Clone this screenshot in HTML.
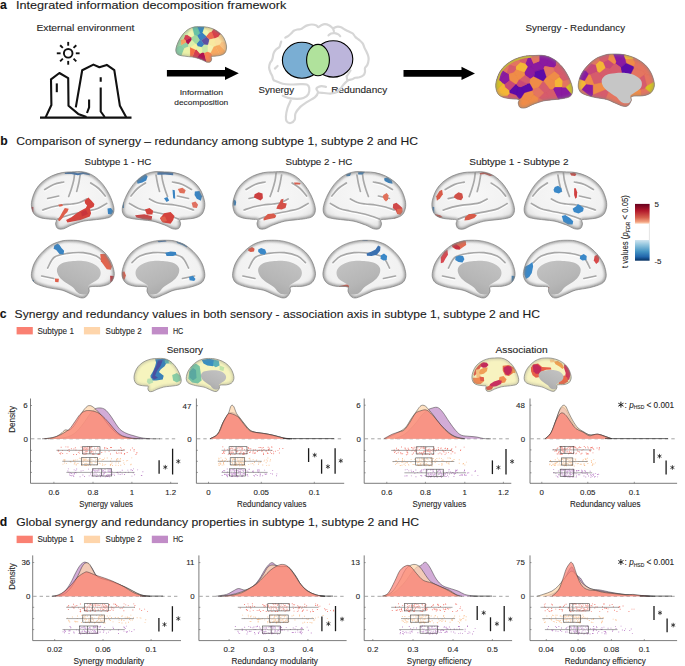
<!DOCTYPE html>
<html><head><meta charset="utf-8"><style>
html,body{margin:0;padding:0;background:#fff;}
svg{display:block;}
text{font-family:"Liberation Sans", sans-serif;stroke:#1e1e1e;stroke-width:0.1px;}
</style></head><body>
<svg width="685" height="666" viewBox="0 0 685 666">
<rect width="685" height="666" fill="#fff"/>
<text x="0" y="8.9" font-size="12.2" font-weight="bold" fill="#111">a</text>
<text x="16" y="8.9" font-size="11" textLength="270.3" lengthAdjust="spacingAndGlyphs" fill="#1a1a1a">Integrated information decomposition framework</text>
<text x="0.3" y="144.5" font-size="12.2" font-weight="bold" fill="#111">b</text>
<text x="16.3" y="144.8" font-size="11" textLength="401.7" lengthAdjust="spacingAndGlyphs" fill="#1a1a1a">Comparison of synergy – redundancy among subtype 1, subtype 2 and HC</text>
<text x="-0.3" y="318.1" font-size="12.2" font-weight="bold" fill="#111">c</text>
<text x="14.6" y="318" font-size="11" textLength="525.4" lengthAdjust="spacingAndGlyphs" fill="#1a1a1a">Synergy and redundancy values in both sensory - association axis in subtype 1, subtype 2 and HC</text>
<text x="-0.3" y="525.7" font-size="12.2" font-weight="bold" fill="#111">d</text>
<text x="16.3" y="525.7" font-size="11" textLength="402.7" lengthAdjust="spacingAndGlyphs" fill="#1a1a1a">Global synergy and redundancy properties in subtype 1, subtype 2 and HC</text>
<text x="36.4" y="31" font-size="9.2" textLength="97.9" lengthAdjust="spacingAndGlyphs" fill="#262626">External environment</text>
<text x="179.7" y="94.7" font-size="7.4" textLength="43.4" lengthAdjust="spacingAndGlyphs" fill="#262626">Information</text>
<text x="174.3" y="104.9" font-size="7.4" textLength="53.9" lengthAdjust="spacingAndGlyphs" fill="#262626">decomposition</text>
<text x="258.5" y="92.8" font-size="9.0" textLength="35.5" lengthAdjust="spacingAndGlyphs" fill="#262626">Synergy</text>
<text x="331.2" y="93" font-size="9.0" textLength="56" lengthAdjust="spacingAndGlyphs" fill="#262626">Redundancy</text>
<text x="525.5" y="30.8" font-size="9.5" textLength="99.6" lengthAdjust="spacingAndGlyphs" fill="#262626">Synergy - Redundancy</text>
<text x="84.6" y="165.1" font-size="9.6" textLength="66.7" lengthAdjust="spacingAndGlyphs" fill="#262626">Subtype 1 - HC</text>
<text x="285.4" y="165.1" font-size="9.6" textLength="66.9" lengthAdjust="spacingAndGlyphs" fill="#262626">Subtype 2 - HC</text>
<text x="469.2" y="165.1" font-size="9.6" textLength="99.3" lengthAdjust="spacingAndGlyphs" fill="#262626">Subtype 1 - Subtype 2</text>
<rect x="16.6" y="327" width="16.2" height="7.4" fill="#fa8072"/>
<text x="37.4" y="333.6" font-size="8.4" textLength="36.5" lengthAdjust="spacingAndGlyphs" fill="#262626">Subtype 1</text>
<rect x="83.9" y="327" width="16.2" height="7.4" fill="#fed5ab"/>
<text x="105.6" y="333.6" font-size="8.4" textLength="36" lengthAdjust="spacingAndGlyphs" fill="#262626">Subtype 2</text>
<rect x="151.8" y="327" width="16.2" height="7.4" fill="#c18cc7"/>
<text x="172.9" y="333.6" font-size="8.4" textLength="10.4" lengthAdjust="spacingAndGlyphs" fill="#262626">HC</text>
<rect x="16.6" y="535.7" width="16.2" height="7.4" fill="#fa8072"/>
<text x="37.4" y="542.3" font-size="8.4" textLength="36.5" lengthAdjust="spacingAndGlyphs" fill="#262626">Subtype 1</text>
<rect x="83.9" y="535.7" width="16.2" height="7.4" fill="#fed5ab"/>
<text x="105.6" y="542.3" font-size="8.4" textLength="36" lengthAdjust="spacingAndGlyphs" fill="#262626">Subtype 2</text>
<rect x="151.8" y="535.7" width="16.2" height="7.4" fill="#c18cc7"/>
<text x="172.9" y="542.3" font-size="8.4" textLength="10.4" lengthAdjust="spacingAndGlyphs" fill="#262626">HC</text>
<text x="166.8" y="352.5" font-size="9.0" textLength="36.1" lengthAdjust="spacingAndGlyphs" fill="#262626">Sensory</text>
<text x="495.5" y="352.5" font-size="9.0" textLength="52.2" lengthAdjust="spacingAndGlyphs" fill="#262626">Association</text>
<g stroke="#111" stroke-width="1.9" fill="none" stroke-linecap="butt">
<circle cx="68.2" cy="53.3" r="4.3"/>
<line x1="75.8" y1="53.3" x2="79.6" y2="53.3"/>
<line x1="73.57" y1="58.67" x2="76.26" y2="61.36"/>
<line x1="68.2" y1="60.9" x2="68.2" y2="64.7"/>
<line x1="62.83" y1="58.67" x2="60.14" y2="61.36"/>
<line x1="60.6" y1="53.3" x2="56.8" y2="53.3"/>
<line x1="62.83" y1="47.93" x2="60.14" y2="45.24"/>
<line x1="68.2" y1="45.7" x2="68.2" y2="41.9"/>
<line x1="73.57" y1="47.93" x2="76.26" y2="45.24"/>
</g>
<g stroke="#111" stroke-width="2.1" fill="none" stroke-linejoin="round" stroke-linecap="butt">
<line x1="40" y1="117.6" x2="131.5" y2="117.6"/>
<path d="M45.6,117.4 L51.4,105 L51,79.3 L59.4,73 L68.2,78.2 L68.5,105.8 L78.2,113.9 L86.5,116.9"/>
<path d="M56.8,83.4 L56.8,92.2"/>
<path d="M75.8,107.4 L82.2,70.2 L93.4,64.6 L99.4,67.3 L106.8,64.9 L114.3,70.2 L119.9,105.8 L126.2,117.3"/>
<path d="M100.7,77.3 L100.7,81.8 M100.7,87.4 L100.7,111.5 L104.7,117"/>
<path d="M89.1,99.4 L89.1,107.4 L87,113"/>
</g>
<path d="M166.9,70 L225.0,70 L225.0,66.7 L238.8,73.3 L225.0,79.9 L225.0,76.6 L166.9,76.6Z" fill="#000"/>
<path d="M403.5,70.1 L461.5,70.1 L461.5,66.8 L475.0,73.4 L461.5,80 L461.5,76.7 L403.5,76.7Z" fill="#000"/>
<g stroke="#d6d6d6" stroke-width="2.2" fill="none" stroke-linecap="round" stroke-linejoin="round">
<path d="M285.3,37.6 C285.82,37.3 287.43,36.48 288.4,35.8 C289.37,35.12 290.2,34.33 291.1,33.5 C292,32.67 292.75,31.47 293.8,30.8 C294.85,30.13 296.2,29.8 297.4,29.5 C298.6,29.2 299.95,29.38 301,29 C302.05,28.62 302.65,27.8 303.7,27.2 C304.75,26.6 305.95,25.85 307.3,25.4 C308.65,24.95 310.28,24.5 311.8,24.5 C313.32,24.5 315.33,24.95 316.4,25.4 C317.47,25.85 317.45,27.2 318.2,27.2 C318.95,27.2 319.78,25.92 320.9,25.4 C322.02,24.88 323.48,24.1 324.9,24.1 C326.32,24.1 328.05,24.73 329.4,25.4 C330.75,26.07 331.8,27.87 333,28.1 C334.2,28.33 335.25,26.95 336.6,26.8 C337.95,26.65 339.75,26.75 341.1,27.2 C342.45,27.65 343.5,28.82 344.7,29.5 C345.9,30.18 346.95,30.63 348.3,31.3 C349.65,31.97 351.6,32.53 352.8,33.5 C354,34.47 354.45,36.05 355.5,37.1 C356.55,38.15 357.9,38.75 359.1,39.8 C360.3,40.85 361.8,42.05 362.7,43.4 C363.6,44.75 363.88,46.55 364.5,47.9 C365.12,49.25 365.78,50.15 366.4,51.5 C367.02,52.85 367.83,54.65 368.2,56 C368.57,57.35 368.73,58.13 368.6,59.6 C368.47,61.07 368,63.4 367.4,64.8 C366.8,66.2 365.4,66.8 365,68 C364.6,69.2 365.27,70.78 365,72 C364.73,73.22 364.33,74.42 363.4,75.3 C362.47,76.18 360.75,76.9 359.4,77.3 C358.05,77.7 356.52,77.37 355.3,77.7 C354.08,78.03 353.17,78.9 352.1,79.3 C351.03,79.7 349.83,79.7 348.9,80.1 C347.97,80.5 347.43,80.9 346.5,81.7 C345.57,82.5 344.23,83.83 343.3,84.9 C342.37,85.97 341.95,86.92 340.9,88.1 C339.85,89.28 338.65,91.1 337,92 C335.35,92.9 333.17,93.33 331,93.5 C328.83,93.67 326.17,93.17 324,93 C321.83,92.83 319,92.58 318,92.5"/>
<path d="M281.2,41.6 C281.05,42.05 280.6,43.4 280.3,44.3 C280,45.2 280.15,46.1 279.4,47 C278.65,47.9 276.77,48.65 275.8,49.7 C274.83,50.75 274.12,51.95 273.6,53.3 C273.08,54.65 273,56.6 272.7,57.8 C272.4,59 272.25,59.6 271.8,60.5 C271.35,61.4 270.45,62 270,63.2 C269.55,64.4 269.03,66.18 269.1,67.7 C269.17,69.22 269.88,70.93 270.4,72.3 C270.92,73.67 271.67,74.62 272.2,75.9 C272.73,77.18 272.93,79.12 273.6,80 C274.27,80.88 274.68,80.58 276.2,81.2 C277.72,81.82 280.28,83.15 282.7,83.7 C285.12,84.25 287.77,84.43 290.7,84.5 C293.63,84.57 297.62,84.1 300.3,84.1 C302.98,84.1 305.32,83.9 306.8,84.5 C308.28,85.1 308.93,86.1 309.2,87.7 C309.47,89.3 309.35,92.37 308.4,94.1 C307.45,95.83 305.38,97.3 303.5,98.1 C301.62,98.9 299.5,98.9 297.1,98.9 C294.7,98.9 291.5,98.63 289.1,98.1 C286.7,97.57 283.77,96.1 282.7,95.7"/>
<path d="M290.7,100.5 C290.17,101.75 288.3,105.32 287.5,108 C286.7,110.68 286.03,114.37 285.9,116.6 C285.77,118.83 285.9,120.33 286.7,121.4 C287.5,122.47 289.37,123.27 290.7,123 C292.03,122.73 293.9,121.4 294.7,119.8 C295.5,118.2 294.57,115.55 295.5,113.4 C296.43,111.25 298.42,108.78 300.3,106.9 C302.18,105.02 304.38,103.7 306.8,102.1 C309.22,100.5 312.93,98.9 314.8,97.3 C316.67,95.7 317.73,93.97 318,92.5 C318.27,91.03 315.87,89.57 316.4,88.5 C316.93,87.43 319.6,86.37 321.2,86.1 C322.8,85.83 325.2,86.77 326,86.9"/>
<path d="M328.5,35.3 C328.95,35 330.15,33.87 331.2,33.5 C332.25,33.13 333.6,32.95 334.8,33.1 C336,33.25 337.5,33.88 338.4,34.4 C339.3,34.92 339.9,35.9 340.2,36.2"/>
<path d="M333,28.1 L333.9,31.3 M346.5,76.1 L347.3,80.1 M277.6,66 L274.9,68.6 M350.5,70.5 L347,76"/>
</g>
<g stroke="#000" stroke-width="1.1">
<ellipse cx="301.9" cy="60.3" rx="19.5" ry="18" fill="#7aaed3"/>
<ellipse cx="333.2" cy="58.9" rx="19.6" ry="18.2" fill="#bcb5db"/>
<ellipse cx="318" cy="60.1" rx="11.4" ry="15.7" fill="#b0e29c"/>
</g>
<defs>
<filter id="bl1" x="-10%" y="-10%" width="120%" height="120%"><feGaussianBlur stdDeviation="0.9"/></filter>
<filter id="bl05" x="-10%" y="-10%" width="120%" height="120%"><feGaussianBlur stdDeviation="0.5"/></filter>
<filter id="bl07" x="-10%" y="-10%" width="120%" height="120%"><feGaussianBlur stdDeviation="0.7"/></filter>
<linearGradient id="mwg" x1="0.8" y1="0" x2="0.2" y2="1"><stop offset="0" stop-color="#c2c2c2"/><stop offset="0.6" stop-color="#b6b6b6"/><stop offset="1" stop-color="#a6a6a6"/></linearGradient>
<linearGradient id="mwgm" x1="0.2" y1="0" x2="0.8" y2="1"><stop offset="0" stop-color="#c2c2c2"/><stop offset="0.6" stop-color="#b6b6b6"/><stop offset="1" stop-color="#a6a6a6"/></linearGradient>
<radialGradient id="bg" cx="50%" cy="40%" r="62%"><stop offset="0" stop-color="#f7f7f7"/><stop offset="0.75" stop-color="#f1f1f1"/><stop offset="1" stop-color="#dcdcdc"/></radialGradient>
<linearGradient id="cbar" x1="0" y1="0" x2="0" y2="1"><stop offset="0" stop-color="#67001f"/><stop offset="0.12" stop-color="#b2182b"/><stop offset="0.24" stop-color="#d6604d"/><stop offset="0.32" stop-color="#f4a582"/><stop offset="0.345" stop-color="#fddbc7"/><stop offset="0.346" stop-color="#ffffff"/><stop offset="0.63" stop-color="#ffffff"/><stop offset="0.635" stop-color="#d1e5f0"/><stop offset="0.72" stop-color="#92c5de"/><stop offset="0.84" stop-color="#4393c3"/><stop offset="0.93" stop-color="#2166ac"/><stop offset="1" stop-color="#053061"/></linearGradient>
</defs>
<clipPath id="cb1"><path d="M71.4,171.9 C74.9,171.78 79.48,171.23 83.2,171.9 C86.92,172.57 90.42,173.82 93.7,175.9 C96.98,177.98 100.27,181.23 102.9,184.4 C105.53,187.57 107.75,191.4 109.5,194.9 C111.25,198.4 112.7,202.55 113.4,205.4 C114.1,208.25 114.13,210.13 113.7,212 C113.27,213.87 112.38,215.5 110.8,216.6 C109.22,217.7 107.05,218.05 104.2,218.6 C101.35,219.15 97.2,219.47 93.7,219.9 C90.2,220.33 86.92,220.33 83.2,221.2 C79.48,222.07 74.68,223.83 71.4,225.1 C68.12,226.37 65.8,228.25 63.5,228.8 C61.2,229.35 58.92,229.23 57.6,228.4 C56.28,227.57 55.83,225.22 55.6,223.8 C55.37,222.38 57.08,220.67 56.2,219.9 C55.32,219.13 52.82,219.53 50.3,219.2 C47.78,218.87 43.72,218.67 41.1,217.9 C38.48,217.13 36.17,216.25 34.6,214.6 C33.03,212.95 32.15,210.4 31.7,208 C31.25,205.6 31.2,203.27 31.9,200.2 C32.6,197.13 34.13,192.67 35.9,189.6 C37.67,186.53 39.87,184.08 42.5,181.8 C45.13,179.52 48.42,177.43 51.7,175.9 C54.98,174.37 58.92,173.27 62.2,172.6 C65.48,171.93 67.9,172.02 71.4,171.9Z"/></clipPath>
<path d="M71.4,171.9 C74.9,171.78 79.48,171.23 83.2,171.9 C86.92,172.57 90.42,173.82 93.7,175.9 C96.98,177.98 100.27,181.23 102.9,184.4 C105.53,187.57 107.75,191.4 109.5,194.9 C111.25,198.4 112.7,202.55 113.4,205.4 C114.1,208.25 114.13,210.13 113.7,212 C113.27,213.87 112.38,215.5 110.8,216.6 C109.22,217.7 107.05,218.05 104.2,218.6 C101.35,219.15 97.2,219.47 93.7,219.9 C90.2,220.33 86.92,220.33 83.2,221.2 C79.48,222.07 74.68,223.83 71.4,225.1 C68.12,226.37 65.8,228.25 63.5,228.8 C61.2,229.35 58.92,229.23 57.6,228.4 C56.28,227.57 55.83,225.22 55.6,223.8 C55.37,222.38 57.08,220.67 56.2,219.9 C55.32,219.13 52.82,219.53 50.3,219.2 C47.78,218.87 43.72,218.67 41.1,217.9 C38.48,217.13 36.17,216.25 34.6,214.6 C33.03,212.95 32.15,210.4 31.7,208 C31.25,205.6 31.2,203.27 31.9,200.2 C32.6,197.13 34.13,192.67 35.9,189.6 C37.67,186.53 39.87,184.08 42.5,181.8 C45.13,179.52 48.42,177.43 51.7,175.9 C54.98,174.37 58.92,173.27 62.2,172.6 C65.48,171.93 67.9,172.02 71.4,171.9Z" fill="url(#bg)"/>
<g clip-path="url(#cb1)">
<g filter="url(#bl07)" stroke="#ffffff" stroke-width="1.6" stroke-opacity="0.9" fill="none" stroke-linecap="round">
<path d="M42.7,211.3 C44.2,210.8 48.53,209.13 51.7,208.3 C54.87,207.47 58.37,206.8 61.7,206.3 C65.03,205.8 68.7,205.72 71.7,205.3 C74.7,204.88 77.2,204.63 79.7,203.8 C82.2,202.97 85.53,200.88 86.7,200.3"/>
<path d="M57.7,220.3 C59.37,219.72 64.37,217.8 67.7,216.8 C71.03,215.8 74.37,215.05 77.7,214.3 C81.03,213.55 84.37,213.05 87.7,212.3 C91.03,211.55 94.53,211.05 97.7,209.8 C100.87,208.55 105.2,205.63 106.7,204.8"/>
<path d="M74.7,174.3 C74.53,175.55 74.28,179.05 73.7,181.8 C73.12,184.55 72.03,188.13 71.2,190.8 C70.37,193.47 69.12,196.63 68.7,197.8"/>
<path d="M80.2,176.3 C79.95,177.72 79.28,182.05 78.7,184.8 C78.12,187.55 77.03,191.47 76.7,192.8"/>
<path d="M44.7,190.8 C46.2,189.97 50.53,187.05 53.7,185.8 C56.87,184.55 62.03,183.72 63.7,183.3"/>
<path d="M47.7,199.8 C49.53,199.38 56.87,197.72 58.7,197.3"/>
<path d="M90.7,184.3 C92.03,185.22 96.28,187.63 98.7,189.8 C101.12,191.97 104.12,196.05 105.2,197.3"/>
</g>
<g filter="url(#bl07)" stroke="#8e8e8e" stroke-width="1.7" stroke-opacity="0.75" fill="none" stroke-linecap="round">
<path d="M42.7,210 C44.2,209.5 48.53,207.83 51.7,207 C54.87,206.17 58.37,205.5 61.7,205 C65.03,204.5 68.7,204.42 71.7,204 C74.7,203.58 77.2,203.33 79.7,202.5 C82.2,201.67 85.53,199.58 86.7,199"/>
<path d="M57.7,219 C59.37,218.42 64.37,216.5 67.7,215.5 C71.03,214.5 74.37,213.75 77.7,213 C81.03,212.25 84.37,211.75 87.7,211 C91.03,210.25 94.53,209.75 97.7,208.5 C100.87,207.25 105.2,204.33 106.7,203.5"/>
<path d="M74.7,173 C74.53,174.25 74.28,177.75 73.7,180.5 C73.12,183.25 72.03,186.83 71.2,189.5 C70.37,192.17 69.12,195.33 68.7,196.5"/>
<path d="M80.2,175 C79.95,176.42 79.28,180.75 78.7,183.5 C78.12,186.25 77.03,190.17 76.7,191.5"/>
<path d="M44.7,189.5 C46.2,188.67 50.53,185.75 53.7,184.5 C56.87,183.25 62.03,182.42 63.7,182"/>
<path d="M47.7,198.5 C49.53,198.08 56.87,196.42 58.7,196"/>
<path d="M90.7,183 C92.03,183.92 96.28,186.33 98.7,188.5 C101.12,190.67 104.12,194.75 105.2,196"/>
</g>
<path d="M84.5,200.8L88.4,197.5L91.1,200.2L94.4,204.1L93.7,206.7L89.8,208.7L91.1,213.3L89.8,216.6L80.6,219.9L74.0,221.2L67.4,222.5L66.1,219.9L71.4,217.2L76.6,213.3L80.6,210.7L85.8,208.0L87.1,205.4L85.2,203.4Z" fill="#d4433d"/>
<path d="M81.0,212.0L86.0,210.0L88.0,214.0L82.0,216.5Z" fill="#c8343c"/>
<path d="M58.2,204.8L62.2,204.1L62.8,206.1L59.5,206.7Z" fill="#df5f4b"/>
<path d="M64.8,208.0L68.7,208.7L67.4,212.0L64.8,214.6L62.2,218.6L59.5,221.2L57.6,219.9L60.2,215.9L62.4,212.0Z" fill="#df5f4b"/>
<path d="M107.5,208.5L111.0,208.0L113.5,211.3L111.5,214.5L108.0,214.0Z" fill="#3a84c2"/>
<path d="M64.8,172.6L71.4,171.3L77.9,173.2L83.2,171.9L89.8,173.2L89.8,175.2L83.2,174.1L77.9,175.2L71.4,173.9L64.8,174.1Z" fill="#3a72b0"/>
<path d="M30.6,206.7L33.3,207.0L33.3,213.3L30.6,213.0Z" fill="#c8343c"/>
<path d="M71.4,171.9 C74.9,171.78 79.48,171.23 83.2,171.9 C86.92,172.57 90.42,173.82 93.7,175.9 C96.98,177.98 100.27,181.23 102.9,184.4 C105.53,187.57 107.75,191.4 109.5,194.9 C111.25,198.4 112.7,202.55 113.4,205.4 C114.1,208.25 114.13,210.13 113.7,212 C113.27,213.87 112.38,215.5 110.8,216.6 C109.22,217.7 107.05,218.05 104.2,218.6 C101.35,219.15 97.2,219.47 93.7,219.9 C90.2,220.33 86.92,220.33 83.2,221.2 C79.48,222.07 74.68,223.83 71.4,225.1 C68.12,226.37 65.8,228.25 63.5,228.8 C61.2,229.35 58.92,229.23 57.6,228.4 C56.28,227.57 55.83,225.22 55.6,223.8 C55.37,222.38 57.08,220.67 56.2,219.9 C55.32,219.13 52.82,219.53 50.3,219.2 C47.78,218.87 43.72,218.67 41.1,217.9 C38.48,217.13 36.17,216.25 34.6,214.6 C33.03,212.95 32.15,210.4 31.7,208 C31.25,205.6 31.2,203.27 31.9,200.2 C32.6,197.13 34.13,192.67 35.9,189.6 C37.67,186.53 39.87,184.08 42.5,181.8 C45.13,179.52 48.42,177.43 51.7,175.9 C54.98,174.37 58.92,173.27 62.2,172.6 C65.48,171.93 67.9,172.02 71.4,171.9Z" fill="none" stroke="#808080" stroke-width="3.6" stroke-opacity="0.65" filter="url(#bl1)"/>
</g>
<path d="M71.4,171.9 C74.9,171.78 79.48,171.23 83.2,171.9 C86.92,172.57 90.42,173.82 93.7,175.9 C96.98,177.98 100.27,181.23 102.9,184.4 C105.53,187.57 107.75,191.4 109.5,194.9 C111.25,198.4 112.7,202.55 113.4,205.4 C114.1,208.25 114.13,210.13 113.7,212 C113.27,213.87 112.38,215.5 110.8,216.6 C109.22,217.7 107.05,218.05 104.2,218.6 C101.35,219.15 97.2,219.47 93.7,219.9 C90.2,220.33 86.92,220.33 83.2,221.2 C79.48,222.07 74.68,223.83 71.4,225.1 C68.12,226.37 65.8,228.25 63.5,228.8 C61.2,229.35 58.92,229.23 57.6,228.4 C56.28,227.57 55.83,225.22 55.6,223.8 C55.37,222.38 57.08,220.67 56.2,219.9 C55.32,219.13 52.82,219.53 50.3,219.2 C47.78,218.87 43.72,218.67 41.1,217.9 C38.48,217.13 36.17,216.25 34.6,214.6 C33.03,212.95 32.15,210.4 31.7,208 C31.25,205.6 31.2,203.27 31.9,200.2 C32.6,197.13 34.13,192.67 35.9,189.6 C37.67,186.53 39.87,184.08 42.5,181.8 C45.13,179.52 48.42,177.43 51.7,175.9 C54.98,174.37 58.92,173.27 62.2,172.6 C65.48,171.93 67.9,172.02 71.4,171.9Z" fill="none" stroke="#7c7c7c" stroke-width="0.7"/>
<clipPath id="cb2"><path d="M164.8,171.9 C161.3,171.78 156.72,171.23 153,171.9 C149.28,172.57 145.78,173.82 142.5,175.9 C139.22,177.98 135.93,181.23 133.3,184.4 C130.67,187.57 128.45,191.4 126.7,194.9 C124.95,198.4 123.5,202.55 122.8,205.4 C122.1,208.25 122.07,210.13 122.5,212 C122.93,213.87 123.82,215.5 125.4,216.6 C126.98,217.7 129.15,218.05 132,218.6 C134.85,219.15 139,219.47 142.5,219.9 C146,220.33 149.28,220.33 153,221.2 C156.72,222.07 161.52,223.83 164.8,225.1 C168.08,226.37 170.4,228.25 172.7,228.8 C175,229.35 177.28,229.23 178.6,228.4 C179.92,227.57 180.37,225.22 180.6,223.8 C180.83,222.38 179.12,220.67 180,219.9 C180.88,219.13 183.38,219.53 185.9,219.2 C188.42,218.87 192.48,218.67 195.1,217.9 C197.72,217.13 200.03,216.25 201.6,214.6 C203.17,212.95 204.05,210.4 204.5,208 C204.95,205.6 205,203.27 204.3,200.2 C203.6,197.13 202.07,192.67 200.3,189.6 C198.53,186.53 196.33,184.08 193.7,181.8 C191.07,179.52 187.78,177.43 184.5,175.9 C181.22,174.37 177.28,173.27 174,172.6 C170.72,171.93 168.3,172.02 164.8,171.9Z"/></clipPath>
<path d="M164.8,171.9 C161.3,171.78 156.72,171.23 153,171.9 C149.28,172.57 145.78,173.82 142.5,175.9 C139.22,177.98 135.93,181.23 133.3,184.4 C130.67,187.57 128.45,191.4 126.7,194.9 C124.95,198.4 123.5,202.55 122.8,205.4 C122.1,208.25 122.07,210.13 122.5,212 C122.93,213.87 123.82,215.5 125.4,216.6 C126.98,217.7 129.15,218.05 132,218.6 C134.85,219.15 139,219.47 142.5,219.9 C146,220.33 149.28,220.33 153,221.2 C156.72,222.07 161.52,223.83 164.8,225.1 C168.08,226.37 170.4,228.25 172.7,228.8 C175,229.35 177.28,229.23 178.6,228.4 C179.92,227.57 180.37,225.22 180.6,223.8 C180.83,222.38 179.12,220.67 180,219.9 C180.88,219.13 183.38,219.53 185.9,219.2 C188.42,218.87 192.48,218.67 195.1,217.9 C197.72,217.13 200.03,216.25 201.6,214.6 C203.17,212.95 204.05,210.4 204.5,208 C204.95,205.6 205,203.27 204.3,200.2 C203.6,197.13 202.07,192.67 200.3,189.6 C198.53,186.53 196.33,184.08 193.7,181.8 C191.07,179.52 187.78,177.43 184.5,175.9 C181.22,174.37 177.28,173.27 174,172.6 C170.72,171.93 168.3,172.02 164.8,171.9Z" fill="url(#bg)"/>
<g clip-path="url(#cb2)">
<g filter="url(#bl07)" stroke="#ffffff" stroke-width="1.6" stroke-opacity="0.9" fill="none" stroke-linecap="round">
<path d="M193.5,211.3 C192,210.8 187.67,209.13 184.5,208.3 C181.33,207.47 177.83,206.8 174.5,206.3 C171.17,205.8 167.5,205.72 164.5,205.3 C161.5,204.88 159,204.63 156.5,203.8 C154,202.97 150.67,200.88 149.5,200.3"/>
<path d="M178.5,220.3 C176.83,219.72 171.83,217.8 168.5,216.8 C165.17,215.8 161.83,215.05 158.5,214.3 C155.17,213.55 151.83,213.05 148.5,212.3 C145.17,211.55 141.67,211.05 138.5,209.8 C135.33,208.55 131,205.63 129.5,204.8"/>
<path d="M161.5,174.3 C161.67,175.55 161.92,179.05 162.5,181.8 C163.08,184.55 164.17,188.13 165,190.8 C165.83,193.47 167.08,196.63 167.5,197.8"/>
<path d="M156,176.3 C156.25,177.72 156.92,182.05 157.5,184.8 C158.08,187.55 159.17,191.47 159.5,192.8"/>
<path d="M191.5,190.8 C190,189.97 185.67,187.05 182.5,185.8 C179.33,184.55 174.17,183.72 172.5,183.3"/>
<path d="M188.5,199.8 C186.67,199.38 179.33,197.72 177.5,197.3"/>
<path d="M145.5,184.3 C144.17,185.22 139.92,187.63 137.5,189.8 C135.08,191.97 132.08,196.05 131,197.3"/>
</g>
<g filter="url(#bl07)" stroke="#8e8e8e" stroke-width="1.7" stroke-opacity="0.75" fill="none" stroke-linecap="round">
<path d="M193.5,210 C192,209.5 187.67,207.83 184.5,207 C181.33,206.17 177.83,205.5 174.5,205 C171.17,204.5 167.5,204.42 164.5,204 C161.5,203.58 159,203.33 156.5,202.5 C154,201.67 150.67,199.58 149.5,199"/>
<path d="M178.5,219 C176.83,218.42 171.83,216.5 168.5,215.5 C165.17,214.5 161.83,213.75 158.5,213 C155.17,212.25 151.83,211.75 148.5,211 C145.17,210.25 141.67,209.75 138.5,208.5 C135.33,207.25 131,204.33 129.5,203.5"/>
<path d="M161.5,173 C161.67,174.25 161.92,177.75 162.5,180.5 C163.08,183.25 164.17,186.83 165,189.5 C165.83,192.17 167.08,195.33 167.5,196.5"/>
<path d="M156,175 C156.25,176.42 156.92,180.75 157.5,183.5 C158.08,186.25 159.17,190.17 159.5,191.5"/>
<path d="M191.5,189.5 C190,188.67 185.67,185.75 182.5,184.5 C179.33,183.25 174.17,182.42 172.5,182"/>
<path d="M188.5,198.5 C186.67,198.08 179.33,196.42 177.5,196"/>
<path d="M145.5,183 C144.17,183.92 139.92,186.33 137.5,188.5 C135.08,190.67 132.08,194.75 131,196"/>
</g>
<path d="M136.4,180.5L140.3,176.5L145.6,173.9L147.6,176.5L146.2,180.5L142.3,182.4L137.7,183.7Z" fill="#3a84c2"/>
<path d="M157.4,172.3L165.0,171.3L173.2,172.6L173.2,175.2L165.0,174.4L157.4,174.8Z" fill="#3a72b0"/>
<path d="M177.8,189.0L182.4,187.7L185.7,190.3L184.4,193.6L179.8,192.9Z" fill="#e0705a"/>
<path d="M172.5,189.7L174.8,190.3L175.2,198.8L173.2,198.2Z" fill="#3a84c2"/>
<path d="M194.9,191.6L199.5,191.0L202.1,196.2L200.8,200.8L196.8,198.8L194.5,194.9Z" fill="#3a84c2"/>
<path d="M164.0,198.2L167.3,196.9L169.2,200.4L166.6,202.1Z" fill="#3a84c2"/>
<path d="M191.6,202.8L195.5,201.5L198.1,204.8L196.8,208.1L192.9,207.4Z" fill="#e07060"/>
<path d="M144.9,209.4L149.5,208.1L153.2,210.7L152.4,214.6L146.9,214.4Z" fill="#d4433d"/>
<path d="M135.1,215.3L144.3,214.3L152.2,216.2L151.5,220.2L144.3,219.5L136.4,217.6Z" fill="#c84848"/>
<path d="M164.0,213.3L170.6,212.0L174.5,215.9L173.2,219.9L170.6,223.8L162.7,222.5L160.0,218.6Z" fill="#d4433d"/>
<path d="M160.5,217.0L165.0,216.5L167.0,221.0L162.0,222.0Z" fill="#df5f4b"/>
<path d="M121.6,201.5L124.0,201.5L124.0,208.0L121.6,208.0Z" fill="#3a84c2"/>
<path d="M164.8,171.9 C161.3,171.78 156.72,171.23 153,171.9 C149.28,172.57 145.78,173.82 142.5,175.9 C139.22,177.98 135.93,181.23 133.3,184.4 C130.67,187.57 128.45,191.4 126.7,194.9 C124.95,198.4 123.5,202.55 122.8,205.4 C122.1,208.25 122.07,210.13 122.5,212 C122.93,213.87 123.82,215.5 125.4,216.6 C126.98,217.7 129.15,218.05 132,218.6 C134.85,219.15 139,219.47 142.5,219.9 C146,220.33 149.28,220.33 153,221.2 C156.72,222.07 161.52,223.83 164.8,225.1 C168.08,226.37 170.4,228.25 172.7,228.8 C175,229.35 177.28,229.23 178.6,228.4 C179.92,227.57 180.37,225.22 180.6,223.8 C180.83,222.38 179.12,220.67 180,219.9 C180.88,219.13 183.38,219.53 185.9,219.2 C188.42,218.87 192.48,218.67 195.1,217.9 C197.72,217.13 200.03,216.25 201.6,214.6 C203.17,212.95 204.05,210.4 204.5,208 C204.95,205.6 205,203.27 204.3,200.2 C203.6,197.13 202.07,192.67 200.3,189.6 C198.53,186.53 196.33,184.08 193.7,181.8 C191.07,179.52 187.78,177.43 184.5,175.9 C181.22,174.37 177.28,173.27 174,172.6 C170.72,171.93 168.3,172.02 164.8,171.9Z" fill="none" stroke="#808080" stroke-width="3.6" stroke-opacity="0.65" filter="url(#bl1)"/>
</g>
<path d="M164.8,171.9 C161.3,171.78 156.72,171.23 153,171.9 C149.28,172.57 145.78,173.82 142.5,175.9 C139.22,177.98 135.93,181.23 133.3,184.4 C130.67,187.57 128.45,191.4 126.7,194.9 C124.95,198.4 123.5,202.55 122.8,205.4 C122.1,208.25 122.07,210.13 122.5,212 C122.93,213.87 123.82,215.5 125.4,216.6 C126.98,217.7 129.15,218.05 132,218.6 C134.85,219.15 139,219.47 142.5,219.9 C146,220.33 149.28,220.33 153,221.2 C156.72,222.07 161.52,223.83 164.8,225.1 C168.08,226.37 170.4,228.25 172.7,228.8 C175,229.35 177.28,229.23 178.6,228.4 C179.92,227.57 180.37,225.22 180.6,223.8 C180.83,222.38 179.12,220.67 180,219.9 C180.88,219.13 183.38,219.53 185.9,219.2 C188.42,218.87 192.48,218.67 195.1,217.9 C197.72,217.13 200.03,216.25 201.6,214.6 C203.17,212.95 204.05,210.4 204.5,208 C204.95,205.6 205,203.27 204.3,200.2 C203.6,197.13 202.07,192.67 200.3,189.6 C198.53,186.53 196.33,184.08 193.7,181.8 C191.07,179.52 187.78,177.43 184.5,175.9 C181.22,174.37 177.28,173.27 174,172.6 C170.72,171.93 168.3,172.02 164.8,171.9Z" fill="none" stroke="#7c7c7c" stroke-width="0.7"/>
<clipPath id="cb3"><path d="M67.4,240.3 C70.92,240.18 76.22,240.13 80.6,240.9 C84.98,241.67 89.77,243.03 93.7,244.9 C97.63,246.77 101.35,249.37 104.2,252.1 C107.05,254.83 109.15,258.02 110.8,261.3 C112.45,264.58 113.67,268.95 114.1,271.8 C114.53,274.65 114.17,276.43 113.4,278.4 C112.63,280.37 111.47,282.3 109.5,283.6 C107.53,284.9 104.88,285.65 101.6,286.2 C98.32,286.75 91.88,286.02 89.8,286.9 C87.72,287.78 89.77,289.85 89.1,291.5 C88.43,293.15 87.22,295.75 85.8,296.8 C84.38,297.85 83,298.25 80.6,297.8 C78.2,297.35 74.47,295.37 71.4,294.1 C68.33,292.83 66.15,291.28 62.2,290.2 C58.25,289.12 52.08,288.7 47.7,287.6 C43.32,286.5 38.53,285.13 35.9,283.6 C33.27,282.07 32.6,280.37 31.9,278.4 C31.2,276.43 31.25,274.43 31.7,271.8 C32.15,269.17 33.03,265.67 34.6,262.6 C36.17,259.53 38.48,256.25 41.1,253.4 C43.72,250.55 47.23,247.47 50.3,245.5 C53.37,243.53 56.65,242.47 59.5,241.6 C62.35,240.73 63.88,240.42 67.4,240.3Z"/></clipPath>
<path d="M67.4,240.3 C70.92,240.18 76.22,240.13 80.6,240.9 C84.98,241.67 89.77,243.03 93.7,244.9 C97.63,246.77 101.35,249.37 104.2,252.1 C107.05,254.83 109.15,258.02 110.8,261.3 C112.45,264.58 113.67,268.95 114.1,271.8 C114.53,274.65 114.17,276.43 113.4,278.4 C112.63,280.37 111.47,282.3 109.5,283.6 C107.53,284.9 104.88,285.65 101.6,286.2 C98.32,286.75 91.88,286.02 89.8,286.9 C87.72,287.78 89.77,289.85 89.1,291.5 C88.43,293.15 87.22,295.75 85.8,296.8 C84.38,297.85 83,298.25 80.6,297.8 C78.2,297.35 74.47,295.37 71.4,294.1 C68.33,292.83 66.15,291.28 62.2,290.2 C58.25,289.12 52.08,288.7 47.7,287.6 C43.32,286.5 38.53,285.13 35.9,283.6 C33.27,282.07 32.6,280.37 31.9,278.4 C31.2,276.43 31.25,274.43 31.7,271.8 C32.15,269.17 33.03,265.67 34.6,262.6 C36.17,259.53 38.48,256.25 41.1,253.4 C43.72,250.55 47.23,247.47 50.3,245.5 C53.37,243.53 56.65,242.47 59.5,241.6 C62.35,240.73 63.88,240.42 67.4,240.3Z" fill="url(#bg)"/>
<g clip-path="url(#cb3)">
<g filter="url(#bl07)" stroke="#ffffff" stroke-width="1.6" stroke-opacity="0.9" fill="none" stroke-linecap="round">
<path d="M47.7,269.3 C48.8,267.52 51.02,261.03 54.3,258.6 C57.58,256.17 62.58,255.47 67.4,254.7 C72.22,253.93 78.38,253.57 83.2,254 C88.02,254.43 92.8,255.65 96.3,257.3 C99.8,258.95 102.88,262.8 104.2,263.9"/>
<path d="M41.7,277.3 C43.7,277.72 51.7,279.38 53.7,279.8"/>
</g>
<g filter="url(#bl07)" stroke="#8e8e8e" stroke-width="1.7" stroke-opacity="0.75" fill="none" stroke-linecap="round">
<path d="M47.7,268 C48.8,266.22 51.02,259.73 54.3,257.3 C57.58,254.87 62.58,254.17 67.4,253.4 C72.22,252.63 78.38,252.27 83.2,252.7 C88.02,253.13 92.8,254.35 96.3,256 C99.8,257.65 102.88,261.5 104.2,262.6"/>
<path d="M41.7,276 C43.7,276.42 51.7,278.08 53.7,278.5"/>
</g>
<path d="M54.3,245.5L57.6,243.5L59.5,244.9L61.5,248.1L64.1,250.8L63.5,254.4L59.5,254.1L56.2,250.1L53.6,248.8Z" fill="#3a84c2"/>
<path d="M100.3,254.1L105.5,254.1L110.1,261.3L112.1,266.5L110.8,269.8L106.8,269.2L100.9,261.3Z" fill="#e0644e"/>
<path d="M110.1,275.7L114.0,276.0L113.4,283.6L110.5,283.0Z" fill="#c8343c"/>
<path d="M54.9,278.4L58.9,278.8L58.5,282.3L55.2,282.0Z" fill="#df5f4b"/>
<path d="M31.7,279.7L34.0,280.0L33.9,282.3L31.9,282.3Z" fill="#3a84c2"/>
<path d="M67.4,240.3 C70.92,240.18 76.22,240.13 80.6,240.9 C84.98,241.67 89.77,243.03 93.7,244.9 C97.63,246.77 101.35,249.37 104.2,252.1 C107.05,254.83 109.15,258.02 110.8,261.3 C112.45,264.58 113.67,268.95 114.1,271.8 C114.53,274.65 114.17,276.43 113.4,278.4 C112.63,280.37 111.47,282.3 109.5,283.6 C107.53,284.9 104.88,285.65 101.6,286.2 C98.32,286.75 91.88,286.02 89.8,286.9 C87.72,287.78 89.77,289.85 89.1,291.5 C88.43,293.15 87.22,295.75 85.8,296.8 C84.38,297.85 83,298.25 80.6,297.8 C78.2,297.35 74.47,295.37 71.4,294.1 C68.33,292.83 66.15,291.28 62.2,290.2 C58.25,289.12 52.08,288.7 47.7,287.6 C43.32,286.5 38.53,285.13 35.9,283.6 C33.27,282.07 32.6,280.37 31.9,278.4 C31.2,276.43 31.25,274.43 31.7,271.8 C32.15,269.17 33.03,265.67 34.6,262.6 C36.17,259.53 38.48,256.25 41.1,253.4 C43.72,250.55 47.23,247.47 50.3,245.5 C53.37,243.53 56.65,242.47 59.5,241.6 C62.35,240.73 63.88,240.42 67.4,240.3Z" fill="none" stroke="#808080" stroke-width="3.6" stroke-opacity="0.65" filter="url(#bl1)"/>
<path d="M57.4,267.8 C58.17,266.15 59.7,264.28 62,263.2 C64.3,262.12 67.7,261.67 71.2,261.3 C74.7,260.93 79.5,260.68 83,261 C86.5,261.32 89.58,262.07 92.2,263.2 C94.82,264.33 97.28,266.15 98.7,267.8 C100.12,269.45 100.7,271.33 100.7,273.1 C100.7,274.87 100.12,276.75 98.7,278.4 C97.28,280.05 93.95,281.7 92.2,283 C90.45,284.3 88.75,284.78 88.2,286.2 C87.65,287.62 89.22,290.18 88.9,291.5 C88.58,292.82 87.72,293.67 86.3,294.1 C84.88,294.53 82.05,294.53 80.4,294.1 C78.75,293.67 77.62,292.58 76.4,291.5 C75.18,290.42 74.63,288.92 73.1,287.6 C71.57,286.28 69.28,285.13 67.2,283.6 C65.12,282.07 62.23,280.15 60.6,278.4 C58.97,276.65 57.93,274.87 57.4,273.1 C56.87,271.33 56.63,269.45 57.4,267.8Z" fill="url(#mwg)"/>
</g>
<path d="M67.4,240.3 C70.92,240.18 76.22,240.13 80.6,240.9 C84.98,241.67 89.77,243.03 93.7,244.9 C97.63,246.77 101.35,249.37 104.2,252.1 C107.05,254.83 109.15,258.02 110.8,261.3 C112.45,264.58 113.67,268.95 114.1,271.8 C114.53,274.65 114.17,276.43 113.4,278.4 C112.63,280.37 111.47,282.3 109.5,283.6 C107.53,284.9 104.88,285.65 101.6,286.2 C98.32,286.75 91.88,286.02 89.8,286.9 C87.72,287.78 89.77,289.85 89.1,291.5 C88.43,293.15 87.22,295.75 85.8,296.8 C84.38,297.85 83,298.25 80.6,297.8 C78.2,297.35 74.47,295.37 71.4,294.1 C68.33,292.83 66.15,291.28 62.2,290.2 C58.25,289.12 52.08,288.7 47.7,287.6 C43.32,286.5 38.53,285.13 35.9,283.6 C33.27,282.07 32.6,280.37 31.9,278.4 C31.2,276.43 31.25,274.43 31.7,271.8 C32.15,269.17 33.03,265.67 34.6,262.6 C36.17,259.53 38.48,256.25 41.1,253.4 C43.72,250.55 47.23,247.47 50.3,245.5 C53.37,243.53 56.65,242.47 59.5,241.6 C62.35,240.73 63.88,240.42 67.4,240.3Z" fill="none" stroke="#7c7c7c" stroke-width="0.7"/>
<clipPath id="cb4"><path d="M168.8,240.3 C165.28,240.18 159.98,240.13 155.6,240.9 C151.22,241.67 146.43,243.03 142.5,244.9 C138.57,246.77 134.85,249.37 132,252.1 C129.15,254.83 127.05,258.02 125.4,261.3 C123.75,264.58 122.53,268.95 122.1,271.8 C121.67,274.65 122.03,276.43 122.8,278.4 C123.57,280.37 124.73,282.3 126.7,283.6 C128.67,284.9 131.32,285.65 134.6,286.2 C137.88,286.75 144.32,286.02 146.4,286.9 C148.48,287.78 146.43,289.85 147.1,291.5 C147.77,293.15 148.98,295.75 150.4,296.8 C151.82,297.85 153.2,298.25 155.6,297.8 C158,297.35 161.73,295.37 164.8,294.1 C167.87,292.83 170.05,291.28 174,290.2 C177.95,289.12 184.12,288.7 188.5,287.6 C192.88,286.5 197.67,285.13 200.3,283.6 C202.93,282.07 203.6,280.37 204.3,278.4 C205,276.43 204.95,274.43 204.5,271.8 C204.05,269.17 203.17,265.67 201.6,262.6 C200.03,259.53 197.72,256.25 195.1,253.4 C192.48,250.55 188.97,247.47 185.9,245.5 C182.83,243.53 179.55,242.47 176.7,241.6 C173.85,240.73 172.32,240.42 168.8,240.3Z"/></clipPath>
<path d="M168.8,240.3 C165.28,240.18 159.98,240.13 155.6,240.9 C151.22,241.67 146.43,243.03 142.5,244.9 C138.57,246.77 134.85,249.37 132,252.1 C129.15,254.83 127.05,258.02 125.4,261.3 C123.75,264.58 122.53,268.95 122.1,271.8 C121.67,274.65 122.03,276.43 122.8,278.4 C123.57,280.37 124.73,282.3 126.7,283.6 C128.67,284.9 131.32,285.65 134.6,286.2 C137.88,286.75 144.32,286.02 146.4,286.9 C148.48,287.78 146.43,289.85 147.1,291.5 C147.77,293.15 148.98,295.75 150.4,296.8 C151.82,297.85 153.2,298.25 155.6,297.8 C158,297.35 161.73,295.37 164.8,294.1 C167.87,292.83 170.05,291.28 174,290.2 C177.95,289.12 184.12,288.7 188.5,287.6 C192.88,286.5 197.67,285.13 200.3,283.6 C202.93,282.07 203.6,280.37 204.3,278.4 C205,276.43 204.95,274.43 204.5,271.8 C204.05,269.17 203.17,265.67 201.6,262.6 C200.03,259.53 197.72,256.25 195.1,253.4 C192.48,250.55 188.97,247.47 185.9,245.5 C182.83,243.53 179.55,242.47 176.7,241.6 C173.85,240.73 172.32,240.42 168.8,240.3Z" fill="url(#bg)"/>
<g clip-path="url(#cb4)">
<g filter="url(#bl07)" stroke="#ffffff" stroke-width="1.6" stroke-opacity="0.9" fill="none" stroke-linecap="round">
<path d="M188.5,269.3 C187.4,267.52 185.18,261.03 181.9,258.6 C178.62,256.17 173.62,255.47 168.8,254.7 C163.98,253.93 157.82,253.57 153,254 C148.18,254.43 143.4,255.65 139.9,257.3 C136.4,258.95 133.32,262.8 132,263.9"/>
<path d="M194.5,277.3 C192.5,277.72 184.5,279.38 182.5,279.8"/>
</g>
<g filter="url(#bl07)" stroke="#8e8e8e" stroke-width="1.7" stroke-opacity="0.75" fill="none" stroke-linecap="round">
<path d="M188.5,268 C187.4,266.22 185.18,259.73 181.9,257.3 C178.62,254.87 173.62,254.17 168.8,253.4 C163.98,252.63 157.82,252.27 153,252.7 C148.18,253.13 143.4,254.35 139.9,256 C136.4,257.65 133.32,261.5 132,262.6"/>
<path d="M194.5,276 C192.5,276.42 184.5,278.08 182.5,278.5"/>
</g>
<path d="M165.3,252.7L170.6,251.4L175.8,252.1L176.5,254.7L173.2,256.0L166.6,256.0Z" fill="#3a84c2"/>
<path d="M175.8,240.3L182.4,242.2L187.6,245.5L187.0,247.5L182.4,244.9L177.1,242.9Z" fill="#3a84c2"/>
<path d="M157.4,240.9L165.3,240.0L166.6,241.6L158.7,242.2Z" fill="#3a72b0"/>
<path d="M121.9,271.8L124.5,271.5L125.9,275.5L124.5,279.7L122.0,279.0Z" fill="#df5f4b"/>
<path d="M189.0,277.0L192.9,275.7L195.5,279.0L194.2,281.0L189.6,280.3Z" fill="#3a88c8"/>
<path d="M168.8,240.3 C165.28,240.18 159.98,240.13 155.6,240.9 C151.22,241.67 146.43,243.03 142.5,244.9 C138.57,246.77 134.85,249.37 132,252.1 C129.15,254.83 127.05,258.02 125.4,261.3 C123.75,264.58 122.53,268.95 122.1,271.8 C121.67,274.65 122.03,276.43 122.8,278.4 C123.57,280.37 124.73,282.3 126.7,283.6 C128.67,284.9 131.32,285.65 134.6,286.2 C137.88,286.75 144.32,286.02 146.4,286.9 C148.48,287.78 146.43,289.85 147.1,291.5 C147.77,293.15 148.98,295.75 150.4,296.8 C151.82,297.85 153.2,298.25 155.6,297.8 C158,297.35 161.73,295.37 164.8,294.1 C167.87,292.83 170.05,291.28 174,290.2 C177.95,289.12 184.12,288.7 188.5,287.6 C192.88,286.5 197.67,285.13 200.3,283.6 C202.93,282.07 203.6,280.37 204.3,278.4 C205,276.43 204.95,274.43 204.5,271.8 C204.05,269.17 203.17,265.67 201.6,262.6 C200.03,259.53 197.72,256.25 195.1,253.4 C192.48,250.55 188.97,247.47 185.9,245.5 C182.83,243.53 179.55,242.47 176.7,241.6 C173.85,240.73 172.32,240.42 168.8,240.3Z" fill="none" stroke="#808080" stroke-width="3.6" stroke-opacity="0.65" filter="url(#bl1)"/>
<path d="M178.8,267.8 C178.03,266.15 176.5,264.28 174.2,263.2 C171.9,262.12 168.5,261.67 165,261.3 C161.5,260.93 156.7,260.68 153.2,261 C149.7,261.32 146.62,262.07 144,263.2 C141.38,264.33 138.92,266.15 137.5,267.8 C136.08,269.45 135.5,271.33 135.5,273.1 C135.5,274.87 136.08,276.75 137.5,278.4 C138.92,280.05 142.25,281.7 144,283 C145.75,284.3 147.45,284.78 148,286.2 C148.55,287.62 146.98,290.18 147.3,291.5 C147.62,292.82 148.48,293.67 149.9,294.1 C151.32,294.53 154.15,294.53 155.8,294.1 C157.45,293.67 158.58,292.58 159.8,291.5 C161.02,290.42 161.57,288.92 163.1,287.6 C164.63,286.28 166.92,285.13 169,283.6 C171.08,282.07 173.97,280.15 175.6,278.4 C177.23,276.65 178.27,274.87 178.8,273.1 C179.33,271.33 179.57,269.45 178.8,267.8Z" fill="url(#mwgm)"/>
</g>
<path d="M168.8,240.3 C165.28,240.18 159.98,240.13 155.6,240.9 C151.22,241.67 146.43,243.03 142.5,244.9 C138.57,246.77 134.85,249.37 132,252.1 C129.15,254.83 127.05,258.02 125.4,261.3 C123.75,264.58 122.53,268.95 122.1,271.8 C121.67,274.65 122.03,276.43 122.8,278.4 C123.57,280.37 124.73,282.3 126.7,283.6 C128.67,284.9 131.32,285.65 134.6,286.2 C137.88,286.75 144.32,286.02 146.4,286.9 C148.48,287.78 146.43,289.85 147.1,291.5 C147.77,293.15 148.98,295.75 150.4,296.8 C151.82,297.85 153.2,298.25 155.6,297.8 C158,297.35 161.73,295.37 164.8,294.1 C167.87,292.83 170.05,291.28 174,290.2 C177.95,289.12 184.12,288.7 188.5,287.6 C192.88,286.5 197.67,285.13 200.3,283.6 C202.93,282.07 203.6,280.37 204.3,278.4 C205,276.43 204.95,274.43 204.5,271.8 C204.05,269.17 203.17,265.67 201.6,262.6 C200.03,259.53 197.72,256.25 195.1,253.4 C192.48,250.55 188.97,247.47 185.9,245.5 C182.83,243.53 179.55,242.47 176.7,241.6 C173.85,240.73 172.32,240.42 168.8,240.3Z" fill="none" stroke="#7c7c7c" stroke-width="0.7"/>
<clipPath id="cb5"><path d="M272.8,171.9 C276.3,171.78 280.88,171.23 284.6,171.9 C288.32,172.57 291.82,173.82 295.1,175.9 C298.38,177.98 301.67,181.23 304.3,184.4 C306.93,187.57 309.15,191.4 310.9,194.9 C312.65,198.4 314.1,202.55 314.8,205.4 C315.5,208.25 315.53,210.13 315.1,212 C314.67,213.87 313.78,215.5 312.2,216.6 C310.62,217.7 308.45,218.05 305.6,218.6 C302.75,219.15 298.6,219.47 295.1,219.9 C291.6,220.33 288.32,220.33 284.6,221.2 C280.88,222.07 276.08,223.83 272.8,225.1 C269.52,226.37 267.2,228.25 264.9,228.8 C262.6,229.35 260.32,229.23 259,228.4 C257.68,227.57 257.23,225.22 257,223.8 C256.77,222.38 258.48,220.67 257.6,219.9 C256.72,219.13 254.22,219.53 251.7,219.2 C249.18,218.87 245.12,218.67 242.5,217.9 C239.88,217.13 237.57,216.25 236,214.6 C234.43,212.95 233.55,210.4 233.1,208 C232.65,205.6 232.6,203.27 233.3,200.2 C234,197.13 235.53,192.67 237.3,189.6 C239.07,186.53 241.27,184.08 243.9,181.8 C246.53,179.52 249.82,177.43 253.1,175.9 C256.38,174.37 260.32,173.27 263.6,172.6 C266.88,171.93 269.3,172.02 272.8,171.9Z"/></clipPath>
<path d="M272.8,171.9 C276.3,171.78 280.88,171.23 284.6,171.9 C288.32,172.57 291.82,173.82 295.1,175.9 C298.38,177.98 301.67,181.23 304.3,184.4 C306.93,187.57 309.15,191.4 310.9,194.9 C312.65,198.4 314.1,202.55 314.8,205.4 C315.5,208.25 315.53,210.13 315.1,212 C314.67,213.87 313.78,215.5 312.2,216.6 C310.62,217.7 308.45,218.05 305.6,218.6 C302.75,219.15 298.6,219.47 295.1,219.9 C291.6,220.33 288.32,220.33 284.6,221.2 C280.88,222.07 276.08,223.83 272.8,225.1 C269.52,226.37 267.2,228.25 264.9,228.8 C262.6,229.35 260.32,229.23 259,228.4 C257.68,227.57 257.23,225.22 257,223.8 C256.77,222.38 258.48,220.67 257.6,219.9 C256.72,219.13 254.22,219.53 251.7,219.2 C249.18,218.87 245.12,218.67 242.5,217.9 C239.88,217.13 237.57,216.25 236,214.6 C234.43,212.95 233.55,210.4 233.1,208 C232.65,205.6 232.6,203.27 233.3,200.2 C234,197.13 235.53,192.67 237.3,189.6 C239.07,186.53 241.27,184.08 243.9,181.8 C246.53,179.52 249.82,177.43 253.1,175.9 C256.38,174.37 260.32,173.27 263.6,172.6 C266.88,171.93 269.3,172.02 272.8,171.9Z" fill="url(#bg)"/>
<g clip-path="url(#cb5)">
<g filter="url(#bl07)" stroke="#ffffff" stroke-width="1.6" stroke-opacity="0.9" fill="none" stroke-linecap="round">
<path d="M244.1,211.3 C245.6,210.8 249.93,209.13 253.1,208.3 C256.27,207.47 259.77,206.8 263.1,206.3 C266.43,205.8 270.1,205.72 273.1,205.3 C276.1,204.88 278.6,204.63 281.1,203.8 C283.6,202.97 286.93,200.88 288.1,200.3"/>
<path d="M259.1,220.3 C260.77,219.72 265.77,217.8 269.1,216.8 C272.43,215.8 275.77,215.05 279.1,214.3 C282.43,213.55 285.77,213.05 289.1,212.3 C292.43,211.55 295.93,211.05 299.1,209.8 C302.27,208.55 306.6,205.63 308.1,204.8"/>
<path d="M276.1,174.3 C275.93,175.55 275.68,179.05 275.1,181.8 C274.52,184.55 273.43,188.13 272.6,190.8 C271.77,193.47 270.52,196.63 270.1,197.8"/>
<path d="M281.6,176.3 C281.35,177.72 280.68,182.05 280.1,184.8 C279.52,187.55 278.43,191.47 278.1,192.8"/>
<path d="M246.1,190.8 C247.6,189.97 251.93,187.05 255.1,185.8 C258.27,184.55 263.43,183.72 265.1,183.3"/>
<path d="M249.1,199.8 C250.93,199.38 258.27,197.72 260.1,197.3"/>
<path d="M292.1,184.3 C293.43,185.22 297.68,187.63 300.1,189.8 C302.52,191.97 305.52,196.05 306.6,197.3"/>
</g>
<g filter="url(#bl07)" stroke="#8e8e8e" stroke-width="1.7" stroke-opacity="0.75" fill="none" stroke-linecap="round">
<path d="M244.1,210 C245.6,209.5 249.93,207.83 253.1,207 C256.27,206.17 259.77,205.5 263.1,205 C266.43,204.5 270.1,204.42 273.1,204 C276.1,203.58 278.6,203.33 281.1,202.5 C283.6,201.67 286.93,199.58 288.1,199"/>
<path d="M259.1,219 C260.77,218.42 265.77,216.5 269.1,215.5 C272.43,214.5 275.77,213.75 279.1,213 C282.43,212.25 285.77,211.75 289.1,211 C292.43,210.25 295.93,209.75 299.1,208.5 C302.27,207.25 306.6,204.33 308.1,203.5"/>
<path d="M276.1,173 C275.93,174.25 275.68,177.75 275.1,180.5 C274.52,183.25 273.43,186.83 272.6,189.5 C271.77,192.17 270.52,195.33 270.1,196.5"/>
<path d="M281.6,175 C281.35,176.42 280.68,180.75 280.1,183.5 C279.52,186.25 278.43,190.17 278.1,191.5"/>
<path d="M246.1,189.5 C247.6,188.67 251.93,185.75 255.1,184.5 C258.27,183.25 263.43,182.42 265.1,182"/>
<path d="M249.1,198.5 C250.93,198.08 258.27,196.42 260.1,196"/>
<path d="M292.1,183 C293.43,183.92 297.68,186.33 300.1,188.5 C302.52,190.67 305.52,194.75 306.6,196"/>
</g>
<path d="M254.6,194.3L258.6,192.3L262.5,193.6L262.9,198.2L260.5,200.4L256.6,198.8L254.0,197.5Z" fill="#cc4040"/>
<path d="M280.9,199.5L283.5,198.8L282.9,202.8L286.8,203.4L285.5,208.0L281.6,209.4L276.3,208.7L277.6,205.4L279.6,202.8Z" fill="#d45048"/>
<path d="M267.8,214.0L273.7,213.6L276.3,215.7L275.0,217.9L268.4,219.2L263.8,220.5L263.4,218.6L265.8,215.9Z" fill="#d85a4a"/>
<path d="M294.0,182.4L297.3,182.4L300.6,183.1L300.0,184.4L294.7,184.4Z" fill="#d86050"/>
<path d="M232.9,200.8L234.9,199.5L236.2,202.1L235.6,205.4L233.6,205.4Z" fill="#3a7fb8"/>
<path d="M272.8,171.9 C276.3,171.78 280.88,171.23 284.6,171.9 C288.32,172.57 291.82,173.82 295.1,175.9 C298.38,177.98 301.67,181.23 304.3,184.4 C306.93,187.57 309.15,191.4 310.9,194.9 C312.65,198.4 314.1,202.55 314.8,205.4 C315.5,208.25 315.53,210.13 315.1,212 C314.67,213.87 313.78,215.5 312.2,216.6 C310.62,217.7 308.45,218.05 305.6,218.6 C302.75,219.15 298.6,219.47 295.1,219.9 C291.6,220.33 288.32,220.33 284.6,221.2 C280.88,222.07 276.08,223.83 272.8,225.1 C269.52,226.37 267.2,228.25 264.9,228.8 C262.6,229.35 260.32,229.23 259,228.4 C257.68,227.57 257.23,225.22 257,223.8 C256.77,222.38 258.48,220.67 257.6,219.9 C256.72,219.13 254.22,219.53 251.7,219.2 C249.18,218.87 245.12,218.67 242.5,217.9 C239.88,217.13 237.57,216.25 236,214.6 C234.43,212.95 233.55,210.4 233.1,208 C232.65,205.6 232.6,203.27 233.3,200.2 C234,197.13 235.53,192.67 237.3,189.6 C239.07,186.53 241.27,184.08 243.9,181.8 C246.53,179.52 249.82,177.43 253.1,175.9 C256.38,174.37 260.32,173.27 263.6,172.6 C266.88,171.93 269.3,172.02 272.8,171.9Z" fill="none" stroke="#808080" stroke-width="3.6" stroke-opacity="0.65" filter="url(#bl1)"/>
</g>
<path d="M272.8,171.9 C276.3,171.78 280.88,171.23 284.6,171.9 C288.32,172.57 291.82,173.82 295.1,175.9 C298.38,177.98 301.67,181.23 304.3,184.4 C306.93,187.57 309.15,191.4 310.9,194.9 C312.65,198.4 314.1,202.55 314.8,205.4 C315.5,208.25 315.53,210.13 315.1,212 C314.67,213.87 313.78,215.5 312.2,216.6 C310.62,217.7 308.45,218.05 305.6,218.6 C302.75,219.15 298.6,219.47 295.1,219.9 C291.6,220.33 288.32,220.33 284.6,221.2 C280.88,222.07 276.08,223.83 272.8,225.1 C269.52,226.37 267.2,228.25 264.9,228.8 C262.6,229.35 260.32,229.23 259,228.4 C257.68,227.57 257.23,225.22 257,223.8 C256.77,222.38 258.48,220.67 257.6,219.9 C256.72,219.13 254.22,219.53 251.7,219.2 C249.18,218.87 245.12,218.67 242.5,217.9 C239.88,217.13 237.57,216.25 236,214.6 C234.43,212.95 233.55,210.4 233.1,208 C232.65,205.6 232.6,203.27 233.3,200.2 C234,197.13 235.53,192.67 237.3,189.6 C239.07,186.53 241.27,184.08 243.9,181.8 C246.53,179.52 249.82,177.43 253.1,175.9 C256.38,174.37 260.32,173.27 263.6,172.6 C266.88,171.93 269.3,172.02 272.8,171.9Z" fill="none" stroke="#7c7c7c" stroke-width="0.7"/>
<clipPath id="cb6"><path d="M365.7,171.9 C362.2,171.78 357.62,171.23 353.9,171.9 C350.18,172.57 346.68,173.82 343.4,175.9 C340.12,177.98 336.83,181.23 334.2,184.4 C331.57,187.57 329.35,191.4 327.6,194.9 C325.85,198.4 324.4,202.55 323.7,205.4 C323,208.25 322.97,210.13 323.4,212 C323.83,213.87 324.72,215.5 326.3,216.6 C327.88,217.7 330.05,218.05 332.9,218.6 C335.75,219.15 339.9,219.47 343.4,219.9 C346.9,220.33 350.18,220.33 353.9,221.2 C357.62,222.07 362.42,223.83 365.7,225.1 C368.98,226.37 371.3,228.25 373.6,228.8 C375.9,229.35 378.18,229.23 379.5,228.4 C380.82,227.57 381.27,225.22 381.5,223.8 C381.73,222.38 380.02,220.67 380.9,219.9 C381.78,219.13 384.28,219.53 386.8,219.2 C389.32,218.87 393.38,218.67 396,217.9 C398.62,217.13 400.93,216.25 402.5,214.6 C404.07,212.95 404.95,210.4 405.4,208 C405.85,205.6 405.9,203.27 405.2,200.2 C404.5,197.13 402.97,192.67 401.2,189.6 C399.43,186.53 397.23,184.08 394.6,181.8 C391.97,179.52 388.68,177.43 385.4,175.9 C382.12,174.37 378.18,173.27 374.9,172.6 C371.62,171.93 369.2,172.02 365.7,171.9Z"/></clipPath>
<path d="M365.7,171.9 C362.2,171.78 357.62,171.23 353.9,171.9 C350.18,172.57 346.68,173.82 343.4,175.9 C340.12,177.98 336.83,181.23 334.2,184.4 C331.57,187.57 329.35,191.4 327.6,194.9 C325.85,198.4 324.4,202.55 323.7,205.4 C323,208.25 322.97,210.13 323.4,212 C323.83,213.87 324.72,215.5 326.3,216.6 C327.88,217.7 330.05,218.05 332.9,218.6 C335.75,219.15 339.9,219.47 343.4,219.9 C346.9,220.33 350.18,220.33 353.9,221.2 C357.62,222.07 362.42,223.83 365.7,225.1 C368.98,226.37 371.3,228.25 373.6,228.8 C375.9,229.35 378.18,229.23 379.5,228.4 C380.82,227.57 381.27,225.22 381.5,223.8 C381.73,222.38 380.02,220.67 380.9,219.9 C381.78,219.13 384.28,219.53 386.8,219.2 C389.32,218.87 393.38,218.67 396,217.9 C398.62,217.13 400.93,216.25 402.5,214.6 C404.07,212.95 404.95,210.4 405.4,208 C405.85,205.6 405.9,203.27 405.2,200.2 C404.5,197.13 402.97,192.67 401.2,189.6 C399.43,186.53 397.23,184.08 394.6,181.8 C391.97,179.52 388.68,177.43 385.4,175.9 C382.12,174.37 378.18,173.27 374.9,172.6 C371.62,171.93 369.2,172.02 365.7,171.9Z" fill="url(#bg)"/>
<g clip-path="url(#cb6)">
<g filter="url(#bl07)" stroke="#ffffff" stroke-width="1.6" stroke-opacity="0.9" fill="none" stroke-linecap="round">
<path d="M394.4,211.3 C392.9,210.8 388.57,209.13 385.4,208.3 C382.23,207.47 378.73,206.8 375.4,206.3 C372.07,205.8 368.4,205.72 365.4,205.3 C362.4,204.88 359.9,204.63 357.4,203.8 C354.9,202.97 351.57,200.88 350.4,200.3"/>
<path d="M379.4,220.3 C377.73,219.72 372.73,217.8 369.4,216.8 C366.07,215.8 362.73,215.05 359.4,214.3 C356.07,213.55 352.73,213.05 349.4,212.3 C346.07,211.55 342.57,211.05 339.4,209.8 C336.23,208.55 331.9,205.63 330.4,204.8"/>
<path d="M362.4,174.3 C362.57,175.55 362.82,179.05 363.4,181.8 C363.98,184.55 365.07,188.13 365.9,190.8 C366.73,193.47 367.98,196.63 368.4,197.8"/>
<path d="M356.9,176.3 C357.15,177.72 357.82,182.05 358.4,184.8 C358.98,187.55 360.07,191.47 360.4,192.8"/>
<path d="M392.4,190.8 C390.9,189.97 386.57,187.05 383.4,185.8 C380.23,184.55 375.07,183.72 373.4,183.3"/>
<path d="M389.4,199.8 C387.57,199.38 380.23,197.72 378.4,197.3"/>
<path d="M346.4,184.3 C345.07,185.22 340.82,187.63 338.4,189.8 C335.98,191.97 332.98,196.05 331.9,197.3"/>
</g>
<g filter="url(#bl07)" stroke="#8e8e8e" stroke-width="1.7" stroke-opacity="0.75" fill="none" stroke-linecap="round">
<path d="M394.4,210 C392.9,209.5 388.57,207.83 385.4,207 C382.23,206.17 378.73,205.5 375.4,205 C372.07,204.5 368.4,204.42 365.4,204 C362.4,203.58 359.9,203.33 357.4,202.5 C354.9,201.67 351.57,199.58 350.4,199"/>
<path d="M379.4,219 C377.73,218.42 372.73,216.5 369.4,215.5 C366.07,214.5 362.73,213.75 359.4,213 C356.07,212.25 352.73,211.75 349.4,211 C346.07,210.25 342.57,209.75 339.4,208.5 C336.23,207.25 331.9,204.33 330.4,203.5"/>
<path d="M362.4,173 C362.57,174.25 362.82,177.75 363.4,180.5 C363.98,183.25 365.07,186.83 365.9,189.5 C366.73,192.17 367.98,195.33 368.4,196.5"/>
<path d="M356.9,175 C357.15,176.42 357.82,180.75 358.4,183.5 C358.98,186.25 360.07,190.17 360.4,191.5"/>
<path d="M392.4,189.5 C390.9,188.67 386.57,185.75 383.4,184.5 C380.23,183.25 375.07,182.42 373.4,182"/>
<path d="M389.4,198.5 C387.57,198.08 380.23,196.42 378.4,196"/>
<path d="M346.4,183 C345.07,183.92 340.82,186.33 338.4,188.5 C335.98,190.67 332.98,194.75 331.9,196"/>
</g>
<path d="M345.9,174.5L349.2,171.9L351.2,173.2L349.9,175.9L346.6,176.2Z" fill="#3a7fb8"/>
<path d="M357.8,172.6L362.4,171.3L365.0,171.9L362.4,174.5L358.4,174.5Z" fill="#3a7fb8"/>
<path d="M384.0,178.5L387.3,177.2L391.9,180.5L392.6,183.7L388.6,183.1L384.7,181.1Z" fill="#3a7fb8"/>
<path d="M383.4,194.9L386.7,192.9L388.6,195.6L388.0,199.5L386.0,201.5L384.0,199.5L382.7,196.9Z" fill="#e0705a"/>
<path d="M393.2,204.1L396.5,202.8L399.8,205.4L402.4,208.0L402.4,212.0L400.5,214.6L397.2,214.0L395.9,210.7L392.8,208.0Z" fill="#d04848"/>
<path d="M397.0,209.0L402.0,208.5L402.4,212.0L400.5,214.6L397.2,214.0Z" fill="#e06850"/>
<path d="M393.9,217.9L397.8,217.5L397.8,219.9L394.0,219.9Z" fill="#d05040"/>
<path d="M365.7,171.9 C362.2,171.78 357.62,171.23 353.9,171.9 C350.18,172.57 346.68,173.82 343.4,175.9 C340.12,177.98 336.83,181.23 334.2,184.4 C331.57,187.57 329.35,191.4 327.6,194.9 C325.85,198.4 324.4,202.55 323.7,205.4 C323,208.25 322.97,210.13 323.4,212 C323.83,213.87 324.72,215.5 326.3,216.6 C327.88,217.7 330.05,218.05 332.9,218.6 C335.75,219.15 339.9,219.47 343.4,219.9 C346.9,220.33 350.18,220.33 353.9,221.2 C357.62,222.07 362.42,223.83 365.7,225.1 C368.98,226.37 371.3,228.25 373.6,228.8 C375.9,229.35 378.18,229.23 379.5,228.4 C380.82,227.57 381.27,225.22 381.5,223.8 C381.73,222.38 380.02,220.67 380.9,219.9 C381.78,219.13 384.28,219.53 386.8,219.2 C389.32,218.87 393.38,218.67 396,217.9 C398.62,217.13 400.93,216.25 402.5,214.6 C404.07,212.95 404.95,210.4 405.4,208 C405.85,205.6 405.9,203.27 405.2,200.2 C404.5,197.13 402.97,192.67 401.2,189.6 C399.43,186.53 397.23,184.08 394.6,181.8 C391.97,179.52 388.68,177.43 385.4,175.9 C382.12,174.37 378.18,173.27 374.9,172.6 C371.62,171.93 369.2,172.02 365.7,171.9Z" fill="none" stroke="#808080" stroke-width="3.6" stroke-opacity="0.65" filter="url(#bl1)"/>
</g>
<path d="M365.7,171.9 C362.2,171.78 357.62,171.23 353.9,171.9 C350.18,172.57 346.68,173.82 343.4,175.9 C340.12,177.98 336.83,181.23 334.2,184.4 C331.57,187.57 329.35,191.4 327.6,194.9 C325.85,198.4 324.4,202.55 323.7,205.4 C323,208.25 322.97,210.13 323.4,212 C323.83,213.87 324.72,215.5 326.3,216.6 C327.88,217.7 330.05,218.05 332.9,218.6 C335.75,219.15 339.9,219.47 343.4,219.9 C346.9,220.33 350.18,220.33 353.9,221.2 C357.62,222.07 362.42,223.83 365.7,225.1 C368.98,226.37 371.3,228.25 373.6,228.8 C375.9,229.35 378.18,229.23 379.5,228.4 C380.82,227.57 381.27,225.22 381.5,223.8 C381.73,222.38 380.02,220.67 380.9,219.9 C381.78,219.13 384.28,219.53 386.8,219.2 C389.32,218.87 393.38,218.67 396,217.9 C398.62,217.13 400.93,216.25 402.5,214.6 C404.07,212.95 404.95,210.4 405.4,208 C405.85,205.6 405.9,203.27 405.2,200.2 C404.5,197.13 402.97,192.67 401.2,189.6 C399.43,186.53 397.23,184.08 394.6,181.8 C391.97,179.52 388.68,177.43 385.4,175.9 C382.12,174.37 378.18,173.27 374.9,172.6 C371.62,171.93 369.2,172.02 365.7,171.9Z" fill="none" stroke="#7c7c7c" stroke-width="0.7"/>
<clipPath id="cb7"><path d="M268.6,240.3 C272.12,240.18 277.42,240.13 281.8,240.9 C286.18,241.67 290.97,243.03 294.9,244.9 C298.83,246.77 302.55,249.37 305.4,252.1 C308.25,254.83 310.35,258.02 312,261.3 C313.65,264.58 314.87,268.95 315.3,271.8 C315.73,274.65 315.37,276.43 314.6,278.4 C313.83,280.37 312.67,282.3 310.7,283.6 C308.73,284.9 306.08,285.65 302.8,286.2 C299.52,286.75 293.08,286.02 291,286.9 C288.92,287.78 290.97,289.85 290.3,291.5 C289.63,293.15 288.42,295.75 287,296.8 C285.58,297.85 284.2,298.25 281.8,297.8 C279.4,297.35 275.67,295.37 272.6,294.1 C269.53,292.83 267.35,291.28 263.4,290.2 C259.45,289.12 253.28,288.7 248.9,287.6 C244.52,286.5 239.73,285.13 237.1,283.6 C234.47,282.07 233.8,280.37 233.1,278.4 C232.4,276.43 232.45,274.43 232.9,271.8 C233.35,269.17 234.23,265.67 235.8,262.6 C237.37,259.53 239.68,256.25 242.3,253.4 C244.92,250.55 248.43,247.47 251.5,245.5 C254.57,243.53 257.85,242.47 260.7,241.6 C263.55,240.73 265.08,240.42 268.6,240.3Z"/></clipPath>
<path d="M268.6,240.3 C272.12,240.18 277.42,240.13 281.8,240.9 C286.18,241.67 290.97,243.03 294.9,244.9 C298.83,246.77 302.55,249.37 305.4,252.1 C308.25,254.83 310.35,258.02 312,261.3 C313.65,264.58 314.87,268.95 315.3,271.8 C315.73,274.65 315.37,276.43 314.6,278.4 C313.83,280.37 312.67,282.3 310.7,283.6 C308.73,284.9 306.08,285.65 302.8,286.2 C299.52,286.75 293.08,286.02 291,286.9 C288.92,287.78 290.97,289.85 290.3,291.5 C289.63,293.15 288.42,295.75 287,296.8 C285.58,297.85 284.2,298.25 281.8,297.8 C279.4,297.35 275.67,295.37 272.6,294.1 C269.53,292.83 267.35,291.28 263.4,290.2 C259.45,289.12 253.28,288.7 248.9,287.6 C244.52,286.5 239.73,285.13 237.1,283.6 C234.47,282.07 233.8,280.37 233.1,278.4 C232.4,276.43 232.45,274.43 232.9,271.8 C233.35,269.17 234.23,265.67 235.8,262.6 C237.37,259.53 239.68,256.25 242.3,253.4 C244.92,250.55 248.43,247.47 251.5,245.5 C254.57,243.53 257.85,242.47 260.7,241.6 C263.55,240.73 265.08,240.42 268.6,240.3Z" fill="url(#bg)"/>
<g clip-path="url(#cb7)">
<g filter="url(#bl07)" stroke="#ffffff" stroke-width="1.6" stroke-opacity="0.9" fill="none" stroke-linecap="round">
<path d="M248.9,269.3 C250,267.52 252.22,261.03 255.5,258.6 C258.78,256.17 263.78,255.47 268.6,254.7 C273.42,253.93 279.58,253.57 284.4,254 C289.22,254.43 294,255.65 297.5,257.3 C301,258.95 304.08,262.8 305.4,263.9"/>
<path d="M242.9,277.3 C244.9,277.72 252.9,279.38 254.9,279.8"/>
</g>
<g filter="url(#bl07)" stroke="#8e8e8e" stroke-width="1.7" stroke-opacity="0.75" fill="none" stroke-linecap="round">
<path d="M248.9,268 C250,266.22 252.22,259.73 255.5,257.3 C258.78,254.87 263.78,254.17 268.6,253.4 C273.42,252.63 279.58,252.27 284.4,252.7 C289.22,253.13 294,254.35 297.5,256 C301,257.65 304.08,261.5 305.4,262.6"/>
<path d="M242.9,276 C244.9,276.42 252.9,278.08 254.9,278.5"/>
</g>
<path d="M248.4,248.8L252.0,247.1L254.6,248.8L254.0,251.4L250.7,252.1L248.1,250.8Z" fill="#d85a48"/>
<path d="M258.2,249.5L261.2,247.9L265.1,249.5L266.4,252.7L264.5,254.7L260.5,254.1L258.2,251.8Z" fill="#3a88c8"/>
<path d="M268.6,240.3 C272.12,240.18 277.42,240.13 281.8,240.9 C286.18,241.67 290.97,243.03 294.9,244.9 C298.83,246.77 302.55,249.37 305.4,252.1 C308.25,254.83 310.35,258.02 312,261.3 C313.65,264.58 314.87,268.95 315.3,271.8 C315.73,274.65 315.37,276.43 314.6,278.4 C313.83,280.37 312.67,282.3 310.7,283.6 C308.73,284.9 306.08,285.65 302.8,286.2 C299.52,286.75 293.08,286.02 291,286.9 C288.92,287.78 290.97,289.85 290.3,291.5 C289.63,293.15 288.42,295.75 287,296.8 C285.58,297.85 284.2,298.25 281.8,297.8 C279.4,297.35 275.67,295.37 272.6,294.1 C269.53,292.83 267.35,291.28 263.4,290.2 C259.45,289.12 253.28,288.7 248.9,287.6 C244.52,286.5 239.73,285.13 237.1,283.6 C234.47,282.07 233.8,280.37 233.1,278.4 C232.4,276.43 232.45,274.43 232.9,271.8 C233.35,269.17 234.23,265.67 235.8,262.6 C237.37,259.53 239.68,256.25 242.3,253.4 C244.92,250.55 248.43,247.47 251.5,245.5 C254.57,243.53 257.85,242.47 260.7,241.6 C263.55,240.73 265.08,240.42 268.6,240.3Z" fill="none" stroke="#808080" stroke-width="3.6" stroke-opacity="0.65" filter="url(#bl1)"/>
<path d="M258.6,267.8 C259.37,266.15 260.9,264.28 263.2,263.2 C265.5,262.12 268.9,261.67 272.4,261.3 C275.9,260.93 280.7,260.68 284.2,261 C287.7,261.32 290.78,262.07 293.4,263.2 C296.02,264.33 298.48,266.15 299.9,267.8 C301.32,269.45 301.9,271.33 301.9,273.1 C301.9,274.87 301.32,276.75 299.9,278.4 C298.48,280.05 295.15,281.7 293.4,283 C291.65,284.3 289.95,284.78 289.4,286.2 C288.85,287.62 290.42,290.18 290.1,291.5 C289.78,292.82 288.92,293.67 287.5,294.1 C286.08,294.53 283.25,294.53 281.6,294.1 C279.95,293.67 278.82,292.58 277.6,291.5 C276.38,290.42 275.83,288.92 274.3,287.6 C272.77,286.28 270.48,285.13 268.4,283.6 C266.32,282.07 263.43,280.15 261.8,278.4 C260.17,276.65 259.13,274.87 258.6,273.1 C258.07,271.33 257.83,269.45 258.6,267.8Z" fill="url(#mwg)"/>
</g>
<path d="M268.6,240.3 C272.12,240.18 277.42,240.13 281.8,240.9 C286.18,241.67 290.97,243.03 294.9,244.9 C298.83,246.77 302.55,249.37 305.4,252.1 C308.25,254.83 310.35,258.02 312,261.3 C313.65,264.58 314.87,268.95 315.3,271.8 C315.73,274.65 315.37,276.43 314.6,278.4 C313.83,280.37 312.67,282.3 310.7,283.6 C308.73,284.9 306.08,285.65 302.8,286.2 C299.52,286.75 293.08,286.02 291,286.9 C288.92,287.78 290.97,289.85 290.3,291.5 C289.63,293.15 288.42,295.75 287,296.8 C285.58,297.85 284.2,298.25 281.8,297.8 C279.4,297.35 275.67,295.37 272.6,294.1 C269.53,292.83 267.35,291.28 263.4,290.2 C259.45,289.12 253.28,288.7 248.9,287.6 C244.52,286.5 239.73,285.13 237.1,283.6 C234.47,282.07 233.8,280.37 233.1,278.4 C232.4,276.43 232.45,274.43 232.9,271.8 C233.35,269.17 234.23,265.67 235.8,262.6 C237.37,259.53 239.68,256.25 242.3,253.4 C244.92,250.55 248.43,247.47 251.5,245.5 C254.57,243.53 257.85,242.47 260.7,241.6 C263.55,240.73 265.08,240.42 268.6,240.3Z" fill="none" stroke="#7c7c7c" stroke-width="0.7"/>
<clipPath id="cb8"><path d="M369.8,240.3 C366.28,240.18 360.98,240.13 356.6,240.9 C352.22,241.67 347.43,243.03 343.5,244.9 C339.57,246.77 335.85,249.37 333,252.1 C330.15,254.83 328.05,258.02 326.4,261.3 C324.75,264.58 323.53,268.95 323.1,271.8 C322.67,274.65 323.03,276.43 323.8,278.4 C324.57,280.37 325.73,282.3 327.7,283.6 C329.67,284.9 332.32,285.65 335.6,286.2 C338.88,286.75 345.32,286.02 347.4,286.9 C349.48,287.78 347.43,289.85 348.1,291.5 C348.77,293.15 349.98,295.75 351.4,296.8 C352.82,297.85 354.2,298.25 356.6,297.8 C359,297.35 362.73,295.37 365.8,294.1 C368.87,292.83 371.05,291.28 375,290.2 C378.95,289.12 385.12,288.7 389.5,287.6 C393.88,286.5 398.67,285.13 401.3,283.6 C403.93,282.07 404.6,280.37 405.3,278.4 C406,276.43 405.95,274.43 405.5,271.8 C405.05,269.17 404.17,265.67 402.6,262.6 C401.03,259.53 398.72,256.25 396.1,253.4 C393.48,250.55 389.97,247.47 386.9,245.5 C383.83,243.53 380.55,242.47 377.7,241.6 C374.85,240.73 373.32,240.42 369.8,240.3Z"/></clipPath>
<path d="M369.8,240.3 C366.28,240.18 360.98,240.13 356.6,240.9 C352.22,241.67 347.43,243.03 343.5,244.9 C339.57,246.77 335.85,249.37 333,252.1 C330.15,254.83 328.05,258.02 326.4,261.3 C324.75,264.58 323.53,268.95 323.1,271.8 C322.67,274.65 323.03,276.43 323.8,278.4 C324.57,280.37 325.73,282.3 327.7,283.6 C329.67,284.9 332.32,285.65 335.6,286.2 C338.88,286.75 345.32,286.02 347.4,286.9 C349.48,287.78 347.43,289.85 348.1,291.5 C348.77,293.15 349.98,295.75 351.4,296.8 C352.82,297.85 354.2,298.25 356.6,297.8 C359,297.35 362.73,295.37 365.8,294.1 C368.87,292.83 371.05,291.28 375,290.2 C378.95,289.12 385.12,288.7 389.5,287.6 C393.88,286.5 398.67,285.13 401.3,283.6 C403.93,282.07 404.6,280.37 405.3,278.4 C406,276.43 405.95,274.43 405.5,271.8 C405.05,269.17 404.17,265.67 402.6,262.6 C401.03,259.53 398.72,256.25 396.1,253.4 C393.48,250.55 389.97,247.47 386.9,245.5 C383.83,243.53 380.55,242.47 377.7,241.6 C374.85,240.73 373.32,240.42 369.8,240.3Z" fill="url(#bg)"/>
<g clip-path="url(#cb8)">
<g filter="url(#bl07)" stroke="#ffffff" stroke-width="1.6" stroke-opacity="0.9" fill="none" stroke-linecap="round">
<path d="M389.5,269.3 C388.4,267.52 386.18,261.03 382.9,258.6 C379.62,256.17 374.62,255.47 369.8,254.7 C364.98,253.93 358.82,253.57 354,254 C349.18,254.43 344.4,255.65 340.9,257.3 C337.4,258.95 334.32,262.8 333,263.9"/>
<path d="M395.5,277.3 C393.5,277.72 385.5,279.38 383.5,279.8"/>
</g>
<g filter="url(#bl07)" stroke="#8e8e8e" stroke-width="1.7" stroke-opacity="0.75" fill="none" stroke-linecap="round">
<path d="M389.5,268 C388.4,266.22 386.18,259.73 382.9,257.3 C379.62,254.87 374.62,254.17 369.8,253.4 C364.98,252.63 358.82,252.27 354,252.7 C349.18,253.13 344.4,254.35 340.9,256 C337.4,257.65 334.32,261.5 333,262.6"/>
<path d="M395.5,276 C393.5,276.42 385.5,278.08 383.5,278.5"/>
</g>
<path d="M366.6,253.4L371.6,251.4L375.5,249.5L378.1,245.5L380.5,246.8L380.1,250.8L376.8,254.7L371.6,256.0L367.0,255.8Z" fill="#3a70b0"/>
<path d="M380.8,255.4L384.0,253.4L387.1,256.0L386.7,260.0L383.4,260.6L380.5,258.7Z" fill="#3a88c8"/>
<path d="M338.7,286.2L345.3,284.7L349.9,284.3L350.5,286.2L347.2,288.2L340.0,288.2Z" fill="#d85040"/>
<path d="M362.4,239.6L367.6,239.6L367.6,240.9L362.4,240.9Z" fill="#3a70b0"/>
<path d="M369.8,240.3 C366.28,240.18 360.98,240.13 356.6,240.9 C352.22,241.67 347.43,243.03 343.5,244.9 C339.57,246.77 335.85,249.37 333,252.1 C330.15,254.83 328.05,258.02 326.4,261.3 C324.75,264.58 323.53,268.95 323.1,271.8 C322.67,274.65 323.03,276.43 323.8,278.4 C324.57,280.37 325.73,282.3 327.7,283.6 C329.67,284.9 332.32,285.65 335.6,286.2 C338.88,286.75 345.32,286.02 347.4,286.9 C349.48,287.78 347.43,289.85 348.1,291.5 C348.77,293.15 349.98,295.75 351.4,296.8 C352.82,297.85 354.2,298.25 356.6,297.8 C359,297.35 362.73,295.37 365.8,294.1 C368.87,292.83 371.05,291.28 375,290.2 C378.95,289.12 385.12,288.7 389.5,287.6 C393.88,286.5 398.67,285.13 401.3,283.6 C403.93,282.07 404.6,280.37 405.3,278.4 C406,276.43 405.95,274.43 405.5,271.8 C405.05,269.17 404.17,265.67 402.6,262.6 C401.03,259.53 398.72,256.25 396.1,253.4 C393.48,250.55 389.97,247.47 386.9,245.5 C383.83,243.53 380.55,242.47 377.7,241.6 C374.85,240.73 373.32,240.42 369.8,240.3Z" fill="none" stroke="#808080" stroke-width="3.6" stroke-opacity="0.65" filter="url(#bl1)"/>
<path d="M379.8,267.8 C379.03,266.15 377.5,264.28 375.2,263.2 C372.9,262.12 369.5,261.67 366,261.3 C362.5,260.93 357.7,260.68 354.2,261 C350.7,261.32 347.62,262.07 345,263.2 C342.38,264.33 339.92,266.15 338.5,267.8 C337.08,269.45 336.5,271.33 336.5,273.1 C336.5,274.87 337.08,276.75 338.5,278.4 C339.92,280.05 343.25,281.7 345,283 C346.75,284.3 348.45,284.78 349,286.2 C349.55,287.62 347.98,290.18 348.3,291.5 C348.62,292.82 349.48,293.67 350.9,294.1 C352.32,294.53 355.15,294.53 356.8,294.1 C358.45,293.67 359.58,292.58 360.8,291.5 C362.02,290.42 362.57,288.92 364.1,287.6 C365.63,286.28 367.92,285.13 370,283.6 C372.08,282.07 374.97,280.15 376.6,278.4 C378.23,276.65 379.27,274.87 379.8,273.1 C380.33,271.33 380.57,269.45 379.8,267.8Z" fill="url(#mwgm)"/>
</g>
<path d="M369.8,240.3 C366.28,240.18 360.98,240.13 356.6,240.9 C352.22,241.67 347.43,243.03 343.5,244.9 C339.57,246.77 335.85,249.37 333,252.1 C330.15,254.83 328.05,258.02 326.4,261.3 C324.75,264.58 323.53,268.95 323.1,271.8 C322.67,274.65 323.03,276.43 323.8,278.4 C324.57,280.37 325.73,282.3 327.7,283.6 C329.67,284.9 332.32,285.65 335.6,286.2 C338.88,286.75 345.32,286.02 347.4,286.9 C349.48,287.78 347.43,289.85 348.1,291.5 C348.77,293.15 349.98,295.75 351.4,296.8 C352.82,297.85 354.2,298.25 356.6,297.8 C359,297.35 362.73,295.37 365.8,294.1 C368.87,292.83 371.05,291.28 375,290.2 C378.95,289.12 385.12,288.7 389.5,287.6 C393.88,286.5 398.67,285.13 401.3,283.6 C403.93,282.07 404.6,280.37 405.3,278.4 C406,276.43 405.95,274.43 405.5,271.8 C405.05,269.17 404.17,265.67 402.6,262.6 C401.03,259.53 398.72,256.25 396.1,253.4 C393.48,250.55 389.97,247.47 386.9,245.5 C383.83,243.53 380.55,242.47 377.7,241.6 C374.85,240.73 373.32,240.42 369.8,240.3Z" fill="none" stroke="#7c7c7c" stroke-width="0.7"/>
<clipPath id="cb9"><path d="M471.9,172 C475.4,171.88 479.98,171.33 483.7,172 C487.42,172.67 490.92,173.92 494.2,176 C497.48,178.08 500.77,181.33 503.4,184.5 C506.03,187.67 508.25,191.5 510,195 C511.75,198.5 513.2,202.65 513.9,205.5 C514.6,208.35 514.63,210.23 514.2,212.1 C513.77,213.97 512.88,215.6 511.3,216.7 C509.72,217.8 507.55,218.15 504.7,218.7 C501.85,219.25 497.7,219.57 494.2,220 C490.7,220.43 487.42,220.43 483.7,221.3 C479.98,222.17 475.18,223.93 471.9,225.2 C468.62,226.47 466.3,228.35 464,228.9 C461.7,229.45 459.42,229.33 458.1,228.5 C456.78,227.67 456.33,225.32 456.1,223.9 C455.87,222.48 457.58,220.77 456.7,220 C455.82,219.23 453.32,219.63 450.8,219.3 C448.28,218.97 444.22,218.77 441.6,218 C438.98,217.23 436.67,216.35 435.1,214.7 C433.53,213.05 432.65,210.5 432.2,208.1 C431.75,205.7 431.7,203.37 432.4,200.3 C433.1,197.23 434.63,192.77 436.4,189.7 C438.17,186.63 440.37,184.18 443,181.9 C445.63,179.62 448.92,177.53 452.2,176 C455.48,174.47 459.42,173.37 462.7,172.7 C465.98,172.03 468.4,172.12 471.9,172Z"/></clipPath>
<path d="M471.9,172 C475.4,171.88 479.98,171.33 483.7,172 C487.42,172.67 490.92,173.92 494.2,176 C497.48,178.08 500.77,181.33 503.4,184.5 C506.03,187.67 508.25,191.5 510,195 C511.75,198.5 513.2,202.65 513.9,205.5 C514.6,208.35 514.63,210.23 514.2,212.1 C513.77,213.97 512.88,215.6 511.3,216.7 C509.72,217.8 507.55,218.15 504.7,218.7 C501.85,219.25 497.7,219.57 494.2,220 C490.7,220.43 487.42,220.43 483.7,221.3 C479.98,222.17 475.18,223.93 471.9,225.2 C468.62,226.47 466.3,228.35 464,228.9 C461.7,229.45 459.42,229.33 458.1,228.5 C456.78,227.67 456.33,225.32 456.1,223.9 C455.87,222.48 457.58,220.77 456.7,220 C455.82,219.23 453.32,219.63 450.8,219.3 C448.28,218.97 444.22,218.77 441.6,218 C438.98,217.23 436.67,216.35 435.1,214.7 C433.53,213.05 432.65,210.5 432.2,208.1 C431.75,205.7 431.7,203.37 432.4,200.3 C433.1,197.23 434.63,192.77 436.4,189.7 C438.17,186.63 440.37,184.18 443,181.9 C445.63,179.62 448.92,177.53 452.2,176 C455.48,174.47 459.42,173.37 462.7,172.7 C465.98,172.03 468.4,172.12 471.9,172Z" fill="url(#bg)"/>
<g clip-path="url(#cb9)">
<g filter="url(#bl07)" stroke="#ffffff" stroke-width="1.6" stroke-opacity="0.9" fill="none" stroke-linecap="round">
<path d="M443.2,211.4 C444.7,210.9 449.03,209.23 452.2,208.4 C455.37,207.57 458.87,206.9 462.2,206.4 C465.53,205.9 469.2,205.82 472.2,205.4 C475.2,204.98 477.7,204.73 480.2,203.9 C482.7,203.07 486.03,200.98 487.2,200.4"/>
<path d="M458.2,220.4 C459.87,219.82 464.87,217.9 468.2,216.9 C471.53,215.9 474.87,215.15 478.2,214.4 C481.53,213.65 484.87,213.15 488.2,212.4 C491.53,211.65 495.03,211.15 498.2,209.9 C501.37,208.65 505.7,205.73 507.2,204.9"/>
<path d="M475.2,174.4 C475.03,175.65 474.78,179.15 474.2,181.9 C473.62,184.65 472.53,188.23 471.7,190.9 C470.87,193.57 469.62,196.73 469.2,197.9"/>
<path d="M480.7,176.4 C480.45,177.82 479.78,182.15 479.2,184.9 C478.62,187.65 477.53,191.57 477.2,192.9"/>
<path d="M445.2,190.9 C446.7,190.07 451.03,187.15 454.2,185.9 C457.37,184.65 462.53,183.82 464.2,183.4"/>
<path d="M448.2,199.9 C450.03,199.48 457.37,197.82 459.2,197.4"/>
<path d="M491.2,184.4 C492.53,185.32 496.78,187.73 499.2,189.9 C501.62,192.07 504.62,196.15 505.7,197.4"/>
</g>
<g filter="url(#bl07)" stroke="#8e8e8e" stroke-width="1.7" stroke-opacity="0.75" fill="none" stroke-linecap="round">
<path d="M443.2,210.1 C444.7,209.6 449.03,207.93 452.2,207.1 C455.37,206.27 458.87,205.6 462.2,205.1 C465.53,204.6 469.2,204.52 472.2,204.1 C475.2,203.68 477.7,203.43 480.2,202.6 C482.7,201.77 486.03,199.68 487.2,199.1"/>
<path d="M458.2,219.1 C459.87,218.52 464.87,216.6 468.2,215.6 C471.53,214.6 474.87,213.85 478.2,213.1 C481.53,212.35 484.87,211.85 488.2,211.1 C491.53,210.35 495.03,209.85 498.2,208.6 C501.37,207.35 505.7,204.43 507.2,203.6"/>
<path d="M475.2,173.1 C475.03,174.35 474.78,177.85 474.2,180.6 C473.62,183.35 472.53,186.93 471.7,189.6 C470.87,192.27 469.62,195.43 469.2,196.6"/>
<path d="M480.7,175.1 C480.45,176.52 479.78,180.85 479.2,183.6 C478.62,186.35 477.53,190.27 477.2,191.6"/>
<path d="M445.2,189.6 C446.7,188.77 451.03,185.85 454.2,184.6 C457.37,183.35 462.53,182.52 464.2,182.1"/>
<path d="M448.2,198.6 C450.03,198.18 457.37,196.52 459.2,196.1"/>
<path d="M491.2,183.1 C492.53,184.02 496.78,186.43 499.2,188.6 C501.62,190.77 504.62,194.85 505.7,196.1"/>
</g>
<path d="M454.6,194.9L458.5,192.3L462.2,193.6L463.1,197.5L461.2,200.2L457.2,199.5L453.9,197.5Z" fill="#d05048"/>
<path d="M436.2,196.2L439.5,191.0L442.1,189.7L442.8,194.3L440.1,198.2L436.9,200.8Z" fill="#d85a48"/>
<path d="M465.1,217.2L469.0,214.0L474.3,214.0L476.9,215.3L474.3,217.9L469.0,219.9L464.4,220.5Z" fill="#d85a48"/>
<path d="M479.6,173.2L483.5,171.9L488.8,173.2L494.0,175.2L490.1,175.9L484.8,174.1L480.2,174.5Z" fill="#c85048"/>
<path d="M434.9,214.0L440.1,215.3L442.8,217.2L438.8,217.9L435.1,215.9Z" fill="#d05048"/>
<path d="M432.3,206.7L434.2,207.0L434.2,213.3L432.3,213.0Z" fill="#3a80c0"/>
<path d="M471.9,172 C475.4,171.88 479.98,171.33 483.7,172 C487.42,172.67 490.92,173.92 494.2,176 C497.48,178.08 500.77,181.33 503.4,184.5 C506.03,187.67 508.25,191.5 510,195 C511.75,198.5 513.2,202.65 513.9,205.5 C514.6,208.35 514.63,210.23 514.2,212.1 C513.77,213.97 512.88,215.6 511.3,216.7 C509.72,217.8 507.55,218.15 504.7,218.7 C501.85,219.25 497.7,219.57 494.2,220 C490.7,220.43 487.42,220.43 483.7,221.3 C479.98,222.17 475.18,223.93 471.9,225.2 C468.62,226.47 466.3,228.35 464,228.9 C461.7,229.45 459.42,229.33 458.1,228.5 C456.78,227.67 456.33,225.32 456.1,223.9 C455.87,222.48 457.58,220.77 456.7,220 C455.82,219.23 453.32,219.63 450.8,219.3 C448.28,218.97 444.22,218.77 441.6,218 C438.98,217.23 436.67,216.35 435.1,214.7 C433.53,213.05 432.65,210.5 432.2,208.1 C431.75,205.7 431.7,203.37 432.4,200.3 C433.1,197.23 434.63,192.77 436.4,189.7 C438.17,186.63 440.37,184.18 443,181.9 C445.63,179.62 448.92,177.53 452.2,176 C455.48,174.47 459.42,173.37 462.7,172.7 C465.98,172.03 468.4,172.12 471.9,172Z" fill="none" stroke="#808080" stroke-width="3.6" stroke-opacity="0.65" filter="url(#bl1)"/>
</g>
<path d="M471.9,172 C475.4,171.88 479.98,171.33 483.7,172 C487.42,172.67 490.92,173.92 494.2,176 C497.48,178.08 500.77,181.33 503.4,184.5 C506.03,187.67 508.25,191.5 510,195 C511.75,198.5 513.2,202.65 513.9,205.5 C514.6,208.35 514.63,210.23 514.2,212.1 C513.77,213.97 512.88,215.6 511.3,216.7 C509.72,217.8 507.55,218.15 504.7,218.7 C501.85,219.25 497.7,219.57 494.2,220 C490.7,220.43 487.42,220.43 483.7,221.3 C479.98,222.17 475.18,223.93 471.9,225.2 C468.62,226.47 466.3,228.35 464,228.9 C461.7,229.45 459.42,229.33 458.1,228.5 C456.78,227.67 456.33,225.32 456.1,223.9 C455.87,222.48 457.58,220.77 456.7,220 C455.82,219.23 453.32,219.63 450.8,219.3 C448.28,218.97 444.22,218.77 441.6,218 C438.98,217.23 436.67,216.35 435.1,214.7 C433.53,213.05 432.65,210.5 432.2,208.1 C431.75,205.7 431.7,203.37 432.4,200.3 C433.1,197.23 434.63,192.77 436.4,189.7 C438.17,186.63 440.37,184.18 443,181.9 C445.63,179.62 448.92,177.53 452.2,176 C455.48,174.47 459.42,173.37 462.7,172.7 C465.98,172.03 468.4,172.12 471.9,172Z" fill="none" stroke="#7c7c7c" stroke-width="0.7"/>
<clipPath id="cb10"><path d="M566.7,171.9 C563.2,171.78 558.62,171.23 554.9,171.9 C551.18,172.57 547.68,173.82 544.4,175.9 C541.12,177.98 537.83,181.23 535.2,184.4 C532.57,187.57 530.35,191.4 528.6,194.9 C526.85,198.4 525.4,202.55 524.7,205.4 C524,208.25 523.97,210.13 524.4,212 C524.83,213.87 525.72,215.5 527.3,216.6 C528.88,217.7 531.05,218.05 533.9,218.6 C536.75,219.15 540.9,219.47 544.4,219.9 C547.9,220.33 551.18,220.33 554.9,221.2 C558.62,222.07 563.42,223.83 566.7,225.1 C569.98,226.37 572.3,228.25 574.6,228.8 C576.9,229.35 579.18,229.23 580.5,228.4 C581.82,227.57 582.27,225.22 582.5,223.8 C582.73,222.38 581.02,220.67 581.9,219.9 C582.78,219.13 585.28,219.53 587.8,219.2 C590.32,218.87 594.38,218.67 597,217.9 C599.62,217.13 601.93,216.25 603.5,214.6 C605.07,212.95 605.95,210.4 606.4,208 C606.85,205.6 606.9,203.27 606.2,200.2 C605.5,197.13 603.97,192.67 602.2,189.6 C600.43,186.53 598.23,184.08 595.6,181.8 C592.97,179.52 589.68,177.43 586.4,175.9 C583.12,174.37 579.18,173.27 575.9,172.6 C572.62,171.93 570.2,172.02 566.7,171.9Z"/></clipPath>
<path d="M566.7,171.9 C563.2,171.78 558.62,171.23 554.9,171.9 C551.18,172.57 547.68,173.82 544.4,175.9 C541.12,177.98 537.83,181.23 535.2,184.4 C532.57,187.57 530.35,191.4 528.6,194.9 C526.85,198.4 525.4,202.55 524.7,205.4 C524,208.25 523.97,210.13 524.4,212 C524.83,213.87 525.72,215.5 527.3,216.6 C528.88,217.7 531.05,218.05 533.9,218.6 C536.75,219.15 540.9,219.47 544.4,219.9 C547.9,220.33 551.18,220.33 554.9,221.2 C558.62,222.07 563.42,223.83 566.7,225.1 C569.98,226.37 572.3,228.25 574.6,228.8 C576.9,229.35 579.18,229.23 580.5,228.4 C581.82,227.57 582.27,225.22 582.5,223.8 C582.73,222.38 581.02,220.67 581.9,219.9 C582.78,219.13 585.28,219.53 587.8,219.2 C590.32,218.87 594.38,218.67 597,217.9 C599.62,217.13 601.93,216.25 603.5,214.6 C605.07,212.95 605.95,210.4 606.4,208 C606.85,205.6 606.9,203.27 606.2,200.2 C605.5,197.13 603.97,192.67 602.2,189.6 C600.43,186.53 598.23,184.08 595.6,181.8 C592.97,179.52 589.68,177.43 586.4,175.9 C583.12,174.37 579.18,173.27 575.9,172.6 C572.62,171.93 570.2,172.02 566.7,171.9Z" fill="url(#bg)"/>
<g clip-path="url(#cb10)">
<g filter="url(#bl07)" stroke="#ffffff" stroke-width="1.6" stroke-opacity="0.9" fill="none" stroke-linecap="round">
<path d="M595.4,211.3 C593.9,210.8 589.57,209.13 586.4,208.3 C583.23,207.47 579.73,206.8 576.4,206.3 C573.07,205.8 569.4,205.72 566.4,205.3 C563.4,204.88 560.9,204.63 558.4,203.8 C555.9,202.97 552.57,200.88 551.4,200.3"/>
<path d="M580.4,220.3 C578.73,219.72 573.73,217.8 570.4,216.8 C567.07,215.8 563.73,215.05 560.4,214.3 C557.07,213.55 553.73,213.05 550.4,212.3 C547.07,211.55 543.57,211.05 540.4,209.8 C537.23,208.55 532.9,205.63 531.4,204.8"/>
<path d="M563.4,174.3 C563.57,175.55 563.82,179.05 564.4,181.8 C564.98,184.55 566.07,188.13 566.9,190.8 C567.73,193.47 568.98,196.63 569.4,197.8"/>
<path d="M557.9,176.3 C558.15,177.72 558.82,182.05 559.4,184.8 C559.98,187.55 561.07,191.47 561.4,192.8"/>
<path d="M593.4,190.8 C591.9,189.97 587.57,187.05 584.4,185.8 C581.23,184.55 576.07,183.72 574.4,183.3"/>
<path d="M590.4,199.8 C588.57,199.38 581.23,197.72 579.4,197.3"/>
<path d="M547.4,184.3 C546.07,185.22 541.82,187.63 539.4,189.8 C536.98,191.97 533.98,196.05 532.9,197.3"/>
</g>
<g filter="url(#bl07)" stroke="#8e8e8e" stroke-width="1.7" stroke-opacity="0.75" fill="none" stroke-linecap="round">
<path d="M595.4,210 C593.9,209.5 589.57,207.83 586.4,207 C583.23,206.17 579.73,205.5 576.4,205 C573.07,204.5 569.4,204.42 566.4,204 C563.4,203.58 560.9,203.33 558.4,202.5 C555.9,201.67 552.57,199.58 551.4,199"/>
<path d="M580.4,219 C578.73,218.42 573.73,216.5 570.4,215.5 C567.07,214.5 563.73,213.75 560.4,213 C557.07,212.25 553.73,211.75 550.4,211 C547.07,210.25 543.57,209.75 540.4,208.5 C537.23,207.25 532.9,204.33 531.4,203.5"/>
<path d="M563.4,173 C563.57,174.25 563.82,177.75 564.4,180.5 C564.98,183.25 566.07,186.83 566.9,189.5 C567.73,192.17 568.98,195.33 569.4,196.5"/>
<path d="M557.9,175 C558.15,176.42 558.82,180.75 559.4,183.5 C559.98,186.25 561.07,190.17 561.4,191.5"/>
<path d="M593.4,189.5 C591.9,188.67 587.57,185.75 584.4,184.5 C581.23,183.25 576.07,182.42 574.4,182"/>
<path d="M590.4,198.5 C588.57,198.08 581.23,196.42 579.4,196"/>
<path d="M547.4,183 C546.07,183.92 541.82,186.33 539.4,188.5 C536.98,190.67 533.98,194.75 532.9,196"/>
</g>
<path d="M554.8,187.0L558.1,185.7L561.4,188.3L562.0,191.6L558.8,193.6L554.4,192.3L553.5,189.7Z" fill="#3a88c8"/>
<path d="M574.1,188.3L575.8,188.3L577.2,192.3L576.8,197.5L575.4,198.8L574.1,194.9Z" fill="#d04040"/>
<path d="M569.9,173.2L573.9,172.3L576.5,173.9L575.2,175.9L571.2,175.5Z" fill="#cc4a44"/>
<path d="M572.6,208.7L576.5,206.1L577.8,204.1L580.4,205.4L583.7,208.0L583.1,211.3L578.5,213.6L573.9,212.0Z" fill="#3a88c8"/>
<path d="M561.8,215.9L565.3,214.9L569.9,217.9L573.2,221.2L572.6,224.5L568.0,224.5L563.4,221.8Z" fill="#3a88c8"/>
<path d="M566.7,171.9 C563.2,171.78 558.62,171.23 554.9,171.9 C551.18,172.57 547.68,173.82 544.4,175.9 C541.12,177.98 537.83,181.23 535.2,184.4 C532.57,187.57 530.35,191.4 528.6,194.9 C526.85,198.4 525.4,202.55 524.7,205.4 C524,208.25 523.97,210.13 524.4,212 C524.83,213.87 525.72,215.5 527.3,216.6 C528.88,217.7 531.05,218.05 533.9,218.6 C536.75,219.15 540.9,219.47 544.4,219.9 C547.9,220.33 551.18,220.33 554.9,221.2 C558.62,222.07 563.42,223.83 566.7,225.1 C569.98,226.37 572.3,228.25 574.6,228.8 C576.9,229.35 579.18,229.23 580.5,228.4 C581.82,227.57 582.27,225.22 582.5,223.8 C582.73,222.38 581.02,220.67 581.9,219.9 C582.78,219.13 585.28,219.53 587.8,219.2 C590.32,218.87 594.38,218.67 597,217.9 C599.62,217.13 601.93,216.25 603.5,214.6 C605.07,212.95 605.95,210.4 606.4,208 C606.85,205.6 606.9,203.27 606.2,200.2 C605.5,197.13 603.97,192.67 602.2,189.6 C600.43,186.53 598.23,184.08 595.6,181.8 C592.97,179.52 589.68,177.43 586.4,175.9 C583.12,174.37 579.18,173.27 575.9,172.6 C572.62,171.93 570.2,172.02 566.7,171.9Z" fill="none" stroke="#808080" stroke-width="3.6" stroke-opacity="0.65" filter="url(#bl1)"/>
</g>
<path d="M566.7,171.9 C563.2,171.78 558.62,171.23 554.9,171.9 C551.18,172.57 547.68,173.82 544.4,175.9 C541.12,177.98 537.83,181.23 535.2,184.4 C532.57,187.57 530.35,191.4 528.6,194.9 C526.85,198.4 525.4,202.55 524.7,205.4 C524,208.25 523.97,210.13 524.4,212 C524.83,213.87 525.72,215.5 527.3,216.6 C528.88,217.7 531.05,218.05 533.9,218.6 C536.75,219.15 540.9,219.47 544.4,219.9 C547.9,220.33 551.18,220.33 554.9,221.2 C558.62,222.07 563.42,223.83 566.7,225.1 C569.98,226.37 572.3,228.25 574.6,228.8 C576.9,229.35 579.18,229.23 580.5,228.4 C581.82,227.57 582.27,225.22 582.5,223.8 C582.73,222.38 581.02,220.67 581.9,219.9 C582.78,219.13 585.28,219.53 587.8,219.2 C590.32,218.87 594.38,218.67 597,217.9 C599.62,217.13 601.93,216.25 603.5,214.6 C605.07,212.95 605.95,210.4 606.4,208 C606.85,205.6 606.9,203.27 606.2,200.2 C605.5,197.13 603.97,192.67 602.2,189.6 C600.43,186.53 598.23,184.08 595.6,181.8 C592.97,179.52 589.68,177.43 586.4,175.9 C583.12,174.37 579.18,173.27 575.9,172.6 C572.62,171.93 570.2,172.02 566.7,171.9Z" fill="none" stroke="#7c7c7c" stroke-width="0.7"/>
<clipPath id="cb11"><path d="M468.2,240.3 C471.72,240.18 477.02,240.13 481.4,240.9 C485.78,241.67 490.57,243.03 494.5,244.9 C498.43,246.77 502.15,249.37 505,252.1 C507.85,254.83 509.95,258.02 511.6,261.3 C513.25,264.58 514.47,268.95 514.9,271.8 C515.33,274.65 514.97,276.43 514.2,278.4 C513.43,280.37 512.27,282.3 510.3,283.6 C508.33,284.9 505.68,285.65 502.4,286.2 C499.12,286.75 492.68,286.02 490.6,286.9 C488.52,287.78 490.57,289.85 489.9,291.5 C489.23,293.15 488.02,295.75 486.6,296.8 C485.18,297.85 483.8,298.25 481.4,297.8 C479,297.35 475.27,295.37 472.2,294.1 C469.13,292.83 466.95,291.28 463,290.2 C459.05,289.12 452.88,288.7 448.5,287.6 C444.12,286.5 439.33,285.13 436.7,283.6 C434.07,282.07 433.4,280.37 432.7,278.4 C432,276.43 432.05,274.43 432.5,271.8 C432.95,269.17 433.83,265.67 435.4,262.6 C436.97,259.53 439.28,256.25 441.9,253.4 C444.52,250.55 448.03,247.47 451.1,245.5 C454.17,243.53 457.45,242.47 460.3,241.6 C463.15,240.73 464.68,240.42 468.2,240.3Z"/></clipPath>
<path d="M468.2,240.3 C471.72,240.18 477.02,240.13 481.4,240.9 C485.78,241.67 490.57,243.03 494.5,244.9 C498.43,246.77 502.15,249.37 505,252.1 C507.85,254.83 509.95,258.02 511.6,261.3 C513.25,264.58 514.47,268.95 514.9,271.8 C515.33,274.65 514.97,276.43 514.2,278.4 C513.43,280.37 512.27,282.3 510.3,283.6 C508.33,284.9 505.68,285.65 502.4,286.2 C499.12,286.75 492.68,286.02 490.6,286.9 C488.52,287.78 490.57,289.85 489.9,291.5 C489.23,293.15 488.02,295.75 486.6,296.8 C485.18,297.85 483.8,298.25 481.4,297.8 C479,297.35 475.27,295.37 472.2,294.1 C469.13,292.83 466.95,291.28 463,290.2 C459.05,289.12 452.88,288.7 448.5,287.6 C444.12,286.5 439.33,285.13 436.7,283.6 C434.07,282.07 433.4,280.37 432.7,278.4 C432,276.43 432.05,274.43 432.5,271.8 C432.95,269.17 433.83,265.67 435.4,262.6 C436.97,259.53 439.28,256.25 441.9,253.4 C444.52,250.55 448.03,247.47 451.1,245.5 C454.17,243.53 457.45,242.47 460.3,241.6 C463.15,240.73 464.68,240.42 468.2,240.3Z" fill="url(#bg)"/>
<g clip-path="url(#cb11)">
<g filter="url(#bl07)" stroke="#ffffff" stroke-width="1.6" stroke-opacity="0.9" fill="none" stroke-linecap="round">
<path d="M448.5,269.3 C449.6,267.52 451.82,261.03 455.1,258.6 C458.38,256.17 463.38,255.47 468.2,254.7 C473.02,253.93 479.18,253.57 484,254 C488.82,254.43 493.6,255.65 497.1,257.3 C500.6,258.95 503.68,262.8 505,263.9"/>
<path d="M442.5,277.3 C444.5,277.72 452.5,279.38 454.5,279.8"/>
</g>
<g filter="url(#bl07)" stroke="#8e8e8e" stroke-width="1.7" stroke-opacity="0.75" fill="none" stroke-linecap="round">
<path d="M448.5,268 C449.6,266.22 451.82,259.73 455.1,257.3 C458.38,254.87 463.38,254.17 468.2,253.4 C473.02,252.63 479.18,252.27 484,252.7 C488.82,253.13 493.6,254.35 497.1,256 C500.6,257.65 503.68,261.5 505,262.6"/>
<path d="M442.5,276 C444.5,276.42 452.5,278.08 454.5,278.5"/>
</g>
<path d="M451.3,244.9L455.9,242.2L461.2,240.5L465.8,240.9L466.2,244.9L462.5,247.5L459.8,249.5L455.9,249.2L452.6,247.5Z" fill="#e06a50"/>
<path d="M452.0,246.0L456.0,244.0L460.0,247.0L459.8,249.5L455.9,249.2Z" fill="#c83040"/>
<path d="M440.8,257.3L444.1,252.1L447.4,249.5L448.0,254.7L445.4,258.7L443.4,262.6L440.8,263.2Z" fill="#d84850"/>
<path d="M455.6,256.7L459.2,255.4L463.1,256.0L464.4,259.3L462.5,262.6L458.5,261.9L455.2,260.0Z" fill="#3a88c8"/>
<path d="M511.7,275.7L515.5,276.0L515.0,283.6L511.7,283.0Z" fill="#3a80b8"/>
<path d="M468.2,240.3 C471.72,240.18 477.02,240.13 481.4,240.9 C485.78,241.67 490.57,243.03 494.5,244.9 C498.43,246.77 502.15,249.37 505,252.1 C507.85,254.83 509.95,258.02 511.6,261.3 C513.25,264.58 514.47,268.95 514.9,271.8 C515.33,274.65 514.97,276.43 514.2,278.4 C513.43,280.37 512.27,282.3 510.3,283.6 C508.33,284.9 505.68,285.65 502.4,286.2 C499.12,286.75 492.68,286.02 490.6,286.9 C488.52,287.78 490.57,289.85 489.9,291.5 C489.23,293.15 488.02,295.75 486.6,296.8 C485.18,297.85 483.8,298.25 481.4,297.8 C479,297.35 475.27,295.37 472.2,294.1 C469.13,292.83 466.95,291.28 463,290.2 C459.05,289.12 452.88,288.7 448.5,287.6 C444.12,286.5 439.33,285.13 436.7,283.6 C434.07,282.07 433.4,280.37 432.7,278.4 C432,276.43 432.05,274.43 432.5,271.8 C432.95,269.17 433.83,265.67 435.4,262.6 C436.97,259.53 439.28,256.25 441.9,253.4 C444.52,250.55 448.03,247.47 451.1,245.5 C454.17,243.53 457.45,242.47 460.3,241.6 C463.15,240.73 464.68,240.42 468.2,240.3Z" fill="none" stroke="#808080" stroke-width="3.6" stroke-opacity="0.65" filter="url(#bl1)"/>
<path d="M458.2,267.8 C458.97,266.15 460.5,264.28 462.8,263.2 C465.1,262.12 468.5,261.67 472,261.3 C475.5,260.93 480.3,260.68 483.8,261 C487.3,261.32 490.38,262.07 493,263.2 C495.62,264.33 498.08,266.15 499.5,267.8 C500.92,269.45 501.5,271.33 501.5,273.1 C501.5,274.87 500.92,276.75 499.5,278.4 C498.08,280.05 494.75,281.7 493,283 C491.25,284.3 489.55,284.78 489,286.2 C488.45,287.62 490.02,290.18 489.7,291.5 C489.38,292.82 488.52,293.67 487.1,294.1 C485.68,294.53 482.85,294.53 481.2,294.1 C479.55,293.67 478.42,292.58 477.2,291.5 C475.98,290.42 475.43,288.92 473.9,287.6 C472.37,286.28 470.08,285.13 468,283.6 C465.92,282.07 463.03,280.15 461.4,278.4 C459.77,276.65 458.73,274.87 458.2,273.1 C457.67,271.33 457.43,269.45 458.2,267.8Z" fill="url(#mwg)"/>
</g>
<path d="M468.2,240.3 C471.72,240.18 477.02,240.13 481.4,240.9 C485.78,241.67 490.57,243.03 494.5,244.9 C498.43,246.77 502.15,249.37 505,252.1 C507.85,254.83 509.95,258.02 511.6,261.3 C513.25,264.58 514.47,268.95 514.9,271.8 C515.33,274.65 514.97,276.43 514.2,278.4 C513.43,280.37 512.27,282.3 510.3,283.6 C508.33,284.9 505.68,285.65 502.4,286.2 C499.12,286.75 492.68,286.02 490.6,286.9 C488.52,287.78 490.57,289.85 489.9,291.5 C489.23,293.15 488.02,295.75 486.6,296.8 C485.18,297.85 483.8,298.25 481.4,297.8 C479,297.35 475.27,295.37 472.2,294.1 C469.13,292.83 466.95,291.28 463,290.2 C459.05,289.12 452.88,288.7 448.5,287.6 C444.12,286.5 439.33,285.13 436.7,283.6 C434.07,282.07 433.4,280.37 432.7,278.4 C432,276.43 432.05,274.43 432.5,271.8 C432.95,269.17 433.83,265.67 435.4,262.6 C436.97,259.53 439.28,256.25 441.9,253.4 C444.52,250.55 448.03,247.47 451.1,245.5 C454.17,243.53 457.45,242.47 460.3,241.6 C463.15,240.73 464.68,240.42 468.2,240.3Z" fill="none" stroke="#7c7c7c" stroke-width="0.7"/>
<clipPath id="cb12"><path d="M570.2,240.3 C566.68,240.18 561.38,240.13 557,240.9 C552.62,241.67 547.83,243.03 543.9,244.9 C539.97,246.77 536.25,249.37 533.4,252.1 C530.55,254.83 528.45,258.02 526.8,261.3 C525.15,264.58 523.93,268.95 523.5,271.8 C523.07,274.65 523.43,276.43 524.2,278.4 C524.97,280.37 526.13,282.3 528.1,283.6 C530.07,284.9 532.72,285.65 536,286.2 C539.28,286.75 545.72,286.02 547.8,286.9 C549.88,287.78 547.83,289.85 548.5,291.5 C549.17,293.15 550.38,295.75 551.8,296.8 C553.22,297.85 554.6,298.25 557,297.8 C559.4,297.35 563.13,295.37 566.2,294.1 C569.27,292.83 571.45,291.28 575.4,290.2 C579.35,289.12 585.52,288.7 589.9,287.6 C594.28,286.5 599.07,285.13 601.7,283.6 C604.33,282.07 605,280.37 605.7,278.4 C606.4,276.43 606.35,274.43 605.9,271.8 C605.45,269.17 604.57,265.67 603,262.6 C601.43,259.53 599.12,256.25 596.5,253.4 C593.88,250.55 590.37,247.47 587.3,245.5 C584.23,243.53 580.95,242.47 578.1,241.6 C575.25,240.73 573.72,240.42 570.2,240.3Z"/></clipPath>
<path d="M570.2,240.3 C566.68,240.18 561.38,240.13 557,240.9 C552.62,241.67 547.83,243.03 543.9,244.9 C539.97,246.77 536.25,249.37 533.4,252.1 C530.55,254.83 528.45,258.02 526.8,261.3 C525.15,264.58 523.93,268.95 523.5,271.8 C523.07,274.65 523.43,276.43 524.2,278.4 C524.97,280.37 526.13,282.3 528.1,283.6 C530.07,284.9 532.72,285.65 536,286.2 C539.28,286.75 545.72,286.02 547.8,286.9 C549.88,287.78 547.83,289.85 548.5,291.5 C549.17,293.15 550.38,295.75 551.8,296.8 C553.22,297.85 554.6,298.25 557,297.8 C559.4,297.35 563.13,295.37 566.2,294.1 C569.27,292.83 571.45,291.28 575.4,290.2 C579.35,289.12 585.52,288.7 589.9,287.6 C594.28,286.5 599.07,285.13 601.7,283.6 C604.33,282.07 605,280.37 605.7,278.4 C606.4,276.43 606.35,274.43 605.9,271.8 C605.45,269.17 604.57,265.67 603,262.6 C601.43,259.53 599.12,256.25 596.5,253.4 C593.88,250.55 590.37,247.47 587.3,245.5 C584.23,243.53 580.95,242.47 578.1,241.6 C575.25,240.73 573.72,240.42 570.2,240.3Z" fill="url(#bg)"/>
<g clip-path="url(#cb12)">
<g filter="url(#bl07)" stroke="#ffffff" stroke-width="1.6" stroke-opacity="0.9" fill="none" stroke-linecap="round">
<path d="M589.9,269.3 C588.8,267.52 586.58,261.03 583.3,258.6 C580.02,256.17 575.02,255.47 570.2,254.7 C565.38,253.93 559.22,253.57 554.4,254 C549.58,254.43 544.8,255.65 541.3,257.3 C537.8,258.95 534.72,262.8 533.4,263.9"/>
<path d="M595.9,277.3 C593.9,277.72 585.9,279.38 583.9,279.8"/>
</g>
<g filter="url(#bl07)" stroke="#8e8e8e" stroke-width="1.7" stroke-opacity="0.75" fill="none" stroke-linecap="round">
<path d="M589.9,268 C588.8,266.22 586.58,259.73 583.3,257.3 C580.02,254.87 575.02,254.17 570.2,253.4 C565.38,252.63 559.22,252.27 554.4,252.7 C549.58,253.13 544.8,254.35 541.3,256 C537.8,257.65 534.72,261.5 533.4,262.6"/>
<path d="M595.9,276 C593.9,276.42 585.9,278.08 583.9,278.5"/>
</g>
<path d="M525.3,266.5L529.2,264.6L532.5,261.9L533.1,266.5L531.8,273.1L529.2,277.0L525.9,279.0L524.2,274.4L524.2,269.2Z" fill="#3a88c8"/>
<path d="M580.2,256.0L583.7,254.1L586.7,256.0L586.4,260.0L582.4,260.6L579.8,258.7Z" fill="#3a88c8"/>
<path d="M594.6,256.0L597.5,254.4L599.5,258.0L598.6,261.9L596.2,263.9L593.8,260.6Z" fill="#d84848"/>
<path d="M540.4,288.2L545.0,287.3L549.6,286.9L549.2,288.6L543.7,289.3Z" fill="#d85040"/>
<path d="M570.2,240.3 C566.68,240.18 561.38,240.13 557,240.9 C552.62,241.67 547.83,243.03 543.9,244.9 C539.97,246.77 536.25,249.37 533.4,252.1 C530.55,254.83 528.45,258.02 526.8,261.3 C525.15,264.58 523.93,268.95 523.5,271.8 C523.07,274.65 523.43,276.43 524.2,278.4 C524.97,280.37 526.13,282.3 528.1,283.6 C530.07,284.9 532.72,285.65 536,286.2 C539.28,286.75 545.72,286.02 547.8,286.9 C549.88,287.78 547.83,289.85 548.5,291.5 C549.17,293.15 550.38,295.75 551.8,296.8 C553.22,297.85 554.6,298.25 557,297.8 C559.4,297.35 563.13,295.37 566.2,294.1 C569.27,292.83 571.45,291.28 575.4,290.2 C579.35,289.12 585.52,288.7 589.9,287.6 C594.28,286.5 599.07,285.13 601.7,283.6 C604.33,282.07 605,280.37 605.7,278.4 C606.4,276.43 606.35,274.43 605.9,271.8 C605.45,269.17 604.57,265.67 603,262.6 C601.43,259.53 599.12,256.25 596.5,253.4 C593.88,250.55 590.37,247.47 587.3,245.5 C584.23,243.53 580.95,242.47 578.1,241.6 C575.25,240.73 573.72,240.42 570.2,240.3Z" fill="none" stroke="#808080" stroke-width="3.6" stroke-opacity="0.65" filter="url(#bl1)"/>
<path d="M580.2,267.8 C579.43,266.15 577.9,264.28 575.6,263.2 C573.3,262.12 569.9,261.67 566.4,261.3 C562.9,260.93 558.1,260.68 554.6,261 C551.1,261.32 548.02,262.07 545.4,263.2 C542.78,264.33 540.32,266.15 538.9,267.8 C537.48,269.45 536.9,271.33 536.9,273.1 C536.9,274.87 537.48,276.75 538.9,278.4 C540.32,280.05 543.65,281.7 545.4,283 C547.15,284.3 548.85,284.78 549.4,286.2 C549.95,287.62 548.38,290.18 548.7,291.5 C549.02,292.82 549.88,293.67 551.3,294.1 C552.72,294.53 555.55,294.53 557.2,294.1 C558.85,293.67 559.98,292.58 561.2,291.5 C562.42,290.42 562.97,288.92 564.5,287.6 C566.03,286.28 568.32,285.13 570.4,283.6 C572.48,282.07 575.37,280.15 577,278.4 C578.63,276.65 579.67,274.87 580.2,273.1 C580.73,271.33 580.97,269.45 580.2,267.8Z" fill="url(#mwgm)"/>
</g>
<path d="M570.2,240.3 C566.68,240.18 561.38,240.13 557,240.9 C552.62,241.67 547.83,243.03 543.9,244.9 C539.97,246.77 536.25,249.37 533.4,252.1 C530.55,254.83 528.45,258.02 526.8,261.3 C525.15,264.58 523.93,268.95 523.5,271.8 C523.07,274.65 523.43,276.43 524.2,278.4 C524.97,280.37 526.13,282.3 528.1,283.6 C530.07,284.9 532.72,285.65 536,286.2 C539.28,286.75 545.72,286.02 547.8,286.9 C549.88,287.78 547.83,289.85 548.5,291.5 C549.17,293.15 550.38,295.75 551.8,296.8 C553.22,297.85 554.6,298.25 557,297.8 C559.4,297.35 563.13,295.37 566.2,294.1 C569.27,292.83 571.45,291.28 575.4,290.2 C579.35,289.12 585.52,288.7 589.9,287.6 C594.28,286.5 599.07,285.13 601.7,283.6 C604.33,282.07 605,280.37 605.7,278.4 C606.4,276.43 606.35,274.43 605.9,271.8 C605.45,269.17 604.57,265.67 603,262.6 C601.43,259.53 599.12,256.25 596.5,253.4 C593.88,250.55 590.37,247.47 587.3,245.5 C584.23,243.53 580.95,242.47 578.1,241.6 C575.25,240.73 573.72,240.42 570.2,240.3Z" fill="none" stroke="#7c7c7c" stroke-width="0.7"/>
<rect x="635" y="203.9" width="14.6" height="56.8" fill="url(#cbar)"/>
<line x1="649.4" y1="223.5" x2="649.4" y2="240.1" stroke="#c8c8c8" stroke-width="0.5"/>
<text x="654.6" y="207.2" font-size="8.0" fill="#262626">5</text>
<text x="654.4" y="264" font-size="8.0" fill="#262626">-5</text>
<text transform="translate(628,268.1) rotate(-90)" font-size="8.3" fill="#262626" textLength="73" lengthAdjust="spacingAndGlyphs">t values (<tspan font-style="italic">p</tspan><tspan font-size="5.5" font-style="italic" dy="1.6">FDR</tspan><tspan dy="-1.6"> &lt; 0.05)</tspan></text>
<clipPath id="cb13"><path d="M533,55.57 C536.26,55.46 540.53,54.96 544,55.57 C547.46,56.18 550.72,57.33 553.78,59.24 C556.84,61.15 559.9,64.14 562.36,67.04 C564.81,69.95 566.88,73.47 568.51,76.68 C570.14,79.89 571.49,83.7 572.14,86.32 C572.8,88.94 572.83,90.67 572.42,92.38 C572.02,94.09 571.2,95.59 569.72,96.6 C568.25,97.61 566.23,97.93 563.57,98.44 C560.91,98.94 557.05,99.23 553.78,99.63 C550.52,100.03 547.46,100.03 544,100.82 C540.53,101.62 536.06,103.24 533,104.4 C529.94,105.57 527.78,107.3 525.64,107.8 C523.49,108.31 521.37,108.2 520.14,107.43 C518.91,106.67 518.49,104.51 518.27,103.21 C518.06,101.91 519.66,100.34 518.83,99.63 C518.01,98.93 515.68,99.29 513.34,98.99 C510.99,98.68 507.2,98.5 504.76,97.8 C502.32,97.09 500.16,96.28 498.7,94.77 C497.24,93.25 496.42,90.91 496,88.71 C495.58,86.5 495.53,84.36 496.19,81.55 C496.84,78.73 498.27,74.63 499.91,71.82 C501.56,69 503.61,66.75 506.07,64.66 C508.52,62.56 511.58,60.65 514.64,59.24 C517.7,57.83 521.37,56.82 524.43,56.21 C527.49,55.6 529.74,55.67 533,55.57Z"/></clipPath>
<path d="M533,55.57 C536.26,55.46 540.53,54.96 544,55.57 C547.46,56.18 550.72,57.33 553.78,59.24 C556.84,61.15 559.9,64.14 562.36,67.04 C564.81,69.95 566.88,73.47 568.51,76.68 C570.14,79.89 571.49,83.7 572.14,86.32 C572.8,88.94 572.83,90.67 572.42,92.38 C572.02,94.09 571.2,95.59 569.72,96.6 C568.25,97.61 566.23,97.93 563.57,98.44 C560.91,98.94 557.05,99.23 553.78,99.63 C550.52,100.03 547.46,100.03 544,100.82 C540.53,101.62 536.06,103.24 533,104.4 C529.94,105.57 527.78,107.3 525.64,107.8 C523.49,108.31 521.37,108.2 520.14,107.43 C518.91,106.67 518.49,104.51 518.27,103.21 C518.06,101.91 519.66,100.34 518.83,99.63 C518.01,98.93 515.68,99.29 513.34,98.99 C510.99,98.68 507.2,98.5 504.76,97.8 C502.32,97.09 500.16,96.28 498.7,94.77 C497.24,93.25 496.42,90.91 496,88.71 C495.58,86.5 495.53,84.36 496.19,81.55 C496.84,78.73 498.27,74.63 499.91,71.82 C501.56,69 503.61,66.75 506.07,64.66 C508.52,62.56 511.58,60.65 514.64,59.24 C517.7,57.83 521.37,56.82 524.43,56.21 C527.49,55.6 529.74,55.67 533,55.57Z" fill="#e47560"/>
<g clip-path="url(#cb13)">
<path d="M490.0,78.2L490.0,62.3L507.0,72.9L507.4,73.3L500.0,80.7ZM500.0,80.7L507.4,73.3L509.0,74.1L509.8,80.5L504.7,84.5L503.0,83.7ZM527.6,66.7L525.3,63.8L529.3,53.8L533.5,63.6L531.3,66.7ZM539.2,49.2L554.9,49.2L544.9,66.3L544.5,66.6L539.2,61.3ZM554.9,49.2L557.2,49.2L556.1,65.5L554.0,67.8L544.9,66.3ZM524.9,75.1L524.3,72.5L527.6,66.7L531.3,66.7L535.2,71.4L534.0,76.5L530.2,78.9ZM531.3,66.7L533.5,63.6L539.2,61.3L544.5,66.6L543.6,69.0L535.2,71.4ZM552.9,88.9L554.7,87.0L561.9,87.0L562.2,87.3L562.2,107.7ZM579.9,103.7L579.9,114.0L563.8,114.0L562.2,107.7L562.2,87.3L565.9,87.3Z" fill="#8a1aa0" stroke="#8a1aa0" stroke-width="0.3"/>
<path d="M490.0,49.2L499.8,49.2L509.6,65.0L507.0,72.9L490.0,62.3ZM505.1,49.2L516.7,49.2L520.5,62.5L516.4,66.2ZM499.8,49.2L505.1,49.2L516.4,66.2L516.1,66.8L509.6,65.0ZM529.6,49.2L539.2,49.2L539.2,61.3L533.5,63.6L529.3,53.8ZM546.3,77.1L543.6,69.0L544.5,66.6L544.9,66.3L554.0,67.8L554.6,71.6L547.3,77.1ZM565.9,87.3L562.2,87.3L561.9,87.0L562.4,80.7L576.7,77.8ZM533.6,94.8L532.3,90.4L532.8,89.0L538.6,87.0L544.3,92.7L539.1,97.9L538.2,98.1ZM558.1,114.0L535.9,114.0L538.2,98.1L539.1,97.9L550.3,103.5ZM513.2,114.0L490.0,114.0L490.0,99.3L495.6,97.1L507.6,95.4L513.8,110.8Z" fill="#e47560" stroke="#e47560" stroke-width="0.3"/>
<path d="M516.7,49.2L529.6,49.2L529.3,53.8L525.3,63.8L520.5,62.5ZM507.4,73.3L507.0,72.9L509.6,65.0L516.1,66.8L516.1,69.8L513.8,72.5L509.0,74.1ZM566.4,69.6L559.4,75.4L554.6,71.6L554.0,67.8L556.1,65.5ZM579.9,65.9L579.9,76.2L576.7,77.8L562.4,80.7L559.2,77.1L559.4,75.4L566.4,69.6ZM538.6,87.0L542.9,80.9L543.5,80.8L550.2,89.2L546.7,92.7L544.3,92.7ZM539.1,97.9L544.3,92.7L546.7,92.7L550.3,103.5ZM507.6,95.4L509.8,92.8L516.2,94.9L519.2,98.9L513.8,110.8ZM557.2,49.2L579.9,49.2L579.9,65.9L566.4,69.6L556.1,65.5ZM519.1,79.8L519.1,79.7L524.9,75.1L530.2,78.9L529.7,83.5L527.2,83.9ZM563.8,114.0L558.1,114.0L550.3,103.5L546.7,92.7L550.2,89.2L552.9,88.9L562.2,107.7Z" fill="#d65c6c" stroke="#d65c6c" stroke-width="0.3"/>
<path d="M524.3,72.5L516.1,69.8L516.1,66.8L516.4,66.2L520.5,62.5L525.3,63.8L527.6,66.7ZM554.7,87.0L554.3,80.7L559.2,77.1L562.4,80.7L561.9,87.0ZM495.6,97.1L505.5,87.2L509.5,90.4L509.8,92.8L507.6,95.4ZM490.0,99.3L490.0,96.7L503.0,83.7L504.7,84.5L505.5,87.2L495.6,97.1Z" fill="#f4b636" stroke="#f4b636" stroke-width="0.3"/>
<path d="M509.8,80.5L509.0,74.1L513.8,72.5L519.1,79.7L519.1,79.8L516.5,84.3L515.5,84.3ZM519.1,79.7L513.8,72.5L516.1,69.8L524.3,72.5L524.9,75.1ZM543.5,80.8L546.3,77.1L547.3,77.1L554.3,80.7L554.7,87.0L552.9,88.9L550.2,89.2ZM530.2,78.9L534.0,76.5L542.9,80.9L538.6,87.0L532.8,89.0L529.7,83.5ZM521.0,98.1L524.4,92.7L532.3,90.4L533.6,94.8L528.9,100.7ZM535.9,114.0L532.6,114.0L528.9,100.7L533.6,94.8L538.2,98.1ZM532.6,114.0L513.2,114.0L513.8,110.8L519.2,98.9L521.0,98.1L528.9,100.7ZM547.3,77.1L554.6,71.6L559.4,75.4L559.2,77.1L554.3,80.7Z" fill="#ef8c48" stroke="#ef8c48" stroke-width="0.3"/>
<path d="M534.0,76.5L535.2,71.4L543.6,69.0L546.3,77.1L543.5,80.8L542.9,80.9ZM516.2,94.9L518.1,86.2L520.7,87.1L524.4,92.7L521.0,98.1L519.2,98.9ZM515.5,84.3L516.5,84.3L518.1,86.2L516.2,94.9L509.8,92.8L509.5,90.4ZM524.4,92.7L520.7,87.1L527.2,83.9L529.7,83.5L532.8,89.0L532.3,90.4Z" fill="#5c0aa8" stroke="#5c0aa8" stroke-width="0.3"/>
<path d="M579.9,76.2L579.9,103.7L565.9,87.3L576.7,77.8ZM490.0,96.7L490.0,78.2L500.0,80.7L503.0,83.7Z" fill="#d6c224" stroke="#d6c224" stroke-width="0.3"/>
<path d="M516.5,84.3L519.1,79.8L527.2,83.9L520.7,87.1L518.1,86.2ZM504.7,84.5L509.8,80.5L515.5,84.3L509.5,90.4L505.5,87.2Z" fill="#c84878" stroke="#c84878" stroke-width="0.3"/>
<path d="M497.4,82.74 C497.86,81.06 498.75,75.5 500.19,72.64 C501.64,69.78 503.66,67.65 506.07,65.57 C508.47,63.49 511.58,61.56 514.64,60.16 C517.7,58.75 521.63,57.74 524.43,57.13 C527.22,56.52 530.25,56.59 531.42,56.49" fill="none" stroke="#d8c428" stroke-width="2.2"/>
<path d="M533,55.57 C536.26,55.46 540.53,54.96 544,55.57 C547.46,56.18 550.72,57.33 553.78,59.24 C556.84,61.15 559.9,64.14 562.36,67.04 C564.81,69.95 566.88,73.47 568.51,76.68 C570.14,79.89 571.49,83.7 572.14,86.32 C572.8,88.94 572.83,90.67 572.42,92.38 C572.02,94.09 571.2,95.59 569.72,96.6 C568.25,97.61 566.23,97.93 563.57,98.44 C560.91,98.94 557.05,99.23 553.78,99.63 C550.52,100.03 547.46,100.03 544,100.82 C540.53,101.62 536.06,103.24 533,104.4 C529.94,105.57 527.78,107.3 525.64,107.8 C523.49,108.31 521.37,108.2 520.14,107.43 C518.91,106.67 518.49,104.51 518.27,103.21 C518.06,101.91 519.66,100.34 518.83,99.63 C518.01,98.93 515.68,99.29 513.34,98.99 C510.99,98.68 507.2,98.5 504.76,97.8 C502.32,97.09 500.16,96.28 498.7,94.77 C497.24,93.25 496.42,90.91 496,88.71 C495.58,86.5 495.53,84.36 496.19,81.55 C496.84,78.73 498.27,74.63 499.91,71.82 C501.56,69 503.61,66.75 506.07,64.66 C508.52,62.56 511.58,60.65 514.64,59.24 C517.7,57.83 521.37,56.82 524.43,56.21 C527.49,55.6 529.74,55.67 533,55.57Z" fill="none" stroke="#808080" stroke-width="3.6" stroke-opacity="0.35" filter="url(#bl1)"/>
</g>
<path d="M533,55.57 C536.26,55.46 540.53,54.96 544,55.57 C547.46,56.18 550.72,57.33 553.78,59.24 C556.84,61.15 559.9,64.14 562.36,67.04 C564.81,69.95 566.88,73.47 568.51,76.68 C570.14,79.89 571.49,83.7 572.14,86.32 C572.8,88.94 572.83,90.67 572.42,92.38 C572.02,94.09 571.2,95.59 569.72,96.6 C568.25,97.61 566.23,97.93 563.57,98.44 C560.91,98.94 557.05,99.23 553.78,99.63 C550.52,100.03 547.46,100.03 544,100.82 C540.53,101.62 536.06,103.24 533,104.4 C529.94,105.57 527.78,107.3 525.64,107.8 C523.49,108.31 521.37,108.2 520.14,107.43 C518.91,106.67 518.49,104.51 518.27,103.21 C518.06,101.91 519.66,100.34 518.83,99.63 C518.01,98.93 515.68,99.29 513.34,98.99 C510.99,98.68 507.2,98.5 504.76,97.8 C502.32,97.09 500.16,96.28 498.7,94.77 C497.24,93.25 496.42,90.91 496,88.71 C495.58,86.5 495.53,84.36 496.19,81.55 C496.84,78.73 498.27,74.63 499.91,71.82 C501.56,69 503.61,66.75 506.07,64.66 C508.52,62.56 511.58,60.65 514.64,59.24 C517.7,57.83 521.37,56.82 524.43,56.21 C527.49,55.6 529.74,55.67 533,55.57Z" fill="none" stroke="#7c7c7c" stroke-width="0.7"/>
<clipPath id="cb14"><path d="M611.31,54.07 C614.54,53.97 619.41,53.92 623.44,54.62 C627.47,55.31 631.86,56.56 635.48,58.25 C639.09,59.95 642.51,62.31 645.13,64.8 C647.75,67.28 649.68,70.18 651.19,73.16 C652.71,76.15 653.83,80.12 654.23,82.71 C654.62,85.3 654.29,86.92 653.58,88.71 C652.88,90.49 651.81,92.25 650,93.43 C648.19,94.61 645.76,95.3 642.74,95.8 C639.72,96.3 633.81,95.63 631.89,96.43 C629.98,97.24 631.86,99.11 631.25,100.61 C630.64,102.11 629.52,104.48 628.22,105.43 C626.92,106.39 625.64,106.75 623.44,106.34 C621.23,105.93 617.8,104.13 614.98,102.98 C612.17,101.83 610.16,100.42 606.53,99.43 C602.9,98.45 597.23,98.07 593.2,97.07 C589.18,96.07 584.78,94.83 582.36,93.43 C579.94,92.04 579.33,90.49 578.68,88.71 C578.04,86.92 578.09,85.1 578.5,82.71 C578.91,80.31 579.73,77.13 581.17,74.34 C582.6,71.56 584.73,68.57 587.14,65.98 C589.54,63.39 592.78,60.59 595.59,58.8 C598.41,57.01 601.43,56.04 604.05,55.25 C606.67,54.47 608.08,54.18 611.31,54.07Z"/></clipPath>
<path d="M611.31,54.07 C614.54,53.97 619.41,53.92 623.44,54.62 C627.47,55.31 631.86,56.56 635.48,58.25 C639.09,59.95 642.51,62.31 645.13,64.8 C647.75,67.28 649.68,70.18 651.19,73.16 C652.71,76.15 653.83,80.12 654.23,82.71 C654.62,85.3 654.29,86.92 653.58,88.71 C652.88,90.49 651.81,92.25 650,93.43 C648.19,94.61 645.76,95.3 642.74,95.8 C639.72,96.3 633.81,95.63 631.89,96.43 C629.98,97.24 631.86,99.11 631.25,100.61 C630.64,102.11 629.52,104.48 628.22,105.43 C626.92,106.39 625.64,106.75 623.44,106.34 C621.23,105.93 617.8,104.13 614.98,102.98 C612.17,101.83 610.16,100.42 606.53,99.43 C602.9,98.45 597.23,98.07 593.2,97.07 C589.18,96.07 584.78,94.83 582.36,93.43 C579.94,92.04 579.33,90.49 578.68,88.71 C578.04,86.92 578.09,85.1 578.5,82.71 C578.91,80.31 579.73,77.13 581.17,74.34 C582.6,71.56 584.73,68.57 587.14,65.98 C589.54,63.39 592.78,60.59 595.59,58.8 C598.41,57.01 601.43,56.04 604.05,55.25 C606.67,54.47 608.08,54.18 611.31,54.07Z" fill="#e47560"/>
<g clip-path="url(#cb14)">
<path d="M581.7,47.8L597.0,47.8L599.9,60.8L595.6,65.1L590.9,63.9ZM633.7,68.1L633.4,66.5L635.1,63.2L652.9,53.0L643.9,71.0ZM660.8,78.1L646.8,86.1L644.1,75.2L644.8,74.1ZM618.2,112.0L600.3,112.0L609.9,88.0L611.4,86.0L615.1,85.2L620.3,85.8ZM631.9,47.8L657.7,47.8L652.9,53.0L635.1,63.2L633.0,59.0ZM657.7,47.8L661.2,47.8L661.2,78.0L660.8,78.1L644.8,74.1L643.9,71.0L652.9,53.0ZM591.6,112.0L572.5,112.0L572.5,91.4L581.9,89.5L591.6,97.3ZM637.5,112.0L618.2,112.0L620.3,85.8L623.5,84.7L623.9,84.7ZM661.2,101.6L661.2,112.0L643.0,112.0L640.5,89.4L645.2,88.2ZM625.7,84.1L633.7,68.1L643.9,71.0L644.8,74.1L644.1,75.2L630.1,84.6Z" fill="#e47560" stroke="#e47560" stroke-width="0.3"/>
<path d="M610.9,47.8L610.9,47.8L616.4,61.5L615.7,63.7L614.0,64.3L607.9,59.7ZM633.4,66.5L626.1,63.2L625.2,59.0L633.0,59.0L635.1,63.2ZM586.1,84.4L584.6,80.8L588.6,74.1L590.5,74.6L594.2,83.9L592.8,85.2ZM592.8,94.9L592.8,85.2L594.2,83.9L603.6,82.1L611.4,86.0L609.9,88.0ZM643.0,112.0L637.5,112.0L623.9,84.7L625.7,84.1L630.1,84.6L640.5,89.4Z" fill="#ef8c48" stroke="#ef8c48" stroke-width="0.3"/>
<path d="M595.6,65.1L599.9,60.8L603.4,62.2L605.8,67.9L599.6,72.9L597.3,71.7ZM624.8,47.8L631.9,47.8L633.0,59.0L625.2,59.0L624.0,56.4ZM572.5,91.4L572.5,76.8L584.6,80.8L586.1,84.4L581.9,89.5Z" fill="#f4b636" stroke="#f4b636" stroke-width="0.3"/>
<path d="M605.8,67.9L603.4,62.2L607.9,59.7L614.0,64.3L610.0,69.0ZM590.9,63.9L595.6,65.1L597.3,71.7L590.5,74.6L588.6,74.1L585.5,70.6Z" fill="#c84878" stroke="#c84878" stroke-width="0.3"/>
<path d="M625.2,59.0L626.1,63.2L620.7,67.5L615.7,63.7L616.4,61.5L624.0,56.4ZM572.5,76.8L572.5,68.0L585.5,70.6L588.6,74.1L584.6,80.8ZM581.9,89.5L586.1,84.4L592.8,85.2L592.8,94.9L591.6,97.3ZM610.9,47.8L624.8,47.8L624.0,56.4L616.4,61.5Z" fill="#8a1aa0" stroke="#8a1aa0" stroke-width="0.3"/>
<path d="M623.5,84.7L620.7,67.5L626.1,63.2L633.4,66.5L633.7,68.1L625.7,84.1L623.9,84.7Z" fill="#5c0aa8" stroke="#5c0aa8" stroke-width="0.3"/>
<path d="M610.0,69.0L614.0,64.3L615.7,63.7L620.7,67.5L623.5,84.7L620.3,85.8L615.1,85.2ZM600.3,112.0L591.6,112.0L591.6,97.3L592.8,94.9L609.9,88.0ZM644.1,75.2L646.8,86.1L645.2,88.2L640.5,89.4L630.1,84.6ZM597.0,47.8L610.9,47.8L607.9,59.7L603.4,62.2L599.9,60.8ZM572.5,47.8L581.7,47.8L590.9,63.9L585.5,70.6L572.5,68.0ZM594.2,83.9L590.5,74.6L597.3,71.7L599.6,72.9L603.6,82.1ZM599.6,72.9L605.8,67.9L610.0,69.0L615.1,85.2L611.4,86.0L603.6,82.1Z" fill="#d65c6c" stroke="#d65c6c" stroke-width="0.3"/>
<path d="M661.2,78.0L661.2,101.6L645.2,88.2L646.8,86.1L660.8,78.1Z" fill="#d6c224" stroke="#d6c224" stroke-width="0.3"/>
<path d="M611.31,54.07 C614.54,53.97 619.41,53.92 623.44,54.62 C627.47,55.31 631.86,56.56 635.48,58.25 C639.09,59.95 642.51,62.31 645.13,64.8 C647.75,67.28 649.68,70.18 651.19,73.16 C652.71,76.15 653.83,80.12 654.23,82.71 C654.62,85.3 654.29,86.92 653.58,88.71 C652.88,90.49 651.81,92.25 650,93.43 C648.19,94.61 645.76,95.3 642.74,95.8 C639.72,96.3 633.81,95.63 631.89,96.43 C629.98,97.24 631.86,99.11 631.25,100.61 C630.64,102.11 629.52,104.48 628.22,105.43 C626.92,106.39 625.64,106.75 623.44,106.34 C621.23,105.93 617.8,104.13 614.98,102.98 C612.17,101.83 610.16,100.42 606.53,99.43 C602.9,98.45 597.23,98.07 593.2,97.07 C589.18,96.07 584.78,94.83 582.36,93.43 C579.94,92.04 579.33,90.49 578.68,88.71 C578.04,86.92 578.09,85.1 578.5,82.71 C578.91,80.31 579.73,77.13 581.17,74.34 C582.6,71.56 584.73,68.57 587.14,65.98 C589.54,63.39 592.78,60.59 595.59,58.8 C598.41,57.01 601.43,56.04 604.05,55.25 C606.67,54.47 608.08,54.18 611.31,54.07Z" fill="none" stroke="#808080" stroke-width="3.6" stroke-opacity="0.35" filter="url(#bl1)"/>
<path d="M602.12,79.07 C602.82,77.57 604.23,75.87 606.35,74.89 C608.46,73.9 611.58,73.5 614.8,73.16 C618.02,72.83 622.43,72.6 625.64,72.89 C628.86,73.18 631.69,73.86 634.1,74.89 C636.5,75.92 638.77,77.57 640.07,79.07 C641.37,80.57 641.91,82.28 641.91,83.89 C641.91,85.49 641.37,87.21 640.07,88.71 C638.77,90.21 635.71,91.71 634.1,92.89 C632.49,94.07 630.93,94.51 630.42,95.8 C629.92,97.08 631.36,99.42 631.07,100.61 C630.78,101.81 629.98,102.58 628.68,102.98 C627.38,103.37 624.77,103.37 623.26,102.98 C621.74,102.58 620.7,101.6 619.58,100.61 C618.46,99.63 617.96,98.27 616.55,97.07 C615.14,95.87 613.04,94.83 611.12,93.43 C609.21,92.04 606.56,90.3 605.06,88.71 C603.56,87.11 602.61,85.49 602.12,83.89 C601.63,82.28 601.41,80.57 602.12,79.07Z" fill="#c6c6c6"/>
</g>
<path d="M611.31,54.07 C614.54,53.97 619.41,53.92 623.44,54.62 C627.47,55.31 631.86,56.56 635.48,58.25 C639.09,59.95 642.51,62.31 645.13,64.8 C647.75,67.28 649.68,70.18 651.19,73.16 C652.71,76.15 653.83,80.12 654.23,82.71 C654.62,85.3 654.29,86.92 653.58,88.71 C652.88,90.49 651.81,92.25 650,93.43 C648.19,94.61 645.76,95.3 642.74,95.8 C639.72,96.3 633.81,95.63 631.89,96.43 C629.98,97.24 631.86,99.11 631.25,100.61 C630.64,102.11 629.52,104.48 628.22,105.43 C626.92,106.39 625.64,106.75 623.44,106.34 C621.23,105.93 617.8,104.13 614.98,102.98 C612.17,101.83 610.16,100.42 606.53,99.43 C602.9,98.45 597.23,98.07 593.2,97.07 C589.18,96.07 584.78,94.83 582.36,93.43 C579.94,92.04 579.33,90.49 578.68,88.71 C578.04,86.92 578.09,85.1 578.5,82.71 C578.91,80.31 579.73,77.13 581.17,74.34 C582.6,71.56 584.73,68.57 587.14,65.98 C589.54,63.39 592.78,60.59 595.59,58.8 C598.41,57.01 601.43,56.04 604.05,55.25 C606.67,54.47 608.08,54.18 611.31,54.07Z" fill="none" stroke="#7c7c7c" stroke-width="0.7"/>
<clipPath id="cb15"><path d="M201.98,26.85 C199.83,26.78 197.01,26.43 194.73,26.85 C192.44,27.26 190.29,28.04 188.27,29.33 C186.25,30.62 184.23,32.63 182.61,34.6 C180.99,36.56 179.63,38.94 178.55,41.11 C177.48,43.28 176.59,45.85 176.15,47.62 C175.72,49.39 175.7,50.55 175.97,51.71 C176.24,52.87 176.78,53.88 177.75,54.56 C178.73,55.24 180.06,55.46 181.81,55.8 C183.57,56.14 186.12,56.34 188.27,56.61 C190.42,56.88 192.44,56.88 194.73,57.41 C197.01,57.95 199.97,59.05 201.98,59.83 C204,60.62 205.43,61.78 206.84,62.13 C208.26,62.47 209.66,62.39 210.47,61.88 C211.28,61.36 211.56,59.9 211.7,59.03 C211.85,58.15 210.79,57.08 211.33,56.61 C211.88,56.13 213.41,56.38 214.96,56.17 C216.51,55.97 219.01,55.84 220.62,55.37 C222.23,54.89 223.65,54.34 224.62,53.32 C225.58,52.3 226.12,50.72 226.4,49.23 C226.68,47.74 226.71,46.3 226.28,44.39 C225.85,42.49 224.9,39.72 223.82,37.82 C222.73,35.92 221.38,34.4 219.76,32.99 C218.14,31.57 216.12,30.28 214.1,29.33 C212.08,28.38 209.66,27.7 207.64,27.28 C205.62,26.87 204.14,26.92 201.98,26.85Z"/></clipPath>
<path d="M201.98,26.85 C199.83,26.78 197.01,26.43 194.73,26.85 C192.44,27.26 190.29,28.04 188.27,29.33 C186.25,30.62 184.23,32.63 182.61,34.6 C180.99,36.56 179.63,38.94 178.55,41.11 C177.48,43.28 176.59,45.85 176.15,47.62 C175.72,49.39 175.7,50.55 175.97,51.71 C176.24,52.87 176.78,53.88 177.75,54.56 C178.73,55.24 180.06,55.46 181.81,55.8 C183.57,56.14 186.12,56.34 188.27,56.61 C190.42,56.88 192.44,56.88 194.73,57.41 C197.01,57.95 199.97,59.05 201.98,59.83 C204,60.62 205.43,61.78 206.84,62.13 C208.26,62.47 209.66,62.39 210.47,61.88 C211.28,61.36 211.56,59.9 211.7,59.03 C211.85,58.15 210.79,57.08 211.33,56.61 C211.88,56.13 213.41,56.38 214.96,56.17 C216.51,55.97 219.01,55.84 220.62,55.37 C222.23,54.89 223.65,54.34 224.62,53.32 C225.58,52.3 226.12,50.72 226.4,49.23 C226.68,47.74 226.71,46.3 226.28,44.39 C225.85,42.49 224.9,39.72 223.82,37.82 C222.73,35.92 221.38,34.4 219.76,32.99 C218.14,31.57 216.12,30.28 214.1,29.33 C212.08,28.38 209.66,27.7 207.64,27.28 C205.62,26.87 204.14,26.92 201.98,26.85Z" fill="#e8f2a8"/>
<g clip-path="url(#cb15)">
<path d="M184.4,48.3L181.3,45.2L181.4,45.0L186.1,42.2L188.4,44.5L188.6,46.7Z" fill="#8fd0a4" stroke="#8fd0a4" stroke-width="0.3"/>
<path d="M177.6,66.3L171.1,66.3L171.1,48.1L181.3,45.2L184.4,48.3Z" fill="#88cca4" stroke="#88cca4" stroke-width="0.3"/>
<path d="M180.9,39.8L181.4,45.0L181.3,45.2L171.1,48.1L171.1,36.1Z" fill="#9cd4a4" stroke="#9cd4a4" stroke-width="0.3"/>
<path d="M191.6,37.6L185.5,40.6L183.6,38.9L185.0,35.0L187.3,34.8L191.6,37.5ZM191.2,66.3L189.6,66.3L189.9,63.6L195.1,49.8L196.5,49.4L200.0,53.4Z" fill="#d53e4f" stroke="#d53e4f" stroke-width="0.3"/>
<path d="M188.4,44.5L186.1,42.2L185.5,40.6L191.6,37.6L191.8,40.1ZM207.6,66.3L191.2,66.3L200.0,53.4L202.7,52.3L204.2,52.7Z" fill="#b01050" stroke="#b01050" stroke-width="0.3"/>
<path d="M186.1,42.2L181.4,45.0L180.9,39.8L183.6,38.9L185.5,40.6Z" fill="#f6a060" stroke="#f6a060" stroke-width="0.3"/>
<path d="M191.6,37.5L187.3,34.8L191.6,24.0L194.5,35.6Z" fill="#eef5b0" stroke="#eef5b0" stroke-width="0.3"/>
<path d="M185.0,35.0L183.6,38.9L180.9,39.8L171.1,36.1L171.1,21.1Z" fill="#c0e4a0" stroke="#c0e4a0" stroke-width="0.3"/>
<path d="M171.1,20.6L191.6,20.6L191.6,24.0L187.3,34.8L185.0,35.0L171.1,21.1Z" fill="#d6eeb0" stroke="#d6eeb0" stroke-width="0.3"/>
<path d="M191.6,20.6L195.0,20.6L200.0,33.2L197.1,36.0L194.5,35.6L191.6,24.0Z" fill="#66c2a5" stroke="#66c2a5" stroke-width="0.3"/>
<path d="M195.0,20.6L203.7,20.6L204.5,27.5L202.7,32.8L200.0,33.2Z" fill="#3288bd" stroke="#3288bd" stroke-width="0.3"/>
<path d="M197.1,36.0L200.0,33.2L202.7,32.8L206.3,35.9L206.4,36.7L201.4,40.4L199.6,40.1Z" fill="#3a80c0" stroke="#3a80c0" stroke-width="0.3"/>
<path d="M204.0,44.8L201.4,40.4L206.4,36.7L209.5,39.6L208.4,44.5L207.5,45.0Z" fill="#5e4fa2" stroke="#5e4fa2" stroke-width="0.3"/>
<path d="M197.6,46.5L196.4,44.0L199.6,40.1L201.4,40.4L204.0,44.8L202.0,47.3Z" fill="#3a7dc0" stroke="#3a7dc0" stroke-width="0.3"/>
<path d="M191.8,40.1L191.6,37.6L191.6,37.5L194.5,35.6L197.1,36.0L199.6,40.1L196.4,44.0L195.5,43.9Z" fill="#a0d8a0" stroke="#a0d8a0" stroke-width="0.3"/>
<path d="M188.6,46.7L188.4,44.5L191.8,40.1L195.5,43.9L190.1,47.6L189.9,47.6Z" fill="#dcefa8" stroke="#dcefa8" stroke-width="0.3"/>
<path d="M190.1,47.6L195.5,43.9L196.4,44.0L197.6,46.5L196.5,49.4L195.1,49.8Z" fill="#f8f0a0" stroke="#f8f0a0" stroke-width="0.3"/>
<path d="M200.0,53.4L196.5,49.4L197.6,46.5L202.0,47.3L202.7,52.3Z" fill="#e8f4a8" stroke="#e8f4a8" stroke-width="0.3"/>
<path d="M189.9,47.6L190.1,47.6L195.1,49.8L189.9,63.6Z" fill="#f46d43" stroke="#f46d43" stroke-width="0.3"/>
<path d="M219.2,66.3L207.6,66.3L204.2,52.7L207.5,51.6L210.9,52.8Z" fill="#f88050" stroke="#f88050" stroke-width="0.3"/>
<path d="M209.5,39.6L206.4,36.7L206.3,35.9L209.3,32.3L211.6,31.4L214.4,38.5Z" fill="#ee6a50" stroke="#ee6a50" stroke-width="0.3"/>
<path d="M214.4,38.5L211.6,31.4L213.3,29.1L219.8,34.9L218.5,37.1L214.8,38.6Z" fill="#d8404a" stroke="#d8404a" stroke-width="0.3"/>
<path d="M214.4,20.6L232.4,20.6L232.4,27.7L219.8,34.9L213.3,29.1Z" fill="#c02848" stroke="#c02848" stroke-width="0.3"/>
<path d="M208.4,44.5L209.5,39.6L214.4,38.5L214.8,38.6L215.8,46.0L215.6,46.3L213.9,46.8Z" fill="#f8e8a0" stroke="#f8e8a0" stroke-width="0.3"/>
<path d="M219.6,45.1L215.8,46.0L214.8,38.6L218.5,37.1L221.7,42.0Z" fill="#fae0a0" stroke="#fae0a0" stroke-width="0.3"/>
<path d="M232.4,57.9L232.4,66.3L225.6,66.3L215.6,46.3L215.8,46.0L219.6,45.1Z" fill="#f6a860" stroke="#f6a860" stroke-width="0.3"/>
<path d="M232.4,42.0L232.4,57.9L219.6,45.1L221.7,42.0Z" fill="#f8c080" stroke="#f8c080" stroke-width="0.3"/>
<path d="M210.9,52.8L207.5,51.6L207.5,45.0L208.4,44.5L213.9,46.8Z" fill="#f6f0b0" stroke="#f6f0b0" stroke-width="0.3"/>
<path d="M225.6,66.3L219.2,66.3L210.9,52.8L213.9,46.8L215.6,46.3Z" fill="#f8a860" stroke="#f8a860" stroke-width="0.3"/>
<path d="M209.3,32.3L206.3,35.9L202.7,32.8L204.5,27.5Z" fill="#eef6b0" stroke="#eef6b0" stroke-width="0.3"/>
<path d="M203.7,20.6L214.4,20.6L213.3,29.1L211.6,31.4L209.3,32.3L204.5,27.5Z" fill="#f4e8a0" stroke="#f4e8a0" stroke-width="0.3"/>
<path d="M232.4,27.7L232.4,42.0L221.7,42.0L218.5,37.1L219.8,34.9Z" fill="#f8d090" stroke="#f8d090" stroke-width="0.3"/>
<path d="M189.6,66.3L177.6,66.3L184.4,48.3L188.6,46.7L189.9,47.6L189.9,63.6Z" fill="#ecf2a8" stroke="#ecf2a8" stroke-width="0.3"/>
<path d="M204.2,52.7L202.7,52.3L202.0,47.3L204.0,44.8L207.5,45.0L207.5,51.6Z" fill="#c8e8a8" stroke="#c8e8a8" stroke-width="0.3"/>
<path d="M201.98,26.85 C199.83,26.78 197.01,26.43 194.73,26.85 C192.44,27.26 190.29,28.04 188.27,29.33 C186.25,30.62 184.23,32.63 182.61,34.6 C180.99,36.56 179.63,38.94 178.55,41.11 C177.48,43.28 176.59,45.85 176.15,47.62 C175.72,49.39 175.7,50.55 175.97,51.71 C176.24,52.87 176.78,53.88 177.75,54.56 C178.73,55.24 180.06,55.46 181.81,55.8 C183.57,56.14 186.12,56.34 188.27,56.61 C190.42,56.88 192.44,56.88 194.73,57.41 C197.01,57.95 199.97,59.05 201.98,59.83 C204,60.62 205.43,61.78 206.84,62.13 C208.26,62.47 209.66,62.39 210.47,61.88 C211.28,61.36 211.56,59.9 211.7,59.03 C211.85,58.15 210.79,57.08 211.33,56.61 C211.88,56.13 213.41,56.38 214.96,56.17 C216.51,55.97 219.01,55.84 220.62,55.37 C222.23,54.89 223.65,54.34 224.62,53.32 C225.58,52.3 226.12,50.72 226.4,49.23 C226.68,47.74 226.71,46.3 226.28,44.39 C225.85,42.49 224.9,39.72 223.82,37.82 C222.73,35.92 221.38,34.4 219.76,32.99 C218.14,31.57 216.12,30.28 214.1,29.33 C212.08,28.38 209.66,27.7 207.64,27.28 C205.62,26.87 204.14,26.92 201.98,26.85Z" fill="none" stroke="#808080" stroke-width="3.6" stroke-opacity="0.3" filter="url(#bl1)"/>
</g>
<path d="M201.98,26.85 C199.83,26.78 197.01,26.43 194.73,26.85 C192.44,27.26 190.29,28.04 188.27,29.33 C186.25,30.62 184.23,32.63 182.61,34.6 C180.99,36.56 179.63,38.94 178.55,41.11 C177.48,43.28 176.59,45.85 176.15,47.62 C175.72,49.39 175.7,50.55 175.97,51.71 C176.24,52.87 176.78,53.88 177.75,54.56 C178.73,55.24 180.06,55.46 181.81,55.8 C183.57,56.14 186.12,56.34 188.27,56.61 C190.42,56.88 192.44,56.88 194.73,57.41 C197.01,57.95 199.97,59.05 201.98,59.83 C204,60.62 205.43,61.78 206.84,62.13 C208.26,62.47 209.66,62.39 210.47,61.88 C211.28,61.36 211.56,59.9 211.7,59.03 C211.85,58.15 210.79,57.08 211.33,56.61 C211.88,56.13 213.41,56.38 214.96,56.17 C216.51,55.97 219.01,55.84 220.62,55.37 C222.23,54.89 223.65,54.34 224.62,53.32 C225.58,52.3 226.12,50.72 226.4,49.23 C226.68,47.74 226.71,46.3 226.28,44.39 C225.85,42.49 224.9,39.72 223.82,37.82 C222.73,35.92 221.38,34.4 219.76,32.99 C218.14,31.57 216.12,30.28 214.1,29.33 C212.08,28.38 209.66,27.7 207.64,27.28 C205.62,26.87 204.14,26.92 201.98,26.85Z" fill="none" stroke="#7c7c7c" stroke-width="0.7"/>
<clipPath id="cb16"><path d="M156.91,358.53 C158.91,358.46 161.53,358.15 163.66,358.53 C165.78,358.92 167.79,359.64 169.66,360.85 C171.54,362.05 173.42,363.94 174.93,365.77 C176.43,367.6 177.7,369.82 178.7,371.85 C179.7,373.88 180.53,376.28 180.93,377.93 C181.33,379.58 181.35,380.67 181.1,381.75 C180.86,382.83 180.35,383.78 179.45,384.41 C178.54,385.05 177.3,385.25 175.67,385.57 C174.04,385.89 171.67,386.07 169.66,386.32 C167.66,386.57 165.78,386.57 163.66,387.08 C161.53,387.58 158.79,388.6 156.91,389.33 C155.03,390.07 153.71,391.16 152.39,391.48 C151.07,391.8 149.77,391.73 149.01,391.25 C148.26,390.76 148,389.4 147.87,388.58 C147.74,387.76 148.72,386.77 148.21,386.32 C147.71,385.88 146.28,386.11 144.84,385.92 C143.4,385.73 141.07,385.61 139.58,385.17 C138.08,384.72 136.75,384.21 135.86,383.25 C134.96,382.3 134.46,380.82 134.2,379.43 C133.94,378.04 133.91,376.69 134.31,374.92 C134.71,373.14 135.59,370.56 136.6,368.78 C137.61,367 138.87,365.59 140.38,364.26 C141.88,362.94 143.76,361.74 145.64,360.85 C147.52,359.96 149.77,359.32 151.65,358.94 C153.52,358.55 154.91,358.6 156.91,358.53Z"/></clipPath>
<path d="M156.91,358.53 C158.91,358.46 161.53,358.15 163.66,358.53 C165.78,358.92 167.79,359.64 169.66,360.85 C171.54,362.05 173.42,363.94 174.93,365.77 C176.43,367.6 177.7,369.82 178.7,371.85 C179.7,373.88 180.53,376.28 180.93,377.93 C181.33,379.58 181.35,380.67 181.1,381.75 C180.86,382.83 180.35,383.78 179.45,384.41 C178.54,385.05 177.3,385.25 175.67,385.57 C174.04,385.89 171.67,386.07 169.66,386.32 C167.66,386.57 165.78,386.57 163.66,387.08 C161.53,387.58 158.79,388.6 156.91,389.33 C155.03,390.07 153.71,391.16 152.39,391.48 C151.07,391.8 149.77,391.73 149.01,391.25 C148.26,390.76 148,389.4 147.87,388.58 C147.74,387.76 148.72,386.77 148.21,386.32 C147.71,385.88 146.28,386.11 144.84,385.92 C143.4,385.73 141.07,385.61 139.58,385.17 C138.08,384.72 136.75,384.21 135.86,383.25 C134.96,382.3 134.46,380.82 134.2,379.43 C133.94,378.04 133.91,376.69 134.31,374.92 C134.71,373.14 135.59,370.56 136.6,368.78 C137.61,367 138.87,365.59 140.38,364.26 C141.88,362.94 143.76,361.74 145.64,360.85 C147.52,359.96 149.77,359.32 151.65,358.94 C153.52,358.55 154.91,358.6 156.91,358.53Z" fill="#f6f4be"/>
<g clip-path="url(#cb16)">
<path d="M155.1,359.3L165.5,358.7L167.4,361.6L164.6,366.3L160.8,369.2L158.9,372.0L163.7,375.8L162.7,379.6L156.1,380.5L151.3,380.5L150.4,375.8L153.2,371.0L155.1,366.3L156.1,362.5Z" fill="#3a80b8"/>
<path d="M158.0,360.6L162.7,360.1L160.8,365.4L157.0,371.1L155.1,375.8L158.0,377.7L154.2,379.6L151.9,377.7L153.2,372.0L156.1,366.3Z" fill="#4a4fa0"/>
<path d="M164.6,359.3L169.3,359.8L169.0,363.5L165.0,363.5Z" fill="#5ab0b0"/>
<path d="M168.6,359.5L172.5,360.8L171.5,364.5L168.8,363.8Z" fill="#c8e6b0"/>
<path d="M172.2,374.9L176.9,373.0L180.4,375.8L180.7,380.5L176.9,382.4L173.1,380.5Z" fill="#88cca4"/>
<path d="M147.5,378.7L152.0,378.2L153.2,382.5L149.0,384.3L146.8,382.0Z" fill="#b8e0b0"/>
<path d="M156.91,358.53 C158.91,358.46 161.53,358.15 163.66,358.53 C165.78,358.92 167.79,359.64 169.66,360.85 C171.54,362.05 173.42,363.94 174.93,365.77 C176.43,367.6 177.7,369.82 178.7,371.85 C179.7,373.88 180.53,376.28 180.93,377.93 C181.33,379.58 181.35,380.67 181.1,381.75 C180.86,382.83 180.35,383.78 179.45,384.41 C178.54,385.05 177.3,385.25 175.67,385.57 C174.04,385.89 171.67,386.07 169.66,386.32 C167.66,386.57 165.78,386.57 163.66,387.08 C161.53,387.58 158.79,388.6 156.91,389.33 C155.03,390.07 153.71,391.16 152.39,391.48 C151.07,391.8 149.77,391.73 149.01,391.25 C148.26,390.76 148,389.4 147.87,388.58 C147.74,387.76 148.72,386.77 148.21,386.32 C147.71,385.88 146.28,386.11 144.84,385.92 C143.4,385.73 141.07,385.61 139.58,385.17 C138.08,384.72 136.75,384.21 135.86,383.25 C134.96,382.3 134.46,380.82 134.2,379.43 C133.94,378.04 133.91,376.69 134.31,374.92 C134.71,373.14 135.59,370.56 136.6,368.78 C137.61,367 138.87,365.59 140.38,364.26 C141.88,362.94 143.76,361.74 145.64,360.85 C147.52,359.96 149.77,359.32 151.65,358.94 C153.52,358.55 154.91,358.6 156.91,358.53Z" fill="none" stroke="#808080" stroke-width="3.6" stroke-opacity="0.3" filter="url(#bl1)"/>
</g>
<path d="M156.91,358.53 C158.91,358.46 161.53,358.15 163.66,358.53 C165.78,358.92 167.79,359.64 169.66,360.85 C171.54,362.05 173.42,363.94 174.93,365.77 C176.43,367.6 177.7,369.82 178.7,371.85 C179.7,373.88 180.53,376.28 180.93,377.93 C181.33,379.58 181.35,380.67 181.1,381.75 C180.86,382.83 180.35,383.78 179.45,384.41 C178.54,385.05 177.3,385.25 175.67,385.57 C174.04,385.89 171.67,386.07 169.66,386.32 C167.66,386.57 165.78,386.57 163.66,387.08 C161.53,387.58 158.79,388.6 156.91,389.33 C155.03,390.07 153.71,391.16 152.39,391.48 C151.07,391.8 149.77,391.73 149.01,391.25 C148.26,390.76 148,389.4 147.87,388.58 C147.74,387.76 148.72,386.77 148.21,386.32 C147.71,385.88 146.28,386.11 144.84,385.92 C143.4,385.73 141.07,385.61 139.58,385.17 C138.08,384.72 136.75,384.21 135.86,383.25 C134.96,382.3 134.46,380.82 134.2,379.43 C133.94,378.04 133.91,376.69 134.31,374.92 C134.71,373.14 135.59,370.56 136.6,368.78 C137.61,367 138.87,365.59 140.38,364.26 C141.88,362.94 143.76,361.74 145.64,360.85 C147.52,359.96 149.77,359.32 151.65,358.94 C153.52,358.55 154.91,358.6 156.91,358.53Z" fill="none" stroke="#7c7c7c" stroke-width="0.7"/>
<clipPath id="cb17"><path d="M206.96,358.47 C208.99,358.41 212.04,358.38 214.57,358.82 C217.09,359.26 219.85,360.04 222.11,361.11 C224.38,362.18 226.52,363.68 228.16,365.25 C229.8,366.81 231.01,368.64 231.96,370.53 C232.91,372.41 233.61,374.92 233.86,376.55 C234.11,378.19 233.9,379.21 233.46,380.34 C233.02,381.47 232.35,382.58 231.21,383.33 C230.08,384.07 228.55,384.5 226.66,384.82 C224.77,385.13 221.07,384.71 219.87,385.22 C218.67,385.73 219.85,386.91 219.46,387.86 C219.08,388.81 218.38,390.3 217.56,390.9 C216.75,391.51 215.95,391.74 214.57,391.48 C213.18,391.22 211.03,390.08 209.27,389.35 C207.5,388.63 206.24,387.74 203.97,387.11 C201.69,386.49 198.14,386.25 195.62,385.62 C193.09,384.99 190.34,384.21 188.82,383.33 C187.3,382.45 186.92,381.47 186.52,380.34 C186.11,379.21 186.14,378.06 186.4,376.55 C186.66,375.04 187.17,373.03 188.07,371.27 C188.97,369.51 190.31,367.63 191.81,365.99 C193.32,364.36 195.35,362.59 197.11,361.46 C198.88,360.33 200.77,359.72 202.41,359.22 C204.05,358.72 204.94,358.54 206.96,358.47Z"/></clipPath>
<path d="M206.96,358.47 C208.99,358.41 212.04,358.38 214.57,358.82 C217.09,359.26 219.85,360.04 222.11,361.11 C224.38,362.18 226.52,363.68 228.16,365.25 C229.8,366.81 231.01,368.64 231.96,370.53 C232.91,372.41 233.61,374.92 233.86,376.55 C234.11,378.19 233.9,379.21 233.46,380.34 C233.02,381.47 232.35,382.58 231.21,383.33 C230.08,384.07 228.55,384.5 226.66,384.82 C224.77,385.13 221.07,384.71 219.87,385.22 C218.67,385.73 219.85,386.91 219.46,387.86 C219.08,388.81 218.38,390.3 217.56,390.9 C216.75,391.51 215.95,391.74 214.57,391.48 C213.18,391.22 211.03,390.08 209.27,389.35 C207.5,388.63 206.24,387.74 203.97,387.11 C201.69,386.49 198.14,386.25 195.62,385.62 C193.09,384.99 190.34,384.21 188.82,383.33 C187.3,382.45 186.92,381.47 186.52,380.34 C186.11,379.21 186.14,378.06 186.4,376.55 C186.66,375.04 187.17,373.03 188.07,371.27 C188.97,369.51 190.31,367.63 191.81,365.99 C193.32,364.36 195.35,362.59 197.11,361.46 C198.88,360.33 200.77,359.72 202.41,359.22 C204.05,358.72 204.94,358.54 206.96,358.47Z" fill="#f6f4be"/>
<g clip-path="url(#cb17)">
<path d="M201.6,359.7L209.2,358.7L214.9,359.7L215.8,363.5L213.0,366.3L207.3,365.4L203.5,363.5Z" fill="#3a8fc0"/>
<path d="M213.9,359.7L218.7,360.6L219.6,365.4L215.8,367.3L213.0,365.4Z" fill="#5ab0b8"/>
<path d="M219.6,365.4L224.4,367.3L223.4,371.1L219.6,370.1Z" fill="#c0e4a8"/>
<path d="M189.3,371.1L192.1,365.4L195.9,363.5L199.7,366.3L200.7,373.0L201.6,380.5L197.8,383.4L192.1,382.4L188.3,378.7Z" fill="#78c4a4"/>
<path d="M189.5,372.0L193.0,368.0L196.0,370.0L196.5,378.0L193.0,380.5L189.5,377.5Z" fill="#5aa8a0"/>
<path d="M206.96,358.47 C208.99,358.41 212.04,358.38 214.57,358.82 C217.09,359.26 219.85,360.04 222.11,361.11 C224.38,362.18 226.52,363.68 228.16,365.25 C229.8,366.81 231.01,368.64 231.96,370.53 C232.91,372.41 233.61,374.92 233.86,376.55 C234.11,378.19 233.9,379.21 233.46,380.34 C233.02,381.47 232.35,382.58 231.21,383.33 C230.08,384.07 228.55,384.5 226.66,384.82 C224.77,385.13 221.07,384.71 219.87,385.22 C218.67,385.73 219.85,386.91 219.46,387.86 C219.08,388.81 218.38,390.3 217.56,390.9 C216.75,391.51 215.95,391.74 214.57,391.48 C213.18,391.22 211.03,390.08 209.27,389.35 C207.5,388.63 206.24,387.74 203.97,387.11 C201.69,386.49 198.14,386.25 195.62,385.62 C193.09,384.99 190.34,384.21 188.82,383.33 C187.3,382.45 186.92,381.47 186.52,380.34 C186.11,379.21 186.14,378.06 186.4,376.55 C186.66,375.04 187.17,373.03 188.07,371.27 C188.97,369.51 190.31,367.63 191.81,365.99 C193.32,364.36 195.35,362.59 197.11,361.46 C198.88,360.33 200.77,359.72 202.41,359.22 C204.05,358.72 204.94,358.54 206.96,358.47Z" fill="none" stroke="#808080" stroke-width="3.6" stroke-opacity="0.3" filter="url(#bl1)"/>
<path d="M201.2,374.26 C201.64,373.31 202.53,372.24 203.85,371.62 C205.18,370.99 207.14,370.74 209.15,370.53 C211.17,370.32 213.93,370.17 215.95,370.35 C217.96,370.54 219.74,370.97 221.25,371.62 C222.76,372.27 224.18,373.31 224.99,374.26 C225.81,375.2 226.14,376.29 226.14,377.3 C226.14,378.31 225.81,379.39 224.99,380.34 C224.18,381.29 222.26,382.24 221.25,382.98 C220.24,383.73 219.26,384.01 218.94,384.82 C218.63,385.63 219.53,387.11 219.35,387.86 C219.16,388.62 218.67,389.1 217.85,389.35 C217.03,389.6 215.4,389.6 214.45,389.35 C213.5,389.1 212.85,388.48 212.15,387.86 C211.45,387.24 211.13,386.38 210.25,385.62 C209.36,384.87 208.05,384.21 206.85,383.33 C205.65,382.45 203.99,381.35 203.05,380.34 C202.11,379.34 201.51,378.31 201.2,377.3 C200.9,376.29 200.76,375.2 201.2,374.26Z" fill="url(#mwg)"/>
</g>
<path d="M206.96,358.47 C208.99,358.41 212.04,358.38 214.57,358.82 C217.09,359.26 219.85,360.04 222.11,361.11 C224.38,362.18 226.52,363.68 228.16,365.25 C229.8,366.81 231.01,368.64 231.96,370.53 C232.91,372.41 233.61,374.92 233.86,376.55 C234.11,378.19 233.9,379.21 233.46,380.34 C233.02,381.47 232.35,382.58 231.21,383.33 C230.08,384.07 228.55,384.5 226.66,384.82 C224.77,385.13 221.07,384.71 219.87,385.22 C218.67,385.73 219.85,386.91 219.46,387.86 C219.08,388.81 218.38,390.3 217.56,390.9 C216.75,391.51 215.95,391.74 214.57,391.48 C213.18,391.22 211.03,390.08 209.27,389.35 C207.5,388.63 206.24,387.74 203.97,387.11 C201.69,386.49 198.14,386.25 195.62,385.62 C193.09,384.99 190.34,384.21 188.82,383.33 C187.3,382.45 186.92,381.47 186.52,380.34 C186.11,379.21 186.14,378.06 186.4,376.55 C186.66,375.04 187.17,373.03 188.07,371.27 C188.97,369.51 190.31,367.63 191.81,365.99 C193.32,364.36 195.35,362.59 197.11,361.46 C198.88,360.33 200.77,359.72 202.41,359.22 C204.05,358.72 204.94,358.54 206.96,358.47Z" fill="none" stroke="#7c7c7c" stroke-width="0.7"/>
<clipPath id="cb18"><path d="M494.61,358.03 C496.59,357.97 499.19,357.64 501.3,358.03 C503.41,358.42 505.39,359.15 507.25,360.37 C509.12,361.59 510.98,363.48 512.47,365.33 C513.96,367.18 515.22,369.42 516.21,371.47 C517.2,373.51 518.03,375.93 518.42,377.6 C518.82,379.26 518.84,380.36 518.59,381.45 C518.35,382.54 517.85,383.5 516.95,384.14 C516.05,384.78 514.82,384.99 513.21,385.31 C511.59,385.63 509.24,385.81 507.25,386.07 C505.27,386.32 503.41,386.32 501.3,386.82 C499.19,387.33 496.47,388.36 494.61,389.1 C492.75,389.84 491.43,390.94 490.13,391.26 C488.83,391.58 487.53,391.52 486.79,391.03 C486.04,390.54 485.78,389.17 485.65,388.34 C485.52,387.52 486.49,386.51 485.99,386.07 C485.49,385.62 484.07,385.85 482.65,385.66 C481.22,385.46 478.91,385.35 477.43,384.9 C475.95,384.45 474.63,383.93 473.74,382.97 C472.86,382.01 472.36,380.52 472.1,379.12 C471.84,377.71 471.82,376.35 472.21,374.56 C472.61,372.77 473.48,370.16 474.48,368.37 C475.48,366.58 476.73,365.15 478.22,363.82 C479.72,362.48 481.58,361.27 483.44,360.37 C485.3,359.47 487.53,358.83 489.39,358.44 C491.26,358.05 492.63,358.1 494.61,358.03Z"/></clipPath>
<path d="M494.61,358.03 C496.59,357.97 499.19,357.64 501.3,358.03 C503.41,358.42 505.39,359.15 507.25,360.37 C509.12,361.59 510.98,363.48 512.47,365.33 C513.96,367.18 515.22,369.42 516.21,371.47 C517.2,373.51 518.03,375.93 518.42,377.6 C518.82,379.26 518.84,380.36 518.59,381.45 C518.35,382.54 517.85,383.5 516.95,384.14 C516.05,384.78 514.82,384.99 513.21,385.31 C511.59,385.63 509.24,385.81 507.25,386.07 C505.27,386.32 503.41,386.32 501.3,386.82 C499.19,387.33 496.47,388.36 494.61,389.1 C492.75,389.84 491.43,390.94 490.13,391.26 C488.83,391.58 487.53,391.52 486.79,391.03 C486.04,390.54 485.78,389.17 485.65,388.34 C485.52,387.52 486.49,386.51 485.99,386.07 C485.49,385.62 484.07,385.85 482.65,385.66 C481.22,385.46 478.91,385.35 477.43,384.9 C475.95,384.45 474.63,383.93 473.74,382.97 C472.86,382.01 472.36,380.52 472.1,379.12 C471.84,377.71 471.82,376.35 472.21,374.56 C472.61,372.77 473.48,370.16 474.48,368.37 C475.48,366.58 476.73,365.15 478.22,363.82 C479.72,362.48 481.58,361.27 483.44,360.37 C485.3,359.47 487.53,358.83 489.39,358.44 C491.26,358.05 492.63,358.1 494.61,358.03Z" fill="#f7f3c0"/>
<g clip-path="url(#cb18)">
<path d="M475.1,369.8L478.2,365.8L481.4,363.1L483.8,361.9L481.0,366.6L479.0,369.8L476.7,373.7L474.3,376.1L473.5,374.5Z" fill="#e0604a"/>
<path d="M475.9,369.8L479.5,369.0L480.6,376.9L476.5,377.5Z" fill="#f4c080"/>
<path d="M479.8,369.8L483.8,367.8L487.7,367.4L486.9,371.3L483.8,373.7L480.6,374.5L479.0,372.9Z" fill="#f0a058"/>
<path d="M480.6,364.2L483.8,362.3L486.9,362.7L488.5,365.0L486.1,367.4L483.0,367.8L481.0,366.6Z" fill="#c42a5a"/>
<path d="M472.7,377.7L476.7,377.7L480.6,376.9L483.8,377.7L483.8,381.6L480.6,384.0L476.7,384.0L473.5,382.4Z" fill="#f08850"/>
<path d="M479.5,376.5L483.8,377.2L484.2,381.0L480.5,381.0Z" fill="#e05a48"/>
<path d="M502.7,365.8L509.0,365.0L513.7,367.4L515.3,371.3L512.1,373.7L509.0,376.1L505.0,375.3L502.7,370.6Z" fill="#e8704a"/>
<path d="M512.5,368.5L515.5,370.0L515.3,373.0L512.5,373.0Z" fill="#f0a050"/>
<path d="M503.5,367.8L507.4,365.8L511.0,366.6L512.1,369.8L511.0,372.9L508.2,375.3L505.8,374.5L503.9,371.3Z" fill="#c42a5a"/>
<path d="M499.5,376.9L503.5,376.1L506.6,379.2L505.0,382.4L501.1,383.2L498.7,380.8Z" fill="#f09050"/>
<path d="M490.1,384.0L494.0,381.6L498.7,380.0L501.9,380.8L501.1,384.0L496.4,386.3L491.6,387.1L489.3,386.3Z" fill="#c83060"/>
<path d="M486.1,387.1L490.1,385.5L493.2,387.1L491.6,389.5L487.7,390.3L486.1,389.1Z" fill="#e05848"/>
<path d="M494.61,358.03 C496.59,357.97 499.19,357.64 501.3,358.03 C503.41,358.42 505.39,359.15 507.25,360.37 C509.12,361.59 510.98,363.48 512.47,365.33 C513.96,367.18 515.22,369.42 516.21,371.47 C517.2,373.51 518.03,375.93 518.42,377.6 C518.82,379.26 518.84,380.36 518.59,381.45 C518.35,382.54 517.85,383.5 516.95,384.14 C516.05,384.78 514.82,384.99 513.21,385.31 C511.59,385.63 509.24,385.81 507.25,386.07 C505.27,386.32 503.41,386.32 501.3,386.82 C499.19,387.33 496.47,388.36 494.61,389.1 C492.75,389.84 491.43,390.94 490.13,391.26 C488.83,391.58 487.53,391.52 486.79,391.03 C486.04,390.54 485.78,389.17 485.65,388.34 C485.52,387.52 486.49,386.51 485.99,386.07 C485.49,385.62 484.07,385.85 482.65,385.66 C481.22,385.46 478.91,385.35 477.43,384.9 C475.95,384.45 474.63,383.93 473.74,382.97 C472.86,382.01 472.36,380.52 472.1,379.12 C471.84,377.71 471.82,376.35 472.21,374.56 C472.61,372.77 473.48,370.16 474.48,368.37 C475.48,366.58 476.73,365.15 478.22,363.82 C479.72,362.48 481.58,361.27 483.44,360.37 C485.3,359.47 487.53,358.83 489.39,358.44 C491.26,358.05 492.63,358.1 494.61,358.03Z" fill="none" stroke="#808080" stroke-width="3.6" stroke-opacity="0.3" filter="url(#bl1)"/>
</g>
<path d="M494.61,358.03 C496.59,357.97 499.19,357.64 501.3,358.03 C503.41,358.42 505.39,359.15 507.25,360.37 C509.12,361.59 510.98,363.48 512.47,365.33 C513.96,367.18 515.22,369.42 516.21,371.47 C517.2,373.51 518.03,375.93 518.42,377.6 C518.82,379.26 518.84,380.36 518.59,381.45 C518.35,382.54 517.85,383.5 516.95,384.14 C516.05,384.78 514.82,384.99 513.21,385.31 C511.59,385.63 509.24,385.81 507.25,386.07 C505.27,386.32 503.41,386.32 501.3,386.82 C499.19,387.33 496.47,388.36 494.61,389.1 C492.75,389.84 491.43,390.94 490.13,391.26 C488.83,391.58 487.53,391.52 486.79,391.03 C486.04,390.54 485.78,389.17 485.65,388.34 C485.52,387.52 486.49,386.51 485.99,386.07 C485.49,385.62 484.07,385.85 482.65,385.66 C481.22,385.46 478.91,385.35 477.43,384.9 C475.95,384.45 474.63,383.93 473.74,382.97 C472.86,382.01 472.36,380.52 472.1,379.12 C471.84,377.71 471.82,376.35 472.21,374.56 C472.61,372.77 473.48,370.16 474.48,368.37 C475.48,366.58 476.73,365.15 478.22,363.82 C479.72,362.48 481.58,361.27 483.44,360.37 C485.3,359.47 487.53,358.83 489.39,358.44 C491.26,358.05 492.63,358.1 494.61,358.03Z" fill="none" stroke="#7c7c7c" stroke-width="0.7"/>
<clipPath id="cb19"><path d="M544.58,357.97 C546.58,357.91 549.59,357.88 552.08,358.32 C554.56,358.76 557.28,359.56 559.52,360.64 C561.75,361.72 563.86,363.22 565.48,364.81 C567.1,366.39 568.29,368.23 569.23,370.13 C570.17,372.03 570.86,374.56 571.1,376.21 C571.35,377.86 571.14,378.89 570.71,380.03 C570.27,381.17 569.61,382.29 568.49,383.04 C567.37,383.8 565.87,384.23 564,384.55 C562.14,384.87 558.48,384.44 557.3,384.96 C556.12,385.47 557.28,386.66 556.9,387.62 C556.52,388.57 555.83,390.08 555.03,390.69 C554.22,391.3 553.44,391.53 552.08,391.27 C550.71,391.01 548.59,389.86 546.85,389.12 C545.11,388.39 543.87,387.49 541.62,386.87 C539.38,386.24 535.88,386 533.39,385.36 C530.9,384.72 528.18,383.93 526.69,383.04 C525.19,382.16 524.81,381.17 524.41,380.03 C524.02,378.89 524.04,377.74 524.3,376.21 C524.56,374.69 525.06,372.66 525.95,370.89 C526.84,369.11 528.15,367.21 529.64,365.56 C531.13,363.91 533.12,362.12 534.86,360.98 C536.61,359.85 538.47,359.23 540.09,358.73 C541.71,358.22 542.58,358.04 544.58,357.97Z"/></clipPath>
<path d="M544.58,357.97 C546.58,357.91 549.59,357.88 552.08,358.32 C554.56,358.76 557.28,359.56 559.52,360.64 C561.75,361.72 563.86,363.22 565.48,364.81 C567.1,366.39 568.29,368.23 569.23,370.13 C570.17,372.03 570.86,374.56 571.1,376.21 C571.35,377.86 571.14,378.89 570.71,380.03 C570.27,381.17 569.61,382.29 568.49,383.04 C567.37,383.8 565.87,384.23 564,384.55 C562.14,384.87 558.48,384.44 557.3,384.96 C556.12,385.47 557.28,386.66 556.9,387.62 C556.52,388.57 555.83,390.08 555.03,390.69 C554.22,391.3 553.44,391.53 552.08,391.27 C550.71,391.01 548.59,389.86 546.85,389.12 C545.11,388.39 543.87,387.49 541.62,386.87 C539.38,386.24 535.88,386 533.39,385.36 C530.9,384.72 528.18,383.93 526.69,383.04 C525.19,382.16 524.81,381.17 524.41,380.03 C524.02,378.89 524.04,377.74 524.3,376.21 C524.56,374.69 525.06,372.66 525.95,370.89 C526.84,369.11 528.15,367.21 529.64,365.56 C531.13,363.91 533.12,362.12 534.86,360.98 C536.61,359.85 538.47,359.23 540.09,358.73 C541.71,358.22 542.58,358.04 544.58,357.97Z" fill="#f7f3c0"/>
<g clip-path="url(#cb19)">
<path d="M553.9,361.5L557.8,361.1L561.8,363.5L564.1,367.4L562.6,369.0L559.4,366.6L555.5,364.2Z" fill="#f0a050"/>
<path d="M549.5,359.5L554.0,359.2L555.0,362.0L550.5,362.5Z" fill="#f6c888"/>
<path d="M531.0,367.4L533.4,364.2L538.1,363.5L542.1,367.0L550.7,367.4L551.5,369.4L546.0,369.8L541.3,372.1L539.7,376.9L535.8,377.7L532.6,375.3L531.0,371.3Z" fill="#e86048"/>
<path d="M532.6,365.0L537.3,364.2L541.3,367.4L541.3,370.6L538.9,373.7L535.8,373.7L533.4,371.3Z" fill="#c42a5a"/>
<path d="M564.1,364.2L567.3,365.8L569.7,369.8L570.5,374.5L569.3,379.2L567.3,380.8L564.9,377.7L565.7,373.0L564.1,368.2Z" fill="#d03858"/>
<path d="M559.4,380.0L564.1,375.3L567.3,377.7L568.1,381.6L564.1,384.0L558.6,384.0Z" fill="#e86848"/>
<path d="M544.58,357.97 C546.58,357.91 549.59,357.88 552.08,358.32 C554.56,358.76 557.28,359.56 559.52,360.64 C561.75,361.72 563.86,363.22 565.48,364.81 C567.1,366.39 568.29,368.23 569.23,370.13 C570.17,372.03 570.86,374.56 571.1,376.21 C571.35,377.86 571.14,378.89 570.71,380.03 C570.27,381.17 569.61,382.29 568.49,383.04 C567.37,383.8 565.87,384.23 564,384.55 C562.14,384.87 558.48,384.44 557.3,384.96 C556.12,385.47 557.28,386.66 556.9,387.62 C556.52,388.57 555.83,390.08 555.03,390.69 C554.22,391.3 553.44,391.53 552.08,391.27 C550.71,391.01 548.59,389.86 546.85,389.12 C545.11,388.39 543.87,387.49 541.62,386.87 C539.38,386.24 535.88,386 533.39,385.36 C530.9,384.72 528.18,383.93 526.69,383.04 C525.19,382.16 524.81,381.17 524.41,380.03 C524.02,378.89 524.04,377.74 524.3,376.21 C524.56,374.69 525.06,372.66 525.95,370.89 C526.84,369.11 528.15,367.21 529.64,365.56 C531.13,363.91 533.12,362.12 534.86,360.98 C536.61,359.85 538.47,359.23 540.09,358.73 C541.71,358.22 542.58,358.04 544.58,357.97Z" fill="none" stroke="#808080" stroke-width="3.6" stroke-opacity="0.3" filter="url(#bl1)"/>
<path d="M538.9,373.9 C539.33,372.94 540.2,371.86 541.51,371.23 C542.82,370.61 544.75,370.35 546.74,370.13 C548.72,369.92 551.45,369.78 553.44,369.96 C555.43,370.14 557.18,370.58 558.66,371.23 C560.15,371.89 561.55,372.94 562.36,373.9 C563.16,374.85 563.49,375.94 563.49,376.96 C563.49,377.99 563.16,379.08 562.36,380.03 C561.55,380.99 559.66,381.94 558.66,382.7 C557.67,383.45 556.7,383.73 556.39,384.55 C556.08,385.37 556.97,386.86 556.79,387.62 C556.61,388.38 556.12,388.87 555.31,389.12 C554.51,389.37 552.9,389.37 551.96,389.12 C551.02,388.87 550.38,388.25 549.69,387.62 C549,386.99 548.69,386.12 547.82,385.36 C546.94,384.6 545.65,383.93 544.46,383.04 C543.28,382.16 541.64,381.05 540.72,380.03 C539.79,379.02 539.2,377.99 538.9,376.96 C538.59,375.94 538.46,374.85 538.9,373.9Z" fill="url(#mwg)"/>
</g>
<path d="M544.58,357.97 C546.58,357.91 549.59,357.88 552.08,358.32 C554.56,358.76 557.28,359.56 559.52,360.64 C561.75,361.72 563.86,363.22 565.48,364.81 C567.1,366.39 568.29,368.23 569.23,370.13 C570.17,372.03 570.86,374.56 571.1,376.21 C571.35,377.86 571.14,378.89 570.71,380.03 C570.27,381.17 569.61,382.29 568.49,383.04 C567.37,383.8 565.87,384.23 564,384.55 C562.14,384.87 558.48,384.44 557.3,384.96 C556.12,385.47 557.28,386.66 556.9,387.62 C556.52,388.57 555.83,390.08 555.03,390.69 C554.22,391.3 553.44,391.53 552.08,391.27 C550.71,391.01 548.59,389.86 546.85,389.12 C545.11,388.39 543.87,387.49 541.62,386.87 C539.38,386.24 535.88,386 533.39,385.36 C530.9,384.72 528.18,383.93 526.69,383.04 C525.19,382.16 524.81,381.17 524.41,380.03 C524.02,378.89 524.04,377.74 524.3,376.21 C524.56,374.69 525.06,372.66 525.95,370.89 C526.84,369.11 528.15,367.21 529.64,365.56 C531.13,363.91 533.12,362.12 534.86,360.98 C536.61,359.85 538.47,359.23 540.09,358.73 C541.71,358.22 542.58,358.04 544.58,357.97Z" fill="none" stroke="#7c7c7c" stroke-width="0.7"/>
<line x1="31" y1="438.8" x2="176" y2="438.8" stroke="#9a9a9a" stroke-width="0.9" stroke-dasharray="3.4 3"/>
<path d="M85.1,451.5h.9v.9h-.9zM91.9,449.2h.9v.9h-.9zM91.4,446.6h.9v.9h-.9zM83.7,447.0h.9v.9h-.9zM97.0,447.3h.9v.9h-.9zM93.5,453.9h.9v.9h-.9zM83.6,454.1h.9v.9h-.9zM97.5,448.6h.9v.9h-.9zM84.6,448.8h.9v.9h-.9zM68.8,451.0h.9v.9h-.9zM81.9,450.7h.9v.9h-.9zM83.5,447.9h.9v.9h-.9zM85.7,448.8h.9v.9h-.9zM87.4,448.7h.9v.9h-.9zM104.2,448.3h.9v.9h-.9zM92.3,453.3h.9v.9h-.9zM76.1,454.1h.9v.9h-.9zM89.8,452.4h.9v.9h-.9zM91.1,446.6h.9v.9h-.9zM108.6,450.9h.9v.9h-.9zM77.9,451.9h.9v.9h-.9zM96.0,449.9h.9v.9h-.9zM120.9,450.1h.9v.9h-.9zM60.6,451.9h.9v.9h-.9zM124.2,452.9h.9v.9h-.9zM89.3,451.6h.9v.9h-.9zM90.6,447.6h.9v.9h-.9zM83.5,452.4h.9v.9h-.9zM86.8,449.4h.9v.9h-.9zM62.0,449.9h.9v.9h-.9zM116.7,452.9h.9v.9h-.9zM75.5,449.6h.9v.9h-.9zM98.0,454.0h.9v.9h-.9zM85.6,448.2h.9v.9h-.9zM91.0,451.0h.9v.9h-.9zM82.6,449.7h.9v.9h-.9zM92.4,453.9h.9v.9h-.9zM91.7,451.2h.9v.9h-.9zM60.2,453.5h.9v.9h-.9zM116.1,452.7h.9v.9h-.9zM89.5,447.1h.9v.9h-.9zM60.7,446.8h.9v.9h-.9zM85.3,449.0h.9v.9h-.9zM82.5,447.5h.9v.9h-.9zM88.9,446.5h.9v.9h-.9zM98.4,447.5h.9v.9h-.9zM88.6,449.2h.9v.9h-.9zM97.4,454.2h.9v.9h-.9zM89.5,447.0h.9v.9h-.9zM88.5,448.4h.9v.9h-.9zM67.5,446.5h.9v.9h-.9zM131.9,447.5h.9v.9h-.9zM58.3,450.5h.9v.9h-.9zM136.5,451.9h.9v.9h-.9zM88.9,447.6h.9v.9h-.9zM92.8,452.5h.9v.9h-.9zM86.4,452.8h.9v.9h-.9zM136.3,452.7h.9v.9h-.9zM107.0,448.1h.9v.9h-.9zM80.7,446.5h.9v.9h-.9zM87.4,448.4h.9v.9h-.9zM121.7,449.9h.9v.9h-.9zM123.9,453.9h.9v.9h-.9zM86.4,448.1h.9v.9h-.9zM86.1,451.3h.9v.9h-.9zM113.8,450.1h.9v.9h-.9zM111.0,447.0h.9v.9h-.9zM118.5,452.6h.9v.9h-.9zM89.1,447.7h.9v.9h-.9zM79.2,452.7h.9v.9h-.9zM130.1,449.5h.9v.9h-.9zM105.9,447.7h.9v.9h-.9zM85.1,453.5h.9v.9h-.9zM66.5,452.9h.9v.9h-.9zM133.7,449.1h.9v.9h-.9zM65.4,446.4h.9v.9h-.9zM133.6,450.5h.9v.9h-.9zM86.1,453.3h.9v.9h-.9zM70.9,448.3h.9v.9h-.9zM86.7,451.0h.9v.9h-.9zM89.8,447.3h.9v.9h-.9zM80.6,450.0h.9v.9h-.9zM118.2,449.7h.9v.9h-.9zM90.7,450.6h.9v.9h-.9zM57.8,449.8h.9v.9h-.9zM82.6,452.7h.9v.9h-.9zM90.8,452.1h.9v.9h-.9zM78.7,450.4h.9v.9h-.9zM110.0,447.1h.9v.9h-.9zM73.4,448.5h.9v.9h-.9zM91.1,450.8h.9v.9h-.9zM118.7,449.8h.9v.9h-.9zM91.0,450.4h.9v.9h-.9zM87.3,450.6h.9v.9h-.9zM120.7,451.9h.9v.9h-.9zM120.8,448.4h.9v.9h-.9zM120.8,453.0h.9v.9h-.9zM84.6,449.8h.9v.9h-.9zM86.7,446.9h.9v.9h-.9zM110.0,453.5h.9v.9h-.9zM95.0,451.6h.9v.9h-.9zM97.9,454.0h.9v.9h-.9zM99.2,449.5h.9v.9h-.9zM124.0,453.0h.9v.9h-.9zM90.1,450.4h.9v.9h-.9zM85.9,448.8h.9v.9h-.9zM57.8,450.7h.9v.9h-.9zM82.8,449.0h.9v.9h-.9zM91.4,446.8h.9v.9h-.9zM135.5,454.1h.9v.9h-.9zM87.1,446.6h.9v.9h-.9zM74.9,447.3h.9v.9h-.9zM98.4,452.9h.9v.9h-.9zM85.1,453.7h.9v.9h-.9zM104.3,447.0h.9v.9h-.9zM94.5,449.7h.9v.9h-.9zM98.9,451.4h.9v.9h-.9zM62.2,453.1h.9v.9h-.9zM97.6,449.9h.9v.9h-.9zM92.2,453.7h.9v.9h-.9zM84.8,450.5h.9v.9h-.9zM84.4,447.6h.9v.9h-.9zM86.0,448.8h.9v.9h-.9zM95.8,448.6h.9v.9h-.9zM68.6,449.1h.9v.9h-.9zM86.9,446.4h.9v.9h-.9zM94.1,447.8h.9v.9h-.9zM120.2,447.2h.9v.9h-.9zM86.0,450.3h.9v.9h-.9zM83.3,450.4h.9v.9h-.9zM123.5,449.0h.9v.9h-.9zM104.7,451.4h.9v.9h-.9zM88.6,446.7h.9v.9h-.9zM83.7,452.2h.9v.9h-.9zM85.4,447.0h.9v.9h-.9zM115.9,451.7h.9v.9h-.9zM86.7,448.6h.9v.9h-.9zM67.2,449.9h.9v.9h-.9zM99.3,454.1h.9v.9h-.9zM73.2,454.0h.9v.9h-.9zM88.7,446.3h.9v.9h-.9zM90.8,450.3h.9v.9h-.9zM91.3,446.3h.9v.9h-.9zM84.1,449.5h.9v.9h-.9zM82.9,448.7h.9v.9h-.9zM92.7,450.5h.9v.9h-.9zM101.3,452.0h.9v.9h-.9zM83.1,448.9h.9v.9h-.9zM126.7,452.1h.9v.9h-.9zM59.5,453.0h.9v.9h-.9z" fill="#f05548" fill-opacity="0.75"/>
<path d="M98.7,463.2h.9v.9h-.9zM70.4,461.5h.9v.9h-.9zM110.8,463.7h.9v.9h-.9zM96.2,464.4h.9v.9h-.9zM102.6,459.1h.9v.9h-.9zM83.5,460.2h.9v.9h-.9zM95.0,461.8h.9v.9h-.9zM98.7,462.7h.9v.9h-.9zM62.5,463.7h.9v.9h-.9zM91.5,461.6h.9v.9h-.9zM66.1,463.2h.9v.9h-.9zM82.5,459.4h.9v.9h-.9zM74.2,463.2h.9v.9h-.9zM126.1,460.4h.9v.9h-.9zM102.0,463.4h.9v.9h-.9zM99.6,457.9h.9v.9h-.9zM85.5,463.2h.9v.9h-.9zM90.6,457.4h.9v.9h-.9zM85.7,462.7h.9v.9h-.9zM101.6,459.6h.9v.9h-.9zM89.3,461.0h.9v.9h-.9zM96.0,458.9h.9v.9h-.9zM131.3,457.4h.9v.9h-.9zM109.9,465.0h.9v.9h-.9zM85.7,459.0h.9v.9h-.9zM74.5,462.0h.9v.9h-.9zM89.9,464.9h.9v.9h-.9zM94.8,461.4h.9v.9h-.9zM103.2,459.2h.9v.9h-.9zM90.5,457.5h.9v.9h-.9zM89.4,460.9h.9v.9h-.9zM83.6,460.1h.9v.9h-.9zM95.1,457.3h.9v.9h-.9zM111.1,458.3h.9v.9h-.9zM103.7,464.5h.9v.9h-.9zM87.4,460.4h.9v.9h-.9zM127.2,460.2h.9v.9h-.9zM85.8,457.7h.9v.9h-.9zM95.0,459.6h.9v.9h-.9zM76.8,459.4h.9v.9h-.9zM73.3,460.3h.9v.9h-.9zM130.7,463.8h.9v.9h-.9zM115.4,464.8h.9v.9h-.9zM104.1,457.7h.9v.9h-.9zM88.5,463.3h.9v.9h-.9zM78.9,457.7h.9v.9h-.9zM69.7,461.1h.9v.9h-.9zM86.2,463.2h.9v.9h-.9zM123.4,462.5h.9v.9h-.9zM90.4,460.5h.9v.9h-.9zM84.0,459.0h.9v.9h-.9zM91.2,459.1h.9v.9h-.9zM120.2,460.9h.9v.9h-.9zM84.5,458.0h.9v.9h-.9zM82.8,459.2h.9v.9h-.9zM90.6,464.4h.9v.9h-.9zM86.3,460.6h.9v.9h-.9zM84.2,460.0h.9v.9h-.9zM85.9,465.0h.9v.9h-.9zM89.6,462.3h.9v.9h-.9zM74.8,459.5h.9v.9h-.9zM87.9,460.9h.9v.9h-.9zM130.3,464.3h.9v.9h-.9zM81.8,463.0h.9v.9h-.9zM89.8,462.0h.9v.9h-.9zM87.7,464.7h.9v.9h-.9zM112.0,465.1h.9v.9h-.9zM83.1,458.5h.9v.9h-.9zM101.9,464.8h.9v.9h-.9zM99.9,463.4h.9v.9h-.9zM94.3,457.6h.9v.9h-.9zM75.8,464.7h.9v.9h-.9zM79.9,458.3h.9v.9h-.9zM91.7,462.9h.9v.9h-.9zM82.5,461.5h.9v.9h-.9zM84.8,459.1h.9v.9h-.9zM62.9,459.7h.9v.9h-.9zM118.0,462.5h.9v.9h-.9zM89.9,459.2h.9v.9h-.9zM97.1,462.9h.9v.9h-.9zM81.7,461.3h.9v.9h-.9zM86.7,459.4h.9v.9h-.9zM116.1,459.1h.9v.9h-.9zM86.8,460.7h.9v.9h-.9zM73.8,463.7h.9v.9h-.9zM91.6,458.9h.9v.9h-.9zM124.0,463.9h.9v.9h-.9zM84.9,463.4h.9v.9h-.9zM96.9,461.3h.9v.9h-.9zM85.0,460.6h.9v.9h-.9zM117.4,458.5h.9v.9h-.9zM84.8,465.1h.9v.9h-.9zM82.2,457.8h.9v.9h-.9zM96.0,464.4h.9v.9h-.9zM120.3,464.8h.9v.9h-.9zM84.3,464.8h.9v.9h-.9zM64.2,462.6h.9v.9h-.9zM87.4,460.0h.9v.9h-.9zM81.3,459.5h.9v.9h-.9zM97.0,458.3h.9v.9h-.9zM122.8,460.2h.9v.9h-.9zM110.1,460.8h.9v.9h-.9zM89.1,460.3h.9v.9h-.9zM73.5,460.2h.9v.9h-.9zM64.1,460.6h.9v.9h-.9zM106.8,457.6h.9v.9h-.9zM82.3,464.7h.9v.9h-.9zM93.6,464.5h.9v.9h-.9zM85.8,465.0h.9v.9h-.9zM77.5,463.0h.9v.9h-.9zM85.8,457.3h.9v.9h-.9zM115.5,462.4h.9v.9h-.9zM63.7,459.2h.9v.9h-.9zM117.9,464.9h.9v.9h-.9zM85.4,460.7h.9v.9h-.9zM116.2,458.8h.9v.9h-.9zM105.2,463.9h.9v.9h-.9zM97.6,459.9h.9v.9h-.9zM87.2,463.6h.9v.9h-.9zM84.5,463.3h.9v.9h-.9zM82.4,457.6h.9v.9h-.9zM81.2,465.1h.9v.9h-.9zM119.7,459.4h.9v.9h-.9zM82.9,461.3h.9v.9h-.9zM88.3,459.2h.9v.9h-.9zM91.5,462.7h.9v.9h-.9zM111.5,462.6h.9v.9h-.9zM95.1,459.7h.9v.9h-.9zM84.0,463.2h.9v.9h-.9zM85.4,459.3h.9v.9h-.9zM95.8,461.9h.9v.9h-.9zM87.8,465.2h.9v.9h-.9zM75.7,463.8h.9v.9h-.9zM119.9,458.1h.9v.9h-.9zM109.9,464.0h.9v.9h-.9zM64.6,459.6h.9v.9h-.9zM84.4,465.1h.9v.9h-.9zM116.3,460.3h.9v.9h-.9zM88.4,459.4h.9v.9h-.9zM117.2,458.1h.9v.9h-.9zM98.3,459.0h.9v.9h-.9zM83.6,458.9h.9v.9h-.9zM91.1,462.5h.9v.9h-.9zM81.5,459.9h.9v.9h-.9zM73.1,459.8h.9v.9h-.9zM94.3,461.7h.9v.9h-.9zM83.0,460.5h.9v.9h-.9zM99.4,458.0h.9v.9h-.9zM92.7,460.6h.9v.9h-.9zM86.3,464.9h.9v.9h-.9z" fill="#f8b070" fill-opacity="0.75"/>
<path d="M103.4,471.3h.9v.9h-.9zM109.1,476.4h.9v.9h-.9zM96.4,474.2h.9v.9h-.9zM92.7,475.6h.9v.9h-.9zM108.3,471.6h.9v.9h-.9zM97.8,469.7h.9v.9h-.9zM103.1,473.5h.9v.9h-.9zM72.5,473.4h.9v.9h-.9zM102.2,469.6h.9v.9h-.9zM102.6,475.8h.9v.9h-.9zM102.0,474.8h.9v.9h-.9zM137.2,469.4h.9v.9h-.9zM132.8,472.3h.9v.9h-.9zM110.3,471.5h.9v.9h-.9zM108.6,475.0h.9v.9h-.9zM107.6,470.2h.9v.9h-.9zM108.8,475.0h.9v.9h-.9zM96.8,471.6h.9v.9h-.9zM92.5,469.4h.9v.9h-.9zM106.4,475.6h.9v.9h-.9zM103.3,474.5h.9v.9h-.9zM108.6,469.3h.9v.9h-.9zM103.9,473.4h.9v.9h-.9zM100.6,473.1h.9v.9h-.9zM105.2,472.0h.9v.9h-.9zM93.0,473.4h.9v.9h-.9zM82.4,474.5h.9v.9h-.9zM97.6,469.8h.9v.9h-.9zM73.7,469.4h.9v.9h-.9zM94.4,471.9h.9v.9h-.9zM69.2,473.5h.9v.9h-.9zM106.6,474.6h.9v.9h-.9zM70.1,472.4h.9v.9h-.9zM110.8,469.5h.9v.9h-.9zM134.2,474.3h.9v.9h-.9zM79.6,476.3h.9v.9h-.9zM131.5,475.7h.9v.9h-.9zM107.7,475.8h.9v.9h-.9zM99.3,474.4h.9v.9h-.9zM109.7,470.6h.9v.9h-.9zM76.2,472.4h.9v.9h-.9zM80.6,470.5h.9v.9h-.9zM88.1,468.7h.9v.9h-.9zM95.7,475.9h.9v.9h-.9zM127.4,469.7h.9v.9h-.9zM74.2,472.6h.9v.9h-.9zM90.9,475.4h.9v.9h-.9zM105.9,475.5h.9v.9h-.9zM111.6,473.4h.9v.9h-.9zM107.8,470.5h.9v.9h-.9zM142.4,471.3h.9v.9h-.9zM96.5,469.8h.9v.9h-.9zM69.7,475.0h.9v.9h-.9zM104.8,476.3h.9v.9h-.9zM111.6,470.9h.9v.9h-.9zM93.2,469.6h.9v.9h-.9zM95.8,472.5h.9v.9h-.9zM75.4,470.2h.9v.9h-.9zM67.9,468.4h.9v.9h-.9zM94.6,471.3h.9v.9h-.9zM103.7,473.1h.9v.9h-.9zM104.5,472.2h.9v.9h-.9zM110.5,470.3h.9v.9h-.9zM94.4,473.5h.9v.9h-.9zM119.7,471.6h.9v.9h-.9zM92.8,473.6h.9v.9h-.9zM90.3,473.6h.9v.9h-.9zM110.5,474.3h.9v.9h-.9zM109.9,468.8h.9v.9h-.9zM94.0,470.3h.9v.9h-.9zM107.5,468.5h.9v.9h-.9zM130.5,469.5h.9v.9h-.9zM104.2,472.5h.9v.9h-.9zM121.8,469.8h.9v.9h-.9zM98.3,468.8h.9v.9h-.9zM119.7,474.1h.9v.9h-.9zM108.7,474.4h.9v.9h-.9zM116.9,472.0h.9v.9h-.9zM94.6,470.3h.9v.9h-.9zM99.0,474.4h.9v.9h-.9zM124.0,474.1h.9v.9h-.9zM103.2,471.9h.9v.9h-.9zM102.0,470.5h.9v.9h-.9zM132.1,470.1h.9v.9h-.9zM67.4,470.5h.9v.9h-.9zM106.8,476.0h.9v.9h-.9zM88.7,475.4h.9v.9h-.9zM97.2,475.7h.9v.9h-.9zM113.6,473.7h.9v.9h-.9zM140.9,475.1h.9v.9h-.9zM124.8,471.9h.9v.9h-.9zM105.2,470.9h.9v.9h-.9zM104.5,469.0h.9v.9h-.9zM76.2,468.6h.9v.9h-.9zM110.3,471.2h.9v.9h-.9zM93.1,468.7h.9v.9h-.9zM109.6,474.0h.9v.9h-.9zM70.9,473.1h.9v.9h-.9zM108.2,475.0h.9v.9h-.9zM70.9,475.3h.9v.9h-.9zM130.7,469.3h.9v.9h-.9zM94.7,468.7h.9v.9h-.9zM121.7,473.5h.9v.9h-.9zM109.4,470.7h.9v.9h-.9zM94.5,474.5h.9v.9h-.9zM98.7,471.8h.9v.9h-.9zM97.5,470.7h.9v.9h-.9zM91.5,471.0h.9v.9h-.9zM141.4,475.2h.9v.9h-.9zM68.5,471.7h.9v.9h-.9zM107.4,471.2h.9v.9h-.9zM103.0,470.1h.9v.9h-.9zM72.6,475.0h.9v.9h-.9zM92.6,470.0h.9v.9h-.9zM133.0,468.4h.9v.9h-.9zM99.9,474.8h.9v.9h-.9zM102.0,471.2h.9v.9h-.9zM84.1,476.0h.9v.9h-.9zM96.7,474.0h.9v.9h-.9zM73.9,473.5h.9v.9h-.9zM107.6,474.0h.9v.9h-.9zM109.2,471.2h.9v.9h-.9zM100.1,475.5h.9v.9h-.9zM109.6,468.6h.9v.9h-.9zM97.6,475.6h.9v.9h-.9zM92.2,475.5h.9v.9h-.9zM101.4,472.7h.9v.9h-.9zM117.7,473.6h.9v.9h-.9zM98.8,469.6h.9v.9h-.9zM111.5,474.3h.9v.9h-.9zM101.0,474.6h.9v.9h-.9zM75.0,472.1h.9v.9h-.9zM82.6,469.9h.9v.9h-.9zM106.0,475.1h.9v.9h-.9zM95.6,470.4h.9v.9h-.9zM102.6,469.7h.9v.9h-.9zM96.2,476.2h.9v.9h-.9zM73.3,476.1h.9v.9h-.9zM99.9,476.3h.9v.9h-.9zM116.3,471.9h.9v.9h-.9zM104.8,469.3h.9v.9h-.9zM100.0,468.7h.9v.9h-.9zM107.7,473.9h.9v.9h-.9zM109.5,472.1h.9v.9h-.9zM104.1,471.6h.9v.9h-.9zM128.2,471.8h.9v.9h-.9zM117.4,471.8h.9v.9h-.9zM106.4,475.4h.9v.9h-.9zM114.1,475.2h.9v.9h-.9zM110.1,472.0h.9v.9h-.9z" fill="#a85cb8" fill-opacity="0.75"/>
<path d="M48,438.8 C50.83,438.58 60.5,438.47 65,437.5 C69.5,436.53 72,435.25 75,433 C78,430.75 80.5,427.17 83,424 C85.5,420.83 88,416.5 90,414 C92,411.5 93.33,410.02 95,409 C96.67,407.98 98.33,407.82 100,407.9 C101.67,407.98 103.33,408.32 105,409.5 C106.67,410.68 108.5,413.08 110,415 C111.5,416.92 112.67,419 114,421 C115.33,423 116.67,425.33 118,427 C119.33,428.67 120.33,429.83 122,431 C123.67,432.17 126,433.2 128,434 C130,434.8 132,435.22 134,435.8 C136,436.38 137.67,437.03 140,437.5 C142.33,437.97 144.67,438.38 148,438.6 C151.33,438.82 158,438.77 160,438.8 L160,438.8 L48,438.8Z" fill="#c18cc7" fill-opacity="0.72"/>
<path d="M48,438.8 C50.83,438.58 60.5,438.47 65,437.5 C69.5,436.53 72,435.25 75,433 C78,430.75 80.5,427.17 83,424 C85.5,420.83 88,416.5 90,414 C92,411.5 93.33,410.02 95,409 C96.67,407.98 98.33,407.82 100,407.9 C101.67,407.98 103.33,408.32 105,409.5 C106.67,410.68 108.5,413.08 110,415 C111.5,416.92 112.67,419 114,421 C115.33,423 116.67,425.33 118,427 C119.33,428.67 120.33,429.83 122,431 C123.67,432.17 126,433.2 128,434 C130,434.8 132,435.22 134,435.8 C136,436.38 137.67,437.03 140,437.5 C142.33,437.97 144.67,438.38 148,438.6 C151.33,438.82 158,438.77 160,438.8" fill="none" stroke="#2a2a2a" stroke-width="0.55" stroke-opacity="0.85"/>
<path d="M45,438.8 C46.67,438.5 52.33,437.88 55,437 C57.67,436.12 59.33,434.67 61,433.5 C62.67,432.33 63.67,430.55 65,430 C66.33,429.45 67.67,430.7 69,430.2 C70.33,429.7 71.5,428.78 73,427 C74.5,425.22 76.33,422.17 78,419.5 C79.67,416.83 81.5,413.17 83,411 C84.5,408.83 85.92,407.4 87,406.5 C88.08,405.6 88.67,405.63 89.5,405.6 C90.33,405.57 90.92,405.65 92,406.3 C93.08,406.95 94.5,408.05 96,409.5 C97.5,410.95 99.17,412.75 101,415 C102.83,417.25 105,420.5 107,423 C109,425.5 110.83,427.92 113,430 C115.17,432.08 117.17,434.12 120,435.5 C122.83,436.88 126.67,437.75 130,438.3 C133.33,438.85 138.33,438.72 140,438.8 L140,438.8 L45,438.8Z" fill="#fed5ab" fill-opacity="0.72"/>
<path d="M45,438.8 C46.67,438.5 52.33,437.88 55,437 C57.67,436.12 59.33,434.67 61,433.5 C62.67,432.33 63.67,430.55 65,430 C66.33,429.45 67.67,430.7 69,430.2 C70.33,429.7 71.5,428.78 73,427 C74.5,425.22 76.33,422.17 78,419.5 C79.67,416.83 81.5,413.17 83,411 C84.5,408.83 85.92,407.4 87,406.5 C88.08,405.6 88.67,405.63 89.5,405.6 C90.33,405.57 90.92,405.65 92,406.3 C93.08,406.95 94.5,408.05 96,409.5 C97.5,410.95 99.17,412.75 101,415 C102.83,417.25 105,420.5 107,423 C109,425.5 110.83,427.92 113,430 C115.17,432.08 117.17,434.12 120,435.5 C122.83,436.88 126.67,437.75 130,438.3 C133.33,438.85 138.33,438.72 140,438.8" fill="none" stroke="#2a2a2a" stroke-width="0.55" stroke-opacity="0.85"/>
<path d="M42,438.8 C43.67,438.63 49,438.43 52,437.8 C55,437.17 57.67,436.05 60,435 C62.33,433.95 64.33,432.58 66,431.5 C67.67,430.42 68.5,430.17 70,428.5 C71.5,426.83 73.33,423.83 75,421.5 C76.67,419.17 78.33,416.25 80,414.5 C81.67,412.75 83.33,411.65 85,411 C86.67,410.35 88.33,410.52 90,410.6 C91.67,410.68 93.33,410.93 95,411.5 C96.67,412.07 98.33,412.83 100,414 C101.67,415.17 103.33,416.83 105,418.5 C106.67,420.17 108.33,422.08 110,424 C111.67,425.92 113.33,428.25 115,430 C116.67,431.75 118.17,433.33 120,434.5 C121.83,435.67 123.5,436.35 126,437 C128.5,437.65 131,438.1 135,438.4 C139,438.7 147.5,438.73 150,438.8 L150,438.8 L42,438.8Z" fill="#fa8072" fill-opacity="0.72"/>
<path d="M42,438.8 C43.67,438.63 49,438.43 52,437.8 C55,437.17 57.67,436.05 60,435 C62.33,433.95 64.33,432.58 66,431.5 C67.67,430.42 68.5,430.17 70,428.5 C71.5,426.83 73.33,423.83 75,421.5 C76.67,419.17 78.33,416.25 80,414.5 C81.67,412.75 83.33,411.65 85,411 C86.67,410.35 88.33,410.52 90,410.6 C91.67,410.68 93.33,410.93 95,411.5 C96.67,412.07 98.33,412.83 100,414 C101.67,415.17 103.33,416.83 105,418.5 C106.67,420.17 108.33,422.08 110,424 C111.67,425.92 113.33,428.25 115,430 C116.67,431.75 118.17,433.33 120,434.5 C121.83,435.67 123.5,436.35 126,437 C128.5,437.65 131,438.1 135,438.4 C139,438.7 147.5,438.73 150,438.8" fill="none" stroke="#2a2a2a" stroke-width="0.55" stroke-opacity="0.85"/>
<line x1="56.5" y1="450.3" x2="124.7" y2="450.3" stroke="#6a6a6a" stroke-width="0.6"/>
<rect x="82.5" y="446.7" width="17.5" height="7.2" fill="#fff" fill-opacity="0.3" stroke="#4a4a4a" stroke-width="0.6"/>
<line x1="89.8" y1="446.7" x2="89.8" y2="453.9" stroke="#444" stroke-width="0.6"/>
<line x1="30.5" y1="450.3" x2="32" y2="450.3" stroke="#5a5a5a" stroke-width="0.6"/>
<line x1="62.3" y1="461.3" x2="120.4" y2="461.3" stroke="#6a6a6a" stroke-width="0.6"/>
<rect x="81.3" y="457.7" width="16.4" height="7.2" fill="#fff" fill-opacity="0.3" stroke="#4a4a4a" stroke-width="0.6"/>
<line x1="89.8" y1="457.7" x2="89.8" y2="464.9" stroke="#444" stroke-width="0.6"/>
<line x1="30.5" y1="461.3" x2="32" y2="461.3" stroke="#5a5a5a" stroke-width="0.6"/>
<line x1="66.4" y1="472.4" x2="134.5" y2="472.4" stroke="#6a6a6a" stroke-width="0.6"/>
<rect x="92.6" y="468.8" width="19.1" height="7.2" fill="#fff" fill-opacity="0.3" stroke="#4a4a4a" stroke-width="0.6"/>
<line x1="101.5" y1="468.8" x2="101.5" y2="476" stroke="#444" stroke-width="0.6"/>
<line x1="30.5" y1="472.4" x2="32" y2="472.4" stroke="#5a5a5a" stroke-width="0.6"/>
<path d="M30.5,398.5 L30.5,483.3 L178,483.3" fill="none" stroke="#5a5a5a" stroke-width="0.8"/>
<line x1="30.5" y1="405.5" x2="32" y2="405.5" stroke="#5a5a5a" stroke-width="0.6"/>
<text x="27.6" y="408.35" font-size="7.9" text-anchor="end" fill="#262626">6</text>
<text x="27.9" y="441.65" font-size="7.9" text-anchor="end" fill="#262626">0</text>
<line x1="53.9" y1="483.3" x2="53.9" y2="481.8" stroke="#5a5a5a" stroke-width="0.6"/>
<text x="53.9" y="495.2" font-size="7.9" text-anchor="middle" fill="#262626">0.6</text>
<line x1="93" y1="483.3" x2="93" y2="481.8" stroke="#5a5a5a" stroke-width="0.6"/>
<text x="93" y="495.2" font-size="7.9" text-anchor="middle" fill="#262626">0.8</text>
<line x1="131.9" y1="483.3" x2="131.9" y2="481.8" stroke="#5a5a5a" stroke-width="0.6"/>
<text x="131.9" y="495.2" font-size="7.9" text-anchor="middle" fill="#262626">1</text>
<line x1="170.7" y1="483.3" x2="170.7" y2="481.8" stroke="#5a5a5a" stroke-width="0.6"/>
<text x="170.7" y="495.2" font-size="7.9" text-anchor="middle" fill="#262626">1.2</text>
<text x="79.2" y="506.9" font-size="8.3" textLength="53.8" lengthAdjust="spacingAndGlyphs" fill="#262626">Synergy values</text>
<line x1="159.1" y1="460.2" x2="159.1" y2="473.8" stroke="#1a1a1a" stroke-width="1.3"/>
<path d="M165.3,464.9L165.3,469.5M163.31,466.05L167.29,468.35M167.29,466.05L163.31,468.35" stroke="#1a1a1a" stroke-width="0.75" fill="none"/>
<line x1="172.6" y1="448.7" x2="172.6" y2="474.5" stroke="#1a1a1a" stroke-width="1.3"/>
<path d="M178.3,459.1L178.3,463.7M176.31,460.25L180.29,462.55M180.29,460.25L176.31,462.55" stroke="#1a1a1a" stroke-width="0.75" fill="none"/>
<line x1="196.9" y1="438.8" x2="341.4" y2="438.8" stroke="#9a9a9a" stroke-width="0.9" stroke-dasharray="3.4 3"/>
<path d="M240.3,447.1h.9v.9h-.9zM243.1,452.0h.9v.9h-.9zM234.3,449.7h.9v.9h-.9zM253.1,449.6h.9v.9h-.9zM268.8,447.8h.9v.9h-.9zM261.1,449.4h.9v.9h-.9zM271.0,446.6h.9v.9h-.9zM229.8,452.6h.9v.9h-.9zM247.9,447.1h.9v.9h-.9zM249.0,452.0h.9v.9h-.9zM254.0,452.9h.9v.9h-.9zM242.4,453.9h.9v.9h-.9zM241.4,449.4h.9v.9h-.9zM227.8,454.2h.9v.9h-.9zM230.1,448.5h.9v.9h-.9zM229.3,449.6h.9v.9h-.9zM241.6,449.1h.9v.9h-.9zM233.1,452.2h.9v.9h-.9zM248.3,448.1h.9v.9h-.9zM241.5,448.0h.9v.9h-.9zM243.0,452.8h.9v.9h-.9zM245.4,450.8h.9v.9h-.9zM246.4,449.1h.9v.9h-.9zM263.1,452.8h.9v.9h-.9zM236.5,450.7h.9v.9h-.9zM244.0,449.1h.9v.9h-.9zM235.2,449.3h.9v.9h-.9zM236.7,447.8h.9v.9h-.9zM242.0,448.5h.9v.9h-.9zM234.5,450.1h.9v.9h-.9zM240.5,451.6h.9v.9h-.9zM245.7,453.1h.9v.9h-.9zM243.9,453.5h.9v.9h-.9zM228.7,453.0h.9v.9h-.9zM222.4,446.4h.9v.9h-.9zM279.0,448.3h.9v.9h-.9zM231.7,448.2h.9v.9h-.9zM239.2,447.5h.9v.9h-.9zM261.7,447.6h.9v.9h-.9zM252.4,452.6h.9v.9h-.9zM266.9,452.6h.9v.9h-.9zM231.6,451.8h.9v.9h-.9zM259.2,449.8h.9v.9h-.9zM249.7,448.4h.9v.9h-.9zM231.6,450.2h.9v.9h-.9zM237.5,447.5h.9v.9h-.9zM246.9,450.6h.9v.9h-.9zM221.9,453.0h.9v.9h-.9zM250.1,451.6h.9v.9h-.9zM240.6,449.7h.9v.9h-.9zM273.1,451.4h.9v.9h-.9zM223.0,451.2h.9v.9h-.9zM268.8,448.9h.9v.9h-.9zM277.5,450.2h.9v.9h-.9zM223.3,452.0h.9v.9h-.9zM238.8,453.2h.9v.9h-.9zM237.6,450.5h.9v.9h-.9zM232.3,449.8h.9v.9h-.9zM239.0,452.9h.9v.9h-.9zM243.9,449.5h.9v.9h-.9zM235.4,450.4h.9v.9h-.9zM278.9,452.6h.9v.9h-.9zM234.8,448.7h.9v.9h-.9zM253.8,452.6h.9v.9h-.9zM242.0,453.4h.9v.9h-.9zM224.1,448.7h.9v.9h-.9zM232.5,453.7h.9v.9h-.9zM255.0,452.6h.9v.9h-.9zM252.6,451.2h.9v.9h-.9zM256.9,451.1h.9v.9h-.9zM232.4,451.6h.9v.9h-.9zM260.3,447.1h.9v.9h-.9zM229.8,452.5h.9v.9h-.9zM254.8,449.3h.9v.9h-.9zM261.5,450.8h.9v.9h-.9zM234.5,449.7h.9v.9h-.9zM236.8,451.4h.9v.9h-.9zM224.4,450.8h.9v.9h-.9zM231.2,452.8h.9v.9h-.9zM268.2,449.9h.9v.9h-.9zM236.0,451.0h.9v.9h-.9zM271.3,450.1h.9v.9h-.9zM230.9,451.5h.9v.9h-.9zM231.8,446.4h.9v.9h-.9zM241.3,447.3h.9v.9h-.9zM273.2,453.3h.9v.9h-.9zM229.4,452.1h.9v.9h-.9zM242.2,447.8h.9v.9h-.9zM243.0,452.0h.9v.9h-.9zM258.6,447.0h.9v.9h-.9zM257.6,450.0h.9v.9h-.9zM234.5,454.0h.9v.9h-.9zM222.2,446.4h.9v.9h-.9zM263.0,446.9h.9v.9h-.9zM242.2,447.6h.9v.9h-.9zM246.3,446.8h.9v.9h-.9zM239.4,449.8h.9v.9h-.9zM228.9,452.7h.9v.9h-.9zM240.6,451.3h.9v.9h-.9zM236.0,452.6h.9v.9h-.9zM261.4,450.8h.9v.9h-.9zM230.2,454.1h.9v.9h-.9zM263.5,449.0h.9v.9h-.9zM271.2,453.0h.9v.9h-.9zM237.2,449.7h.9v.9h-.9zM240.7,451.8h.9v.9h-.9zM267.0,452.8h.9v.9h-.9zM229.1,448.4h.9v.9h-.9zM239.6,452.8h.9v.9h-.9zM223.7,453.0h.9v.9h-.9zM265.6,450.9h.9v.9h-.9zM244.3,452.8h.9v.9h-.9zM267.9,449.1h.9v.9h-.9zM239.0,452.7h.9v.9h-.9zM242.5,453.8h.9v.9h-.9zM240.0,451.7h.9v.9h-.9zM232.1,448.3h.9v.9h-.9zM261.7,450.0h.9v.9h-.9zM243.5,452.5h.9v.9h-.9zM239.5,453.5h.9v.9h-.9zM248.1,450.1h.9v.9h-.9zM231.2,447.8h.9v.9h-.9zM241.6,449.2h.9v.9h-.9zM242.0,450.4h.9v.9h-.9zM229.9,454.3h.9v.9h-.9zM231.0,451.4h.9v.9h-.9zM229.5,451.1h.9v.9h-.9zM238.4,446.5h.9v.9h-.9zM246.8,453.2h.9v.9h-.9zM250.4,448.4h.9v.9h-.9zM243.2,453.9h.9v.9h-.9zM263.1,454.0h.9v.9h-.9zM229.8,447.9h.9v.9h-.9zM230.6,446.7h.9v.9h-.9zM265.7,450.0h.9v.9h-.9zM267.7,446.8h.9v.9h-.9zM241.7,447.3h.9v.9h-.9zM274.9,450.8h.9v.9h-.9zM270.1,451.7h.9v.9h-.9zM237.1,447.6h.9v.9h-.9zM282.4,448.1h.9v.9h-.9zM233.7,449.1h.9v.9h-.9zM267.5,453.0h.9v.9h-.9zM243.2,452.0h.9v.9h-.9zM271.6,446.7h.9v.9h-.9zM242.6,453.8h.9v.9h-.9zM236.7,451.0h.9v.9h-.9zM226.9,448.9h.9v.9h-.9zM231.3,450.2h.9v.9h-.9zM233.4,447.4h.9v.9h-.9z" fill="#f05548" fill-opacity="0.75"/>
<path d="M218.4,463.0h.9v.9h-.9zM230.7,464.7h.9v.9h-.9zM243.7,464.2h.9v.9h-.9zM223.9,460.9h.9v.9h-.9zM243.7,464.0h.9v.9h-.9zM237.7,460.0h.9v.9h-.9zM238.8,462.3h.9v.9h-.9zM233.4,457.8h.9v.9h-.9zM242.1,458.5h.9v.9h-.9zM229.5,460.6h.9v.9h-.9zM234.1,464.0h.9v.9h-.9zM232.6,461.2h.9v.9h-.9zM243.3,458.2h.9v.9h-.9zM262.3,464.5h.9v.9h-.9zM227.1,461.1h.9v.9h-.9zM233.9,458.9h.9v.9h-.9zM244.6,465.3h.9v.9h-.9zM222.1,459.6h.9v.9h-.9zM220.3,463.1h.9v.9h-.9zM244.4,457.4h.9v.9h-.9zM232.8,458.4h.9v.9h-.9zM242.3,461.5h.9v.9h-.9zM236.5,464.6h.9v.9h-.9zM238.5,458.4h.9v.9h-.9zM241.4,463.0h.9v.9h-.9zM231.3,458.0h.9v.9h-.9zM239.6,459.5h.9v.9h-.9zM239.1,463.0h.9v.9h-.9zM243.4,458.9h.9v.9h-.9zM240.8,460.6h.9v.9h-.9zM220.2,463.8h.9v.9h-.9zM242.4,464.2h.9v.9h-.9zM218.5,464.6h.9v.9h-.9zM256.2,459.4h.9v.9h-.9zM242.3,460.2h.9v.9h-.9zM235.6,462.1h.9v.9h-.9zM237.7,460.9h.9v.9h-.9zM223.1,463.0h.9v.9h-.9zM255.9,459.9h.9v.9h-.9zM234.6,463.3h.9v.9h-.9zM242.9,464.9h.9v.9h-.9zM240.4,461.5h.9v.9h-.9zM218.7,465.0h.9v.9h-.9zM232.8,458.1h.9v.9h-.9zM242.0,457.5h.9v.9h-.9zM240.3,458.9h.9v.9h-.9zM238.9,461.9h.9v.9h-.9zM248.7,458.1h.9v.9h-.9zM249.4,457.7h.9v.9h-.9zM237.4,461.3h.9v.9h-.9zM232.0,460.5h.9v.9h-.9zM238.8,464.2h.9v.9h-.9zM238.5,463.3h.9v.9h-.9zM242.2,464.8h.9v.9h-.9zM236.3,464.0h.9v.9h-.9zM235.2,464.8h.9v.9h-.9zM232.7,459.2h.9v.9h-.9zM236.5,465.1h.9v.9h-.9zM258.0,463.8h.9v.9h-.9zM220.2,461.4h.9v.9h-.9zM270.0,459.3h.9v.9h-.9zM239.4,460.2h.9v.9h-.9zM220.8,460.8h.9v.9h-.9zM218.7,458.4h.9v.9h-.9zM268.6,464.8h.9v.9h-.9zM253.4,464.4h.9v.9h-.9zM219.3,462.4h.9v.9h-.9zM240.0,459.5h.9v.9h-.9zM258.5,462.3h.9v.9h-.9zM237.7,460.8h.9v.9h-.9zM264.3,459.7h.9v.9h-.9zM223.1,462.1h.9v.9h-.9zM266.3,459.4h.9v.9h-.9zM241.3,458.5h.9v.9h-.9zM232.1,459.6h.9v.9h-.9zM234.4,459.2h.9v.9h-.9zM238.1,464.0h.9v.9h-.9zM242.9,462.5h.9v.9h-.9zM240.5,461.0h.9v.9h-.9zM244.8,461.1h.9v.9h-.9zM233.7,459.1h.9v.9h-.9zM234.7,462.0h.9v.9h-.9zM235.3,464.2h.9v.9h-.9zM238.3,461.2h.9v.9h-.9zM244.5,459.7h.9v.9h-.9zM224.8,457.8h.9v.9h-.9zM237.2,457.8h.9v.9h-.9zM236.6,463.2h.9v.9h-.9zM233.5,465.0h.9v.9h-.9zM224.6,460.0h.9v.9h-.9zM240.0,462.2h.9v.9h-.9zM253.9,461.4h.9v.9h-.9zM250.5,463.4h.9v.9h-.9zM252.3,463.0h.9v.9h-.9zM223.4,464.3h.9v.9h-.9zM241.3,462.0h.9v.9h-.9zM260.2,461.9h.9v.9h-.9zM241.6,464.3h.9v.9h-.9zM234.5,460.9h.9v.9h-.9zM249.6,459.6h.9v.9h-.9zM238.3,460.4h.9v.9h-.9zM241.6,464.1h.9v.9h-.9zM237.3,458.8h.9v.9h-.9zM232.3,461.9h.9v.9h-.9zM221.7,464.7h.9v.9h-.9zM242.4,464.0h.9v.9h-.9zM263.6,460.7h.9v.9h-.9zM218.3,457.7h.9v.9h-.9zM239.7,464.7h.9v.9h-.9zM241.5,465.3h.9v.9h-.9zM240.6,462.8h.9v.9h-.9zM235.4,462.1h.9v.9h-.9zM243.9,462.7h.9v.9h-.9zM222.2,460.3h.9v.9h-.9zM238.3,461.9h.9v.9h-.9zM260.2,461.2h.9v.9h-.9zM239.3,465.3h.9v.9h-.9zM237.9,463.8h.9v.9h-.9zM234.8,465.1h.9v.9h-.9zM240.4,458.2h.9v.9h-.9zM248.2,463.9h.9v.9h-.9zM269.6,460.7h.9v.9h-.9zM234.4,461.4h.9v.9h-.9zM226.1,458.8h.9v.9h-.9zM244.3,460.1h.9v.9h-.9zM267.4,457.6h.9v.9h-.9zM241.6,459.8h.9v.9h-.9zM218.0,459.7h.9v.9h-.9zM243.6,462.6h.9v.9h-.9zM237.4,461.7h.9v.9h-.9zM239.6,461.6h.9v.9h-.9zM266.9,460.6h.9v.9h-.9zM232.5,463.4h.9v.9h-.9zM231.7,458.7h.9v.9h-.9zM254.0,462.2h.9v.9h-.9zM220.5,457.4h.9v.9h-.9zM232.0,463.0h.9v.9h-.9zM232.7,459.4h.9v.9h-.9zM243.3,462.0h.9v.9h-.9zM236.7,460.4h.9v.9h-.9zM243.1,462.0h.9v.9h-.9zM265.7,462.3h.9v.9h-.9zM230.8,464.7h.9v.9h-.9zM231.7,464.5h.9v.9h-.9zM231.2,462.1h.9v.9h-.9zM266.2,464.9h.9v.9h-.9zM235.9,463.0h.9v.9h-.9zM234.7,464.3h.9v.9h-.9zM252.7,459.2h.9v.9h-.9zM235.4,458.8h.9v.9h-.9z" fill="#f8b070" fill-opacity="0.75"/>
<path d="M270.3,472.9h.9v.9h-.9zM238.0,471.5h.9v.9h-.9zM230.5,469.4h.9v.9h-.9zM237.8,470.4h.9v.9h-.9zM234.0,470.3h.9v.9h-.9zM240.1,471.1h.9v.9h-.9zM240.7,469.1h.9v.9h-.9zM242.8,469.4h.9v.9h-.9zM242.8,474.8h.9v.9h-.9zM235.1,474.2h.9v.9h-.9zM244.7,470.1h.9v.9h-.9zM272.2,470.2h.9v.9h-.9zM227.6,474.1h.9v.9h-.9zM243.8,473.1h.9v.9h-.9zM233.4,473.3h.9v.9h-.9zM243.4,469.4h.9v.9h-.9zM246.6,470.6h.9v.9h-.9zM239.3,473.7h.9v.9h-.9zM235.9,471.5h.9v.9h-.9zM232.3,475.2h.9v.9h-.9zM240.0,469.3h.9v.9h-.9zM238.2,472.4h.9v.9h-.9zM230.5,470.9h.9v.9h-.9zM231.5,474.1h.9v.9h-.9zM235.9,475.7h.9v.9h-.9zM262.2,475.3h.9v.9h-.9zM233.9,468.6h.9v.9h-.9zM252.1,471.2h.9v.9h-.9zM240.0,474.0h.9v.9h-.9zM243.0,471.2h.9v.9h-.9zM230.0,469.3h.9v.9h-.9zM255.4,474.1h.9v.9h-.9zM230.1,469.7h.9v.9h-.9zM234.3,471.4h.9v.9h-.9zM234.4,473.5h.9v.9h-.9zM242.8,473.0h.9v.9h-.9zM233.3,471.9h.9v.9h-.9zM237.7,468.4h.9v.9h-.9zM257.3,470.7h.9v.9h-.9zM243.1,473.3h.9v.9h-.9zM233.4,469.3h.9v.9h-.9zM231.3,475.7h.9v.9h-.9zM225.6,474.0h.9v.9h-.9zM241.4,475.0h.9v.9h-.9zM230.9,476.0h.9v.9h-.9zM244.3,473.9h.9v.9h-.9zM259.8,473.4h.9v.9h-.9zM224.1,474.0h.9v.9h-.9zM237.6,475.8h.9v.9h-.9zM241.6,468.7h.9v.9h-.9zM258.7,470.5h.9v.9h-.9zM266.2,473.5h.9v.9h-.9zM233.1,468.9h.9v.9h-.9zM236.0,470.0h.9v.9h-.9zM231.7,474.1h.9v.9h-.9zM232.5,470.3h.9v.9h-.9zM242.1,475.9h.9v.9h-.9zM234.3,475.5h.9v.9h-.9zM238.5,471.1h.9v.9h-.9zM246.8,474.5h.9v.9h-.9zM240.1,473.2h.9v.9h-.9zM256.8,475.0h.9v.9h-.9zM234.1,471.3h.9v.9h-.9zM230.5,470.6h.9v.9h-.9zM240.7,472.0h.9v.9h-.9zM234.7,472.1h.9v.9h-.9zM232.2,469.0h.9v.9h-.9zM245.3,474.4h.9v.9h-.9zM240.9,476.2h.9v.9h-.9zM226.6,472.3h.9v.9h-.9zM232.5,472.7h.9v.9h-.9zM244.1,473.6h.9v.9h-.9zM264.6,473.6h.9v.9h-.9zM233.4,469.5h.9v.9h-.9zM241.8,475.1h.9v.9h-.9zM232.5,473.5h.9v.9h-.9zM264.2,469.7h.9v.9h-.9zM259.8,474.3h.9v.9h-.9zM232.4,475.0h.9v.9h-.9zM235.4,472.8h.9v.9h-.9zM242.7,470.3h.9v.9h-.9zM238.5,473.4h.9v.9h-.9zM254.1,475.6h.9v.9h-.9zM244.3,472.4h.9v.9h-.9zM234.3,473.0h.9v.9h-.9zM240.4,469.7h.9v.9h-.9zM244.9,469.1h.9v.9h-.9zM236.5,469.9h.9v.9h-.9zM221.7,475.1h.9v.9h-.9zM257.8,471.8h.9v.9h-.9zM240.0,472.5h.9v.9h-.9zM234.9,471.9h.9v.9h-.9zM259.6,475.6h.9v.9h-.9zM234.2,471.9h.9v.9h-.9zM237.6,470.0h.9v.9h-.9zM234.6,472.1h.9v.9h-.9zM276.0,475.3h.9v.9h-.9zM276.4,473.4h.9v.9h-.9zM224.4,473.8h.9v.9h-.9zM235.3,473.0h.9v.9h-.9zM272.0,473.6h.9v.9h-.9zM235.0,475.5h.9v.9h-.9zM232.5,473.8h.9v.9h-.9zM230.9,473.7h.9v.9h-.9zM238.7,471.7h.9v.9h-.9zM247.6,471.6h.9v.9h-.9zM232.4,475.5h.9v.9h-.9zM226.8,475.3h.9v.9h-.9zM231.0,472.6h.9v.9h-.9zM237.3,472.8h.9v.9h-.9zM238.6,469.3h.9v.9h-.9zM248.7,469.0h.9v.9h-.9zM230.7,471.9h.9v.9h-.9zM246.9,474.1h.9v.9h-.9zM226.9,476.3h.9v.9h-.9zM226.3,475.0h.9v.9h-.9zM232.2,476.1h.9v.9h-.9zM257.2,469.5h.9v.9h-.9zM224.2,470.3h.9v.9h-.9zM229.7,473.2h.9v.9h-.9zM234.3,474.1h.9v.9h-.9zM243.6,473.4h.9v.9h-.9zM247.5,475.7h.9v.9h-.9zM229.3,474.4h.9v.9h-.9zM241.6,473.8h.9v.9h-.9zM227.2,471.4h.9v.9h-.9zM265.2,474.2h.9v.9h-.9zM239.1,469.2h.9v.9h-.9zM258.5,469.3h.9v.9h-.9zM252.7,470.4h.9v.9h-.9zM236.6,475.1h.9v.9h-.9zM226.8,468.6h.9v.9h-.9zM242.2,469.9h.9v.9h-.9zM234.9,473.9h.9v.9h-.9zM231.8,475.4h.9v.9h-.9zM253.3,474.9h.9v.9h-.9zM222.2,471.1h.9v.9h-.9zM237.5,475.4h.9v.9h-.9zM223.2,469.9h.9v.9h-.9zM252.9,471.5h.9v.9h-.9zM228.9,475.2h.9v.9h-.9zM243.4,473.3h.9v.9h-.9zM234.7,470.1h.9v.9h-.9zM248.7,468.7h.9v.9h-.9zM235.2,472.1h.9v.9h-.9zM239.4,471.2h.9v.9h-.9zM238.7,471.1h.9v.9h-.9zM236.8,476.3h.9v.9h-.9zM231.8,473.8h.9v.9h-.9zM233.8,472.4h.9v.9h-.9z" fill="#a85cb8" fill-opacity="0.75"/>
<path d="M210,438.8 C211.33,438 215.83,436.72 218,434 C220.17,431.28 221.33,425.75 223,422.5 C224.67,419.25 226.5,416.17 228,414.5 C229.5,412.83 230.5,412.42 232,412.5 C233.5,412.58 235.17,413.33 237,415 C238.83,416.67 241,420.08 243,422.5 C245,424.92 247.17,427.92 249,429.5 C250.83,431.08 251.5,431.33 254,432 C256.5,432.67 260.83,432.97 264,433.5 C267.17,434.03 269.67,434.45 273,435.2 C276.33,435.95 280.83,437.4 284,438 C287.17,438.6 290.67,438.67 292,438.8 L292,438.8 L210,438.8Z" fill="#c18cc7" fill-opacity="0.72"/>
<path d="M210,438.8 C211.33,438 215.83,436.72 218,434 C220.17,431.28 221.33,425.75 223,422.5 C224.67,419.25 226.5,416.17 228,414.5 C229.5,412.83 230.5,412.42 232,412.5 C233.5,412.58 235.17,413.33 237,415 C238.83,416.67 241,420.08 243,422.5 C245,424.92 247.17,427.92 249,429.5 C250.83,431.08 251.5,431.33 254,432 C256.5,432.67 260.83,432.97 264,433.5 C267.17,434.03 269.67,434.45 273,435.2 C276.33,435.95 280.83,437.4 284,438 C287.17,438.6 290.67,438.67 292,438.8" fill="none" stroke="#2a2a2a" stroke-width="0.55" stroke-opacity="0.85"/>
<path d="M210,438.8 C211.25,438 215.33,436.72 217.5,434 C219.67,431.28 221.18,425.95 223,422.5 C224.82,419.05 227.15,415.88 228.4,413.3 C229.65,410.72 229.88,408.35 230.5,407 C231.12,405.65 231.52,405.2 232.1,405.2 C232.68,405.2 233.27,405.65 234,407 C234.73,408.35 235.5,411.47 236.5,413.3 C237.5,415.13 238.58,416.13 240,418 C241.42,419.87 243.33,422.5 245,424.5 C246.67,426.5 248.17,428.67 250,430 C251.83,431.33 253.33,431.87 256,432.5 C258.67,433.13 262.67,433.22 266,433.8 C269.33,434.38 272.67,435.2 276,436 C279.33,436.8 283.33,438.13 286,438.6 C288.67,439.07 291,438.77 292,438.8 L292,438.8 L210,438.8Z" fill="#fed5ab" fill-opacity="0.72"/>
<path d="M210,438.8 C211.25,438 215.33,436.72 217.5,434 C219.67,431.28 221.18,425.95 223,422.5 C224.82,419.05 227.15,415.88 228.4,413.3 C229.65,410.72 229.88,408.35 230.5,407 C231.12,405.65 231.52,405.2 232.1,405.2 C232.68,405.2 233.27,405.65 234,407 C234.73,408.35 235.5,411.47 236.5,413.3 C237.5,415.13 238.58,416.13 240,418 C241.42,419.87 243.33,422.5 245,424.5 C246.67,426.5 248.17,428.67 250,430 C251.83,431.33 253.33,431.87 256,432.5 C258.67,433.13 262.67,433.22 266,433.8 C269.33,434.38 272.67,435.2 276,436 C279.33,436.8 283.33,438.13 286,438.6 C288.67,439.07 291,438.77 292,438.8" fill="none" stroke="#2a2a2a" stroke-width="0.55" stroke-opacity="0.85"/>
<path d="M210,438.8 C211.32,438.02 215.67,436.88 217.9,434.1 C220.13,431.32 221.77,425.38 223.4,422.1 C225.03,418.82 226.43,415.82 227.7,414.4 C228.97,412.98 229.35,413.23 231,413.6 C232.65,413.97 235.58,415 237.6,416.6 C239.62,418.2 241.28,421.02 243.1,423.2 C244.92,425.38 246.87,428.25 248.5,429.7 C250.13,431.15 250.33,431.27 252.9,431.9 C255.47,432.53 260.62,432.95 263.9,433.5 C267.18,434.05 269.32,434.45 272.6,435.2 C275.88,435.95 280.67,437.4 283.6,438 C286.53,438.6 289.1,438.67 290.2,438.8 L290.2,438.8 L210,438.8Z" fill="#fa8072" fill-opacity="0.72"/>
<path d="M210,438.8 C211.32,438.02 215.67,436.88 217.9,434.1 C220.13,431.32 221.77,425.38 223.4,422.1 C225.03,418.82 226.43,415.82 227.7,414.4 C228.97,412.98 229.35,413.23 231,413.6 C232.65,413.97 235.58,415 237.6,416.6 C239.62,418.2 241.28,421.02 243.1,423.2 C244.92,425.38 246.87,428.25 248.5,429.7 C250.13,431.15 250.33,431.27 252.9,431.9 C255.47,432.53 260.62,432.95 263.9,433.5 C267.18,434.05 269.32,434.45 272.6,435.2 C275.88,435.95 280.67,437.4 283.6,438 C286.53,438.6 289.1,438.67 290.2,438.8" fill="none" stroke="#2a2a2a" stroke-width="0.55" stroke-opacity="0.85"/>
<path d="M283,438.6 L334,438.6" stroke="#2a2a2a" stroke-width="0.7"/>
<line x1="221.6" y1="450.3" x2="272.3" y2="450.3" stroke="#6a6a6a" stroke-width="0.6"/>
<rect x="229.1" y="446.7" width="17.9" height="7.2" fill="#fff" fill-opacity="0.3" stroke="#4a4a4a" stroke-width="0.6"/>
<line x1="236.1" y1="446.7" x2="236.1" y2="453.9" stroke="#444" stroke-width="0.6"/>
<line x1="196.4" y1="450.3" x2="197.9" y2="450.3" stroke="#5a5a5a" stroke-width="0.6"/>
<line x1="217.8" y1="461.3" x2="261.8" y2="461.3" stroke="#6a6a6a" stroke-width="0.6"/>
<rect x="230.2" y="457.7" width="14.5" height="7.2" fill="#fff" fill-opacity="0.3" stroke="#4a4a4a" stroke-width="0.6"/>
<line x1="235.1" y1="457.7" x2="235.1" y2="464.9" stroke="#444" stroke-width="0.6"/>
<line x1="196.4" y1="461.3" x2="197.9" y2="461.3" stroke="#5a5a5a" stroke-width="0.6"/>
<line x1="221.6" y1="472.4" x2="267.6" y2="472.4" stroke="#6a6a6a" stroke-width="0.6"/>
<rect x="229.5" y="468.8" width="15.9" height="7.2" fill="#fff" fill-opacity="0.3" stroke="#4a4a4a" stroke-width="0.6"/>
<line x1="236.5" y1="468.8" x2="236.5" y2="476" stroke="#444" stroke-width="0.6"/>
<line x1="196.4" y1="472.4" x2="197.9" y2="472.4" stroke="#5a5a5a" stroke-width="0.6"/>
<path d="M196.4,398.5 L196.4,483.3 L344.2,483.3" fill="none" stroke="#5a5a5a" stroke-width="0.8"/>
<line x1="196.4" y1="405.7" x2="197.9" y2="405.7" stroke="#5a5a5a" stroke-width="0.6"/>
<text x="191.4" y="408.55" font-size="7.9" text-anchor="end" fill="#262626">47</text>
<text x="191.7" y="441.65" font-size="7.9" text-anchor="end" fill="#262626">0</text>
<line x1="208.5" y1="483.3" x2="208.5" y2="481.8" stroke="#5a5a5a" stroke-width="0.6"/>
<text x="208.5" y="495.2" font-size="7.9" text-anchor="middle" fill="#262626">0</text>
<line x1="261.3" y1="483.3" x2="261.3" y2="481.8" stroke="#5a5a5a" stroke-width="0.6"/>
<text x="261.3" y="495.2" font-size="7.9" text-anchor="middle" fill="#262626">0.05</text>
<line x1="314.3" y1="483.3" x2="314.3" y2="481.8" stroke="#5a5a5a" stroke-width="0.6"/>
<text x="314.3" y="495.2" font-size="7.9" text-anchor="middle" fill="#262626">0.1</text>
<text x="237" y="506.8" font-size="8.3" textLength="69.4" lengthAdjust="spacingAndGlyphs" fill="#262626">Redundancy values</text>
<line x1="308.6" y1="448.2" x2="308.6" y2="462" stroke="#1a1a1a" stroke-width="1.3"/>
<path d="M314.7,452.8L314.7,457.4M312.71,453.95L316.69,456.25M316.69,453.95L312.71,456.25" stroke="#1a1a1a" stroke-width="0.75" fill="none"/>
<line x1="321.6" y1="459.4" x2="321.6" y2="473.7" stroke="#1a1a1a" stroke-width="1.3"/>
<path d="M327.9,464.3L327.9,468.9M325.91,465.45L329.89,467.75M329.89,465.45L325.91,467.75" stroke="#1a1a1a" stroke-width="0.75" fill="none"/>
<line x1="335.1" y1="448.2" x2="335.1" y2="473.7" stroke="#1a1a1a" stroke-width="1.3"/>
<path d="M340.8,458.5L340.8,463.1M338.81,459.65L342.79,461.95M342.79,459.65L338.81,461.95" stroke="#1a1a1a" stroke-width="0.75" fill="none"/>
<line x1="364.7" y1="438.8" x2="509" y2="438.8" stroke="#9a9a9a" stroke-width="0.9" stroke-dasharray="3.4 3"/>
<path d="M426.2,450.6h.9v.9h-.9zM463.7,446.7h.9v.9h-.9zM437.8,453.4h.9v.9h-.9zM429.5,451.5h.9v.9h-.9zM421.2,452.8h.9v.9h-.9zM448.0,451.9h.9v.9h-.9zM429.6,452.3h.9v.9h-.9zM429.6,449.2h.9v.9h-.9zM415.8,446.9h.9v.9h-.9zM421.9,454.3h.9v.9h-.9zM413.4,448.3h.9v.9h-.9zM422.3,447.5h.9v.9h-.9zM431.5,450.0h.9v.9h-.9zM426.2,448.8h.9v.9h-.9zM417.4,448.8h.9v.9h-.9zM429.0,450.8h.9v.9h-.9zM411.8,453.8h.9v.9h-.9zM396.0,447.8h.9v.9h-.9zM450.9,449.3h.9v.9h-.9zM417.1,453.3h.9v.9h-.9zM424.7,453.6h.9v.9h-.9zM420.7,446.6h.9v.9h-.9zM420.9,452.0h.9v.9h-.9zM423.2,448.0h.9v.9h-.9zM443.5,451.6h.9v.9h-.9zM429.1,454.1h.9v.9h-.9zM396.0,452.9h.9v.9h-.9zM411.8,447.5h.9v.9h-.9zM425.7,453.4h.9v.9h-.9zM447.0,448.1h.9v.9h-.9zM429.4,451.6h.9v.9h-.9zM428.1,449.1h.9v.9h-.9zM423.5,446.8h.9v.9h-.9zM411.4,450.4h.9v.9h-.9zM406.7,450.1h.9v.9h-.9zM432.5,450.9h.9v.9h-.9zM452.4,451.3h.9v.9h-.9zM411.1,447.1h.9v.9h-.9zM418.7,452.5h.9v.9h-.9zM430.5,449.8h.9v.9h-.9zM426.8,450.8h.9v.9h-.9zM427.6,449.0h.9v.9h-.9zM406.8,452.1h.9v.9h-.9zM438.1,448.9h.9v.9h-.9zM450.3,450.0h.9v.9h-.9zM425.4,453.9h.9v.9h-.9zM416.4,450.2h.9v.9h-.9zM438.0,449.3h.9v.9h-.9zM454.5,452.5h.9v.9h-.9zM416.7,447.5h.9v.9h-.9zM425.0,450.8h.9v.9h-.9zM432.7,449.3h.9v.9h-.9zM419.3,452.3h.9v.9h-.9zM401.0,446.6h.9v.9h-.9zM405.9,454.3h.9v.9h-.9zM429.7,449.2h.9v.9h-.9zM419.0,449.0h.9v.9h-.9zM397.7,452.3h.9v.9h-.9zM427.6,449.6h.9v.9h-.9zM394.8,450.9h.9v.9h-.9zM432.4,454.0h.9v.9h-.9zM404.8,448.4h.9v.9h-.9zM423.8,448.3h.9v.9h-.9zM429.6,451.5h.9v.9h-.9zM433.7,448.1h.9v.9h-.9zM400.7,453.3h.9v.9h-.9zM407.4,452.4h.9v.9h-.9zM408.3,449.1h.9v.9h-.9zM445.1,447.7h.9v.9h-.9zM427.4,450.0h.9v.9h-.9zM444.6,448.1h.9v.9h-.9zM413.0,452.6h.9v.9h-.9zM402.2,453.3h.9v.9h-.9zM455.3,446.6h.9v.9h-.9zM433.3,446.5h.9v.9h-.9zM400.3,452.3h.9v.9h-.9zM419.2,451.9h.9v.9h-.9zM422.2,453.7h.9v.9h-.9zM444.6,454.2h.9v.9h-.9zM420.3,452.7h.9v.9h-.9zM393.5,450.4h.9v.9h-.9zM423.8,447.2h.9v.9h-.9zM433.6,448.9h.9v.9h-.9zM398.5,450.3h.9v.9h-.9zM423.7,447.8h.9v.9h-.9zM400.2,452.3h.9v.9h-.9zM398.0,449.2h.9v.9h-.9zM446.8,449.2h.9v.9h-.9zM433.2,453.5h.9v.9h-.9zM407.7,447.8h.9v.9h-.9zM417.4,446.7h.9v.9h-.9zM415.9,450.9h.9v.9h-.9zM416.4,451.9h.9v.9h-.9zM424.1,450.8h.9v.9h-.9zM450.6,453.4h.9v.9h-.9zM415.4,448.9h.9v.9h-.9zM433.3,449.5h.9v.9h-.9zM423.4,447.5h.9v.9h-.9zM451.8,451.3h.9v.9h-.9zM406.6,451.3h.9v.9h-.9zM420.4,448.0h.9v.9h-.9zM431.0,452.7h.9v.9h-.9zM394.2,452.0h.9v.9h-.9zM427.6,450.8h.9v.9h-.9zM433.3,446.4h.9v.9h-.9zM442.8,450.5h.9v.9h-.9zM451.4,448.3h.9v.9h-.9zM436.2,449.4h.9v.9h-.9zM415.0,450.6h.9v.9h-.9zM432.2,449.0h.9v.9h-.9zM424.1,448.2h.9v.9h-.9zM407.2,453.7h.9v.9h-.9zM434.9,450.6h.9v.9h-.9zM404.6,447.5h.9v.9h-.9zM423.2,450.6h.9v.9h-.9zM440.4,448.3h.9v.9h-.9zM430.7,450.1h.9v.9h-.9zM441.3,453.6h.9v.9h-.9zM393.8,449.5h.9v.9h-.9zM440.7,447.4h.9v.9h-.9zM420.6,447.2h.9v.9h-.9zM430.3,450.6h.9v.9h-.9zM396.5,449.6h.9v.9h-.9zM460.1,450.0h.9v.9h-.9zM439.5,452.5h.9v.9h-.9zM428.2,449.3h.9v.9h-.9zM405.6,449.4h.9v.9h-.9zM422.9,446.5h.9v.9h-.9zM426.2,446.9h.9v.9h-.9zM428.8,448.6h.9v.9h-.9zM420.5,453.1h.9v.9h-.9zM427.4,453.3h.9v.9h-.9zM423.6,452.7h.9v.9h-.9zM413.7,446.8h.9v.9h-.9zM422.7,452.1h.9v.9h-.9zM423.4,451.6h.9v.9h-.9zM412.5,449.5h.9v.9h-.9zM447.2,447.9h.9v.9h-.9zM460.3,449.4h.9v.9h-.9zM411.1,447.0h.9v.9h-.9zM414.2,450.6h.9v.9h-.9zM445.7,452.5h.9v.9h-.9zM426.6,450.1h.9v.9h-.9zM442.0,449.7h.9v.9h-.9zM445.1,449.9h.9v.9h-.9zM422.2,453.0h.9v.9h-.9zM436.0,449.6h.9v.9h-.9zM428.2,450.8h.9v.9h-.9zM437.8,447.3h.9v.9h-.9zM417.6,452.9h.9v.9h-.9z" fill="#f05548" fill-opacity="0.75"/>
<path d="M417.1,463.5h.9v.9h-.9zM395.9,462.9h.9v.9h-.9zM422.3,457.9h.9v.9h-.9zM418.3,462.2h.9v.9h-.9zM464.4,464.5h.9v.9h-.9zM421.1,461.6h.9v.9h-.9zM431.8,459.7h.9v.9h-.9zM420.8,459.5h.9v.9h-.9zM426.8,461.6h.9v.9h-.9zM416.5,459.9h.9v.9h-.9zM442.1,464.4h.9v.9h-.9zM419.0,457.9h.9v.9h-.9zM415.6,461.2h.9v.9h-.9zM428.6,460.4h.9v.9h-.9zM404.9,464.9h.9v.9h-.9zM395.7,460.0h.9v.9h-.9zM417.8,462.0h.9v.9h-.9zM420.2,463.9h.9v.9h-.9zM427.3,463.9h.9v.9h-.9zM420.6,465.0h.9v.9h-.9zM430.0,458.0h.9v.9h-.9zM426.1,457.9h.9v.9h-.9zM396.9,462.3h.9v.9h-.9zM430.7,462.0h.9v.9h-.9zM423.3,462.9h.9v.9h-.9zM410.7,459.2h.9v.9h-.9zM401.5,464.8h.9v.9h-.9zM417.3,458.3h.9v.9h-.9zM451.3,460.8h.9v.9h-.9zM408.4,464.7h.9v.9h-.9zM402.1,458.0h.9v.9h-.9zM395.1,464.2h.9v.9h-.9zM419.5,462.2h.9v.9h-.9zM424.8,458.7h.9v.9h-.9zM412.5,464.2h.9v.9h-.9zM428.7,465.3h.9v.9h-.9zM416.2,460.5h.9v.9h-.9zM406.3,461.9h.9v.9h-.9zM423.3,463.3h.9v.9h-.9zM426.8,458.4h.9v.9h-.9zM400.0,464.9h.9v.9h-.9zM465.9,461.7h.9v.9h-.9zM421.4,463.5h.9v.9h-.9zM450.0,458.2h.9v.9h-.9zM445.9,462.3h.9v.9h-.9zM398.0,458.6h.9v.9h-.9zM430.3,464.3h.9v.9h-.9zM430.8,457.8h.9v.9h-.9zM452.3,460.3h.9v.9h-.9zM433.1,457.9h.9v.9h-.9zM423.0,459.5h.9v.9h-.9zM403.6,463.8h.9v.9h-.9zM416.8,462.0h.9v.9h-.9zM424.7,463.8h.9v.9h-.9zM421.0,457.8h.9v.9h-.9zM398.5,462.7h.9v.9h-.9zM425.1,460.3h.9v.9h-.9zM426.5,458.8h.9v.9h-.9zM431.0,460.2h.9v.9h-.9zM446.5,461.3h.9v.9h-.9zM417.2,464.5h.9v.9h-.9zM423.8,461.8h.9v.9h-.9zM423.3,458.8h.9v.9h-.9zM423.8,460.4h.9v.9h-.9zM422.3,459.1h.9v.9h-.9zM419.6,464.5h.9v.9h-.9zM447.5,457.6h.9v.9h-.9zM422.7,463.8h.9v.9h-.9zM435.1,459.3h.9v.9h-.9zM402.0,459.6h.9v.9h-.9zM422.1,461.6h.9v.9h-.9zM430.2,458.2h.9v.9h-.9zM407.0,462.3h.9v.9h-.9zM436.4,458.0h.9v.9h-.9zM425.5,465.4h.9v.9h-.9zM425.8,463.0h.9v.9h-.9zM413.6,464.0h.9v.9h-.9zM449.4,457.6h.9v.9h-.9zM418.0,460.8h.9v.9h-.9zM419.7,463.4h.9v.9h-.9zM401.8,460.3h.9v.9h-.9zM418.9,459.3h.9v.9h-.9zM431.6,465.5h.9v.9h-.9zM422.1,461.5h.9v.9h-.9zM448.6,463.5h.9v.9h-.9zM404.8,462.5h.9v.9h-.9zM441.1,458.2h.9v.9h-.9zM414.1,458.8h.9v.9h-.9zM462.6,463.5h.9v.9h-.9zM429.2,465.0h.9v.9h-.9zM438.5,464.2h.9v.9h-.9zM429.0,461.0h.9v.9h-.9zM441.0,464.5h.9v.9h-.9zM431.4,461.8h.9v.9h-.9zM399.7,465.2h.9v.9h-.9zM408.1,464.2h.9v.9h-.9zM418.9,461.2h.9v.9h-.9zM423.7,464.8h.9v.9h-.9zM436.4,460.6h.9v.9h-.9zM441.5,463.0h.9v.9h-.9zM443.5,460.7h.9v.9h-.9zM426.3,464.2h.9v.9h-.9zM425.4,464.2h.9v.9h-.9zM392.8,461.4h.9v.9h-.9zM417.5,464.0h.9v.9h-.9zM425.6,461.2h.9v.9h-.9zM419.2,460.3h.9v.9h-.9zM430.8,459.8h.9v.9h-.9zM420.1,463.1h.9v.9h-.9zM426.5,464.0h.9v.9h-.9zM426.8,457.8h.9v.9h-.9zM403.9,459.7h.9v.9h-.9zM458.8,459.3h.9v.9h-.9zM430.2,464.7h.9v.9h-.9zM423.8,465.1h.9v.9h-.9zM453.6,459.0h.9v.9h-.9zM402.5,461.7h.9v.9h-.9zM418.6,465.1h.9v.9h-.9zM442.5,459.5h.9v.9h-.9zM417.3,461.9h.9v.9h-.9zM424.3,460.5h.9v.9h-.9zM447.7,462.8h.9v.9h-.9zM425.9,461.1h.9v.9h-.9zM458.8,462.8h.9v.9h-.9zM415.7,461.7h.9v.9h-.9zM448.6,461.5h.9v.9h-.9zM431.6,458.0h.9v.9h-.9zM434.7,462.0h.9v.9h-.9zM427.9,464.6h.9v.9h-.9zM438.8,457.8h.9v.9h-.9zM417.9,465.1h.9v.9h-.9zM401.4,462.2h.9v.9h-.9zM395.4,460.6h.9v.9h-.9zM432.1,459.7h.9v.9h-.9zM410.5,461.9h.9v.9h-.9zM431.6,462.7h.9v.9h-.9zM434.3,460.5h.9v.9h-.9zM463.1,463.0h.9v.9h-.9zM418.3,462.1h.9v.9h-.9zM441.5,460.3h.9v.9h-.9zM424.1,464.5h.9v.9h-.9zM427.7,458.9h.9v.9h-.9zM416.6,459.9h.9v.9h-.9zM431.5,465.2h.9v.9h-.9zM420.7,465.0h.9v.9h-.9zM420.9,461.0h.9v.9h-.9zM419.9,460.7h.9v.9h-.9zM431.4,459.6h.9v.9h-.9zM430.5,461.1h.9v.9h-.9zM431.9,463.7h.9v.9h-.9z" fill="#f8b070" fill-opacity="0.75"/>
<path d="M428.8,474.9h.9v.9h-.9zM438.9,474.2h.9v.9h-.9zM421.4,471.7h.9v.9h-.9zM437.1,471.1h.9v.9h-.9zM420.4,475.0h.9v.9h-.9zM440.3,473.3h.9v.9h-.9zM442.3,470.9h.9v.9h-.9zM427.4,473.2h.9v.9h-.9zM446.2,472.1h.9v.9h-.9zM411.3,471.3h.9v.9h-.9zM464.1,473.9h.9v.9h-.9zM452.2,472.0h.9v.9h-.9zM450.2,471.5h.9v.9h-.9zM440.0,471.6h.9v.9h-.9zM441.1,473.1h.9v.9h-.9zM445.7,476.0h.9v.9h-.9zM432.0,469.3h.9v.9h-.9zM434.8,475.6h.9v.9h-.9zM440.1,472.0h.9v.9h-.9zM421.3,475.6h.9v.9h-.9zM456.1,470.0h.9v.9h-.9zM450.9,472.8h.9v.9h-.9zM459.9,474.7h.9v.9h-.9zM444.4,475.8h.9v.9h-.9zM438.2,474.4h.9v.9h-.9zM421.4,469.3h.9v.9h-.9zM455.3,471.0h.9v.9h-.9zM430.0,469.6h.9v.9h-.9zM464.5,475.2h.9v.9h-.9zM438.2,469.4h.9v.9h-.9zM424.5,468.8h.9v.9h-.9zM413.0,471.0h.9v.9h-.9zM433.8,473.2h.9v.9h-.9zM406.8,475.4h.9v.9h-.9zM430.0,473.8h.9v.9h-.9zM431.9,473.3h.9v.9h-.9zM439.8,470.5h.9v.9h-.9zM454.3,473.1h.9v.9h-.9zM439.5,469.0h.9v.9h-.9zM430.6,469.3h.9v.9h-.9zM449.1,473.5h.9v.9h-.9zM435.0,473.5h.9v.9h-.9zM441.0,476.8h.9v.9h-.9zM463.7,471.4h.9v.9h-.9zM467.0,472.6h.9v.9h-.9zM434.0,474.3h.9v.9h-.9zM432.5,471.5h.9v.9h-.9zM433.1,471.1h.9v.9h-.9zM438.8,472.9h.9v.9h-.9zM429.6,474.4h.9v.9h-.9zM430.7,473.3h.9v.9h-.9zM464.4,474.8h.9v.9h-.9zM461.2,474.6h.9v.9h-.9zM408.3,470.4h.9v.9h-.9zM441.0,474.6h.9v.9h-.9zM420.7,471.6h.9v.9h-.9zM437.0,476.7h.9v.9h-.9zM427.0,470.2h.9v.9h-.9zM441.6,475.2h.9v.9h-.9zM410.7,469.7h.9v.9h-.9zM439.5,472.6h.9v.9h-.9zM477.4,475.2h.9v.9h-.9zM455.1,469.8h.9v.9h-.9zM435.8,472.9h.9v.9h-.9zM430.5,469.0h.9v.9h-.9zM448.2,476.4h.9v.9h-.9zM471.5,474.7h.9v.9h-.9zM440.1,475.5h.9v.9h-.9zM426.4,470.5h.9v.9h-.9zM427.8,468.9h.9v.9h-.9zM452.9,472.5h.9v.9h-.9zM441.4,473.1h.9v.9h-.9zM431.7,473.8h.9v.9h-.9zM434.3,473.9h.9v.9h-.9zM430.4,476.0h.9v.9h-.9zM428.0,473.5h.9v.9h-.9zM429.6,472.5h.9v.9h-.9zM443.7,474.5h.9v.9h-.9zM427.4,474.6h.9v.9h-.9zM434.2,472.0h.9v.9h-.9zM448.4,470.7h.9v.9h-.9zM447.1,472.6h.9v.9h-.9zM441.7,473.6h.9v.9h-.9zM430.3,476.7h.9v.9h-.9zM432.9,475.1h.9v.9h-.9zM443.5,474.7h.9v.9h-.9zM427.8,476.6h.9v.9h-.9zM406.7,469.2h.9v.9h-.9zM442.1,470.6h.9v.9h-.9zM461.8,473.9h.9v.9h-.9zM420.6,470.0h.9v.9h-.9zM439.1,469.6h.9v.9h-.9zM474.9,470.3h.9v.9h-.9zM414.4,472.9h.9v.9h-.9zM439.7,475.9h.9v.9h-.9zM404.5,475.6h.9v.9h-.9zM455.1,472.8h.9v.9h-.9zM441.1,475.2h.9v.9h-.9zM427.1,473.2h.9v.9h-.9zM433.0,468.9h.9v.9h-.9zM405.9,475.4h.9v.9h-.9zM432.7,469.8h.9v.9h-.9zM417.2,472.2h.9v.9h-.9zM442.9,473.2h.9v.9h-.9zM427.8,474.6h.9v.9h-.9zM456.7,469.6h.9v.9h-.9zM431.4,474.9h.9v.9h-.9zM436.6,476.6h.9v.9h-.9zM404.8,469.4h.9v.9h-.9zM438.0,473.6h.9v.9h-.9zM432.5,472.1h.9v.9h-.9zM444.4,476.1h.9v.9h-.9zM453.5,476.1h.9v.9h-.9zM448.6,469.0h.9v.9h-.9zM456.8,472.2h.9v.9h-.9zM415.5,476.3h.9v.9h-.9zM438.3,470.8h.9v.9h-.9zM432.2,471.4h.9v.9h-.9zM433.8,476.6h.9v.9h-.9zM461.9,474.9h.9v.9h-.9zM465.7,474.8h.9v.9h-.9zM430.5,472.1h.9v.9h-.9zM430.1,475.9h.9v.9h-.9zM424.7,475.0h.9v.9h-.9zM459.3,475.2h.9v.9h-.9zM410.9,475.4h.9v.9h-.9zM436.9,471.7h.9v.9h-.9zM464.0,470.1h.9v.9h-.9zM444.5,473.1h.9v.9h-.9zM429.5,476.1h.9v.9h-.9zM464.1,469.5h.9v.9h-.9zM431.1,476.1h.9v.9h-.9zM430.6,474.5h.9v.9h-.9zM468.3,472.3h.9v.9h-.9zM447.0,474.8h.9v.9h-.9zM419.7,470.9h.9v.9h-.9zM438.0,470.5h.9v.9h-.9zM442.7,473.9h.9v.9h-.9zM444.9,473.6h.9v.9h-.9zM423.2,469.3h.9v.9h-.9zM426.4,471.7h.9v.9h-.9zM428.1,472.7h.9v.9h-.9zM474.6,471.0h.9v.9h-.9zM415.4,469.6h.9v.9h-.9zM433.2,474.3h.9v.9h-.9zM438.7,469.6h.9v.9h-.9zM425.5,475.5h.9v.9h-.9zM440.4,470.6h.9v.9h-.9zM453.9,474.2h.9v.9h-.9zM426.4,470.3h.9v.9h-.9z" fill="#a85cb8" fill-opacity="0.75"/>
<path d="M395,438.8 C396.67,438 401.67,436.47 405,434 C408.33,431.53 412.17,427.17 415,424 C417.83,420.83 419.83,417.33 422,415 C424.17,412.67 426.53,411.08 428,410 C429.47,408.92 429.23,408.93 430.8,408.5 C432.37,408.07 435.4,406.78 437.4,407.4 C439.4,408.02 440.8,409.75 442.8,412.2 C444.8,414.65 447.2,419 449.4,422.1 C451.6,425.2 454,428.62 456,430.8 C458,432.98 459.22,434.28 461.4,435.2 C463.58,436.12 466.53,436 469.1,436.3 C471.67,436.6 474.43,436.63 476.8,437 C479.17,437.37 480.93,438.2 483.3,438.5 C485.67,438.8 489.72,438.75 491,438.8 L491,438.8 L395,438.8Z" fill="#c18cc7" fill-opacity="0.72"/>
<path d="M395,438.8 C396.67,438 401.67,436.47 405,434 C408.33,431.53 412.17,427.17 415,424 C417.83,420.83 419.83,417.33 422,415 C424.17,412.67 426.53,411.08 428,410 C429.47,408.92 429.23,408.93 430.8,408.5 C432.37,408.07 435.4,406.78 437.4,407.4 C439.4,408.02 440.8,409.75 442.8,412.2 C444.8,414.65 447.2,419 449.4,422.1 C451.6,425.2 454,428.62 456,430.8 C458,432.98 459.22,434.28 461.4,435.2 C463.58,436.12 466.53,436 469.1,436.3 C471.67,436.6 474.43,436.63 476.8,437 C479.17,437.37 480.93,438.2 483.3,438.5 C485.67,438.8 489.72,438.75 491,438.8" fill="none" stroke="#2a2a2a" stroke-width="0.55" stroke-opacity="0.85"/>
<path d="M385,438.8 C386.67,438 391.67,435.8 395,434 C398.33,432.2 402.33,430.5 405,428 C407.67,425.5 409.07,421.82 411,419 C412.93,416.18 415.1,413.18 416.6,411.1 C418.1,409.02 418.98,407.48 420,406.5 C421.02,405.52 421.78,405.25 422.7,405.2 C423.62,405.15 424.52,405.5 425.5,406.2 C426.48,406.9 427.18,407.77 428.6,409.4 C430.02,411.03 432.1,413.57 434,416 C435.9,418.43 437.83,421.5 440,424 C442.17,426.5 444.5,428.92 447,431 C449.5,433.08 452,435.2 455,436.5 C458,437.8 463.33,438.42 465,438.8 L465,438.8 L385,438.8Z" fill="#fed5ab" fill-opacity="0.72"/>
<path d="M385,438.8 C386.67,438 391.67,435.8 395,434 C398.33,432.2 402.33,430.5 405,428 C407.67,425.5 409.07,421.82 411,419 C412.93,416.18 415.1,413.18 416.6,411.1 C418.1,409.02 418.98,407.48 420,406.5 C421.02,405.52 421.78,405.25 422.7,405.2 C423.62,405.15 424.52,405.5 425.5,406.2 C426.48,406.9 427.18,407.77 428.6,409.4 C430.02,411.03 432.1,413.57 434,416 C435.9,418.43 437.83,421.5 440,424 C442.17,426.5 444.5,428.92 447,431 C449.5,433.08 452,435.2 455,436.5 C458,437.8 463.33,438.42 465,438.8" fill="none" stroke="#2a2a2a" stroke-width="0.55" stroke-opacity="0.85"/>
<path d="M383.7,438.8 C385.17,438.02 389.95,435.25 392.5,434.1 C395.05,432.95 397,432.63 399,431.9 C401,431.17 402.67,431.33 404.5,429.7 C406.33,428.07 408.17,424.83 410,422.1 C411.83,419.37 413.68,415.2 415.5,413.3 C417.32,411.4 419.08,411.25 420.9,410.7 C422.72,410.15 424.57,409.38 426.4,410 C428.23,410.62 429.9,412.38 431.9,414.4 C433.9,416.42 436.22,419.55 438.4,422.1 C440.58,424.65 442.8,427.52 445,429.7 C447.2,431.88 449.4,433.83 451.6,435.2 C453.8,436.57 456.02,437.3 458.2,437.9 C460.38,438.5 463.62,438.65 464.7,438.8 L464.7,438.8 L383.7,438.8Z" fill="#fa8072" fill-opacity="0.72"/>
<path d="M383.7,438.8 C385.17,438.02 389.95,435.25 392.5,434.1 C395.05,432.95 397,432.63 399,431.9 C401,431.17 402.67,431.33 404.5,429.7 C406.33,428.07 408.17,424.83 410,422.1 C411.83,419.37 413.68,415.2 415.5,413.3 C417.32,411.4 419.08,411.25 420.9,410.7 C422.72,410.15 424.57,409.38 426.4,410 C428.23,410.62 429.9,412.38 431.9,414.4 C433.9,416.42 436.22,419.55 438.4,422.1 C440.58,424.65 442.8,427.52 445,429.7 C447.2,431.88 449.4,433.83 451.6,435.2 C453.8,436.57 456.02,437.3 458.2,437.9 C460.38,438.5 463.62,438.65 464.7,438.8" fill="none" stroke="#2a2a2a" stroke-width="0.55" stroke-opacity="0.85"/>
<line x1="391.2" y1="450.4" x2="451.7" y2="450.4" stroke="#6a6a6a" stroke-width="0.6"/>
<rect x="416.2" y="446.8" width="17.6" height="7.2" fill="#fff" fill-opacity="0.3" stroke="#4a4a4a" stroke-width="0.6"/>
<line x1="425.4" y1="446.8" x2="425.4" y2="454" stroke="#444" stroke-width="0.6"/>
<line x1="364.2" y1="450.4" x2="365.7" y2="450.4" stroke="#5a5a5a" stroke-width="0.6"/>
<line x1="392.5" y1="461.5" x2="454.3" y2="461.5" stroke="#6a6a6a" stroke-width="0.6"/>
<rect x="415.7" y="457.9" width="16.3" height="7.2" fill="#fff" fill-opacity="0.3" stroke="#4a4a4a" stroke-width="0.6"/>
<line x1="424.1" y1="457.9" x2="424.1" y2="465.1" stroke="#444" stroke-width="0.6"/>
<line x1="364.2" y1="461.5" x2="365.7" y2="461.5" stroke="#5a5a5a" stroke-width="0.6"/>
<line x1="404.4" y1="472.8" x2="466.1" y2="472.8" stroke="#6a6a6a" stroke-width="0.6"/>
<rect x="426.2" y="469.2" width="17.1" height="7.2" fill="#fff" fill-opacity="0.3" stroke="#4a4a4a" stroke-width="0.6"/>
<line x1="436.7" y1="469.2" x2="436.7" y2="476.4" stroke="#444" stroke-width="0.6"/>
<line x1="364.2" y1="472.8" x2="365.7" y2="472.8" stroke="#5a5a5a" stroke-width="0.6"/>
<path d="M364.2,398.5 L364.2,483.3 L511.3,483.3" fill="none" stroke="#5a5a5a" stroke-width="0.8"/>
<line x1="364.2" y1="405.2" x2="365.7" y2="405.2" stroke="#5a5a5a" stroke-width="0.6"/>
<text x="360.6" y="408.05" font-size="7.9" text-anchor="end" fill="#262626">6</text>
<text x="360.9" y="441.65" font-size="7.9" text-anchor="end" fill="#262626">0</text>
<line x1="386.8" y1="483.3" x2="386.8" y2="481.8" stroke="#5a5a5a" stroke-width="0.6"/>
<text x="386.8" y="495.2" font-size="7.9" text-anchor="middle" fill="#262626">0.6</text>
<line x1="425.4" y1="483.3" x2="425.4" y2="481.8" stroke="#5a5a5a" stroke-width="0.6"/>
<text x="425.4" y="495.2" font-size="7.9" text-anchor="middle" fill="#262626">0.8</text>
<line x1="464.8" y1="483.3" x2="464.8" y2="481.8" stroke="#5a5a5a" stroke-width="0.6"/>
<text x="464.8" y="495.2" font-size="7.9" text-anchor="middle" fill="#262626">1</text>
<line x1="503.4" y1="483.3" x2="503.4" y2="481.8" stroke="#5a5a5a" stroke-width="0.6"/>
<text x="503.4" y="495.2" font-size="7.9" text-anchor="middle" fill="#262626">1.2</text>
<text x="412.6" y="506.6" font-size="8.3" textLength="53.7" lengthAdjust="spacingAndGlyphs" fill="#262626">Synergy values</text>
<line x1="492.4" y1="460.4" x2="492.4" y2="474.1" stroke="#1a1a1a" stroke-width="1.3"/>
<path d="M498.4,465.2L498.4,469.8M496.41,466.35L500.39,468.65M500.39,466.35L496.41,468.65" stroke="#1a1a1a" stroke-width="0.75" fill="none"/>
<line x1="506" y1="449.1" x2="506" y2="474.6" stroke="#1a1a1a" stroke-width="1.3"/>
<path d="M512.1,459.2L512.1,463.8M510.11,460.35L514.09,462.65M514.09,460.35L510.11,462.65" stroke="#1a1a1a" stroke-width="0.75" fill="none"/>
<line x1="530.5" y1="438.8" x2="675.5" y2="438.8" stroke="#9a9a9a" stroke-width="0.9" stroke-dasharray="3.4 3"/>
<path d="M558.5,451.2h.9v.9h-.9zM578.4,447.3h.9v.9h-.9zM561.5,453.8h.9v.9h-.9zM569.1,450.5h.9v.9h-.9zM561.1,446.0h.9v.9h-.9zM557.4,453.6h.9v.9h-.9zM570.0,447.0h.9v.9h-.9zM562.2,448.8h.9v.9h-.9zM556.7,447.9h.9v.9h-.9zM563.5,448.9h.9v.9h-.9zM561.1,447.5h.9v.9h-.9zM565.4,448.8h.9v.9h-.9zM570.9,452.9h.9v.9h-.9zM569.2,452.6h.9v.9h-.9zM560.6,449.4h.9v.9h-.9zM566.5,451.6h.9v.9h-.9zM561.8,449.7h.9v.9h-.9zM563.3,449.4h.9v.9h-.9zM561.1,448.8h.9v.9h-.9zM589.2,450.3h.9v.9h-.9zM563.2,451.9h.9v.9h-.9zM586.6,453.6h.9v.9h-.9zM556.6,453.4h.9v.9h-.9zM561.7,447.3h.9v.9h-.9zM560.7,446.6h.9v.9h-.9zM572.8,449.6h.9v.9h-.9zM555.2,449.5h.9v.9h-.9zM563.0,451.2h.9v.9h-.9zM561.8,453.8h.9v.9h-.9zM559.4,446.0h.9v.9h-.9zM572.6,446.1h.9v.9h-.9zM581.5,450.2h.9v.9h-.9zM567.0,450.7h.9v.9h-.9zM558.0,452.3h.9v.9h-.9zM581.5,452.8h.9v.9h-.9zM572.5,447.4h.9v.9h-.9zM568.3,453.1h.9v.9h-.9zM563.2,446.2h.9v.9h-.9zM562.1,447.4h.9v.9h-.9zM575.3,453.4h.9v.9h-.9zM569.4,446.0h.9v.9h-.9zM561.5,449.7h.9v.9h-.9zM589.7,449.8h.9v.9h-.9zM596.6,447.6h.9v.9h-.9zM560.3,453.9h.9v.9h-.9zM561.2,453.6h.9v.9h-.9zM565.7,448.6h.9v.9h-.9zM553.2,448.9h.9v.9h-.9zM571.5,445.9h.9v.9h-.9zM562.5,449.5h.9v.9h-.9zM580.3,447.0h.9v.9h-.9zM561.8,453.6h.9v.9h-.9zM562.1,450.1h.9v.9h-.9zM587.2,446.4h.9v.9h-.9zM562.5,450.6h.9v.9h-.9zM568.4,453.0h.9v.9h-.9zM586.2,453.6h.9v.9h-.9zM573.0,449.2h.9v.9h-.9zM572.6,446.7h.9v.9h-.9zM564.1,448.2h.9v.9h-.9zM598.6,449.3h.9v.9h-.9zM585.7,452.4h.9v.9h-.9zM572.5,446.8h.9v.9h-.9zM569.2,450.6h.9v.9h-.9zM587.7,453.6h.9v.9h-.9zM561.2,453.1h.9v.9h-.9zM559.5,451.4h.9v.9h-.9zM563.4,448.8h.9v.9h-.9zM579.0,446.5h.9v.9h-.9zM576.9,449.7h.9v.9h-.9zM583.8,446.0h.9v.9h-.9zM579.0,451.6h.9v.9h-.9zM559.4,453.6h.9v.9h-.9zM561.5,449.3h.9v.9h-.9zM593.3,449.2h.9v.9h-.9zM598.8,447.8h.9v.9h-.9zM566.5,451.2h.9v.9h-.9zM557.3,447.7h.9v.9h-.9zM563.8,446.2h.9v.9h-.9zM565.7,449.3h.9v.9h-.9zM568.1,453.4h.9v.9h-.9zM566.3,451.5h.9v.9h-.9zM562.6,449.8h.9v.9h-.9zM569.4,447.2h.9v.9h-.9zM573.3,452.0h.9v.9h-.9zM577.6,451.0h.9v.9h-.9zM590.4,447.5h.9v.9h-.9zM564.2,447.9h.9v.9h-.9zM576.0,452.7h.9v.9h-.9zM575.5,447.5h.9v.9h-.9zM567.5,451.7h.9v.9h-.9zM561.2,445.9h.9v.9h-.9zM569.7,445.9h.9v.9h-.9zM563.8,451.6h.9v.9h-.9zM591.9,446.8h.9v.9h-.9zM590.5,447.1h.9v.9h-.9zM567.3,448.5h.9v.9h-.9zM566.7,448.0h.9v.9h-.9zM561.3,447.2h.9v.9h-.9zM568.7,451.5h.9v.9h-.9zM571.0,451.7h.9v.9h-.9zM566.9,447.4h.9v.9h-.9zM574.4,446.3h.9v.9h-.9zM569.6,449.0h.9v.9h-.9zM561.3,452.3h.9v.9h-.9zM556.0,450.6h.9v.9h-.9zM569.8,452.3h.9v.9h-.9zM561.4,446.6h.9v.9h-.9zM574.6,447.0h.9v.9h-.9zM568.1,446.8h.9v.9h-.9zM561.8,448.0h.9v.9h-.9zM567.5,451.7h.9v.9h-.9zM570.1,447.7h.9v.9h-.9zM568.9,451.4h.9v.9h-.9zM587.8,447.5h.9v.9h-.9zM569.2,448.0h.9v.9h-.9zM563.3,452.1h.9v.9h-.9zM580.5,453.6h.9v.9h-.9zM564.5,448.4h.9v.9h-.9zM554.5,450.8h.9v.9h-.9zM560.9,450.0h.9v.9h-.9zM572.9,452.9h.9v.9h-.9zM560.1,446.9h.9v.9h-.9zM572.8,448.8h.9v.9h-.9zM573.2,452.1h.9v.9h-.9zM561.2,449.0h.9v.9h-.9zM562.3,451.2h.9v.9h-.9zM564.5,449.7h.9v.9h-.9zM582.7,448.9h.9v.9h-.9zM572.8,453.4h.9v.9h-.9zM556.4,449.5h.9v.9h-.9zM563.3,446.2h.9v.9h-.9zM598.9,446.9h.9v.9h-.9zM576.7,448.3h.9v.9h-.9zM570.4,452.1h.9v.9h-.9zM561.4,449.1h.9v.9h-.9zM573.3,446.3h.9v.9h-.9zM570.6,447.0h.9v.9h-.9zM561.2,447.2h.9v.9h-.9zM585.1,447.3h.9v.9h-.9zM570.6,449.3h.9v.9h-.9zM561.9,447.8h.9v.9h-.9zM592.6,448.0h.9v.9h-.9zM587.4,453.1h.9v.9h-.9zM590.0,450.7h.9v.9h-.9zM566.5,451.6h.9v.9h-.9zM557.4,447.4h.9v.9h-.9zM592.5,452.4h.9v.9h-.9zM563.6,447.9h.9v.9h-.9zM591.3,447.1h.9v.9h-.9z" fill="#f05548" fill-opacity="0.75"/>
<path d="M561.5,458.9h.9v.9h-.9zM562.3,459.0h.9v.9h-.9zM570.8,464.4h.9v.9h-.9zM549.5,463.6h.9v.9h-.9zM583.9,465.1h.9v.9h-.9zM571.1,464.1h.9v.9h-.9zM565.6,460.5h.9v.9h-.9zM565.8,458.4h.9v.9h-.9zM571.8,460.8h.9v.9h-.9zM583.4,463.5h.9v.9h-.9zM571.9,463.9h.9v.9h-.9zM593.4,463.5h.9v.9h-.9zM558.9,462.7h.9v.9h-.9zM571.0,458.6h.9v.9h-.9zM562.1,464.1h.9v.9h-.9zM571.0,464.3h.9v.9h-.9zM554.5,465.0h.9v.9h-.9zM575.3,462.7h.9v.9h-.9zM571.3,461.9h.9v.9h-.9zM562.2,463.8h.9v.9h-.9zM582.8,459.2h.9v.9h-.9zM564.3,458.3h.9v.9h-.9zM561.8,463.9h.9v.9h-.9zM562.3,458.0h.9v.9h-.9zM556.8,461.2h.9v.9h-.9zM570.6,465.1h.9v.9h-.9zM568.6,464.7h.9v.9h-.9zM583.9,463.4h.9v.9h-.9zM571.4,462.1h.9v.9h-.9zM568.1,464.1h.9v.9h-.9zM567.8,460.8h.9v.9h-.9zM574.9,459.2h.9v.9h-.9zM565.6,465.2h.9v.9h-.9zM553.9,464.8h.9v.9h-.9zM568.2,461.0h.9v.9h-.9zM565.7,458.2h.9v.9h-.9zM580.8,463.8h.9v.9h-.9zM564.0,463.5h.9v.9h-.9zM557.6,464.6h.9v.9h-.9zM591.2,460.5h.9v.9h-.9zM585.1,459.1h.9v.9h-.9zM565.2,463.4h.9v.9h-.9zM567.7,461.5h.9v.9h-.9zM554.6,465.2h.9v.9h-.9zM592.1,463.9h.9v.9h-.9zM571.8,461.9h.9v.9h-.9zM582.7,460.4h.9v.9h-.9zM557.1,457.7h.9v.9h-.9zM583.9,464.7h.9v.9h-.9zM591.8,465.0h.9v.9h-.9zM554.7,462.5h.9v.9h-.9zM565.5,462.3h.9v.9h-.9zM564.6,460.9h.9v.9h-.9zM567.2,458.2h.9v.9h-.9zM565.3,463.2h.9v.9h-.9zM558.3,459.5h.9v.9h-.9zM555.9,462.3h.9v.9h-.9zM556.9,462.2h.9v.9h-.9zM578.1,463.2h.9v.9h-.9zM559.6,464.2h.9v.9h-.9zM551.1,465.1h.9v.9h-.9zM562.5,458.1h.9v.9h-.9zM575.3,458.6h.9v.9h-.9zM573.8,465.5h.9v.9h-.9zM570.2,459.5h.9v.9h-.9zM563.3,460.8h.9v.9h-.9zM560.8,458.8h.9v.9h-.9zM562.5,459.0h.9v.9h-.9zM567.2,459.0h.9v.9h-.9zM566.1,465.3h.9v.9h-.9zM585.7,461.3h.9v.9h-.9zM568.2,458.7h.9v.9h-.9zM562.3,463.1h.9v.9h-.9zM590.9,460.3h.9v.9h-.9zM565.5,463.0h.9v.9h-.9zM563.2,464.4h.9v.9h-.9zM549.3,464.3h.9v.9h-.9zM562.8,462.5h.9v.9h-.9zM564.6,461.0h.9v.9h-.9zM567.8,462.8h.9v.9h-.9zM585.8,458.7h.9v.9h-.9zM571.1,463.8h.9v.9h-.9zM575.3,460.2h.9v.9h-.9zM570.4,460.7h.9v.9h-.9zM562.8,464.7h.9v.9h-.9zM550.1,460.1h.9v.9h-.9zM568.3,460.4h.9v.9h-.9zM562.6,461.8h.9v.9h-.9zM573.8,461.3h.9v.9h-.9zM565.9,462.4h.9v.9h-.9zM559.2,460.5h.9v.9h-.9zM565.6,464.8h.9v.9h-.9zM559.8,460.2h.9v.9h-.9zM555.3,463.0h.9v.9h-.9zM563.7,458.0h.9v.9h-.9zM554.8,459.3h.9v.9h-.9zM564.5,463.4h.9v.9h-.9zM584.3,465.1h.9v.9h-.9zM584.8,458.2h.9v.9h-.9zM565.9,459.0h.9v.9h-.9zM582.3,460.6h.9v.9h-.9zM571.4,463.5h.9v.9h-.9zM586.9,457.8h.9v.9h-.9zM562.9,457.7h.9v.9h-.9zM573.5,458.4h.9v.9h-.9zM563.5,462.4h.9v.9h-.9zM586.6,460.4h.9v.9h-.9zM591.2,460.6h.9v.9h-.9zM564.1,465.3h.9v.9h-.9zM593.3,458.9h.9v.9h-.9zM563.2,460.3h.9v.9h-.9zM551.4,461.7h.9v.9h-.9zM550.4,461.0h.9v.9h-.9zM571.4,461.1h.9v.9h-.9zM572.4,460.2h.9v.9h-.9zM572.2,464.4h.9v.9h-.9zM570.8,458.6h.9v.9h-.9zM565.8,463.0h.9v.9h-.9zM570.6,463.8h.9v.9h-.9zM549.3,463.9h.9v.9h-.9zM569.1,462.1h.9v.9h-.9zM564.9,465.2h.9v.9h-.9zM595.0,462.4h.9v.9h-.9zM565.8,459.7h.9v.9h-.9zM579.8,463.8h.9v.9h-.9zM587.4,463.0h.9v.9h-.9zM570.1,459.6h.9v.9h-.9zM555.2,464.4h.9v.9h-.9zM559.7,464.9h.9v.9h-.9zM572.0,463.6h.9v.9h-.9zM570.1,462.1h.9v.9h-.9zM571.8,460.9h.9v.9h-.9zM552.5,463.7h.9v.9h-.9zM564.6,458.4h.9v.9h-.9zM566.2,463.3h.9v.9h-.9zM569.8,462.7h.9v.9h-.9zM567.1,463.3h.9v.9h-.9zM568.9,459.7h.9v.9h-.9zM571.9,465.0h.9v.9h-.9zM591.1,462.1h.9v.9h-.9zM578.5,461.1h.9v.9h-.9zM564.6,465.1h.9v.9h-.9zM553.7,463.5h.9v.9h-.9zM569.2,457.9h.9v.9h-.9zM592.0,463.4h.9v.9h-.9zM568.7,460.5h.9v.9h-.9zM570.7,457.8h.9v.9h-.9zM552.5,464.3h.9v.9h-.9zM550.4,461.2h.9v.9h-.9zM576.9,463.3h.9v.9h-.9z" fill="#f8b070" fill-opacity="0.75"/>
<path d="M572.9,470.3h.9v.9h-.9zM571.3,469.8h.9v.9h-.9zM567.0,471.5h.9v.9h-.9zM572.8,472.6h.9v.9h-.9zM562.9,476.1h.9v.9h-.9zM572.5,473.7h.9v.9h-.9zM598.2,473.8h.9v.9h-.9zM586.5,472.3h.9v.9h-.9zM572.6,475.2h.9v.9h-.9zM582.2,470.7h.9v.9h-.9zM585.3,476.5h.9v.9h-.9zM559.4,474.3h.9v.9h-.9zM568.9,470.1h.9v.9h-.9zM566.6,472.7h.9v.9h-.9zM565.2,473.2h.9v.9h-.9zM576.1,470.1h.9v.9h-.9zM567.5,476.5h.9v.9h-.9zM593.3,473.5h.9v.9h-.9zM595.2,473.2h.9v.9h-.9zM560.6,470.4h.9v.9h-.9zM564.1,473.8h.9v.9h-.9zM590.2,474.3h.9v.9h-.9zM573.1,473.9h.9v.9h-.9zM586.8,474.2h.9v.9h-.9zM568.4,471.2h.9v.9h-.9zM594.1,476.6h.9v.9h-.9zM560.3,473.2h.9v.9h-.9zM567.1,469.7h.9v.9h-.9zM579.3,474.3h.9v.9h-.9zM591.9,474.2h.9v.9h-.9zM553.2,469.2h.9v.9h-.9zM573.4,471.3h.9v.9h-.9zM553.4,472.1h.9v.9h-.9zM576.1,475.4h.9v.9h-.9zM563.0,470.2h.9v.9h-.9zM557.1,476.3h.9v.9h-.9zM572.2,472.9h.9v.9h-.9zM573.3,472.0h.9v.9h-.9zM555.7,475.4h.9v.9h-.9zM593.1,474.8h.9v.9h-.9zM562.2,471.7h.9v.9h-.9zM590.4,476.8h.9v.9h-.9zM597.1,474.0h.9v.9h-.9zM570.1,473.2h.9v.9h-.9zM572.4,470.8h.9v.9h-.9zM562.4,470.0h.9v.9h-.9zM584.4,470.1h.9v.9h-.9zM575.6,473.3h.9v.9h-.9zM567.6,468.9h.9v.9h-.9zM565.9,470.7h.9v.9h-.9zM562.6,475.4h.9v.9h-.9zM561.5,472.6h.9v.9h-.9zM564.8,474.9h.9v.9h-.9zM569.3,475.5h.9v.9h-.9zM572.8,476.2h.9v.9h-.9zM560.2,469.4h.9v.9h-.9zM564.7,469.5h.9v.9h-.9zM569.7,471.3h.9v.9h-.9zM589.7,470.8h.9v.9h-.9zM564.4,471.4h.9v.9h-.9zM580.7,472.2h.9v.9h-.9zM560.8,469.8h.9v.9h-.9zM578.4,470.1h.9v.9h-.9zM555.4,472.9h.9v.9h-.9zM561.6,474.7h.9v.9h-.9zM573.1,470.1h.9v.9h-.9zM570.0,474.1h.9v.9h-.9zM572.5,468.8h.9v.9h-.9zM565.6,470.4h.9v.9h-.9zM569.5,476.8h.9v.9h-.9zM563.8,474.2h.9v.9h-.9zM565.7,474.3h.9v.9h-.9zM562.3,469.4h.9v.9h-.9zM591.8,476.2h.9v.9h-.9zM567.0,472.7h.9v.9h-.9zM569.3,472.8h.9v.9h-.9zM564.5,476.3h.9v.9h-.9zM571.6,469.9h.9v.9h-.9zM558.1,474.3h.9v.9h-.9zM575.7,476.6h.9v.9h-.9zM569.9,475.2h.9v.9h-.9zM564.6,469.2h.9v.9h-.9zM581.4,471.6h.9v.9h-.9zM567.4,474.5h.9v.9h-.9zM573.5,472.3h.9v.9h-.9zM561.4,474.6h.9v.9h-.9zM578.0,470.0h.9v.9h-.9zM581.1,469.7h.9v.9h-.9zM569.3,468.8h.9v.9h-.9zM565.0,475.8h.9v.9h-.9zM594.7,476.1h.9v.9h-.9zM586.9,473.5h.9v.9h-.9zM597.2,476.4h.9v.9h-.9zM560.8,472.9h.9v.9h-.9zM566.3,471.8h.9v.9h-.9zM576.1,470.6h.9v.9h-.9zM567.0,472.8h.9v.9h-.9zM569.2,470.3h.9v.9h-.9zM563.9,475.0h.9v.9h-.9zM583.6,472.9h.9v.9h-.9zM572.8,472.9h.9v.9h-.9zM564.1,472.0h.9v.9h-.9zM585.1,472.7h.9v.9h-.9zM561.4,472.4h.9v.9h-.9zM564.4,471.7h.9v.9h-.9zM581.8,470.5h.9v.9h-.9zM570.9,474.0h.9v.9h-.9zM577.9,474.3h.9v.9h-.9zM561.0,471.7h.9v.9h-.9zM573.3,473.0h.9v.9h-.9zM590.9,475.2h.9v.9h-.9zM564.8,469.7h.9v.9h-.9zM581.9,472.7h.9v.9h-.9zM563.9,472.7h.9v.9h-.9zM588.1,475.6h.9v.9h-.9zM570.3,472.2h.9v.9h-.9zM573.4,470.3h.9v.9h-.9zM564.0,476.2h.9v.9h-.9zM566.1,475.6h.9v.9h-.9zM569.8,470.3h.9v.9h-.9zM567.7,469.8h.9v.9h-.9zM570.3,472.0h.9v.9h-.9zM563.1,469.0h.9v.9h-.9zM565.4,468.9h.9v.9h-.9zM570.6,471.5h.9v.9h-.9zM577.5,470.3h.9v.9h-.9zM569.4,473.7h.9v.9h-.9zM562.9,475.6h.9v.9h-.9zM562.2,473.5h.9v.9h-.9zM565.7,469.1h.9v.9h-.9zM569.0,473.6h.9v.9h-.9zM557.9,470.5h.9v.9h-.9zM565.9,471.7h.9v.9h-.9zM557.6,476.7h.9v.9h-.9zM571.8,470.7h.9v.9h-.9zM567.8,469.1h.9v.9h-.9zM584.8,471.0h.9v.9h-.9zM571.8,476.7h.9v.9h-.9zM565.4,470.6h.9v.9h-.9zM583.5,475.5h.9v.9h-.9zM568.2,475.2h.9v.9h-.9zM563.7,474.8h.9v.9h-.9zM573.7,469.5h.9v.9h-.9zM561.4,468.8h.9v.9h-.9zM561.4,471.8h.9v.9h-.9zM567.1,471.1h.9v.9h-.9zM573.3,476.7h.9v.9h-.9zM567.1,472.7h.9v.9h-.9zM571.9,470.5h.9v.9h-.9zM567.1,471.5h.9v.9h-.9z" fill="#a85cb8" fill-opacity="0.75"/>
<path d="M545,438.8 C546,437.83 549.17,436.13 551,433 C552.83,429.87 554.57,423.75 556,420 C557.43,416.25 558.52,412.58 559.6,410.5 C560.68,408.42 561.43,407.58 562.5,407.5 C563.57,407.42 564.58,407.92 566,410 C567.42,412.08 569.17,416.92 571,420 C572.83,423.08 575,426.5 577,428.5 C579,430.5 580.83,430.92 583,432 C585.17,433.08 587.5,434.62 590,435 C592.5,435.38 595.5,434.08 598,434.3 C600.5,434.52 602.67,435.55 605,436.3 C607.33,437.05 610.83,438.38 612,438.8 L612,438.8 L545,438.8Z" fill="#c18cc7" fill-opacity="0.72"/>
<path d="M545,438.8 C546,437.83 549.17,436.13 551,433 C552.83,429.87 554.57,423.75 556,420 C557.43,416.25 558.52,412.58 559.6,410.5 C560.68,408.42 561.43,407.58 562.5,407.5 C563.57,407.42 564.58,407.92 566,410 C567.42,412.08 569.17,416.92 571,420 C572.83,423.08 575,426.5 577,428.5 C579,430.5 580.83,430.92 583,432 C585.17,433.08 587.5,434.62 590,435 C592.5,435.38 595.5,434.08 598,434.3 C600.5,434.52 602.67,435.55 605,436.3 C607.33,437.05 610.83,438.38 612,438.8" fill="none" stroke="#2a2a2a" stroke-width="0.55" stroke-opacity="0.85"/>
<path d="M545,438.8 C546,437.83 549.17,436.13 551,433 C552.83,429.87 554.57,423.83 556,420 C557.43,416.17 558.6,412.3 559.6,410 C560.6,407.7 561.28,407 562,406.2 C562.72,405.4 563.23,405.1 563.9,405.2 C564.57,405.3 565.15,405.45 566,406.8 C566.85,408.15 567.83,410.93 569,413.3 C570.17,415.67 571.5,418.55 573,421 C574.5,423.45 576.17,426.17 578,428 C579.83,429.83 582,430.83 584,432 C586,433.17 587.67,434.62 590,435 C592.33,435.38 595.5,434.08 598,434.3 C600.5,434.52 602.67,435.55 605,436.3 C607.33,437.05 610.83,438.38 612,438.8 L612,438.8 L545,438.8Z" fill="#fed5ab" fill-opacity="0.72"/>
<path d="M545,438.8 C546,437.83 549.17,436.13 551,433 C552.83,429.87 554.57,423.83 556,420 C557.43,416.17 558.6,412.3 559.6,410 C560.6,407.7 561.28,407 562,406.2 C562.72,405.4 563.23,405.1 563.9,405.2 C564.57,405.3 565.15,405.45 566,406.8 C566.85,408.15 567.83,410.93 569,413.3 C570.17,415.67 571.5,418.55 573,421 C574.5,423.45 576.17,426.17 578,428 C579.83,429.83 582,430.83 584,432 C586,433.17 587.67,434.62 590,435 C592.33,435.38 595.5,434.08 598,434.3 C600.5,434.52 602.67,435.55 605,436.3 C607.33,437.05 610.83,438.38 612,438.8" fill="none" stroke="#2a2a2a" stroke-width="0.55" stroke-opacity="0.85"/>
<path d="M545.3,438.8 C546.22,437.83 548.97,436.15 550.8,433 C552.63,429.85 554.83,423 556.3,419.9 C557.77,416.8 558.58,415.57 559.6,414.4 C560.62,413.23 561.32,412.72 562.4,412.9 C563.48,413.08 564.57,413.78 566.1,415.5 C567.63,417.22 569.95,421 571.6,423.2 C573.25,425.4 574.17,427.25 576,428.7 C577.83,430.15 580.42,430.73 582.6,431.9 C584.78,433.07 587.28,435.22 589.1,435.7 C590.92,436.18 592.03,435.07 593.5,434.8 C594.97,434.53 596.08,433.85 597.9,434.1 C599.72,434.35 602.22,435.52 604.4,436.3 C606.58,437.08 609.9,438.38 611,438.8 L611,438.8 L545.3,438.8Z" fill="#fa8072" fill-opacity="0.72"/>
<path d="M545.3,438.8 C546.22,437.83 548.97,436.15 550.8,433 C552.63,429.85 554.83,423 556.3,419.9 C557.77,416.8 558.58,415.57 559.6,414.4 C560.62,413.23 561.32,412.72 562.4,412.9 C563.48,413.08 564.57,413.78 566.1,415.5 C567.63,417.22 569.95,421 571.6,423.2 C573.25,425.4 574.17,427.25 576,428.7 C577.83,430.15 580.42,430.73 582.6,431.9 C584.78,433.07 587.28,435.22 589.1,435.7 C590.92,436.18 592.03,435.07 593.5,434.8 C594.97,434.53 596.08,433.85 597.9,434.1 C599.72,434.35 602.22,435.52 604.4,436.3 C606.58,437.08 609.9,438.38 611,438.8" fill="none" stroke="#2a2a2a" stroke-width="0.55" stroke-opacity="0.85"/>
<path d="M605,438.6 L668,438.6" stroke="#2a2a2a" stroke-width="0.7"/>
<line x1="552.3" y1="449.9" x2="591.7" y2="449.9" stroke="#6a6a6a" stroke-width="0.6"/>
<rect x="560.2" y="446.3" width="13.6" height="7.2" fill="#fff" fill-opacity="0.3" stroke="#4a4a4a" stroke-width="0.6"/>
<line x1="564.9" y1="446.3" x2="564.9" y2="453.5" stroke="#444" stroke-width="0.6"/>
<line x1="530" y1="449.9" x2="531.5" y2="449.9" stroke="#5a5a5a" stroke-width="0.6"/>
<line x1="549.1" y1="461.5" x2="587.8" y2="461.5" stroke="#6a6a6a" stroke-width="0.6"/>
<rect x="561.5" y="457.9" width="11.3" height="7.2" fill="#fff" fill-opacity="0.3" stroke="#4a4a4a" stroke-width="0.6"/>
<line x1="566" y1="457.9" x2="566" y2="465.1" stroke="#444" stroke-width="0.6"/>
<line x1="530" y1="461.5" x2="531.5" y2="461.5" stroke="#5a5a5a" stroke-width="0.6"/>
<line x1="553.1" y1="472.8" x2="592.2" y2="472.8" stroke="#6a6a6a" stroke-width="0.6"/>
<rect x="560.2" y="469.2" width="13.6" height="7.2" fill="#fff" fill-opacity="0.3" stroke="#4a4a4a" stroke-width="0.6"/>
<line x1="564.9" y1="469.2" x2="564.9" y2="476.4" stroke="#444" stroke-width="0.6"/>
<line x1="530" y1="472.8" x2="531.5" y2="472.8" stroke="#5a5a5a" stroke-width="0.6"/>
<path d="M530,398.5 L530,483.3 L677.1,483.3" fill="none" stroke="#5a5a5a" stroke-width="0.8"/>
<line x1="530" y1="405.2" x2="531.5" y2="405.2" stroke="#5a5a5a" stroke-width="0.6"/>
<text x="524.9" y="408.05" font-size="7.9" text-anchor="end" fill="#262626">48</text>
<text x="525.2" y="441.65" font-size="7.9" text-anchor="end" fill="#262626">0</text>
<line x1="541.8" y1="483.3" x2="541.8" y2="481.8" stroke="#5a5a5a" stroke-width="0.6"/>
<text x="541.8" y="495.2" font-size="7.9" text-anchor="middle" fill="#262626">0</text>
<line x1="587.8" y1="483.3" x2="587.8" y2="481.8" stroke="#5a5a5a" stroke-width="0.6"/>
<text x="587.8" y="495.2" font-size="7.9" text-anchor="middle" fill="#262626">0.05</text>
<line x1="634.3" y1="483.3" x2="634.3" y2="481.8" stroke="#5a5a5a" stroke-width="0.6"/>
<text x="634.3" y="495.2" font-size="7.9" text-anchor="middle" fill="#262626">0.1</text>
<text x="570" y="506.6" font-size="8.3" textLength="70.5" lengthAdjust="spacingAndGlyphs" fill="#262626">Redundancy values</text>
<line x1="654" y1="449.1" x2="654" y2="463" stroke="#1a1a1a" stroke-width="1.3"/>
<path d="M659.5,453.9L659.5,458.5M657.51,455.05L661.49,457.35M661.49,455.05L657.51,457.35" stroke="#1a1a1a" stroke-width="0.75" fill="none"/>
<line x1="666.1" y1="460.4" x2="666.1" y2="474.6" stroke="#1a1a1a" stroke-width="1.3"/>
<path d="M672.4,465.2L672.4,469.8M670.41,466.35L674.39,468.65M674.39,466.35L670.41,468.65" stroke="#1a1a1a" stroke-width="0.75" fill="none"/>
<line x1="33.2" y1="596.3" x2="178.7" y2="596.3" stroke="#9a9a9a" stroke-width="0.9" stroke-dasharray="3.4 3"/>
<path d="M104.8,605.6h.9v.9h-.9zM107.4,606.3h.9v.9h-.9zM100.3,607.6h.9v.9h-.9zM92.4,610.1h.9v.9h-.9zM94.6,611.0h.9v.9h-.9zM94.2,604.6h.9v.9h-.9zM111.8,606.9h.9v.9h-.9zM90.2,609.6h.9v.9h-.9zM123.3,606.3h.9v.9h-.9zM68.2,605.1h.9v.9h-.9zM144.2,608.7h.9v.9h-.9zM98.6,604.9h.9v.9h-.9zM100.0,608.9h.9v.9h-.9zM100.0,604.4h.9v.9h-.9zM78.0,607.4h.9v.9h-.9zM97.8,604.4h.9v.9h-.9zM108.5,604.4h.9v.9h-.9zM100.8,607.7h.9v.9h-.9zM119.7,607.9h.9v.9h-.9zM95.2,609.9h.9v.9h-.9zM117.9,606.2h.9v.9h-.9zM107.8,609.9h.9v.9h-.9zM73.5,608.2h.9v.9h-.9zM106.9,611.1h.9v.9h-.9zM84.6,610.1h.9v.9h-.9zM104.4,607.5h.9v.9h-.9zM105.9,606.8h.9v.9h-.9zM113.4,607.6h.9v.9h-.9zM80.1,610.5h.9v.9h-.9zM85.2,606.0h.9v.9h-.9zM86.3,608.3h.9v.9h-.9zM88.4,605.6h.9v.9h-.9zM106.6,610.5h.9v.9h-.9zM134.1,606.8h.9v.9h-.9zM85.5,610.7h.9v.9h-.9zM116.4,605.1h.9v.9h-.9zM106.7,607.7h.9v.9h-.9zM125.3,604.4h.9v.9h-.9zM98.0,609.6h.9v.9h-.9zM79.7,611.0h.9v.9h-.9zM102.4,609.9h.9v.9h-.9zM101.2,606.5h.9v.9h-.9zM89.8,610.9h.9v.9h-.9zM96.8,607.3h.9v.9h-.9zM102.6,609.3h.9v.9h-.9zM90.7,605.0h.9v.9h-.9zM102.1,608.6h.9v.9h-.9zM97.1,604.5h.9v.9h-.9zM98.6,607.4h.9v.9h-.9zM79.8,609.1h.9v.9h-.9zM104.0,604.1h.9v.9h-.9zM99.8,607.2h.9v.9h-.9zM98.4,605.0h.9v.9h-.9zM84.6,609.7h.9v.9h-.9zM104.5,607.7h.9v.9h-.9zM109.1,604.3h.9v.9h-.9zM86.2,610.2h.9v.9h-.9zM112.7,609.8h.9v.9h-.9zM100.7,610.9h.9v.9h-.9zM87.0,606.6h.9v.9h-.9zM76.4,605.1h.9v.9h-.9zM92.8,604.5h.9v.9h-.9zM98.4,604.8h.9v.9h-.9zM103.1,606.8h.9v.9h-.9zM123.6,603.4h.9v.9h-.9zM79.9,603.6h.9v.9h-.9zM105.3,607.6h.9v.9h-.9zM103.3,605.8h.9v.9h-.9zM81.9,607.9h.9v.9h-.9zM91.7,607.1h.9v.9h-.9zM100.0,608.8h.9v.9h-.9zM97.8,609.2h.9v.9h-.9zM104.7,610.3h.9v.9h-.9zM90.5,604.0h.9v.9h-.9zM86.7,607.2h.9v.9h-.9zM91.8,607.0h.9v.9h-.9zM103.4,609.1h.9v.9h-.9zM89.9,603.4h.9v.9h-.9zM87.2,608.9h.9v.9h-.9zM134.5,605.0h.9v.9h-.9zM102.7,606.6h.9v.9h-.9zM93.1,605.8h.9v.9h-.9zM107.3,607.4h.9v.9h-.9zM95.0,609.4h.9v.9h-.9zM98.9,604.7h.9v.9h-.9zM105.9,606.6h.9v.9h-.9zM104.6,607.0h.9v.9h-.9zM83.0,607.8h.9v.9h-.9zM71.7,606.3h.9v.9h-.9zM133.3,603.4h.9v.9h-.9zM109.6,610.0h.9v.9h-.9zM75.2,605.7h.9v.9h-.9zM116.2,604.9h.9v.9h-.9zM111.3,608.6h.9v.9h-.9zM95.2,605.9h.9v.9h-.9zM89.3,604.3h.9v.9h-.9zM85.9,609.6h.9v.9h-.9zM97.6,609.8h.9v.9h-.9zM102.1,603.8h.9v.9h-.9zM67.9,609.1h.9v.9h-.9zM88.9,606.5h.9v.9h-.9zM94.7,604.3h.9v.9h-.9zM86.8,611.0h.9v.9h-.9zM95.0,605.1h.9v.9h-.9zM139.2,608.5h.9v.9h-.9zM93.2,609.3h.9v.9h-.9zM87.2,603.6h.9v.9h-.9zM105.5,604.9h.9v.9h-.9zM102.8,605.5h.9v.9h-.9zM97.0,606.7h.9v.9h-.9zM127.8,605.2h.9v.9h-.9zM94.8,603.6h.9v.9h-.9zM106.5,605.7h.9v.9h-.9zM114.9,603.8h.9v.9h-.9zM73.7,605.7h.9v.9h-.9zM67.5,606.3h.9v.9h-.9zM95.9,603.4h.9v.9h-.9zM89.9,604.0h.9v.9h-.9zM89.2,607.4h.9v.9h-.9zM104.2,606.6h.9v.9h-.9zM90.4,610.0h.9v.9h-.9zM102.3,604.1h.9v.9h-.9zM94.2,608.1h.9v.9h-.9zM73.1,603.8h.9v.9h-.9zM106.5,609.1h.9v.9h-.9zM96.5,604.8h.9v.9h-.9zM91.3,608.0h.9v.9h-.9zM91.2,608.4h.9v.9h-.9zM103.7,607.3h.9v.9h-.9zM87.3,607.4h.9v.9h-.9zM115.6,606.3h.9v.9h-.9zM105.9,605.5h.9v.9h-.9zM147.0,611.2h.9v.9h-.9zM83.8,609.8h.9v.9h-.9zM80.2,611.3h.9v.9h-.9zM121.7,607.8h.9v.9h-.9zM105.2,604.7h.9v.9h-.9zM99.3,604.9h.9v.9h-.9zM115.2,604.1h.9v.9h-.9zM73.4,607.1h.9v.9h-.9zM113.4,603.6h.9v.9h-.9zM107.5,606.4h.9v.9h-.9zM93.6,608.9h.9v.9h-.9zM110.8,606.5h.9v.9h-.9zM101.6,604.8h.9v.9h-.9zM132.4,609.5h.9v.9h-.9zM141.2,610.0h.9v.9h-.9zM102.4,609.0h.9v.9h-.9zM123.4,610.3h.9v.9h-.9zM103.4,607.1h.9v.9h-.9z" fill="#f05548" fill-opacity="0.75"/>
<path d="M90.7,621.0h.9v.9h-.9zM123.5,620.0h.9v.9h-.9zM86.1,619.1h.9v.9h-.9zM90.0,615.4h.9v.9h-.9zM98.2,616.4h.9v.9h-.9zM88.5,621.4h.9v.9h-.9zM88.6,617.8h.9v.9h-.9zM92.2,617.6h.9v.9h-.9zM101.3,617.6h.9v.9h-.9zM103.4,616.4h.9v.9h-.9zM83.3,615.4h.9v.9h-.9zM105.7,618.6h.9v.9h-.9zM89.0,622.4h.9v.9h-.9zM104.1,621.7h.9v.9h-.9zM101.0,614.8h.9v.9h-.9zM121.1,620.2h.9v.9h-.9zM121.3,615.8h.9v.9h-.9zM84.2,617.8h.9v.9h-.9zM98.0,619.2h.9v.9h-.9zM108.8,619.4h.9v.9h-.9zM121.3,619.1h.9v.9h-.9zM102.7,617.6h.9v.9h-.9zM90.0,620.3h.9v.9h-.9zM110.0,619.9h.9v.9h-.9zM118.9,618.2h.9v.9h-.9zM117.7,617.1h.9v.9h-.9zM96.1,621.1h.9v.9h-.9zM97.5,621.7h.9v.9h-.9zM85.7,618.5h.9v.9h-.9zM103.2,622.6h.9v.9h-.9zM99.9,619.7h.9v.9h-.9zM103.7,616.0h.9v.9h-.9zM92.5,614.7h.9v.9h-.9zM94.1,622.2h.9v.9h-.9zM101.1,620.8h.9v.9h-.9zM82.3,617.0h.9v.9h-.9zM93.0,619.8h.9v.9h-.9zM88.1,619.5h.9v.9h-.9zM136.7,617.3h.9v.9h-.9zM84.8,615.0h.9v.9h-.9zM100.8,620.2h.9v.9h-.9zM145.3,619.3h.9v.9h-.9zM67.0,617.7h.9v.9h-.9zM96.1,615.1h.9v.9h-.9zM91.7,618.5h.9v.9h-.9zM85.0,620.5h.9v.9h-.9zM106.8,615.5h.9v.9h-.9zM125.3,622.5h.9v.9h-.9zM69.3,621.6h.9v.9h-.9zM85.0,622.0h.9v.9h-.9zM126.9,616.6h.9v.9h-.9zM91.9,617.0h.9v.9h-.9zM108.0,617.3h.9v.9h-.9zM129.1,619.1h.9v.9h-.9zM104.6,622.5h.9v.9h-.9zM92.7,619.0h.9v.9h-.9zM131.9,619.6h.9v.9h-.9zM109.2,618.9h.9v.9h-.9zM130.4,614.7h.9v.9h-.9zM101.6,615.1h.9v.9h-.9zM68.3,619.8h.9v.9h-.9zM82.3,617.6h.9v.9h-.9zM98.0,618.8h.9v.9h-.9zM88.3,619.3h.9v.9h-.9zM144.6,622.2h.9v.9h-.9zM93.9,617.7h.9v.9h-.9zM100.1,616.0h.9v.9h-.9zM118.7,622.1h.9v.9h-.9zM88.6,618.5h.9v.9h-.9zM77.3,621.3h.9v.9h-.9zM94.6,622.0h.9v.9h-.9zM89.9,615.8h.9v.9h-.9zM89.3,620.2h.9v.9h-.9zM74.5,621.0h.9v.9h-.9zM75.9,621.2h.9v.9h-.9zM80.9,622.1h.9v.9h-.9zM81.7,614.6h.9v.9h-.9zM122.2,615.4h.9v.9h-.9zM118.6,619.7h.9v.9h-.9zM133.0,617.2h.9v.9h-.9zM128.6,617.1h.9v.9h-.9zM112.6,621.4h.9v.9h-.9zM84.9,616.6h.9v.9h-.9zM75.4,621.5h.9v.9h-.9zM82.6,620.2h.9v.9h-.9zM74.5,620.8h.9v.9h-.9zM87.0,615.4h.9v.9h-.9zM99.4,618.3h.9v.9h-.9zM77.0,615.5h.9v.9h-.9zM101.7,615.9h.9v.9h-.9zM99.0,615.3h.9v.9h-.9zM71.9,616.6h.9v.9h-.9zM125.4,617.9h.9v.9h-.9zM83.5,617.3h.9v.9h-.9zM99.8,620.3h.9v.9h-.9zM102.3,620.2h.9v.9h-.9zM91.1,616.9h.9v.9h-.9zM98.7,616.3h.9v.9h-.9zM88.9,621.5h.9v.9h-.9zM98.8,617.6h.9v.9h-.9zM129.9,618.2h.9v.9h-.9zM124.7,616.7h.9v.9h-.9zM85.0,618.6h.9v.9h-.9zM76.8,618.1h.9v.9h-.9zM140.5,617.7h.9v.9h-.9zM126.7,617.6h.9v.9h-.9zM96.5,620.5h.9v.9h-.9zM111.0,617.1h.9v.9h-.9zM85.7,618.2h.9v.9h-.9zM128.0,621.8h.9v.9h-.9zM98.6,622.3h.9v.9h-.9zM102.6,619.7h.9v.9h-.9zM94.2,622.5h.9v.9h-.9zM101.0,621.2h.9v.9h-.9zM100.6,616.3h.9v.9h-.9zM98.0,617.9h.9v.9h-.9zM100.0,620.4h.9v.9h-.9zM103.8,616.4h.9v.9h-.9zM91.7,619.2h.9v.9h-.9zM130.3,619.7h.9v.9h-.9zM85.1,615.2h.9v.9h-.9zM105.7,618.2h.9v.9h-.9zM139.6,617.4h.9v.9h-.9zM86.5,622.1h.9v.9h-.9zM103.0,618.0h.9v.9h-.9zM89.6,618.5h.9v.9h-.9zM103.9,619.1h.9v.9h-.9zM84.0,615.9h.9v.9h-.9zM99.6,621.7h.9v.9h-.9zM99.6,618.1h.9v.9h-.9zM102.3,614.9h.9v.9h-.9zM97.2,620.1h.9v.9h-.9zM102.6,621.2h.9v.9h-.9zM84.2,619.0h.9v.9h-.9zM81.4,615.0h.9v.9h-.9zM68.5,620.5h.9v.9h-.9zM85.1,618.2h.9v.9h-.9zM86.8,616.1h.9v.9h-.9zM96.9,620.3h.9v.9h-.9zM100.1,619.4h.9v.9h-.9zM92.8,619.1h.9v.9h-.9zM103.7,620.0h.9v.9h-.9zM109.5,615.4h.9v.9h-.9zM87.8,621.3h.9v.9h-.9zM92.4,621.5h.9v.9h-.9zM114.9,617.0h.9v.9h-.9zM97.9,617.0h.9v.9h-.9zM89.9,620.7h.9v.9h-.9zM121.5,622.5h.9v.9h-.9zM104.0,614.7h.9v.9h-.9z" fill="#f8b070" fill-opacity="0.75"/>
<path d="M64.4,630.0h.9v.9h-.9zM93.5,628.1h.9v.9h-.9zM93.7,630.0h.9v.9h-.9zM93.0,625.9h.9v.9h-.9zM76.1,629.4h.9v.9h-.9zM84.1,630.9h.9v.9h-.9zM102.2,629.1h.9v.9h-.9zM104.2,627.2h.9v.9h-.9zM99.7,631.4h.9v.9h-.9zM85.0,628.3h.9v.9h-.9zM85.7,631.4h.9v.9h-.9zM73.3,631.5h.9v.9h-.9zM93.1,626.8h.9v.9h-.9zM83.9,629.7h.9v.9h-.9zM95.6,633.1h.9v.9h-.9zM93.1,631.2h.9v.9h-.9zM78.4,633.2h.9v.9h-.9zM125.0,628.2h.9v.9h-.9zM83.0,629.0h.9v.9h-.9zM64.0,632.3h.9v.9h-.9zM79.5,632.8h.9v.9h-.9zM83.2,626.5h.9v.9h-.9zM81.5,627.0h.9v.9h-.9zM89.9,629.2h.9v.9h-.9zM89.0,631.8h.9v.9h-.9zM83.9,632.9h.9v.9h-.9zM97.5,629.4h.9v.9h-.9zM81.8,632.7h.9v.9h-.9zM68.6,633.0h.9v.9h-.9zM64.6,631.2h.9v.9h-.9zM89.2,632.3h.9v.9h-.9zM88.5,630.9h.9v.9h-.9zM90.8,629.0h.9v.9h-.9zM127.1,631.3h.9v.9h-.9zM84.3,626.5h.9v.9h-.9zM89.0,627.0h.9v.9h-.9zM68.5,630.6h.9v.9h-.9zM70.4,627.3h.9v.9h-.9zM91.8,633.1h.9v.9h-.9zM86.6,633.3h.9v.9h-.9zM97.1,632.7h.9v.9h-.9zM89.3,633.1h.9v.9h-.9zM94.9,631.8h.9v.9h-.9zM99.9,626.4h.9v.9h-.9zM126.1,631.9h.9v.9h-.9zM82.3,631.1h.9v.9h-.9zM93.1,625.9h.9v.9h-.9zM86.5,632.0h.9v.9h-.9zM113.1,628.0h.9v.9h-.9zM64.1,629.5h.9v.9h-.9zM95.1,631.0h.9v.9h-.9zM97.2,633.2h.9v.9h-.9zM125.8,631.2h.9v.9h-.9zM100.2,625.7h.9v.9h-.9zM89.8,630.4h.9v.9h-.9zM79.6,625.8h.9v.9h-.9zM79.4,625.9h.9v.9h-.9zM97.6,631.5h.9v.9h-.9zM82.0,632.8h.9v.9h-.9zM98.8,626.6h.9v.9h-.9zM96.7,625.6h.9v.9h-.9zM80.3,633.6h.9v.9h-.9zM96.8,632.3h.9v.9h-.9zM65.1,631.2h.9v.9h-.9zM93.1,626.8h.9v.9h-.9zM112.5,626.7h.9v.9h-.9zM88.7,627.7h.9v.9h-.9zM87.8,630.8h.9v.9h-.9zM117.9,629.7h.9v.9h-.9zM124.1,627.3h.9v.9h-.9zM85.3,628.1h.9v.9h-.9zM87.0,625.9h.9v.9h-.9zM92.7,632.6h.9v.9h-.9zM108.0,631.7h.9v.9h-.9zM92.7,627.2h.9v.9h-.9zM99.6,631.8h.9v.9h-.9zM85.6,632.2h.9v.9h-.9zM123.4,626.5h.9v.9h-.9zM81.3,631.4h.9v.9h-.9zM102.9,631.8h.9v.9h-.9zM97.5,633.0h.9v.9h-.9zM103.4,630.3h.9v.9h-.9zM109.7,630.2h.9v.9h-.9zM87.1,629.0h.9v.9h-.9zM89.6,628.5h.9v.9h-.9zM87.2,628.6h.9v.9h-.9zM125.9,625.7h.9v.9h-.9zM87.1,629.2h.9v.9h-.9zM85.4,627.5h.9v.9h-.9zM95.4,633.1h.9v.9h-.9zM87.9,628.2h.9v.9h-.9zM95.7,632.3h.9v.9h-.9zM84.0,631.2h.9v.9h-.9zM91.8,628.7h.9v.9h-.9zM94.0,632.5h.9v.9h-.9zM69.6,630.3h.9v.9h-.9zM133.7,629.3h.9v.9h-.9zM80.4,631.5h.9v.9h-.9zM94.2,630.9h.9v.9h-.9zM118.0,633.1h.9v.9h-.9zM68.7,630.3h.9v.9h-.9zM83.9,633.0h.9v.9h-.9zM70.1,627.4h.9v.9h-.9zM89.8,628.2h.9v.9h-.9zM94.3,627.1h.9v.9h-.9zM83.1,633.2h.9v.9h-.9zM128.9,630.4h.9v.9h-.9zM86.9,630.6h.9v.9h-.9zM83.8,625.9h.9v.9h-.9zM89.6,627.0h.9v.9h-.9zM90.7,632.8h.9v.9h-.9zM78.4,630.3h.9v.9h-.9zM93.7,626.8h.9v.9h-.9zM87.4,632.9h.9v.9h-.9zM82.8,626.7h.9v.9h-.9zM85.4,628.8h.9v.9h-.9zM87.7,629.4h.9v.9h-.9zM93.5,632.8h.9v.9h-.9zM96.3,627.6h.9v.9h-.9zM131.3,631.1h.9v.9h-.9zM84.3,626.7h.9v.9h-.9zM84.9,631.2h.9v.9h-.9zM95.3,627.3h.9v.9h-.9zM85.5,631.1h.9v.9h-.9zM62.6,631.3h.9v.9h-.9zM80.6,627.7h.9v.9h-.9zM94.4,630.0h.9v.9h-.9zM83.9,627.9h.9v.9h-.9zM85.7,631.9h.9v.9h-.9zM106.0,632.7h.9v.9h-.9zM69.6,626.0h.9v.9h-.9zM84.0,629.8h.9v.9h-.9zM99.0,629.0h.9v.9h-.9zM97.4,631.6h.9v.9h-.9zM80.1,633.5h.9v.9h-.9zM94.9,626.5h.9v.9h-.9zM84.7,632.7h.9v.9h-.9zM81.2,627.2h.9v.9h-.9zM123.5,630.7h.9v.9h-.9zM80.1,627.8h.9v.9h-.9zM97.4,625.9h.9v.9h-.9zM84.3,627.1h.9v.9h-.9zM96.4,627.6h.9v.9h-.9zM90.9,630.9h.9v.9h-.9zM73.7,632.6h.9v.9h-.9zM82.5,627.5h.9v.9h-.9zM92.2,630.0h.9v.9h-.9zM118.2,629.3h.9v.9h-.9zM94.6,625.7h.9v.9h-.9zM81.9,630.4h.9v.9h-.9z" fill="#a85cb8" fill-opacity="0.75"/>
<path d="M52,596.3 C53.23,596.07 57.27,595.77 59.4,594.9 C61.53,594.03 62.98,593 64.8,591.1 C66.62,589.2 68.47,586.6 70.3,583.5 C72.13,580.4 74.18,575.5 75.8,572.5 C77.42,569.5 78.62,567.22 80,565.5 C81.38,563.78 82.77,562.53 84.1,562.2 C85.43,561.87 86.68,562.53 88,563.5 C89.32,564.47 90.67,566.08 92,568 C93.33,569.92 94.67,573.33 96,575 C97.33,576.67 97.67,577 100,578 C102.33,579 105.83,579.5 110,581 C114.17,582.5 120,584.75 125,587 C130,589.25 135.83,592.95 140,594.5 C144.17,596.05 148.33,596 150,596.3 L150,596.3 L52,596.3Z" fill="#c18cc7" fill-opacity="0.72"/>
<path d="M52,596.3 C53.23,596.07 57.27,595.77 59.4,594.9 C61.53,594.03 62.98,593 64.8,591.1 C66.62,589.2 68.47,586.6 70.3,583.5 C72.13,580.4 74.18,575.5 75.8,572.5 C77.42,569.5 78.62,567.22 80,565.5 C81.38,563.78 82.77,562.53 84.1,562.2 C85.43,561.87 86.68,562.53 88,563.5 C89.32,564.47 90.67,566.08 92,568 C93.33,569.92 94.67,573.33 96,575 C97.33,576.67 97.67,577 100,578 C102.33,579 105.83,579.5 110,581 C114.17,582.5 120,584.75 125,587 C130,589.25 135.83,592.95 140,594.5 C144.17,596.05 148.33,596 150,596.3" fill="none" stroke="#2a2a2a" stroke-width="0.55" stroke-opacity="0.85"/>
<path d="M55,596.3 C56.17,596.08 60,595.72 62,595 C64,594.28 65.25,593.58 67,592 C68.75,590.42 70.67,588.25 72.5,585.5 C74.33,582.75 76.33,578.75 78,575.5 C79.67,572.25 81.2,568.1 82.5,566 C83.8,563.9 84.72,563.3 85.8,562.9 C86.88,562.5 88.12,562.92 89,563.6 C89.88,564.28 90.02,565.15 91.1,567 C92.18,568.85 94.02,572.87 95.5,574.7 C96.98,576.53 97.58,576.95 100,578 C102.42,579.05 105.83,579.5 110,581 C114.17,582.5 120,584.75 125,587 C130,589.25 135.83,592.95 140,594.5 C144.17,596.05 148.33,596 150,596.3 L150,596.3 L55,596.3Z" fill="#fed5ab" fill-opacity="0.72"/>
<path d="M55,596.3 C56.17,596.08 60,595.72 62,595 C64,594.28 65.25,593.58 67,592 C68.75,590.42 70.67,588.25 72.5,585.5 C74.33,582.75 76.33,578.75 78,575.5 C79.67,572.25 81.2,568.1 82.5,566 C83.8,563.9 84.72,563.3 85.8,562.9 C86.88,562.5 88.12,562.92 89,563.6 C89.88,564.28 90.02,565.15 91.1,567 C92.18,568.85 94.02,572.87 95.5,574.7 C96.98,576.53 97.58,576.95 100,578 C102.42,579.05 105.83,579.5 110,581 C114.17,582.5 120,584.75 125,587 C130,589.25 135.83,592.95 140,594.5 C144.17,596.05 148.33,596 150,596.3" fill="none" stroke="#2a2a2a" stroke-width="0.55" stroke-opacity="0.85"/>
<path d="M51.7,596.3 C52.8,596.07 56.12,595.77 58.3,594.9 C60.48,594.03 62.62,592.82 64.8,591.1 C66.98,589.38 69.2,586.97 71.4,584.6 C73.6,582.23 75.8,578.92 78,576.9 C80.2,574.88 82.97,573.3 84.6,572.5 C86.23,571.7 85.98,571.67 87.8,572.1 C89.62,572.53 92.75,574.12 95.5,575.1 C98.25,576.08 101.38,576.97 104.3,578 C107.22,579.03 109.72,579.85 113,581.3 C116.28,582.75 120.72,584.88 124,586.7 C127.28,588.52 129.78,590.73 132.7,592.2 C135.62,593.67 139.28,594.82 141.5,595.5 C143.72,596.18 145.25,596.17 146,596.3 L146,596.3 L51.7,596.3Z" fill="#fa8072" fill-opacity="0.72"/>
<path d="M51.7,596.3 C52.8,596.07 56.12,595.77 58.3,594.9 C60.48,594.03 62.62,592.82 64.8,591.1 C66.98,589.38 69.2,586.97 71.4,584.6 C73.6,582.23 75.8,578.92 78,576.9 C80.2,574.88 82.97,573.3 84.6,572.5 C86.23,571.7 85.98,571.67 87.8,572.1 C89.62,572.53 92.75,574.12 95.5,575.1 C98.25,576.08 101.38,576.97 104.3,578 C107.22,579.03 109.72,579.85 113,581.3 C116.28,582.75 120.72,584.88 124,586.7 C127.28,588.52 129.78,590.73 132.7,592.2 C135.62,593.67 139.28,594.82 141.5,595.5 C143.72,596.18 145.25,596.17 146,596.3" fill="none" stroke="#2a2a2a" stroke-width="0.55" stroke-opacity="0.85"/>
<path d="M140,596.1 L163,596.1" stroke="#2a2a2a" stroke-width="0.7"/>
<line x1="66.2" y1="607.3" x2="134.8" y2="607.3" stroke="#6a6a6a" stroke-width="0.6"/>
<rect x="84.6" y="603.7" width="23.9" height="7.2" fill="#fff" fill-opacity="0.3" stroke="#4a4a4a" stroke-width="0.6"/>
<line x1="92.5" y1="603.7" x2="92.5" y2="610.9" stroke="#444" stroke-width="0.6"/>
<line x1="32.7" y1="607.3" x2="34.2" y2="607.3" stroke="#5a5a5a" stroke-width="0.6"/>
<line x1="66.2" y1="618.6" x2="134" y2="618.6" stroke="#6a6a6a" stroke-width="0.6"/>
<rect x="82.8" y="615" width="21.5" height="7.2" fill="#fff" fill-opacity="0.3" stroke="#4a4a4a" stroke-width="0.6"/>
<line x1="90.6" y1="615" x2="90.6" y2="622.2" stroke="#444" stroke-width="0.6"/>
<line x1="32.7" y1="618.6" x2="34.2" y2="618.6" stroke="#5a5a5a" stroke-width="0.6"/>
<line x1="62.5" y1="629.6" x2="124.8" y2="629.6" stroke="#6a6a6a" stroke-width="0.6"/>
<rect x="79.3" y="626" width="18.4" height="7.2" fill="#fff" fill-opacity="0.3" stroke="#4a4a4a" stroke-width="0.6"/>
<line x1="87.5" y1="626" x2="87.5" y2="633.2" stroke="#444" stroke-width="0.6"/>
<line x1="32.7" y1="629.6" x2="34.2" y2="629.6" stroke="#5a5a5a" stroke-width="0.6"/>
<path d="M32.7,555.4 L32.7,640.6 L181,640.6" fill="none" stroke="#5a5a5a" stroke-width="0.8"/>
<line x1="32.7" y1="562.5" x2="34.2" y2="562.5" stroke="#5a5a5a" stroke-width="0.6"/>
<text x="30.2" y="565.35" font-size="7.9" text-anchor="end" fill="#262626">36</text>
<text x="30.5" y="599.15" font-size="7.9" text-anchor="end" fill="#262626">0</text>
<line x1="54.7" y1="640.6" x2="54.7" y2="639.1" stroke="#5a5a5a" stroke-width="0.6"/>
<text x="54.7" y="652.4" font-size="7.9" text-anchor="middle" fill="#262626">0.02</text>
<line x1="103" y1="640.6" x2="103" y2="639.1" stroke="#5a5a5a" stroke-width="0.6"/>
<text x="103" y="652.4" font-size="7.9" text-anchor="middle" fill="#262626">0.06</text>
<line x1="151.1" y1="640.6" x2="151.1" y2="639.1" stroke="#5a5a5a" stroke-width="0.6"/>
<text x="151.1" y="652.4" font-size="7.9" text-anchor="middle" fill="#262626">0.1</text>
<text x="73.4" y="663.6" font-size="8.3" textLength="70.8" lengthAdjust="spacingAndGlyphs" fill="#262626">Synergy modularity</text>
<line x1="158.9" y1="617.9" x2="158.9" y2="631.6" stroke="#1a1a1a" stroke-width="1.3"/>
<path d="M164.5,622.2L164.5,626.8M162.51,623.35L166.49,625.65M166.49,623.35L162.51,625.65" stroke="#1a1a1a" stroke-width="0.75" fill="none"/>
<line x1="172.4" y1="606.2" x2="172.4" y2="631.6" stroke="#1a1a1a" stroke-width="1.3"/>
<path d="M178.3,616.3L178.3,620.9M176.31,617.45L180.29,619.75M180.29,617.45L176.31,619.75" stroke="#1a1a1a" stroke-width="0.75" fill="none"/>
<line x1="199.4" y1="596.3" x2="345" y2="596.3" stroke="#9a9a9a" stroke-width="0.9" stroke-dasharray="3.4 3"/>
<path d="M248.2,605.7h.9v.9h-.9zM293.3,604.2h.9v.9h-.9zM301.8,606.6h.9v.9h-.9zM282.1,605.9h.9v.9h-.9zM271.3,606.5h.9v.9h-.9zM276.1,607.7h.9v.9h-.9zM270.3,609.7h.9v.9h-.9zM274.9,610.8h.9v.9h-.9zM312.0,609.4h.9v.9h-.9zM301.3,607.9h.9v.9h-.9zM273.3,604.1h.9v.9h-.9zM263.8,606.6h.9v.9h-.9zM245.9,608.9h.9v.9h-.9zM302.0,610.3h.9v.9h-.9zM270.9,609.4h.9v.9h-.9zM267.7,606.0h.9v.9h-.9zM285.8,607.0h.9v.9h-.9zM265.2,605.9h.9v.9h-.9zM297.9,610.4h.9v.9h-.9zM282.8,606.5h.9v.9h-.9zM299.1,607.7h.9v.9h-.9zM273.7,610.4h.9v.9h-.9zM262.4,604.0h.9v.9h-.9zM288.7,603.6h.9v.9h-.9zM280.4,607.7h.9v.9h-.9zM270.9,607.8h.9v.9h-.9zM287.8,604.1h.9v.9h-.9zM282.4,608.4h.9v.9h-.9zM293.6,610.7h.9v.9h-.9zM267.9,605.2h.9v.9h-.9zM250.1,607.6h.9v.9h-.9zM250.4,607.5h.9v.9h-.9zM298.0,606.5h.9v.9h-.9zM260.2,611.0h.9v.9h-.9zM292.6,605.7h.9v.9h-.9zM277.0,609.7h.9v.9h-.9zM286.9,608.8h.9v.9h-.9zM283.2,609.7h.9v.9h-.9zM315.2,603.4h.9v.9h-.9zM295.4,607.2h.9v.9h-.9zM249.8,606.0h.9v.9h-.9zM304.2,606.3h.9v.9h-.9zM328.9,603.7h.9v.9h-.9zM269.4,607.9h.9v.9h-.9zM273.4,606.9h.9v.9h-.9zM287.5,610.0h.9v.9h-.9zM273.6,605.8h.9v.9h-.9zM265.8,611.1h.9v.9h-.9zM330.1,609.9h.9v.9h-.9zM270.4,606.1h.9v.9h-.9zM276.9,611.2h.9v.9h-.9zM315.1,605.1h.9v.9h-.9zM268.2,605.5h.9v.9h-.9zM279.2,605.7h.9v.9h-.9zM283.0,608.1h.9v.9h-.9zM283.7,608.8h.9v.9h-.9zM275.8,607.0h.9v.9h-.9zM268.6,607.0h.9v.9h-.9zM252.8,610.2h.9v.9h-.9zM306.6,609.8h.9v.9h-.9zM252.0,605.5h.9v.9h-.9zM317.2,604.2h.9v.9h-.9zM275.4,606.1h.9v.9h-.9zM246.9,610.1h.9v.9h-.9zM287.5,605.9h.9v.9h-.9zM271.5,611.0h.9v.9h-.9zM304.3,603.8h.9v.9h-.9zM296.9,611.2h.9v.9h-.9zM246.2,606.3h.9v.9h-.9zM327.0,611.0h.9v.9h-.9zM268.3,610.9h.9v.9h-.9zM279.9,606.2h.9v.9h-.9zM313.1,610.9h.9v.9h-.9zM258.5,609.9h.9v.9h-.9zM276.8,610.9h.9v.9h-.9zM275.7,608.0h.9v.9h-.9zM283.1,608.5h.9v.9h-.9zM287.8,603.9h.9v.9h-.9zM265.9,604.4h.9v.9h-.9zM289.5,609.7h.9v.9h-.9zM301.8,611.1h.9v.9h-.9zM280.7,605.5h.9v.9h-.9zM316.9,609.1h.9v.9h-.9zM305.7,606.6h.9v.9h-.9zM306.2,604.9h.9v.9h-.9zM239.8,607.6h.9v.9h-.9zM249.6,610.7h.9v.9h-.9zM271.7,606.6h.9v.9h-.9zM272.4,603.3h.9v.9h-.9zM283.2,604.4h.9v.9h-.9zM285.3,610.2h.9v.9h-.9zM251.9,603.3h.9v.9h-.9zM286.1,606.2h.9v.9h-.9zM277.1,605.2h.9v.9h-.9zM316.8,605.0h.9v.9h-.9zM282.8,604.2h.9v.9h-.9zM277.3,611.2h.9v.9h-.9zM274.6,607.1h.9v.9h-.9zM276.5,608.9h.9v.9h-.9zM285.1,604.8h.9v.9h-.9zM281.4,606.9h.9v.9h-.9zM246.3,609.3h.9v.9h-.9zM267.7,604.3h.9v.9h-.9zM298.9,607.1h.9v.9h-.9zM293.1,608.2h.9v.9h-.9zM271.8,607.0h.9v.9h-.9zM310.1,611.3h.9v.9h-.9zM264.3,605.1h.9v.9h-.9zM297.3,605.3h.9v.9h-.9zM318.3,606.4h.9v.9h-.9zM273.0,608.5h.9v.9h-.9zM254.2,606.1h.9v.9h-.9zM319.5,605.7h.9v.9h-.9zM297.8,608.3h.9v.9h-.9zM291.8,603.3h.9v.9h-.9zM268.5,606.8h.9v.9h-.9zM279.2,608.4h.9v.9h-.9zM286.4,606.6h.9v.9h-.9zM324.2,608.3h.9v.9h-.9zM259.0,609.5h.9v.9h-.9zM273.1,605.9h.9v.9h-.9zM278.1,603.6h.9v.9h-.9zM281.0,609.8h.9v.9h-.9zM284.7,606.4h.9v.9h-.9zM271.7,606.8h.9v.9h-.9zM333.2,610.6h.9v.9h-.9zM294.2,604.4h.9v.9h-.9zM285.8,608.7h.9v.9h-.9zM263.0,605.4h.9v.9h-.9zM280.7,603.5h.9v.9h-.9zM275.3,603.8h.9v.9h-.9zM333.0,609.8h.9v.9h-.9zM276.8,604.2h.9v.9h-.9zM303.0,609.6h.9v.9h-.9zM247.5,603.4h.9v.9h-.9zM286.1,609.9h.9v.9h-.9zM256.7,610.2h.9v.9h-.9zM274.8,603.3h.9v.9h-.9zM325.1,609.5h.9v.9h-.9zM284.6,611.2h.9v.9h-.9zM312.5,611.0h.9v.9h-.9zM284.1,605.1h.9v.9h-.9zM275.1,611.2h.9v.9h-.9zM277.2,604.3h.9v.9h-.9zM326.4,608.9h.9v.9h-.9zM299.6,606.0h.9v.9h-.9zM283.9,608.9h.9v.9h-.9zM262.7,610.1h.9v.9h-.9zM284.0,606.6h.9v.9h-.9zM244.0,604.1h.9v.9h-.9z" fill="#f05548" fill-opacity="0.75"/>
<path d="M271.6,615.0h.9v.9h-.9zM294.5,619.5h.9v.9h-.9zM282.9,621.2h.9v.9h-.9zM258.0,619.1h.9v.9h-.9zM274.4,615.8h.9v.9h-.9zM287.3,622.1h.9v.9h-.9zM274.3,618.7h.9v.9h-.9zM275.0,618.9h.9v.9h-.9zM307.4,619.2h.9v.9h-.9zM283.9,620.9h.9v.9h-.9zM269.3,622.4h.9v.9h-.9zM250.7,615.5h.9v.9h-.9zM281.7,615.6h.9v.9h-.9zM278.6,614.6h.9v.9h-.9zM276.5,616.2h.9v.9h-.9zM274.2,616.6h.9v.9h-.9zM277.1,617.5h.9v.9h-.9zM269.7,621.3h.9v.9h-.9zM277.2,614.6h.9v.9h-.9zM286.3,618.3h.9v.9h-.9zM284.8,621.7h.9v.9h-.9zM278.8,619.1h.9v.9h-.9zM275.3,619.5h.9v.9h-.9zM287.1,619.6h.9v.9h-.9zM270.6,614.7h.9v.9h-.9zM304.2,621.8h.9v.9h-.9zM283.8,616.0h.9v.9h-.9zM273.1,621.5h.9v.9h-.9zM301.9,617.7h.9v.9h-.9zM260.4,619.2h.9v.9h-.9zM258.4,617.7h.9v.9h-.9zM284.4,616.1h.9v.9h-.9zM274.6,619.7h.9v.9h-.9zM279.5,621.4h.9v.9h-.9zM256.7,618.9h.9v.9h-.9zM273.9,615.8h.9v.9h-.9zM275.9,621.7h.9v.9h-.9zM247.9,616.4h.9v.9h-.9zM279.9,614.8h.9v.9h-.9zM280.0,619.4h.9v.9h-.9zM283.9,616.5h.9v.9h-.9zM279.9,617.3h.9v.9h-.9zM270.2,618.0h.9v.9h-.9zM302.4,622.5h.9v.9h-.9zM280.6,620.3h.9v.9h-.9zM311.0,622.4h.9v.9h-.9zM257.2,619.1h.9v.9h-.9zM273.7,620.9h.9v.9h-.9zM282.7,618.5h.9v.9h-.9zM282.7,620.4h.9v.9h-.9zM328.5,621.0h.9v.9h-.9zM281.9,618.6h.9v.9h-.9zM273.9,617.5h.9v.9h-.9zM278.2,618.9h.9v.9h-.9zM271.3,618.5h.9v.9h-.9zM272.5,618.2h.9v.9h-.9zM278.8,618.8h.9v.9h-.9zM271.8,614.7h.9v.9h-.9zM311.8,616.9h.9v.9h-.9zM275.3,620.5h.9v.9h-.9zM299.2,614.6h.9v.9h-.9zM273.2,617.6h.9v.9h-.9zM276.6,622.3h.9v.9h-.9zM280.2,622.3h.9v.9h-.9zM284.6,621.2h.9v.9h-.9zM270.0,622.3h.9v.9h-.9zM283.7,615.1h.9v.9h-.9zM268.6,619.7h.9v.9h-.9zM286.7,617.6h.9v.9h-.9zM286.2,616.4h.9v.9h-.9zM278.5,622.4h.9v.9h-.9zM273.3,621.0h.9v.9h-.9zM277.1,620.9h.9v.9h-.9zM299.0,615.5h.9v.9h-.9zM267.4,621.1h.9v.9h-.9zM306.1,618.4h.9v.9h-.9zM272.1,618.6h.9v.9h-.9zM272.4,621.6h.9v.9h-.9zM304.1,615.8h.9v.9h-.9zM275.5,615.5h.9v.9h-.9zM286.7,620.4h.9v.9h-.9zM285.7,621.5h.9v.9h-.9zM322.6,615.0h.9v.9h-.9zM253.4,616.5h.9v.9h-.9zM279.0,619.3h.9v.9h-.9zM275.6,615.7h.9v.9h-.9zM280.5,617.1h.9v.9h-.9zM309.6,622.0h.9v.9h-.9zM315.0,617.7h.9v.9h-.9zM274.2,620.6h.9v.9h-.9zM251.5,618.6h.9v.9h-.9zM326.9,618.2h.9v.9h-.9zM277.9,618.7h.9v.9h-.9zM255.0,616.8h.9v.9h-.9zM314.2,619.5h.9v.9h-.9zM283.5,618.0h.9v.9h-.9zM257.7,621.6h.9v.9h-.9zM270.2,615.3h.9v.9h-.9zM276.6,622.4h.9v.9h-.9zM282.8,614.9h.9v.9h-.9zM280.6,615.4h.9v.9h-.9zM273.8,617.2h.9v.9h-.9zM291.6,615.6h.9v.9h-.9zM270.3,616.7h.9v.9h-.9zM311.7,622.4h.9v.9h-.9zM250.5,620.9h.9v.9h-.9zM275.8,622.6h.9v.9h-.9zM250.1,616.3h.9v.9h-.9zM280.8,619.6h.9v.9h-.9zM242.2,614.7h.9v.9h-.9zM317.8,616.7h.9v.9h-.9zM249.6,620.9h.9v.9h-.9zM282.3,619.5h.9v.9h-.9zM280.8,619.5h.9v.9h-.9zM279.0,615.5h.9v.9h-.9zM281.6,615.2h.9v.9h-.9zM274.0,621.0h.9v.9h-.9zM267.4,622.3h.9v.9h-.9zM258.8,619.1h.9v.9h-.9zM268.2,618.1h.9v.9h-.9zM313.1,619.7h.9v.9h-.9zM280.3,617.2h.9v.9h-.9zM293.2,614.8h.9v.9h-.9zM264.3,619.4h.9v.9h-.9zM275.4,619.6h.9v.9h-.9zM274.1,618.7h.9v.9h-.9zM257.7,620.7h.9v.9h-.9zM267.3,616.6h.9v.9h-.9zM306.9,622.1h.9v.9h-.9zM270.6,619.7h.9v.9h-.9zM285.5,620.0h.9v.9h-.9zM277.6,620.1h.9v.9h-.9zM276.2,620.9h.9v.9h-.9zM283.9,615.4h.9v.9h-.9zM274.1,614.9h.9v.9h-.9zM283.0,622.0h.9v.9h-.9zM308.1,618.4h.9v.9h-.9zM261.9,618.3h.9v.9h-.9zM276.9,614.6h.9v.9h-.9zM273.0,619.6h.9v.9h-.9zM276.0,622.0h.9v.9h-.9zM247.8,614.8h.9v.9h-.9zM284.8,619.8h.9v.9h-.9zM244.1,618.2h.9v.9h-.9zM285.1,615.0h.9v.9h-.9zM286.4,619.0h.9v.9h-.9zM282.7,622.0h.9v.9h-.9zM288.3,621.1h.9v.9h-.9zM278.1,621.1h.9v.9h-.9zM272.0,621.5h.9v.9h-.9z" fill="#f8b070" fill-opacity="0.75"/>
<path d="M234.9,626.1h.9v.9h-.9zM300.8,630.5h.9v.9h-.9zM241.7,630.2h.9v.9h-.9zM268.4,626.8h.9v.9h-.9zM237.6,630.9h.9v.9h-.9zM297.4,631.7h.9v.9h-.9zM278.1,629.9h.9v.9h-.9zM268.6,626.3h.9v.9h-.9zM246.5,633.5h.9v.9h-.9zM297.2,629.5h.9v.9h-.9zM274.4,631.3h.9v.9h-.9zM253.6,629.0h.9v.9h-.9zM250.3,626.9h.9v.9h-.9zM280.2,626.1h.9v.9h-.9zM279.9,627.7h.9v.9h-.9zM255.7,626.3h.9v.9h-.9zM294.9,631.8h.9v.9h-.9zM275.1,630.6h.9v.9h-.9zM280.7,629.8h.9v.9h-.9zM274.9,626.6h.9v.9h-.9zM277.7,630.1h.9v.9h-.9zM283.8,629.5h.9v.9h-.9zM272.4,625.8h.9v.9h-.9zM263.2,633.6h.9v.9h-.9zM279.9,626.9h.9v.9h-.9zM254.1,632.0h.9v.9h-.9zM276.5,631.5h.9v.9h-.9zM277.4,629.9h.9v.9h-.9zM292.8,627.6h.9v.9h-.9zM269.0,626.2h.9v.9h-.9zM282.1,629.5h.9v.9h-.9zM295.6,626.2h.9v.9h-.9zM274.8,629.9h.9v.9h-.9zM252.4,627.4h.9v.9h-.9zM258.1,633.1h.9v.9h-.9zM301.9,627.8h.9v.9h-.9zM241.7,628.5h.9v.9h-.9zM271.5,633.3h.9v.9h-.9zM259.7,627.8h.9v.9h-.9zM238.1,632.4h.9v.9h-.9zM239.2,633.2h.9v.9h-.9zM261.5,629.0h.9v.9h-.9zM271.1,632.5h.9v.9h-.9zM257.1,625.7h.9v.9h-.9zM279.5,630.8h.9v.9h-.9zM263.9,632.8h.9v.9h-.9zM271.0,633.4h.9v.9h-.9zM273.9,626.1h.9v.9h-.9zM285.8,626.9h.9v.9h-.9zM301.8,632.2h.9v.9h-.9zM300.3,631.3h.9v.9h-.9zM291.8,632.1h.9v.9h-.9zM281.0,627.0h.9v.9h-.9zM268.3,632.5h.9v.9h-.9zM254.6,633.6h.9v.9h-.9zM263.6,628.2h.9v.9h-.9zM279.5,628.5h.9v.9h-.9zM277.8,629.9h.9v.9h-.9zM265.0,629.3h.9v.9h-.9zM307.9,629.8h.9v.9h-.9zM244.2,626.8h.9v.9h-.9zM290.0,629.1h.9v.9h-.9zM279.2,626.7h.9v.9h-.9zM237.5,630.8h.9v.9h-.9zM267.2,629.0h.9v.9h-.9zM264.7,628.9h.9v.9h-.9zM271.8,627.8h.9v.9h-.9zM306.7,626.7h.9v.9h-.9zM258.9,631.4h.9v.9h-.9zM274.6,628.5h.9v.9h-.9zM255.3,629.1h.9v.9h-.9zM272.0,627.8h.9v.9h-.9zM263.0,631.3h.9v.9h-.9zM270.7,630.1h.9v.9h-.9zM279.8,629.0h.9v.9h-.9zM264.5,626.8h.9v.9h-.9zM265.8,630.9h.9v.9h-.9zM278.8,627.5h.9v.9h-.9zM265.8,626.8h.9v.9h-.9zM274.7,627.6h.9v.9h-.9zM281.4,629.0h.9v.9h-.9zM280.1,629.1h.9v.9h-.9zM269.0,633.2h.9v.9h-.9zM273.9,626.3h.9v.9h-.9zM294.6,628.6h.9v.9h-.9zM271.7,627.6h.9v.9h-.9zM264.8,631.1h.9v.9h-.9zM301.0,633.3h.9v.9h-.9zM300.1,632.3h.9v.9h-.9zM264.8,633.4h.9v.9h-.9zM277.3,630.6h.9v.9h-.9zM270.1,626.8h.9v.9h-.9zM253.5,626.6h.9v.9h-.9zM274.4,632.6h.9v.9h-.9zM272.8,627.8h.9v.9h-.9zM248.9,630.8h.9v.9h-.9zM257.1,626.2h.9v.9h-.9zM270.8,632.1h.9v.9h-.9zM265.8,628.0h.9v.9h-.9zM250.6,630.7h.9v.9h-.9zM264.0,631.3h.9v.9h-.9zM242.2,629.4h.9v.9h-.9zM261.6,630.1h.9v.9h-.9zM271.5,625.9h.9v.9h-.9zM274.7,628.4h.9v.9h-.9zM265.8,633.1h.9v.9h-.9zM260.7,630.4h.9v.9h-.9zM248.3,625.9h.9v.9h-.9zM245.7,630.1h.9v.9h-.9zM262.9,626.9h.9v.9h-.9zM277.0,633.5h.9v.9h-.9zM270.7,625.7h.9v.9h-.9zM310.8,632.5h.9v.9h-.9zM277.4,629.4h.9v.9h-.9zM269.8,626.2h.9v.9h-.9zM249.6,631.2h.9v.9h-.9zM274.8,630.5h.9v.9h-.9zM300.6,628.0h.9v.9h-.9zM262.0,632.8h.9v.9h-.9zM287.5,630.4h.9v.9h-.9zM278.8,633.4h.9v.9h-.9zM257.9,632.2h.9v.9h-.9zM292.8,632.0h.9v.9h-.9zM261.9,632.0h.9v.9h-.9zM272.0,632.6h.9v.9h-.9zM262.7,629.3h.9v.9h-.9zM277.6,626.3h.9v.9h-.9zM250.1,626.7h.9v.9h-.9zM281.6,628.9h.9v.9h-.9zM272.9,633.2h.9v.9h-.9zM272.0,629.3h.9v.9h-.9zM274.9,626.5h.9v.9h-.9zM299.0,631.7h.9v.9h-.9zM259.0,626.4h.9v.9h-.9zM272.2,632.6h.9v.9h-.9zM247.2,631.6h.9v.9h-.9zM267.8,632.5h.9v.9h-.9zM268.5,629.7h.9v.9h-.9zM265.6,628.0h.9v.9h-.9zM261.7,629.0h.9v.9h-.9zM271.1,631.2h.9v.9h-.9zM274.4,629.5h.9v.9h-.9zM279.7,627.9h.9v.9h-.9zM301.1,627.3h.9v.9h-.9zM266.2,626.8h.9v.9h-.9zM270.4,625.9h.9v.9h-.9zM271.6,627.0h.9v.9h-.9zM278.7,629.2h.9v.9h-.9zM273.2,626.5h.9v.9h-.9zM279.5,626.3h.9v.9h-.9z" fill="#a85cb8" fill-opacity="0.75"/>
<path d="M215.5,596.3 C217.33,595.98 223.58,595.27 226.5,594.4 C229.42,593.53 231,592.08 233,591.1 C235,590.12 236.48,588.68 238.5,588.5 C240.52,588.32 242.73,590.3 245.1,590 C247.47,589.7 250.33,588.52 252.7,586.7 C255.07,584.88 257.1,582.2 259.3,579.1 C261.5,576 263.88,570.83 265.9,568.1 C267.92,565.37 269.77,563.23 271.4,562.7 C273.03,562.17 274.27,564.18 275.7,564.9 C277.13,565.62 277.95,566.65 280,567 C282.05,567.35 285.5,565.67 288,567 C290.5,568.33 292.83,572.07 295,575 C297.17,577.93 298.83,581.92 301,584.6 C303.17,587.28 305.5,589.38 308,591.1 C310.5,592.82 313.17,594.03 316,594.9 C318.83,595.77 323.5,596.07 325,596.3 L325,596.3 L215.5,596.3Z" fill="#c18cc7" fill-opacity="0.72"/>
<path d="M215.5,596.3 C217.33,595.98 223.58,595.27 226.5,594.4 C229.42,593.53 231,592.08 233,591.1 C235,590.12 236.48,588.68 238.5,588.5 C240.52,588.32 242.73,590.3 245.1,590 C247.47,589.7 250.33,588.52 252.7,586.7 C255.07,584.88 257.1,582.2 259.3,579.1 C261.5,576 263.88,570.83 265.9,568.1 C267.92,565.37 269.77,563.23 271.4,562.7 C273.03,562.17 274.27,564.18 275.7,564.9 C277.13,565.62 277.95,566.65 280,567 C282.05,567.35 285.5,565.67 288,567 C290.5,568.33 292.83,572.07 295,575 C297.17,577.93 298.83,581.92 301,584.6 C303.17,587.28 305.5,589.38 308,591.1 C310.5,592.82 313.17,594.03 316,594.9 C318.83,595.77 323.5,596.07 325,596.3" fill="none" stroke="#2a2a2a" stroke-width="0.55" stroke-opacity="0.85"/>
<path d="M218,596.3 C220,596.08 226.17,595.72 230,595 C233.83,594.28 237.67,593.17 241,592 C244.33,590.83 247.33,589.5 250,588 C252.67,586.5 254.83,585.17 257,583 C259.17,580.83 261.17,577.67 263,575 C264.83,572.33 266.33,568.67 268,567 C269.67,565.33 271.17,565.08 273,565 C274.83,564.92 276.5,566.17 279,566.5 C281.5,566.83 285.33,565.58 288,567 C290.67,568.42 292.83,572.07 295,575 C297.17,577.93 298.83,581.92 301,584.6 C303.17,587.28 305.5,589.38 308,591.1 C310.5,592.82 313.17,594.03 316,594.9 C318.83,595.77 323.5,596.07 325,596.3 L325,596.3 L218,596.3Z" fill="#fed5ab" fill-opacity="0.72"/>
<path d="M218,596.3 C220,596.08 226.17,595.72 230,595 C233.83,594.28 237.67,593.17 241,592 C244.33,590.83 247.33,589.5 250,588 C252.67,586.5 254.83,585.17 257,583 C259.17,580.83 261.17,577.67 263,575 C264.83,572.33 266.33,568.67 268,567 C269.67,565.33 271.17,565.08 273,565 C274.83,564.92 276.5,566.17 279,566.5 C281.5,566.83 285.33,565.58 288,567 C290.67,568.42 292.83,572.07 295,575 C297.17,577.93 298.83,581.92 301,584.6 C303.17,587.28 305.5,589.38 308,591.1 C310.5,592.82 313.17,594.03 316,594.9 C318.83,595.77 323.5,596.07 325,596.3" fill="none" stroke="#2a2a2a" stroke-width="0.55" stroke-opacity="0.85"/>
<path d="M219.9,596.3 C221.72,596.17 227.15,596.1 230.8,595.5 C234.45,594.9 238.52,593.98 241.8,592.7 C245.08,591.42 247.95,589.33 250.5,587.8 C253.05,586.27 254.9,585.32 257.1,583.5 C259.3,581.68 261.5,579.1 263.7,576.9 C265.9,574.7 268.12,572.12 270.3,570.3 C272.48,568.48 274.8,566.98 276.8,566 C278.8,565.02 280.47,564.33 282.3,564.4 C284.13,564.47 285.8,564.68 287.8,566.4 C289.8,568.12 292.12,571.67 294.3,574.7 C296.48,577.73 298.7,581.87 300.9,584.6 C303.1,587.33 304.95,589.38 307.5,591.1 C310.05,592.82 313.28,594.03 316.2,594.9 C319.12,595.77 323.53,596.07 325,596.3 L325,596.3 L219.9,596.3Z" fill="#fa8072" fill-opacity="0.72"/>
<path d="M219.9,596.3 C221.72,596.17 227.15,596.1 230.8,595.5 C234.45,594.9 238.52,593.98 241.8,592.7 C245.08,591.42 247.95,589.33 250.5,587.8 C253.05,586.27 254.9,585.32 257.1,583.5 C259.3,581.68 261.5,579.1 263.7,576.9 C265.9,574.7 268.12,572.12 270.3,570.3 C272.48,568.48 274.8,566.98 276.8,566 C278.8,565.02 280.47,564.33 282.3,564.4 C284.13,564.47 285.8,564.68 287.8,566.4 C289.8,568.12 292.12,571.67 294.3,574.7 C296.48,577.73 298.7,581.87 300.9,584.6 C303.1,587.33 304.95,589.38 307.5,591.1 C310.05,592.82 313.28,594.03 316.2,594.9 C319.12,595.77 323.53,596.07 325,596.3" fill="none" stroke="#2a2a2a" stroke-width="0.55" stroke-opacity="0.85"/>
<path d="M320,596.1 L333,596.1" stroke="#2a2a2a" stroke-width="0.7"/>
<line x1="237.8" y1="607.3" x2="318.4" y2="607.3" stroke="#6a6a6a" stroke-width="0.6"/>
<rect x="267.7" y="603.7" width="21.8" height="7.2" fill="#fff" fill-opacity="0.3" stroke="#4a4a4a" stroke-width="0.6"/>
<line x1="279" y1="603.7" x2="279" y2="610.9" stroke="#444" stroke-width="0.6"/>
<line x1="198.9" y1="607.3" x2="200.4" y2="607.3" stroke="#5a5a5a" stroke-width="0.6"/>
<line x1="241.5" y1="618.6" x2="314" y2="618.6" stroke="#6a6a6a" stroke-width="0.6"/>
<rect x="269.3" y="615" width="18.9" height="7.2" fill="#fff" fill-opacity="0.3" stroke="#4a4a4a" stroke-width="0.6"/>
<line x1="279" y1="615" x2="279" y2="622.2" stroke="#444" stroke-width="0.6"/>
<line x1="198.9" y1="618.6" x2="200.4" y2="618.6" stroke="#5a5a5a" stroke-width="0.6"/>
<line x1="234.4" y1="629.6" x2="304" y2="629.6" stroke="#6a6a6a" stroke-width="0.6"/>
<rect x="262.5" y="626" width="17.9" height="7.2" fill="#fff" fill-opacity="0.3" stroke="#4a4a4a" stroke-width="0.6"/>
<line x1="271.2" y1="626" x2="271.2" y2="633.2" stroke="#444" stroke-width="0.6"/>
<line x1="198.9" y1="629.6" x2="200.4" y2="629.6" stroke="#5a5a5a" stroke-width="0.6"/>
<path d="M198.9,555.4 L198.9,640.6 L346.6,640.6" fill="none" stroke="#5a5a5a" stroke-width="0.8"/>
<line x1="198.9" y1="562.6" x2="200.4" y2="562.6" stroke="#5a5a5a" stroke-width="0.6"/>
<text x="194.4" y="565.45" font-size="7.9" text-anchor="end" fill="#262626">11</text>
<text x="194.7" y="599.15" font-size="7.9" text-anchor="end" fill="#262626">0</text>
<line x1="229.1" y1="640.6" x2="229.1" y2="639.1" stroke="#5a5a5a" stroke-width="0.6"/>
<text x="229.1" y="652.4" font-size="7.9" text-anchor="middle" fill="#262626">0.2</text>
<line x1="268.8" y1="640.6" x2="268.8" y2="639.1" stroke="#5a5a5a" stroke-width="0.6"/>
<text x="268.8" y="652.4" font-size="7.9" text-anchor="middle" fill="#262626">0.3</text>
<line x1="307.9" y1="640.6" x2="307.9" y2="639.1" stroke="#5a5a5a" stroke-width="0.6"/>
<text x="307.9" y="652.4" font-size="7.9" text-anchor="middle" fill="#262626">0.4</text>
<text x="231.5" y="663.6" font-size="8.3" textLength="86.4" lengthAdjust="spacingAndGlyphs" fill="#262626">Redundancy modularity</text>
<line x1="321.9" y1="616.5" x2="321.9" y2="631.2" stroke="#1a1a1a" stroke-width="1.3"/>
<path d="M328.4,621.5L328.4,626.1M326.41,622.65L330.39,624.95M330.39,622.65L326.41,624.95" stroke="#1a1a1a" stroke-width="0.75" fill="none"/>
<line x1="335.5" y1="606" x2="335.5" y2="631.2" stroke="#1a1a1a" stroke-width="1.3"/>
<path d="M342.1,616.8L342.1,621.4M340.11,617.95L344.09,620.25M344.09,617.95L340.11,620.25" stroke="#1a1a1a" stroke-width="0.75" fill="none"/>
<line x1="364.7" y1="596.3" x2="509.5" y2="596.3" stroke="#9a9a9a" stroke-width="0.9" stroke-dasharray="3.4 3"/>
<path d="M410.2,609.3h.9v.9h-.9zM447.0,608.2h.9v.9h-.9zM408.3,608.9h.9v.9h-.9zM395.0,606.6h.9v.9h-.9zM414.2,610.3h.9v.9h-.9zM436.8,609.4h.9v.9h-.9zM417.4,606.3h.9v.9h-.9zM423.7,608.6h.9v.9h-.9zM422.0,604.6h.9v.9h-.9zM422.2,611.2h.9v.9h-.9zM424.4,603.6h.9v.9h-.9zM455.0,603.6h.9v.9h-.9zM401.1,609.3h.9v.9h-.9zM407.0,606.2h.9v.9h-.9zM414.3,606.1h.9v.9h-.9zM421.4,611.0h.9v.9h-.9zM401.7,610.6h.9v.9h-.9zM425.8,607.5h.9v.9h-.9zM411.1,605.1h.9v.9h-.9zM417.3,605.9h.9v.9h-.9zM426.3,609.9h.9v.9h-.9zM422.2,607.4h.9v.9h-.9zM405.8,608.9h.9v.9h-.9zM419.6,608.0h.9v.9h-.9zM410.7,609.3h.9v.9h-.9zM417.7,607.7h.9v.9h-.9zM411.4,607.1h.9v.9h-.9zM437.1,603.9h.9v.9h-.9zM407.1,608.0h.9v.9h-.9zM408.7,605.2h.9v.9h-.9zM413.5,610.3h.9v.9h-.9zM407.7,607.7h.9v.9h-.9zM424.0,608.3h.9v.9h-.9zM415.3,607.3h.9v.9h-.9zM408.9,610.6h.9v.9h-.9zM395.7,609.8h.9v.9h-.9zM409.9,609.0h.9v.9h-.9zM445.3,603.9h.9v.9h-.9zM406.4,609.7h.9v.9h-.9zM419.7,610.5h.9v.9h-.9zM452.2,611.0h.9v.9h-.9zM436.3,608.7h.9v.9h-.9zM414.9,607.4h.9v.9h-.9zM409.9,610.1h.9v.9h-.9zM434.0,608.8h.9v.9h-.9zM426.3,608.6h.9v.9h-.9zM413.7,611.1h.9v.9h-.9zM414.2,603.9h.9v.9h-.9zM421.7,603.6h.9v.9h-.9zM440.1,610.2h.9v.9h-.9zM424.0,606.3h.9v.9h-.9zM449.5,607.7h.9v.9h-.9zM398.0,603.3h.9v.9h-.9zM406.6,609.9h.9v.9h-.9zM424.5,608.7h.9v.9h-.9zM419.3,605.8h.9v.9h-.9zM395.9,610.0h.9v.9h-.9zM426.8,608.8h.9v.9h-.9zM407.1,605.9h.9v.9h-.9zM425.7,604.4h.9v.9h-.9zM414.4,603.4h.9v.9h-.9zM413.8,604.4h.9v.9h-.9zM399.1,609.3h.9v.9h-.9zM410.5,607.6h.9v.9h-.9zM460.1,606.4h.9v.9h-.9zM455.7,610.9h.9v.9h-.9zM413.3,605.8h.9v.9h-.9zM445.3,608.8h.9v.9h-.9zM425.2,609.1h.9v.9h-.9zM443.3,604.2h.9v.9h-.9zM439.4,609.5h.9v.9h-.9zM395.0,607.1h.9v.9h-.9zM417.2,606.5h.9v.9h-.9zM424.2,608.0h.9v.9h-.9zM408.5,605.5h.9v.9h-.9zM406.8,610.1h.9v.9h-.9zM398.9,606.2h.9v.9h-.9zM444.2,611.1h.9v.9h-.9zM456.2,603.8h.9v.9h-.9zM415.0,603.4h.9v.9h-.9zM414.3,608.8h.9v.9h-.9zM407.0,605.9h.9v.9h-.9zM407.0,604.1h.9v.9h-.9zM445.1,603.6h.9v.9h-.9zM442.9,608.5h.9v.9h-.9zM421.6,604.0h.9v.9h-.9zM424.4,605.1h.9v.9h-.9zM437.4,603.7h.9v.9h-.9zM418.0,604.5h.9v.9h-.9zM432.4,605.2h.9v.9h-.9zM404.2,610.3h.9v.9h-.9zM433.6,608.3h.9v.9h-.9zM423.0,609.5h.9v.9h-.9zM427.4,607.2h.9v.9h-.9zM423.9,605.5h.9v.9h-.9zM404.3,603.3h.9v.9h-.9zM444.6,609.1h.9v.9h-.9zM415.1,608.0h.9v.9h-.9zM419.4,607.4h.9v.9h-.9zM445.2,607.4h.9v.9h-.9zM432.9,604.3h.9v.9h-.9zM411.0,606.1h.9v.9h-.9zM409.3,611.3h.9v.9h-.9zM414.0,608.9h.9v.9h-.9zM401.0,608.3h.9v.9h-.9zM457.1,610.3h.9v.9h-.9zM410.8,604.5h.9v.9h-.9zM416.7,606.1h.9v.9h-.9zM435.8,610.5h.9v.9h-.9zM438.2,604.7h.9v.9h-.9zM404.5,604.9h.9v.9h-.9zM408.1,607.1h.9v.9h-.9zM418.1,606.6h.9v.9h-.9zM418.8,605.9h.9v.9h-.9zM422.0,609.3h.9v.9h-.9zM409.2,605.4h.9v.9h-.9zM400.2,611.0h.9v.9h-.9zM424.8,603.7h.9v.9h-.9zM413.3,611.1h.9v.9h-.9zM416.8,603.9h.9v.9h-.9zM461.7,609.8h.9v.9h-.9zM402.2,605.2h.9v.9h-.9zM416.0,603.9h.9v.9h-.9zM408.1,610.7h.9v.9h-.9zM408.7,611.1h.9v.9h-.9zM407.4,606.4h.9v.9h-.9zM397.2,609.6h.9v.9h-.9zM440.1,606.0h.9v.9h-.9zM406.5,609.1h.9v.9h-.9zM438.0,604.9h.9v.9h-.9zM408.8,610.1h.9v.9h-.9zM400.7,609.1h.9v.9h-.9zM414.2,605.4h.9v.9h-.9zM435.3,608.8h.9v.9h-.9zM405.3,608.4h.9v.9h-.9zM391.8,610.0h.9v.9h-.9zM413.3,607.5h.9v.9h-.9zM447.9,608.5h.9v.9h-.9zM438.3,607.2h.9v.9h-.9zM415.9,606.6h.9v.9h-.9zM412.7,605.1h.9v.9h-.9zM420.1,610.4h.9v.9h-.9zM443.0,604.3h.9v.9h-.9zM436.8,609.5h.9v.9h-.9zM407.9,611.0h.9v.9h-.9zM431.2,606.1h.9v.9h-.9zM416.4,606.5h.9v.9h-.9zM431.9,609.3h.9v.9h-.9zM437.4,604.4h.9v.9h-.9zM459.6,608.1h.9v.9h-.9z" fill="#f05548" fill-opacity="0.75"/>
<path d="M412.1,620.2h.9v.9h-.9zM437.1,616.6h.9v.9h-.9zM442.6,619.7h.9v.9h-.9zM405.8,620.8h.9v.9h-.9zM421.9,618.9h.9v.9h-.9zM418.1,619.9h.9v.9h-.9zM405.2,618.7h.9v.9h-.9zM407.3,621.7h.9v.9h-.9zM419.5,616.3h.9v.9h-.9zM414.4,618.0h.9v.9h-.9zM451.7,619.1h.9v.9h-.9zM459.7,619.9h.9v.9h-.9zM418.1,614.8h.9v.9h-.9zM425.3,615.5h.9v.9h-.9zM420.1,618.8h.9v.9h-.9zM412.4,620.0h.9v.9h-.9zM412.1,618.4h.9v.9h-.9zM428.8,615.0h.9v.9h-.9zM411.8,619.0h.9v.9h-.9zM463.5,615.5h.9v.9h-.9zM420.4,622.4h.9v.9h-.9zM433.7,616.7h.9v.9h-.9zM420.1,617.6h.9v.9h-.9zM405.9,618.0h.9v.9h-.9zM459.4,618.6h.9v.9h-.9zM444.9,620.5h.9v.9h-.9zM423.5,616.2h.9v.9h-.9zM401.9,616.1h.9v.9h-.9zM416.9,620.5h.9v.9h-.9zM426.5,615.3h.9v.9h-.9zM465.4,619.5h.9v.9h-.9zM451.9,618.2h.9v.9h-.9zM402.9,620.8h.9v.9h-.9zM443.0,615.8h.9v.9h-.9zM420.0,619.5h.9v.9h-.9zM410.7,619.1h.9v.9h-.9zM457.8,621.2h.9v.9h-.9zM462.4,618.1h.9v.9h-.9zM419.0,615.6h.9v.9h-.9zM415.5,616.0h.9v.9h-.9zM420.6,621.6h.9v.9h-.9zM449.6,621.8h.9v.9h-.9zM425.3,616.5h.9v.9h-.9zM417.9,621.2h.9v.9h-.9zM422.1,617.3h.9v.9h-.9zM420.4,622.5h.9v.9h-.9zM459.0,622.3h.9v.9h-.9zM460.8,619.1h.9v.9h-.9zM424.9,618.5h.9v.9h-.9zM450.9,619.6h.9v.9h-.9zM430.7,615.6h.9v.9h-.9zM404.4,616.0h.9v.9h-.9zM459.2,615.7h.9v.9h-.9zM411.5,619.5h.9v.9h-.9zM414.4,619.7h.9v.9h-.9zM401.7,620.3h.9v.9h-.9zM427.3,618.0h.9v.9h-.9zM416.9,618.8h.9v.9h-.9zM428.7,617.3h.9v.9h-.9zM444.9,621.0h.9v.9h-.9zM428.0,621.3h.9v.9h-.9zM414.5,614.7h.9v.9h-.9zM425.5,622.2h.9v.9h-.9zM423.0,618.6h.9v.9h-.9zM424.3,618.8h.9v.9h-.9zM426.5,614.9h.9v.9h-.9zM419.2,622.6h.9v.9h-.9zM415.3,620.9h.9v.9h-.9zM427.5,614.8h.9v.9h-.9zM416.1,621.4h.9v.9h-.9zM422.8,621.7h.9v.9h-.9zM463.8,615.0h.9v.9h-.9zM412.8,615.6h.9v.9h-.9zM423.9,619.2h.9v.9h-.9zM415.7,615.1h.9v.9h-.9zM441.8,618.4h.9v.9h-.9zM465.7,616.3h.9v.9h-.9zM413.9,619.6h.9v.9h-.9zM429.0,620.8h.9v.9h-.9zM418.0,619.9h.9v.9h-.9zM403.7,618.5h.9v.9h-.9zM424.1,618.1h.9v.9h-.9zM437.2,622.3h.9v.9h-.9zM433.2,622.4h.9v.9h-.9zM419.3,615.4h.9v.9h-.9zM404.4,622.0h.9v.9h-.9zM436.8,622.2h.9v.9h-.9zM441.3,619.4h.9v.9h-.9zM411.9,620.5h.9v.9h-.9zM407.7,619.1h.9v.9h-.9zM415.2,621.6h.9v.9h-.9zM441.5,621.1h.9v.9h-.9zM418.7,618.1h.9v.9h-.9zM424.7,621.7h.9v.9h-.9zM423.5,616.3h.9v.9h-.9zM423.0,620.8h.9v.9h-.9zM428.7,620.4h.9v.9h-.9zM424.4,621.4h.9v.9h-.9zM427.2,618.1h.9v.9h-.9zM417.4,618.8h.9v.9h-.9zM416.9,615.1h.9v.9h-.9zM439.8,620.2h.9v.9h-.9zM426.2,614.7h.9v.9h-.9zM410.7,619.0h.9v.9h-.9zM413.3,618.8h.9v.9h-.9zM411.1,622.3h.9v.9h-.9zM404.8,619.8h.9v.9h-.9zM430.1,621.3h.9v.9h-.9zM451.9,620.1h.9v.9h-.9zM407.3,621.2h.9v.9h-.9zM427.3,620.9h.9v.9h-.9zM463.3,617.7h.9v.9h-.9zM443.3,615.1h.9v.9h-.9zM431.7,620.3h.9v.9h-.9zM421.6,620.5h.9v.9h-.9zM422.9,621.8h.9v.9h-.9zM420.1,618.5h.9v.9h-.9zM415.6,616.9h.9v.9h-.9zM422.4,615.8h.9v.9h-.9zM460.5,620.4h.9v.9h-.9zM410.9,617.7h.9v.9h-.9zM405.9,622.4h.9v.9h-.9zM425.8,614.8h.9v.9h-.9zM416.6,619.8h.9v.9h-.9zM419.3,616.8h.9v.9h-.9zM438.2,618.7h.9v.9h-.9zM434.7,615.3h.9v.9h-.9zM427.2,620.7h.9v.9h-.9zM420.0,621.4h.9v.9h-.9zM422.4,614.6h.9v.9h-.9zM425.1,618.2h.9v.9h-.9zM421.1,616.4h.9v.9h-.9zM434.9,615.0h.9v.9h-.9zM427.5,616.9h.9v.9h-.9zM421.0,617.6h.9v.9h-.9zM454.2,615.6h.9v.9h-.9zM413.5,618.2h.9v.9h-.9zM422.8,621.7h.9v.9h-.9zM410.9,615.5h.9v.9h-.9zM412.9,618.1h.9v.9h-.9zM423.8,622.3h.9v.9h-.9zM459.7,619.7h.9v.9h-.9zM421.6,621.7h.9v.9h-.9zM408.6,615.9h.9v.9h-.9zM438.7,620.7h.9v.9h-.9zM421.8,614.8h.9v.9h-.9zM444.0,617.2h.9v.9h-.9zM423.9,622.6h.9v.9h-.9zM420.8,617.2h.9v.9h-.9zM453.4,617.5h.9v.9h-.9z" fill="#f8b070" fill-opacity="0.75"/>
<path d="M437.6,629.0h.9v.9h-.9zM425.6,631.4h.9v.9h-.9zM469.5,632.4h.9v.9h-.9zM427.5,632.0h.9v.9h-.9zM473.2,631.2h.9v.9h-.9zM458.3,633.2h.9v.9h-.9zM424.1,625.7h.9v.9h-.9zM422.0,625.6h.9v.9h-.9zM467.5,633.1h.9v.9h-.9zM426.4,631.9h.9v.9h-.9zM442.4,629.5h.9v.9h-.9zM434.7,631.7h.9v.9h-.9zM435.3,632.0h.9v.9h-.9zM429.7,629.5h.9v.9h-.9zM446.5,628.3h.9v.9h-.9zM423.3,631.0h.9v.9h-.9zM435.9,633.1h.9v.9h-.9zM423.6,628.4h.9v.9h-.9zM430.7,625.9h.9v.9h-.9zM458.9,626.1h.9v.9h-.9zM436.0,633.6h.9v.9h-.9zM445.4,631.6h.9v.9h-.9zM422.2,632.4h.9v.9h-.9zM445.6,627.3h.9v.9h-.9zM432.2,628.5h.9v.9h-.9zM428.6,633.4h.9v.9h-.9zM462.0,632.9h.9v.9h-.9zM433.7,628.6h.9v.9h-.9zM435.4,631.5h.9v.9h-.9zM432.0,628.6h.9v.9h-.9zM430.9,630.7h.9v.9h-.9zM467.1,625.6h.9v.9h-.9zM432.9,630.8h.9v.9h-.9zM456.4,628.7h.9v.9h-.9zM468.5,631.4h.9v.9h-.9zM422.5,629.0h.9v.9h-.9zM426.1,628.9h.9v.9h-.9zM403.0,633.5h.9v.9h-.9zM435.1,630.7h.9v.9h-.9zM433.6,632.6h.9v.9h-.9zM428.9,627.4h.9v.9h-.9zM435.1,630.7h.9v.9h-.9zM431.4,627.1h.9v.9h-.9zM426.4,630.2h.9v.9h-.9zM429.6,628.2h.9v.9h-.9zM433.1,628.5h.9v.9h-.9zM447.4,628.6h.9v.9h-.9zM434.9,630.0h.9v.9h-.9zM443.2,630.0h.9v.9h-.9zM399.7,633.3h.9v.9h-.9zM425.3,632.9h.9v.9h-.9zM437.5,625.7h.9v.9h-.9zM425.6,630.2h.9v.9h-.9zM407.6,632.4h.9v.9h-.9zM424.5,625.9h.9v.9h-.9zM424.8,629.8h.9v.9h-.9zM410.2,627.9h.9v.9h-.9zM431.4,628.4h.9v.9h-.9zM408.8,626.0h.9v.9h-.9zM445.7,626.7h.9v.9h-.9zM431.9,626.1h.9v.9h-.9zM443.6,626.9h.9v.9h-.9zM421.1,626.3h.9v.9h-.9zM435.5,632.9h.9v.9h-.9zM440.2,630.3h.9v.9h-.9zM441.3,629.6h.9v.9h-.9zM434.8,628.0h.9v.9h-.9zM432.1,633.3h.9v.9h-.9zM427.7,628.8h.9v.9h-.9zM426.3,631.9h.9v.9h-.9zM428.5,627.9h.9v.9h-.9zM448.9,626.5h.9v.9h-.9zM411.2,630.8h.9v.9h-.9zM413.3,627.4h.9v.9h-.9zM425.9,632.7h.9v.9h-.9zM450.1,628.8h.9v.9h-.9zM412.1,629.3h.9v.9h-.9zM464.7,628.8h.9v.9h-.9zM435.0,628.0h.9v.9h-.9zM402.5,631.1h.9v.9h-.9zM450.7,631.4h.9v.9h-.9zM416.0,627.6h.9v.9h-.9zM402.3,633.1h.9v.9h-.9zM430.9,628.5h.9v.9h-.9zM429.9,631.8h.9v.9h-.9zM421.8,631.1h.9v.9h-.9zM450.1,628.9h.9v.9h-.9zM474.7,628.2h.9v.9h-.9zM436.9,629.2h.9v.9h-.9zM444.5,632.1h.9v.9h-.9zM429.0,629.9h.9v.9h-.9zM400.1,632.1h.9v.9h-.9zM422.9,632.4h.9v.9h-.9zM446.8,631.5h.9v.9h-.9zM458.0,626.0h.9v.9h-.9zM423.0,630.7h.9v.9h-.9zM420.6,626.7h.9v.9h-.9zM429.6,629.2h.9v.9h-.9zM399.9,629.8h.9v.9h-.9zM421.7,626.1h.9v.9h-.9zM427.2,626.9h.9v.9h-.9zM409.6,631.5h.9v.9h-.9zM419.9,626.2h.9v.9h-.9zM464.6,630.8h.9v.9h-.9zM430.2,632.7h.9v.9h-.9zM432.8,632.9h.9v.9h-.9zM453.8,629.1h.9v.9h-.9zM453.8,628.6h.9v.9h-.9zM420.7,627.2h.9v.9h-.9zM436.5,628.1h.9v.9h-.9zM437.3,631.1h.9v.9h-.9zM422.0,628.5h.9v.9h-.9zM436.8,629.0h.9v.9h-.9zM467.0,626.0h.9v.9h-.9zM403.9,631.9h.9v.9h-.9zM417.4,632.3h.9v.9h-.9zM437.4,630.1h.9v.9h-.9zM459.0,628.6h.9v.9h-.9zM446.0,630.8h.9v.9h-.9zM432.2,631.7h.9v.9h-.9zM421.8,626.1h.9v.9h-.9zM405.9,632.4h.9v.9h-.9zM437.6,631.5h.9v.9h-.9zM423.3,629.0h.9v.9h-.9zM454.6,632.7h.9v.9h-.9zM420.5,630.9h.9v.9h-.9zM440.8,632.0h.9v.9h-.9zM439.4,632.2h.9v.9h-.9zM436.8,630.9h.9v.9h-.9zM423.1,630.7h.9v.9h-.9zM436.6,627.8h.9v.9h-.9zM431.5,633.1h.9v.9h-.9zM435.8,631.4h.9v.9h-.9zM460.0,632.7h.9v.9h-.9zM434.2,626.0h.9v.9h-.9zM431.6,626.5h.9v.9h-.9zM421.4,628.7h.9v.9h-.9zM453.2,631.6h.9v.9h-.9zM429.5,633.5h.9v.9h-.9zM438.2,626.2h.9v.9h-.9zM402.0,626.5h.9v.9h-.9zM411.7,631.6h.9v.9h-.9zM409.7,632.9h.9v.9h-.9zM472.0,633.5h.9v.9h-.9zM429.6,632.2h.9v.9h-.9zM443.9,626.3h.9v.9h-.9zM432.5,628.5h.9v.9h-.9zM428.1,626.7h.9v.9h-.9zM405.5,631.4h.9v.9h-.9zM436.6,626.5h.9v.9h-.9z" fill="#a85cb8" fill-opacity="0.75"/>
<path d="M385,596.3 C386.67,595.58 391.67,594.38 395,592 C398.33,589.62 402.17,585.33 405,582 C407.83,578.67 410,574.5 412,572 C414,569.5 415.52,568.08 417,567 C418.48,565.92 419.52,566.3 420.9,565.5 C422.28,564.7 423.83,561.95 425.3,562.2 C426.77,562.45 427.87,564.18 429.7,567 C431.53,569.82 434.12,575.98 436.3,579.1 C438.48,582.22 440.25,584.07 442.8,585.7 C445.35,587.33 449.03,588 451.6,588.9 C454.17,589.8 456.02,590.18 458.2,591.1 C460.38,592.02 462.52,593.63 464.7,594.4 C466.88,595.17 469.08,595.38 471.3,595.7 C473.52,596.02 476.88,596.2 478,596.3 L478,596.3 L385,596.3Z" fill="#c18cc7" fill-opacity="0.72"/>
<path d="M385,596.3 C386.67,595.58 391.67,594.38 395,592 C398.33,589.62 402.17,585.33 405,582 C407.83,578.67 410,574.5 412,572 C414,569.5 415.52,568.08 417,567 C418.48,565.92 419.52,566.3 420.9,565.5 C422.28,564.7 423.83,561.95 425.3,562.2 C426.77,562.45 427.87,564.18 429.7,567 C431.53,569.82 434.12,575.98 436.3,579.1 C438.48,582.22 440.25,584.07 442.8,585.7 C445.35,587.33 449.03,588 451.6,588.9 C454.17,589.8 456.02,590.18 458.2,591.1 C460.38,592.02 462.52,593.63 464.7,594.4 C466.88,595.17 469.08,595.38 471.3,595.7 C473.52,596.02 476.88,596.2 478,596.3" fill="none" stroke="#2a2a2a" stroke-width="0.55" stroke-opacity="0.85"/>
<path d="M383,596.3 C384.5,595.58 389.17,594.72 392,592 C394.83,589.28 398,583.33 400,580 C402,576.67 402.7,574.17 404,572 C405.3,569.83 406.15,568.27 407.8,567 C409.45,565.73 411.9,564.4 413.9,564.4 C415.9,564.4 417.53,564.73 419.8,567 C422.07,569.27 425.48,575.43 427.5,578 C429.52,580.57 429.82,580.98 431.9,582.4 C433.98,583.82 437.15,585.23 440,586.5 C442.85,587.77 446.33,588.67 449,590 C451.67,591.33 453.83,593.45 456,594.5 C458.17,595.55 461,596 462,596.3 L462,596.3 L383,596.3Z" fill="#fed5ab" fill-opacity="0.72"/>
<path d="M383,596.3 C384.5,595.58 389.17,594.72 392,592 C394.83,589.28 398,583.33 400,580 C402,576.67 402.7,574.17 404,572 C405.3,569.83 406.15,568.27 407.8,567 C409.45,565.73 411.9,564.4 413.9,564.4 C415.9,564.4 417.53,564.73 419.8,567 C422.07,569.27 425.48,575.43 427.5,578 C429.52,580.57 429.82,580.98 431.9,582.4 C433.98,583.82 437.15,585.23 440,586.5 C442.85,587.77 446.33,588.67 449,590 C451.67,591.33 453.83,593.45 456,594.5 C458.17,595.55 461,596 462,596.3" fill="none" stroke="#2a2a2a" stroke-width="0.55" stroke-opacity="0.85"/>
<path d="M381.5,596.3 C382.6,595.8 385.9,595.8 388.1,593.3 C390.3,590.8 392.7,585.13 394.7,581.3 C396.7,577.47 398.1,572.93 400.1,570.3 C402.1,567.67 404.87,566.05 406.7,565.5 C408.53,564.95 409.45,565.65 411.1,567 C412.75,568.35 414.6,571.4 416.6,573.6 C418.6,575.8 420.55,578.63 423.1,580.2 C425.65,581.77 428.98,581.92 431.9,583 C434.82,584.08 437.68,585.35 440.6,586.7 C443.52,588.05 446.83,589.73 449.4,591.1 C451.97,592.47 454.18,594.03 456,594.9 C457.82,595.77 459.58,596.07 460.3,596.3 L460.3,596.3 L381.5,596.3Z" fill="#fa8072" fill-opacity="0.72"/>
<path d="M381.5,596.3 C382.6,595.8 385.9,595.8 388.1,593.3 C390.3,590.8 392.7,585.13 394.7,581.3 C396.7,577.47 398.1,572.93 400.1,570.3 C402.1,567.67 404.87,566.05 406.7,565.5 C408.53,564.95 409.45,565.65 411.1,567 C412.75,568.35 414.6,571.4 416.6,573.6 C418.6,575.8 420.55,578.63 423.1,580.2 C425.65,581.77 428.98,581.92 431.9,583 C434.82,584.08 437.68,585.35 440.6,586.7 C443.52,588.05 446.83,589.73 449.4,591.1 C451.97,592.47 454.18,594.03 456,594.9 C457.82,595.77 459.58,596.07 460.3,596.3" fill="none" stroke="#2a2a2a" stroke-width="0.55" stroke-opacity="0.85"/>
<path d="M470,596.1 L492,596.1" stroke="#2a2a2a" stroke-width="0.7"/>
<line x1="391.2" y1="607.3" x2="452.5" y2="607.3" stroke="#6a6a6a" stroke-width="0.6"/>
<rect x="404.4" y="603.7" width="21" height="7.2" fill="#fff" fill-opacity="0.3" stroke="#4a4a4a" stroke-width="0.6"/>
<line x1="412.3" y1="603.7" x2="412.3" y2="610.9" stroke="#444" stroke-width="0.6"/>
<line x1="364.2" y1="607.3" x2="365.7" y2="607.3" stroke="#5a5a5a" stroke-width="0.6"/>
<line x1="401" y1="618.6" x2="455.1" y2="618.6" stroke="#6a6a6a" stroke-width="0.6"/>
<rect x="410.4" y="615" width="18.4" height="7.2" fill="#fff" fill-opacity="0.3" stroke="#4a4a4a" stroke-width="0.6"/>
<line x1="418.3" y1="615" x2="418.3" y2="622.2" stroke="#444" stroke-width="0.6"/>
<line x1="364.2" y1="618.6" x2="365.7" y2="618.6" stroke="#5a5a5a" stroke-width="0.6"/>
<line x1="399.1" y1="629.6" x2="463.5" y2="629.6" stroke="#6a6a6a" stroke-width="0.6"/>
<rect x="420.1" y="626" width="17.6" height="7.2" fill="#fff" fill-opacity="0.3" stroke="#4a4a4a" stroke-width="0.6"/>
<line x1="428" y1="626" x2="428" y2="633.2" stroke="#444" stroke-width="0.6"/>
<line x1="364.2" y1="629.6" x2="365.7" y2="629.6" stroke="#5a5a5a" stroke-width="0.6"/>
<path d="M364.2,555.4 L364.2,640.6 L512.1,640.6" fill="none" stroke="#5a5a5a" stroke-width="0.8"/>
<line x1="364.2" y1="562.6" x2="365.7" y2="562.6" stroke="#5a5a5a" stroke-width="0.6"/>
<text x="359.9" y="565.45" font-size="7.9" text-anchor="end" fill="#262626">13</text>
<text x="360.2" y="599.15" font-size="7.9" text-anchor="end" fill="#262626">0</text>
<line x1="372.8" y1="640.6" x2="372.8" y2="639.1" stroke="#5a5a5a" stroke-width="0.6"/>
<text x="372.8" y="652.4" font-size="7.9" text-anchor="middle" fill="#262626">0.2</text>
<line x1="413" y1="640.6" x2="413" y2="639.1" stroke="#5a5a5a" stroke-width="0.6"/>
<text x="413" y="652.4" font-size="7.9" text-anchor="middle" fill="#262626">0.3</text>
<line x1="453" y1="640.6" x2="453" y2="639.1" stroke="#5a5a5a" stroke-width="0.6"/>
<text x="453" y="652.4" font-size="7.9" text-anchor="middle" fill="#262626">0.4</text>
<line x1="492.4" y1="640.6" x2="492.4" y2="639.1" stroke="#5a5a5a" stroke-width="0.6"/>
<text x="492.4" y="652.4" font-size="7.9" text-anchor="middle" fill="#262626">0.5</text>
<text x="406.8" y="663.6" font-size="8.3" textLength="64.8" lengthAdjust="spacingAndGlyphs" fill="#262626">Synergy efficiency</text>
<line x1="477.2" y1="606" x2="477.2" y2="619.9" stroke="#1a1a1a" stroke-width="1.3"/>
<path d="M483.7,610.5L483.7,615.1M481.71,611.65L485.69,613.95M485.69,611.65L481.71,613.95" stroke="#1a1a1a" stroke-width="0.75" fill="none"/>
<line x1="490.5" y1="617.3" x2="490.5" y2="631.2" stroke="#1a1a1a" stroke-width="1.3"/>
<path d="M496.9,621.5L496.9,626.1M494.91,622.65L498.89,624.95M498.89,622.65L494.91,624.95" stroke="#1a1a1a" stroke-width="0.75" fill="none"/>
<line x1="504.2" y1="606" x2="504.2" y2="631.2" stroke="#1a1a1a" stroke-width="1.3"/>
<path d="M510.3,616.8L510.3,621.4M508.31,617.95L512.29,620.25M512.29,617.95L508.31,620.25" stroke="#1a1a1a" stroke-width="0.75" fill="none"/>
<line x1="530.5" y1="596.3" x2="675.5" y2="596.3" stroke="#9a9a9a" stroke-width="0.9" stroke-dasharray="3.4 3"/>
<path d="M591.2,604.9h.9v.9h-.9zM583.8,608.2h.9v.9h-.9zM579.0,610.0h.9v.9h-.9zM559.7,606.0h.9v.9h-.9zM544.7,607.1h.9v.9h-.9zM574.4,603.3h.9v.9h-.9zM586.4,606.9h.9v.9h-.9zM578.5,603.7h.9v.9h-.9zM586.1,609.4h.9v.9h-.9zM575.8,603.9h.9v.9h-.9zM579.9,609.3h.9v.9h-.9zM607.3,611.3h.9v.9h-.9zM543.9,604.4h.9v.9h-.9zM550.8,610.5h.9v.9h-.9zM570.5,611.3h.9v.9h-.9zM580.6,608.1h.9v.9h-.9zM576.2,606.3h.9v.9h-.9zM602.1,608.9h.9v.9h-.9zM578.7,610.6h.9v.9h-.9zM576.4,608.2h.9v.9h-.9zM619.7,608.8h.9v.9h-.9zM582.2,610.0h.9v.9h-.9zM581.5,605.8h.9v.9h-.9zM596.8,606.6h.9v.9h-.9zM584.8,608.9h.9v.9h-.9zM599.3,610.9h.9v.9h-.9zM583.3,609.8h.9v.9h-.9zM587.6,605.8h.9v.9h-.9zM628.5,611.1h.9v.9h-.9zM602.1,606.3h.9v.9h-.9zM586.8,609.7h.9v.9h-.9zM587.6,605.0h.9v.9h-.9zM551.9,604.7h.9v.9h-.9zM570.4,607.9h.9v.9h-.9zM571.7,609.7h.9v.9h-.9zM594.3,604.0h.9v.9h-.9zM569.8,604.6h.9v.9h-.9zM551.2,608.1h.9v.9h-.9zM583.0,610.3h.9v.9h-.9zM616.5,611.0h.9v.9h-.9zM589.4,609.4h.9v.9h-.9zM576.0,607.5h.9v.9h-.9zM548.3,610.4h.9v.9h-.9zM587.2,606.6h.9v.9h-.9zM577.6,609.0h.9v.9h-.9zM583.8,610.3h.9v.9h-.9zM569.8,610.8h.9v.9h-.9zM585.8,606.5h.9v.9h-.9zM569.6,606.7h.9v.9h-.9zM544.8,603.4h.9v.9h-.9zM587.2,609.3h.9v.9h-.9zM577.5,606.6h.9v.9h-.9zM563.0,606.1h.9v.9h-.9zM559.2,606.7h.9v.9h-.9zM580.3,603.7h.9v.9h-.9zM580.9,605.2h.9v.9h-.9zM580.7,606.2h.9v.9h-.9zM587.1,603.8h.9v.9h-.9zM548.0,607.7h.9v.9h-.9zM572.8,608.3h.9v.9h-.9zM565.6,603.8h.9v.9h-.9zM587.1,608.1h.9v.9h-.9zM571.2,605.9h.9v.9h-.9zM585.3,610.6h.9v.9h-.9zM576.3,608.8h.9v.9h-.9zM577.3,609.6h.9v.9h-.9zM582.3,605.9h.9v.9h-.9zM563.9,604.8h.9v.9h-.9zM584.0,609.0h.9v.9h-.9zM573.1,603.8h.9v.9h-.9zM560.7,609.0h.9v.9h-.9zM575.5,603.5h.9v.9h-.9zM584.5,607.0h.9v.9h-.9zM604.1,607.6h.9v.9h-.9zM619.3,606.5h.9v.9h-.9zM544.7,610.3h.9v.9h-.9zM581.1,605.5h.9v.9h-.9zM578.8,605.6h.9v.9h-.9zM582.9,608.3h.9v.9h-.9zM589.1,604.2h.9v.9h-.9zM575.1,606.2h.9v.9h-.9zM611.7,604.1h.9v.9h-.9zM589.7,605.4h.9v.9h-.9zM578.4,610.4h.9v.9h-.9zM578.3,603.9h.9v.9h-.9zM585.9,606.8h.9v.9h-.9zM582.3,603.6h.9v.9h-.9zM594.5,604.2h.9v.9h-.9zM586.7,605.4h.9v.9h-.9zM567.7,607.7h.9v.9h-.9zM576.4,610.7h.9v.9h-.9zM619.2,606.0h.9v.9h-.9zM569.3,610.2h.9v.9h-.9zM583.1,604.7h.9v.9h-.9zM561.8,610.6h.9v.9h-.9zM588.6,607.8h.9v.9h-.9zM580.5,610.7h.9v.9h-.9zM605.5,607.8h.9v.9h-.9zM551.5,610.0h.9v.9h-.9zM591.6,605.7h.9v.9h-.9zM582.0,605.9h.9v.9h-.9zM631.5,608.7h.9v.9h-.9zM595.4,606.4h.9v.9h-.9zM633.6,608.7h.9v.9h-.9zM579.5,603.7h.9v.9h-.9zM606.0,608.1h.9v.9h-.9zM603.8,603.5h.9v.9h-.9zM574.5,608.2h.9v.9h-.9zM581.7,610.5h.9v.9h-.9zM571.7,603.4h.9v.9h-.9zM577.4,606.8h.9v.9h-.9zM571.5,603.3h.9v.9h-.9zM544.2,605.9h.9v.9h-.9zM585.7,605.1h.9v.9h-.9zM590.9,611.2h.9v.9h-.9zM575.4,604.1h.9v.9h-.9zM573.7,603.5h.9v.9h-.9zM562.2,609.3h.9v.9h-.9zM603.2,603.5h.9v.9h-.9zM607.6,608.4h.9v.9h-.9zM574.0,609.9h.9v.9h-.9zM568.2,607.3h.9v.9h-.9zM555.3,608.7h.9v.9h-.9zM592.0,603.4h.9v.9h-.9zM584.9,604.3h.9v.9h-.9zM594.3,607.6h.9v.9h-.9zM569.7,608.9h.9v.9h-.9zM581.5,607.5h.9v.9h-.9zM549.3,611.1h.9v.9h-.9zM609.3,604.8h.9v.9h-.9zM570.3,608.9h.9v.9h-.9zM572.7,610.9h.9v.9h-.9zM578.8,609.0h.9v.9h-.9zM587.5,606.0h.9v.9h-.9zM551.9,604.3h.9v.9h-.9zM559.5,606.8h.9v.9h-.9zM584.0,609.2h.9v.9h-.9zM551.1,603.7h.9v.9h-.9zM546.9,609.0h.9v.9h-.9zM614.0,609.8h.9v.9h-.9zM605.7,607.4h.9v.9h-.9zM570.6,608.9h.9v.9h-.9zM590.3,607.4h.9v.9h-.9zM612.9,606.3h.9v.9h-.9zM588.6,609.4h.9v.9h-.9zM618.2,606.8h.9v.9h-.9zM579.4,607.2h.9v.9h-.9zM585.3,605.3h.9v.9h-.9zM622.6,605.6h.9v.9h-.9zM558.9,609.1h.9v.9h-.9z" fill="#f05548" fill-opacity="0.75"/>
<path d="M570.4,618.4h.9v.9h-.9zM577.6,622.1h.9v.9h-.9zM552.0,614.8h.9v.9h-.9zM576.2,619.0h.9v.9h-.9zM615.6,620.1h.9v.9h-.9zM570.3,615.1h.9v.9h-.9zM576.4,617.1h.9v.9h-.9zM572.7,621.8h.9v.9h-.9zM549.0,618.1h.9v.9h-.9zM577.4,617.9h.9v.9h-.9zM578.6,617.0h.9v.9h-.9zM580.4,617.1h.9v.9h-.9zM582.0,617.3h.9v.9h-.9zM568.1,621.2h.9v.9h-.9zM586.8,619.2h.9v.9h-.9zM566.2,615.8h.9v.9h-.9zM569.0,614.7h.9v.9h-.9zM574.4,618.4h.9v.9h-.9zM546.4,615.6h.9v.9h-.9zM544.8,621.6h.9v.9h-.9zM601.5,621.5h.9v.9h-.9zM569.3,618.1h.9v.9h-.9zM570.6,620.4h.9v.9h-.9zM612.7,618.7h.9v.9h-.9zM572.5,619.2h.9v.9h-.9zM579.6,622.5h.9v.9h-.9zM576.5,615.4h.9v.9h-.9zM599.2,616.5h.9v.9h-.9zM557.9,620.3h.9v.9h-.9zM573.7,620.8h.9v.9h-.9zM577.9,618.8h.9v.9h-.9zM568.6,619.0h.9v.9h-.9zM553.2,615.2h.9v.9h-.9zM574.3,617.8h.9v.9h-.9zM586.8,617.5h.9v.9h-.9zM551.2,619.5h.9v.9h-.9zM556.8,619.9h.9v.9h-.9zM580.2,619.0h.9v.9h-.9zM583.2,616.3h.9v.9h-.9zM579.9,617.6h.9v.9h-.9zM588.8,620.0h.9v.9h-.9zM580.1,621.9h.9v.9h-.9zM579.4,622.5h.9v.9h-.9zM566.6,616.6h.9v.9h-.9zM551.1,616.5h.9v.9h-.9zM543.4,619.5h.9v.9h-.9zM575.7,616.7h.9v.9h-.9zM555.3,614.7h.9v.9h-.9zM564.7,617.0h.9v.9h-.9zM565.0,618.9h.9v.9h-.9zM570.5,621.6h.9v.9h-.9zM592.4,621.9h.9v.9h-.9zM564.2,615.6h.9v.9h-.9zM575.7,617.6h.9v.9h-.9zM555.8,619.5h.9v.9h-.9zM565.7,620.8h.9v.9h-.9zM577.2,620.7h.9v.9h-.9zM571.2,616.2h.9v.9h-.9zM575.4,617.6h.9v.9h-.9zM564.8,616.7h.9v.9h-.9zM576.6,618.1h.9v.9h-.9zM578.5,615.8h.9v.9h-.9zM566.0,619.1h.9v.9h-.9zM544.2,622.0h.9v.9h-.9zM593.2,618.0h.9v.9h-.9zM564.9,616.7h.9v.9h-.9zM559.7,621.8h.9v.9h-.9zM598.6,615.7h.9v.9h-.9zM577.8,617.1h.9v.9h-.9zM563.7,618.9h.9v.9h-.9zM555.3,616.7h.9v.9h-.9zM552.9,620.9h.9v.9h-.9zM568.0,615.6h.9v.9h-.9zM560.4,615.4h.9v.9h-.9zM576.5,616.8h.9v.9h-.9zM575.9,621.9h.9v.9h-.9zM573.5,616.4h.9v.9h-.9zM577.8,617.0h.9v.9h-.9zM575.5,614.9h.9v.9h-.9zM570.5,615.8h.9v.9h-.9zM578.6,619.6h.9v.9h-.9zM579.5,620.8h.9v.9h-.9zM578.5,622.0h.9v.9h-.9zM592.9,619.0h.9v.9h-.9zM566.1,618.4h.9v.9h-.9zM590.9,621.8h.9v.9h-.9zM600.1,617.6h.9v.9h-.9zM570.7,618.9h.9v.9h-.9zM556.6,614.8h.9v.9h-.9zM554.0,621.4h.9v.9h-.9zM550.6,618.8h.9v.9h-.9zM556.0,622.2h.9v.9h-.9zM565.9,619.4h.9v.9h-.9zM579.2,622.0h.9v.9h-.9zM564.1,618.9h.9v.9h-.9zM570.2,617.8h.9v.9h-.9zM559.8,620.1h.9v.9h-.9zM559.7,621.9h.9v.9h-.9zM568.5,616.1h.9v.9h-.9zM584.7,617.5h.9v.9h-.9zM573.7,617.3h.9v.9h-.9zM582.4,614.6h.9v.9h-.9zM577.5,621.5h.9v.9h-.9zM567.2,618.0h.9v.9h-.9zM561.2,622.3h.9v.9h-.9zM579.1,615.1h.9v.9h-.9zM601.8,620.4h.9v.9h-.9zM563.8,622.2h.9v.9h-.9zM559.1,620.8h.9v.9h-.9zM555.4,617.7h.9v.9h-.9zM577.4,621.9h.9v.9h-.9zM571.1,615.9h.9v.9h-.9zM578.5,616.7h.9v.9h-.9zM591.4,619.2h.9v.9h-.9zM563.3,615.5h.9v.9h-.9zM601.0,622.3h.9v.9h-.9zM579.6,618.1h.9v.9h-.9zM579.1,621.2h.9v.9h-.9zM559.8,615.5h.9v.9h-.9zM567.9,616.1h.9v.9h-.9zM561.6,616.3h.9v.9h-.9zM564.9,614.6h.9v.9h-.9zM572.9,614.8h.9v.9h-.9zM543.9,618.4h.9v.9h-.9zM575.3,616.3h.9v.9h-.9zM601.8,621.1h.9v.9h-.9zM601.8,617.5h.9v.9h-.9zM567.6,620.9h.9v.9h-.9zM567.2,618.2h.9v.9h-.9zM602.9,617.3h.9v.9h-.9zM570.0,621.6h.9v.9h-.9zM572.3,619.4h.9v.9h-.9zM562.3,619.5h.9v.9h-.9zM615.4,619.1h.9v.9h-.9zM574.6,620.4h.9v.9h-.9zM583.6,617.7h.9v.9h-.9zM563.8,616.5h.9v.9h-.9zM572.9,616.0h.9v.9h-.9zM568.5,617.6h.9v.9h-.9zM580.3,618.8h.9v.9h-.9zM566.8,619.0h.9v.9h-.9zM574.3,618.7h.9v.9h-.9zM566.5,616.3h.9v.9h-.9zM568.3,614.9h.9v.9h-.9zM573.3,615.5h.9v.9h-.9zM569.9,619.6h.9v.9h-.9zM577.1,620.0h.9v.9h-.9zM572.8,616.7h.9v.9h-.9zM565.0,616.4h.9v.9h-.9zM580.5,615.6h.9v.9h-.9z" fill="#f8b070" fill-opacity="0.75"/>
<path d="M587.3,626.0h.9v.9h-.9zM577.7,631.0h.9v.9h-.9zM615.6,628.1h.9v.9h-.9zM573.5,625.6h.9v.9h-.9zM581.3,632.8h.9v.9h-.9zM574.5,632.7h.9v.9h-.9zM573.9,626.2h.9v.9h-.9zM573.6,630.5h.9v.9h-.9zM579.1,632.1h.9v.9h-.9zM574.9,628.9h.9v.9h-.9zM598.3,631.0h.9v.9h-.9zM575.9,630.6h.9v.9h-.9zM612.4,629.8h.9v.9h-.9zM593.2,629.5h.9v.9h-.9zM593.1,630.4h.9v.9h-.9zM621.9,629.6h.9v.9h-.9zM629.3,630.0h.9v.9h-.9zM572.8,628.9h.9v.9h-.9zM577.7,627.6h.9v.9h-.9zM586.6,626.4h.9v.9h-.9zM596.5,627.2h.9v.9h-.9zM570.1,629.4h.9v.9h-.9zM574.8,630.3h.9v.9h-.9zM548.1,626.0h.9v.9h-.9zM612.0,631.2h.9v.9h-.9zM574.4,626.7h.9v.9h-.9zM600.4,628.7h.9v.9h-.9zM574.7,631.3h.9v.9h-.9zM574.0,632.7h.9v.9h-.9zM569.9,627.2h.9v.9h-.9zM596.1,626.3h.9v.9h-.9zM577.0,629.5h.9v.9h-.9zM587.1,629.8h.9v.9h-.9zM570.0,630.2h.9v.9h-.9zM597.1,632.5h.9v.9h-.9zM593.2,626.1h.9v.9h-.9zM580.6,628.9h.9v.9h-.9zM570.7,632.5h.9v.9h-.9zM566.6,629.4h.9v.9h-.9zM555.4,630.6h.9v.9h-.9zM586.8,632.0h.9v.9h-.9zM572.7,629.7h.9v.9h-.9zM576.1,633.2h.9v.9h-.9zM631.9,632.9h.9v.9h-.9zM592.8,632.9h.9v.9h-.9zM587.0,632.0h.9v.9h-.9zM576.3,631.1h.9v.9h-.9zM574.3,627.1h.9v.9h-.9zM586.8,633.6h.9v.9h-.9zM581.5,631.6h.9v.9h-.9zM576.9,629.8h.9v.9h-.9zM574.0,628.4h.9v.9h-.9zM582.1,627.5h.9v.9h-.9zM586.2,631.9h.9v.9h-.9zM601.5,627.2h.9v.9h-.9zM605.4,632.1h.9v.9h-.9zM578.7,630.3h.9v.9h-.9zM574.1,631.5h.9v.9h-.9zM577.4,630.2h.9v.9h-.9zM570.0,626.3h.9v.9h-.9zM601.0,629.1h.9v.9h-.9zM605.0,631.1h.9v.9h-.9zM615.1,625.9h.9v.9h-.9zM577.7,631.8h.9v.9h-.9zM552.1,630.3h.9v.9h-.9zM583.4,628.3h.9v.9h-.9zM574.6,632.1h.9v.9h-.9zM566.6,631.5h.9v.9h-.9zM584.8,630.4h.9v.9h-.9zM589.6,633.5h.9v.9h-.9zM578.6,630.3h.9v.9h-.9zM565.6,628.0h.9v.9h-.9zM604.3,633.3h.9v.9h-.9zM581.5,628.8h.9v.9h-.9zM592.0,633.1h.9v.9h-.9zM572.8,627.8h.9v.9h-.9zM584.4,629.0h.9v.9h-.9zM570.4,629.6h.9v.9h-.9zM565.0,631.5h.9v.9h-.9zM592.8,630.4h.9v.9h-.9zM582.4,630.3h.9v.9h-.9zM625.0,628.4h.9v.9h-.9zM590.2,628.3h.9v.9h-.9zM556.0,627.1h.9v.9h-.9zM578.5,632.0h.9v.9h-.9zM578.4,627.5h.9v.9h-.9zM588.3,628.7h.9v.9h-.9zM573.5,627.3h.9v.9h-.9zM567.6,626.4h.9v.9h-.9zM578.1,633.5h.9v.9h-.9zM577.1,633.4h.9v.9h-.9zM578.2,628.8h.9v.9h-.9zM572.3,629.4h.9v.9h-.9zM552.6,629.4h.9v.9h-.9zM581.0,628.4h.9v.9h-.9zM601.7,628.8h.9v.9h-.9zM570.9,627.3h.9v.9h-.9zM603.5,626.7h.9v.9h-.9zM630.8,628.5h.9v.9h-.9zM593.7,628.2h.9v.9h-.9zM583.3,629.5h.9v.9h-.9zM580.2,626.5h.9v.9h-.9zM566.3,626.9h.9v.9h-.9zM595.9,629.8h.9v.9h-.9zM593.5,629.0h.9v.9h-.9zM620.6,625.7h.9v.9h-.9zM595.4,628.7h.9v.9h-.9zM576.0,627.5h.9v.9h-.9zM607.6,627.8h.9v.9h-.9zM578.3,626.7h.9v.9h-.9zM583.5,633.5h.9v.9h-.9zM610.5,627.7h.9v.9h-.9zM585.0,626.5h.9v.9h-.9zM557.6,631.2h.9v.9h-.9zM571.1,632.5h.9v.9h-.9zM577.6,633.4h.9v.9h-.9zM561.3,631.2h.9v.9h-.9zM578.3,628.1h.9v.9h-.9zM575.2,627.8h.9v.9h-.9zM586.2,628.6h.9v.9h-.9zM603.8,631.0h.9v.9h-.9zM587.7,633.1h.9v.9h-.9zM568.8,632.2h.9v.9h-.9zM547.2,628.6h.9v.9h-.9zM584.4,633.2h.9v.9h-.9zM605.6,633.4h.9v.9h-.9zM586.8,625.6h.9v.9h-.9zM551.3,629.6h.9v.9h-.9zM570.8,630.7h.9v.9h-.9zM561.1,627.6h.9v.9h-.9zM583.3,625.7h.9v.9h-.9zM587.5,627.8h.9v.9h-.9zM578.1,632.7h.9v.9h-.9zM572.9,630.9h.9v.9h-.9zM570.6,628.6h.9v.9h-.9zM555.1,625.9h.9v.9h-.9zM558.4,626.0h.9v.9h-.9zM570.9,627.9h.9v.9h-.9zM592.6,627.9h.9v.9h-.9zM569.0,630.2h.9v.9h-.9zM581.4,625.6h.9v.9h-.9zM560.1,630.0h.9v.9h-.9zM577.9,627.7h.9v.9h-.9zM601.5,632.4h.9v.9h-.9zM624.1,630.0h.9v.9h-.9zM574.9,629.7h.9v.9h-.9zM618.3,631.6h.9v.9h-.9zM580.9,627.7h.9v.9h-.9zM580.9,628.1h.9v.9h-.9zM569.5,626.4h.9v.9h-.9z" fill="#a85cb8" fill-opacity="0.75"/>
<path d="M545,596.3 C546.83,595.58 553,594.22 556,592 C559,589.78 561,586.33 563,583 C565,579.67 566.5,574.67 568,572 C569.5,569.33 570.67,566.55 572,567 C573.33,567.45 574.6,572.87 576,574.7 C577.4,576.53 578.95,576.35 580.4,578 C581.85,579.65 582.88,582.78 584.7,584.6 C586.52,586.42 588.73,588 591.3,588.9 C593.87,589.8 596.65,589.4 600.1,590 C603.55,590.6 607.85,591.75 612,592.5 C616.15,593.25 620.33,594 625,594.5 C629.67,595 635,595.2 640,595.5 C645,595.8 652.5,596.17 655,596.3 L655,596.3 L545,596.3Z" fill="#c18cc7" fill-opacity="0.72"/>
<path d="M545,596.3 C546.83,595.58 553,594.22 556,592 C559,589.78 561,586.33 563,583 C565,579.67 566.5,574.67 568,572 C569.5,569.33 570.67,566.55 572,567 C573.33,567.45 574.6,572.87 576,574.7 C577.4,576.53 578.95,576.35 580.4,578 C581.85,579.65 582.88,582.78 584.7,584.6 C586.52,586.42 588.73,588 591.3,588.9 C593.87,589.8 596.65,589.4 600.1,590 C603.55,590.6 607.85,591.75 612,592.5 C616.15,593.25 620.33,594 625,594.5 C629.67,595 635,595.2 640,595.5 C645,595.8 652.5,596.17 655,596.3" fill="none" stroke="#2a2a2a" stroke-width="0.55" stroke-opacity="0.85"/>
<path d="M536.6,596.3 C537.68,595.98 540.55,595.27 543.1,594.4 C545.65,593.53 549.33,592.55 551.9,591.1 C554.47,589.65 556.5,587.7 558.5,585.7 C560.5,583.7 562.08,581.3 563.9,579.1 C565.72,576.9 567.93,573.78 569.4,572.5 C570.87,571.22 571.42,570.85 572.7,571.4 C573.98,571.95 575.45,573.78 577.1,575.8 C578.75,577.82 580.45,581.38 582.6,583.5 C584.75,585.62 587.1,587.25 590,588.5 C592.9,589.75 596.33,590.25 600,591 C603.67,591.75 607,592.33 612,593 C617,593.67 623.67,594.45 630,595 C636.33,595.55 646.67,596.08 650,596.3 L650,596.3 L536.6,596.3Z" fill="#fed5ab" fill-opacity="0.72"/>
<path d="M536.6,596.3 C537.68,595.98 540.55,595.27 543.1,594.4 C545.65,593.53 549.33,592.55 551.9,591.1 C554.47,589.65 556.5,587.7 558.5,585.7 C560.5,583.7 562.08,581.3 563.9,579.1 C565.72,576.9 567.93,573.78 569.4,572.5 C570.87,571.22 571.42,570.85 572.7,571.4 C573.98,571.95 575.45,573.78 577.1,575.8 C578.75,577.82 580.45,581.38 582.6,583.5 C584.75,585.62 587.1,587.25 590,588.5 C592.9,589.75 596.33,590.25 600,591 C603.67,591.75 607,592.33 612,593 C617,593.67 623.67,594.45 630,595 C636.33,595.55 646.67,596.08 650,596.3" fill="none" stroke="#2a2a2a" stroke-width="0.55" stroke-opacity="0.85"/>
<path d="M551.9,596.3 C553,595.25 556.68,592.87 558.5,590 C560.32,587.13 561.53,582.57 562.8,579.1 C564.07,575.63 565,571.75 566.1,569.2 C567.2,566.65 568.55,564.97 569.4,563.8 C570.25,562.63 570.53,562.02 571.2,562.2 C571.87,562.38 572.6,563.18 573.4,564.9 C574.2,566.62 575.02,569.77 576,572.5 C576.98,575.23 578.03,578.82 579.3,581.3 C580.57,583.78 581.97,585.95 583.6,587.4 C585.23,588.85 587.08,589.48 589.1,590 C591.12,590.52 593.5,590.13 595.7,590.5 C597.9,590.87 599.75,591.73 602.3,592.2 C604.85,592.67 608.45,593 611,593.3 C613.55,593.6 615.05,593.73 617.6,594 C620.15,594.27 623.75,594.83 626.3,594.9 C628.85,594.97 630.33,594.3 632.9,594.4 C635.47,594.5 638.42,595.18 641.7,595.5 C644.98,595.82 650.78,596.17 652.6,596.3 L652.6,596.3 L551.9,596.3Z" fill="#fa8072" fill-opacity="0.72"/>
<path d="M551.9,596.3 C553,595.25 556.68,592.87 558.5,590 C560.32,587.13 561.53,582.57 562.8,579.1 C564.07,575.63 565,571.75 566.1,569.2 C567.2,566.65 568.55,564.97 569.4,563.8 C570.25,562.63 570.53,562.02 571.2,562.2 C571.87,562.38 572.6,563.18 573.4,564.9 C574.2,566.62 575.02,569.77 576,572.5 C576.98,575.23 578.03,578.82 579.3,581.3 C580.57,583.78 581.97,585.95 583.6,587.4 C585.23,588.85 587.08,589.48 589.1,590 C591.12,590.52 593.5,590.13 595.7,590.5 C597.9,590.87 599.75,591.73 602.3,592.2 C604.85,592.67 608.45,593 611,593.3 C613.55,593.6 615.05,593.73 617.6,594 C620.15,594.27 623.75,594.83 626.3,594.9 C628.85,594.97 630.33,594.3 632.9,594.4 C635.47,594.5 638.42,595.18 641.7,595.5 C644.98,595.82 650.78,596.17 652.6,596.3" fill="none" stroke="#2a2a2a" stroke-width="0.55" stroke-opacity="0.85"/>
<path d="M640,596.1 L672,596.1" stroke="#2a2a2a" stroke-width="0.7"/>
<line x1="540.5" y1="607.3" x2="619.3" y2="607.3" stroke="#6a6a6a" stroke-width="0.6"/>
<rect x="569.4" y="603.7" width="20.2" height="7.2" fill="#fff" fill-opacity="0.3" stroke="#4a4a4a" stroke-width="0.6"/>
<line x1="572.8" y1="603.7" x2="572.8" y2="610.9" stroke="#444" stroke-width="0.6"/>
<line x1="530" y1="607.3" x2="531.5" y2="607.3" stroke="#5a5a5a" stroke-width="0.6"/>
<line x1="542.3" y1="618.6" x2="603.5" y2="618.6" stroke="#6a6a6a" stroke-width="0.6"/>
<rect x="563.3" y="615" width="17.4" height="7.2" fill="#fff" fill-opacity="0.3" stroke="#4a4a4a" stroke-width="0.6"/>
<line x1="572.8" y1="615" x2="572.8" y2="622.2" stroke="#444" stroke-width="0.6"/>
<line x1="530" y1="618.6" x2="531.5" y2="618.6" stroke="#5a5a5a" stroke-width="0.6"/>
<line x1="544.9" y1="629.6" x2="617.5" y2="629.6" stroke="#6a6a6a" stroke-width="0.6"/>
<rect x="569.4" y="626" width="19.2" height="7.2" fill="#fff" fill-opacity="0.3" stroke="#4a4a4a" stroke-width="0.6"/>
<line x1="577.3" y1="626" x2="577.3" y2="633.2" stroke="#444" stroke-width="0.6"/>
<line x1="530" y1="629.6" x2="531.5" y2="629.6" stroke="#5a5a5a" stroke-width="0.6"/>
<path d="M530,555.4 L530,640.6 L677.1,640.6" fill="none" stroke="#5a5a5a" stroke-width="0.8"/>
<line x1="530" y1="562.6" x2="531.5" y2="562.6" stroke="#5a5a5a" stroke-width="0.6"/>
<text x="524.9" y="565.45" font-size="7.9" text-anchor="end" fill="#262626">75</text>
<text x="525.2" y="599.15" font-size="7.9" text-anchor="end" fill="#262626">0</text>
<line x1="546.3" y1="640.6" x2="546.3" y2="639.1" stroke="#5a5a5a" stroke-width="0.6"/>
<text x="546.3" y="652.4" font-size="7.9" text-anchor="middle" fill="#262626">0.04</text>
<line x1="578" y1="640.6" x2="578" y2="639.1" stroke="#5a5a5a" stroke-width="0.6"/>
<text x="578" y="652.4" font-size="7.9" text-anchor="middle" fill="#262626">0.06</text>
<line x1="611.4" y1="640.6" x2="611.4" y2="639.1" stroke="#5a5a5a" stroke-width="0.6"/>
<text x="611.4" y="652.4" font-size="7.9" text-anchor="middle" fill="#262626">0.08</text>
<line x1="644.3" y1="640.6" x2="644.3" y2="639.1" stroke="#5a5a5a" stroke-width="0.6"/>
<text x="644.3" y="652.4" font-size="7.9" text-anchor="middle" fill="#262626">0.1</text>
<text x="564.7" y="663.6" font-size="8.3" textLength="81.1" lengthAdjust="spacingAndGlyphs" fill="#262626">Redundancy efficiency</text>
<line x1="654" y1="606" x2="654" y2="619.9" stroke="#1a1a1a" stroke-width="1.3"/>
<path d="M660,610.5L660,615.1M658.01,611.65L661.99,613.95M661.99,611.65L658.01,613.95" stroke="#1a1a1a" stroke-width="0.75" fill="none"/>
<line x1="667.1" y1="618.6" x2="667.1" y2="632.2" stroke="#1a1a1a" stroke-width="1.3"/>
<path d="M673.2,622.8L673.2,627.4M671.21,623.95L675.19,626.25M675.19,623.95L671.21,626.25" stroke="#1a1a1a" stroke-width="0.75" fill="none"/>
<text transform="translate(14.9,432.7) rotate(-90)" font-size="8.2" fill="#262626" textLength="26.7" lengthAdjust="spacingAndGlyphs">Density</text>
<text transform="translate(14.9,589.8) rotate(-90)" font-size="8.2" fill="#262626" textLength="26.5" lengthAdjust="spacingAndGlyphs">Density</text>
<path d="M620.9,401.7L620.9,407.7M618.3,403.2L623.5,406.2M623.5,403.2L618.3,406.2" stroke="#1a1a1a" stroke-width="0.95" fill="none"/>
<text x="624.6" y="408.1" font-size="8.2" fill="#262626">: <tspan font-style="italic">p</tspan><tspan font-size="5" dy="1.3">HSD</tspan><tspan dy="-1.3"> &lt; 0.001</tspan></text>
<path d="M620.9,559L620.9,565M618.3,560.5L623.5,563.5M623.5,560.5L618.3,563.5" stroke="#1a1a1a" stroke-width="0.95" fill="none"/>
<text x="624.6" y="565.4" font-size="8.2" fill="#262626">: <tspan font-style="italic">p</tspan><tspan font-size="5" dy="1.3">HSD</tspan><tspan dy="-1.3"> &lt; 0.001</tspan></text>
</svg></body></html>
